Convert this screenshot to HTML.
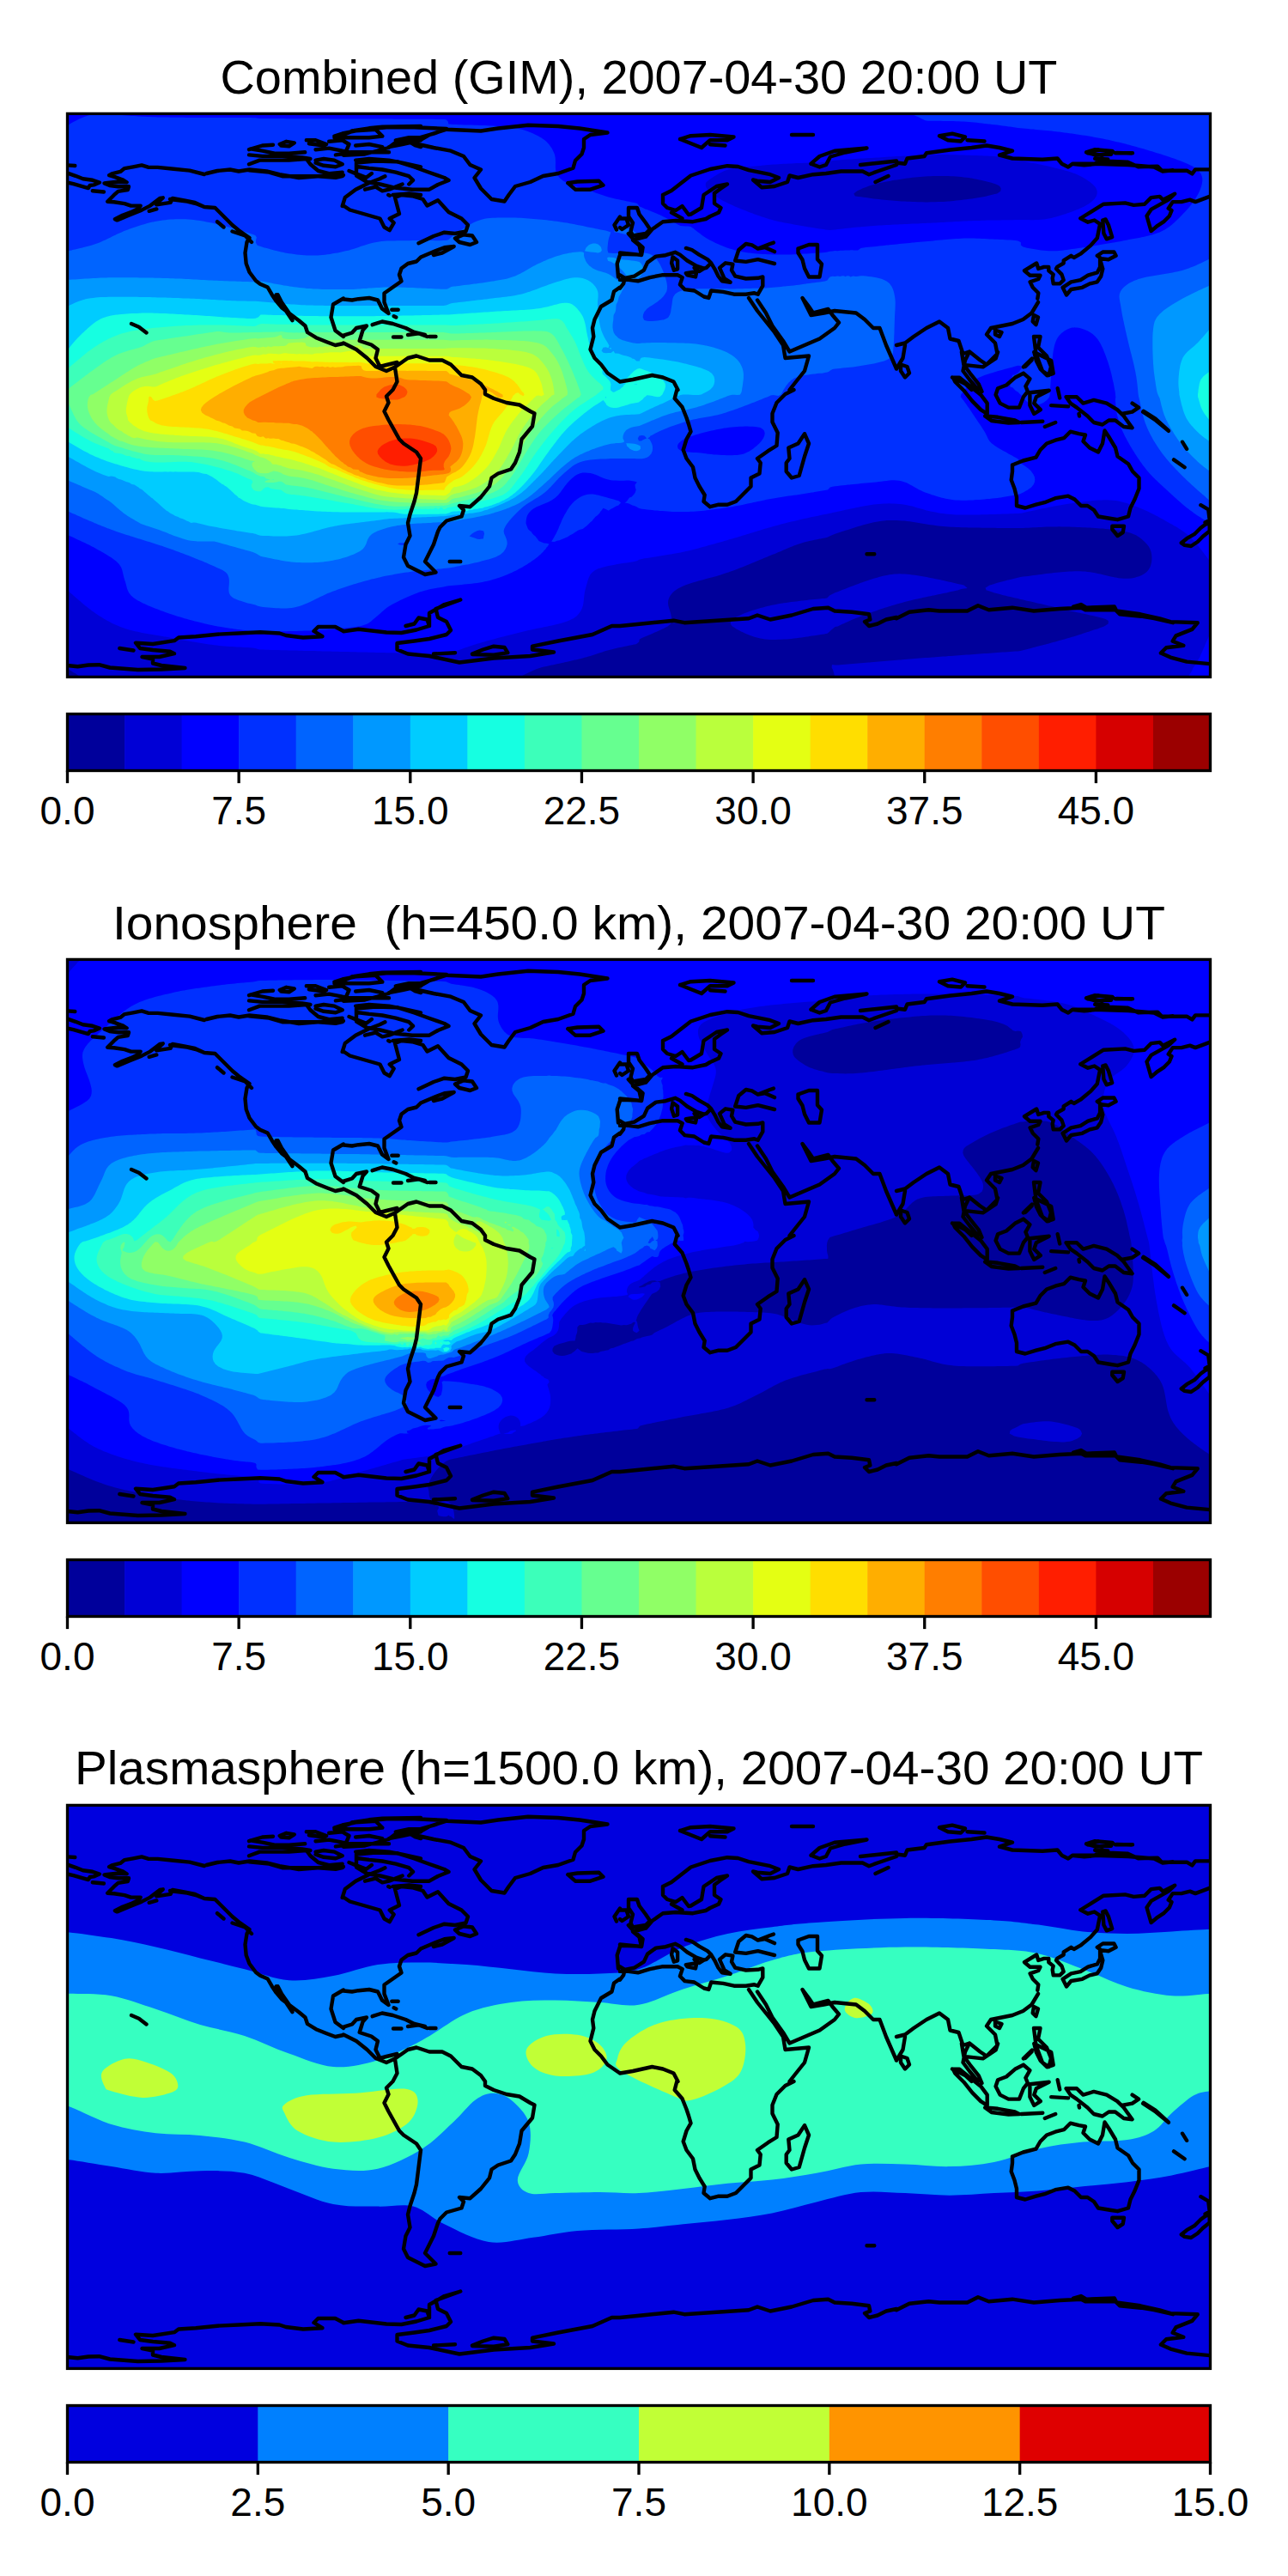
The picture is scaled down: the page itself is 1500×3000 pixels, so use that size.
<!DOCTYPE html><html><head><meta charset="utf-8"><style>html,body{margin:0;padding:0;background:#fff;}svg{display:block;}text{font-family:"Liberation Sans",sans-serif;fill:#000;}</style></head><body>
<svg xmlns="http://www.w3.org/2000/svg" width="1500" height="3000" viewBox="0 0 1500 3000">
<rect width="1500" height="3000" fill="#fff"/>
<defs><clipPath id="clip0"><rect x="78.5" y="132.4" width="1331.0" height="656.0"/></clipPath></defs>
<g clip-path="url(#clip0)">
<rect x="78.5" y="132.4" width="1331.0" height="656.0" fill="#0000ff"/>
<g transform="translate(78.5,132.4)"><rect x="-6" y="-6" width="1343.0" height="668.0" fill="#00009b"/><path d="M-6.0,-6.0L-3.0,-6.0L0.0,-6.0L3.0,-6.0L6.0,-6.0L9.0,-6.0L12.0,-6.0L15.0,-6.0L18.0,-6.0L21.0,-6.0L24.0,-6.0L27.0,-6.0L30.0,-6.0L33.0,-6.0L36.0,-6.0L39.0,-6.0L42.0,-6.0L45.0,-6.0L48.0,-6.0L51.0,-6.0L54.0,-6.0L57.0,-6.0L60.0,-6.0L63.0,-6.0L66.0,-6.0L69.0,-6.0L72.0,-6.0L75.0,-6.0L78.0,-6.0L81.0,-6.0L84.0,-6.0L87.0,-6.0L90.0,-6.0L93.0,-6.0L96.0,-6.0L99.0,-6.0L102.0,-6.0L105.0,-6.0L108.0,-6.0L111.0,-6.0L114.0,-6.0L117.0,-6.0L120.0,-6.0L123.0,-6.0L126.0,-6.0L129.0,-6.0L132.0,-6.0L135.0,-6.0L138.0,-6.0L141.0,-6.0L144.0,-6.0L147.0,-6.0L150.0,-6.0L153.0,-6.0L156.0,-6.0L159.0,-6.0L162.0,-6.0L165.0,-6.0L168.0,-6.0L171.0,-6.0L174.0,-6.0L177.0,-6.0L180.0,-6.0L183.0,-6.0L186.0,-6.0L189.0,-6.0L192.0,-6.0L195.0,-6.0L198.0,-6.0L201.0,-6.0L204.0,-6.0L207.0,-6.0L210.0,-6.0L213.0,-6.0L216.0,-6.0L219.0,-6.0L222.0,-6.0L225.0,-6.0L228.0,-6.0L231.0,-6.0L234.0,-6.0L237.0,-6.0L240.0,-6.0L243.0,-6.0L246.0,-6.0L249.0,-6.0L252.0,-6.0L255.0,-6.0L258.0,-6.0L261.0,-6.0L264.0,-6.0L267.0,-6.0L270.0,-6.0L273.0,-6.0L276.0,-6.0L279.0,-6.0L282.0,-6.0L285.0,-6.0L288.0,-6.0L291.0,-6.0L294.0,-6.0L297.0,-6.0L300.0,-6.0L303.0,-6.0L306.0,-6.0L309.0,-6.0L312.0,-6.0L315.0,-6.0L318.0,-6.0L321.0,-6.0L324.0,-6.0L327.0,-6.0L330.0,-6.0L333.0,-6.0L336.0,-6.0L339.0,-6.0L342.0,-6.0L345.0,-6.0L348.0,-6.0L351.0,-6.0L354.0,-6.0L357.0,-6.0L360.0,-6.0L363.0,-6.0L366.0,-6.0L369.0,-6.0L372.0,-6.0L375.0,-6.0L378.0,-6.0L381.0,-6.0L384.0,-6.0L387.0,-6.0L390.0,-6.0L393.0,-6.0L396.0,-6.0L399.0,-6.0L402.0,-6.0L405.0,-6.0L408.0,-6.0L411.0,-6.0L414.0,-6.0L417.0,-6.0L420.0,-6.0L423.0,-6.0L426.0,-6.0L429.0,-6.0L432.0,-6.0L435.0,-6.0L438.0,-6.0L441.0,-6.0L444.0,-6.0L447.0,-6.0L450.0,-6.0L453.0,-6.0L456.0,-6.0L459.0,-6.0L462.0,-6.0L465.0,-6.0L468.0,-6.0L471.0,-6.0L474.0,-6.0L477.0,-6.0L480.0,-6.0L483.0,-6.0L486.0,-6.0L489.0,-6.0L492.0,-6.0L495.0,-6.0L498.0,-6.0L501.0,-6.0L504.0,-6.0L507.0,-6.0L510.0,-6.0L513.0,-6.0L516.0,-6.0L519.0,-6.0L522.0,-6.0L525.0,-6.0L528.0,-6.0L531.0,-6.0L534.0,-6.0L537.0,-6.0L540.0,-6.0L543.0,-6.0L546.0,-6.0L549.0,-6.0L552.0,-6.0L555.0,-6.0L558.0,-6.0L561.0,-6.0L564.0,-6.0L567.0,-6.0L570.0,-6.0L573.0,-6.0L576.0,-6.0L579.0,-6.0L582.0,-6.0L585.0,-6.0L588.0,-6.0L591.0,-6.0L594.0,-6.0L597.0,-6.0L600.0,-6.0L603.0,-6.0L606.0,-6.0L609.0,-6.0L612.0,-6.0L615.0,-6.0L618.0,-6.0L621.0,-6.0L624.0,-6.0L627.0,-6.0L630.0,-6.0L633.0,-6.0L636.0,-6.0L639.0,-6.0L642.0,-6.0L645.0,-6.0L648.0,-6.0L651.0,-6.0L654.0,-6.0L657.0,-6.0L660.0,-6.0L663.0,-6.0L666.0,-6.0L669.0,-6.0L672.0,-6.0L675.0,-6.0L678.0,-6.0L681.0,-6.0L684.0,-6.0L687.0,-6.0L690.0,-6.0L693.0,-6.0L696.0,-6.0L699.0,-6.0L702.0,-6.0L705.0,-6.0L708.0,-6.0L711.0,-6.0L714.0,-6.0L717.0,-6.0L720.0,-6.0L723.0,-6.0L726.0,-6.0L729.0,-6.0L732.0,-6.0L735.0,-6.0L738.0,-6.0L741.0,-6.0L744.0,-6.0L747.0,-6.0L750.0,-6.0L753.0,-6.0L756.0,-6.0L759.0,-6.0L762.0,-6.0L765.0,-6.0L768.0,-6.0L771.0,-6.0L774.0,-6.0L777.0,-6.0L780.0,-6.0L783.0,-6.0L786.0,-6.0L789.0,-6.0L792.0,-6.0L795.0,-6.0L798.0,-6.0L801.0,-6.0L804.0,-6.0L807.0,-6.0L810.0,-6.0L813.0,-6.0L816.0,-6.0L819.0,-6.0L822.0,-6.0L825.0,-6.0L828.0,-6.0L831.0,-6.0L834.0,-6.0L837.0,-6.0L840.0,-6.0L843.0,-6.0L846.0,-6.0L849.0,-6.0L852.0,-6.0L855.0,-6.0L858.0,-6.0L861.0,-6.0L864.0,-6.0L867.0,-6.0L870.0,-6.0L873.0,-6.0L876.0,-6.0L879.0,-6.0L882.0,-6.0L885.0,-6.0L888.0,-6.0L891.0,-6.0L894.0,-6.0L897.0,-6.0L900.0,-6.0L903.0,-6.0L906.0,-6.0L909.0,-6.0L912.0,-6.0L915.0,-6.0L918.0,-6.0L921.0,-6.0L924.0,-6.0L927.0,-6.0L930.0,-6.0L933.0,-6.0L936.0,-6.0L939.0,-6.0L942.0,-6.0L945.0,-6.0L948.0,-6.0L951.0,-6.0L954.0,-6.0L957.0,-6.0L960.0,-6.0L963.0,-6.0L966.0,-6.0L969.0,-6.0L972.0,-6.0L975.0,-6.0L978.0,-6.0L981.0,-6.0L984.0,-6.0L987.0,-6.0L990.0,-6.0L993.0,-6.0L996.0,-6.0L999.0,-6.0L1002.0,-6.0L1005.0,-6.0L1008.0,-6.0L1011.0,-6.0L1014.0,-6.0L1017.0,-6.0L1020.0,-6.0L1023.0,-6.0L1026.0,-6.0L1029.0,-6.0L1032.0,-6.0L1035.0,-6.0L1038.0,-6.0L1041.0,-6.0L1044.0,-6.0L1047.0,-6.0L1050.0,-6.0L1053.0,-6.0L1056.0,-6.0L1059.0,-6.0L1062.0,-6.0L1065.0,-6.0L1068.0,-6.0L1071.0,-6.0L1074.0,-6.0L1077.0,-6.0L1080.0,-6.0L1083.0,-6.0L1086.0,-6.0L1089.0,-6.0L1092.0,-6.0L1095.0,-6.0L1098.0,-6.0L1101.0,-6.0L1104.0,-6.0L1107.0,-6.0L1110.0,-6.0L1113.0,-6.0L1116.0,-6.0L1119.0,-6.0L1122.0,-6.0L1125.0,-6.0L1128.0,-6.0L1131.0,-6.0L1134.0,-6.0L1137.0,-6.0L1140.0,-6.0L1143.0,-6.0L1146.0,-6.0L1149.0,-6.0L1152.0,-6.0L1155.0,-6.0L1158.0,-6.0L1161.0,-6.0L1164.0,-6.0L1167.0,-6.0L1170.0,-6.0L1173.0,-6.0L1176.0,-6.0L1179.0,-6.0L1182.0,-6.0L1185.0,-6.0L1188.0,-6.0L1191.0,-6.0L1194.0,-6.0L1197.0,-6.0L1200.0,-6.0L1203.0,-6.0L1206.0,-6.0L1209.0,-6.0L1212.0,-6.0L1215.0,-6.0L1218.0,-6.0L1221.0,-6.0L1224.0,-6.0L1227.0,-6.0L1230.0,-6.0L1233.0,-6.0L1236.0,-6.0L1239.0,-6.0L1242.0,-6.0L1245.0,-6.0L1248.0,-6.0L1251.0,-6.0L1254.0,-6.0L1257.0,-6.0L1260.0,-6.0L1263.0,-6.0L1266.0,-6.0L1269.0,-6.0L1272.0,-6.0L1275.0,-6.0L1278.0,-6.0L1281.0,-6.0L1284.0,-6.0L1287.0,-6.0L1290.0,-6.0L1293.0,-6.0L1296.0,-6.0L1299.0,-6.0L1302.0,-6.0L1305.0,-6.0L1308.0,-6.0L1311.0,-6.0L1314.0,-6.0L1317.0,-6.0L1320.0,-6.0L1323.0,-6.0L1326.0,-6.0L1329.0,-6.0L1332.0,-6.0L1335.0,-6.0L1338.0,-6.0L1338.0,-3.0L1338.0,0.0L1338.0,3.0L1338.0,6.0L1338.0,9.0L1338.0,12.0L1338.0,15.0L1338.0,18.0L1338.0,21.0L1338.0,24.0L1338.0,27.0L1338.0,30.0L1338.0,33.0L1338.0,36.0L1338.0,39.0L1338.0,42.0L1338.0,45.0L1338.0,48.0L1338.0,51.0L1338.0,54.0L1338.0,57.0L1338.0,60.0L1338.0,63.0L1338.0,66.0L1338.0,69.0L1338.0,72.0L1338.0,75.0L1338.0,78.0L1338.0,81.0L1338.0,84.0L1338.0,87.0L1338.0,90.0L1338.0,93.0L1338.0,96.0L1338.0,99.0L1338.0,102.0L1338.0,105.0L1338.0,108.0L1338.0,111.0L1338.0,114.0L1338.0,117.0L1338.0,120.0L1338.0,123.0L1338.0,126.0L1338.0,129.0L1338.0,132.0L1338.0,135.0L1338.0,138.0L1338.0,141.0L1338.0,144.0L1338.0,147.0L1338.0,150.0L1338.0,153.0L1338.0,156.0L1338.0,159.0L1338.0,162.0L1338.0,165.0L1338.0,168.0L1338.0,171.0L1338.0,174.0L1338.0,177.0L1338.0,180.0L1338.0,183.0L1338.0,186.0L1338.0,189.0L1338.0,192.0L1338.0,195.0L1338.0,198.0L1338.0,201.0L1338.0,204.0L1338.0,207.0L1338.0,210.0L1338.0,213.0L1338.0,216.0L1338.0,219.0L1338.0,222.0L1338.0,225.0L1338.0,228.0L1338.0,231.0L1338.0,234.0L1338.0,237.0L1338.0,240.0L1338.0,243.0L1338.0,246.0L1338.0,249.0L1338.0,252.0L1338.0,255.0L1338.0,258.0L1338.0,261.0L1338.0,264.0L1338.0,267.0L1338.0,270.0L1338.0,273.0L1338.0,276.0L1338.0,279.0L1338.0,282.0L1338.0,285.0L1338.0,288.0L1338.0,291.0L1338.0,294.0L1338.0,297.0L1338.0,300.0L1338.0,303.0L1338.0,306.0L1338.0,309.0L1338.0,312.0L1338.0,315.0L1338.0,318.0L1338.0,321.0L1338.0,324.0L1338.0,327.0L1338.0,330.0L1338.0,333.0L1338.0,336.0L1338.0,339.0L1338.0,342.0L1338.0,345.0L1338.0,348.0L1338.0,351.0L1338.0,354.0L1338.0,357.0L1338.0,360.0L1338.0,363.0L1338.0,366.0L1338.0,369.0L1338.0,372.0L1338.0,375.0L1338.0,378.0L1338.0,381.0L1338.0,384.0L1338.0,387.0L1338.0,390.0L1338.0,393.0L1338.0,396.0L1338.0,399.0L1338.0,402.0L1338.0,405.0L1338.0,408.0L1338.0,411.0L1338.0,414.0L1338.0,417.0L1338.0,420.0L1338.0,423.0L1338.0,426.0L1338.0,429.0L1338.0,432.0L1338.0,435.0L1338.0,438.0L1338.0,441.0L1338.0,444.0L1338.0,447.0L1338.0,450.0L1338.0,453.0L1338.0,456.0L1338.0,459.0L1338.0,462.0L1338.0,465.0L1338.0,468.0L1338.0,471.0L1338.0,474.0L1338.0,477.0L1338.0,480.0L1338.0,483.0L1338.0,486.0L1338.0,489.0L1338.0,492.0L1338.0,495.0L1338.0,498.0L1338.0,501.0L1338.0,504.0L1338.0,507.0L1338.0,510.0L1338.0,513.0L1338.0,516.0L1338.0,519.0L1338.0,522.0L1338.0,525.0L1338.0,528.0L1338.0,531.0L1338.0,534.0L1338.0,537.0L1338.0,540.0L1338.0,543.0L1338.0,546.0L1338.0,549.0L1338.0,552.0L1338.0,555.0L1338.0,558.0L1338.0,561.0L1338.0,564.0L1338.0,567.0L1338.0,570.0L1338.0,573.0L1338.0,576.0L1338.0,579.0L1338.0,582.0L1338.0,585.0L1338.0,588.0L1338.0,591.0L1338.0,594.0L1338.0,597.0L1338.0,600.0L1338.0,603.0L1338.0,606.0L1338.0,609.0L1338.0,612.0L1338.0,615.0L1338.0,618.0L1338.0,621.0L1338.0,624.0L1338.0,627.0L1338.0,630.0L1338.0,633.0L1338.0,636.0L1338.0,639.0L1338.0,642.0L1338.0,645.0L1338.0,648.0L1338.0,651.0L1338.0,654.0L1338.0,657.0L1338.0,660.0L1338.0,663.0L1335.0,663.0L1332.0,663.0L1329.0,663.0L1326.0,663.0L1323.0,663.0L1320.0,663.0L1317.0,663.0L1314.0,663.0L1311.0,663.0L1308.0,663.0L1305.0,663.0L1302.0,663.0L1299.0,663.0L1296.0,663.0L1293.0,663.0L1290.0,663.0L1287.0,663.0L1284.0,663.0L1281.0,663.0L1278.0,663.0L1275.0,663.0L1272.0,663.0L1269.0,663.0L1266.0,663.0L1263.0,663.0L1260.0,663.0L1257.0,663.0L1254.0,663.0L1251.0,663.0L1248.0,663.0L1245.0,663.0L1242.0,663.0L1239.0,663.0L1236.0,663.0L1233.0,663.0L1230.0,663.0L1227.0,663.0L1224.0,663.0L1221.0,663.0L1218.0,663.0L1215.0,663.0L1212.0,663.0L1209.0,663.0L1206.0,663.0L1203.0,663.0L1200.0,663.0L1197.0,663.0L1194.0,663.0L1191.0,663.0L1188.0,663.0L1185.0,663.0L1182.0,663.0L1179.0,663.0L1176.0,663.0L1173.0,663.0L1170.0,663.0L1167.0,663.0L1164.0,663.0L1161.0,663.0L1158.0,663.0L1155.0,663.0L1152.0,663.0L1149.0,663.0L1146.0,663.0L1143.0,663.0L1140.0,663.0L1137.0,663.0L1134.0,663.0L1131.0,663.0L1128.0,663.0L1125.0,663.0L1122.0,663.0L1119.0,663.0L1116.0,663.0L1113.0,663.0L1110.0,663.0L1107.0,663.0L1104.0,663.0L1101.0,663.0L1098.0,663.0L1095.0,663.0L1092.0,663.0L1089.0,663.0L1086.0,663.0L1083.0,663.0L1080.0,663.0L1077.0,663.0L1074.0,663.0L1071.0,663.0L1068.0,663.0L1065.0,663.0L1062.0,663.0L1059.0,663.0L1056.0,663.0L1053.0,663.0L1050.0,663.0L1047.0,663.0L1044.0,663.0L1041.0,663.0L1038.0,663.0L1035.0,663.0L1032.0,663.0L1029.0,663.0L1026.0,663.0L1023.0,663.0L1020.0,663.0L1017.0,663.0L1014.0,663.0L1011.0,663.0L1008.0,663.0L1005.0,663.0L1002.0,663.0L999.0,663.0L996.0,663.0L993.0,663.0L990.0,663.0L987.0,663.0L984.0,663.0L981.0,663.0L978.0,663.0L975.0,663.0L972.0,663.0L969.0,663.0L966.0,663.0L963.0,663.0L960.0,663.0L957.0,663.0L954.0,663.0L951.0,663.0L948.0,663.0L945.0,663.0L942.0,663.0L939.0,663.0L936.0,663.0L933.0,663.0L930.0,663.0L927.0,663.0L924.0,663.0L921.0,663.0L918.0,663.0L915.0,663.0L912.0,663.0L909.0,663.0L906.0,663.0L903.0,663.0L900.0,663.0L897.0,663.0L894.0,663.0L893.6,663.0L893.7,660.0L893.6,657.0L893.3,654.0L892.6,651.0L891.6,648.0L891.0,646.7L890.1,645.0L890.4,642.0L891.0,641.6L893.9,642.0L894.0,642.0L897.0,642.1L898.1,642.0L900.0,641.9L903.0,641.6L906.0,641.4L909.0,641.1L912.0,640.8L915.0,640.6L918.0,640.3L921.0,640.1L924.0,639.9L927.0,639.6L930.0,639.4L933.0,639.1L934.5,639.0L936.0,638.9L939.0,638.6L942.0,638.4L945.0,638.1L948.0,637.8L951.0,637.6L954.0,637.3L957.0,637.1L960.0,636.9L963.0,636.6L966.0,636.4L969.0,636.1L970.6,636.0L972.0,635.9L975.0,635.6L978.0,635.4L981.0,635.1L984.0,634.9L987.0,634.6L990.0,634.4L993.0,634.2L996.0,633.9L999.0,633.7L1002.0,633.5L1005.0,633.3L1008.0,633.1L1009.3,633.0L1011.0,632.9L1014.0,632.6L1017.0,632.4L1020.0,632.2L1023.0,632.0L1026.0,631.7L1029.0,631.5L1032.0,631.3L1035.0,631.1L1038.0,630.9L1041.0,630.7L1044.0,630.4L1047.0,630.2L1050.0,630.0L1050.3,630.0L1053.0,629.8L1056.0,629.6L1059.0,629.4L1062.0,629.1L1065.0,628.9L1068.0,628.7L1071.0,628.5L1074.0,628.3L1077.0,628.1L1080.0,627.8L1083.0,627.6L1086.0,627.4L1089.0,627.2L1092.0,627.0L1092.3,627.0L1095.0,626.8L1098.0,626.6L1101.0,626.4L1104.0,626.2L1107.0,626.0L1110.0,625.6L1113.0,624.9L1116.0,624.0L1116.2,624.0L1119.0,623.3L1122.0,622.5L1125.0,621.7L1127.7,621.0L1128.0,620.9L1131.0,620.2L1134.0,619.4L1137.0,618.6L1139.2,618.0L1140.0,617.8L1143.0,617.0L1146.0,616.2L1149.0,615.4L1150.4,615.0L1152.0,614.6L1155.0,613.7L1158.0,612.9L1161.0,612.0L1161.2,612.0L1164.0,611.2L1167.0,610.3L1170.0,609.4L1171.5,609.0L1173.0,608.5L1176.0,607.5L1179.0,606.6L1181.0,606.0L1182.0,605.6L1185.0,604.6L1188.0,603.7L1190.4,603.0L1191.0,602.7L1194.0,601.7L1197.0,600.7L1199.6,600.0L1200.0,599.8L1203.0,598.6L1206.0,597.5L1207.3,597.0L1209.0,596.0L1212.0,594.1L1212.1,594.0L1212.4,591.0L1212.0,590.4L1209.0,588.6L1207.4,588.0L1206.0,587.6L1203.0,586.8L1200.0,586.0L1197.0,585.3L1196.1,585.0L1194.0,584.6L1191.0,584.0L1188.0,583.3L1185.0,582.7L1182.0,582.0L1181.9,582.0L1179.0,581.4L1176.0,580.8L1173.0,580.2L1170.0,579.6L1167.6,579.0L1167.0,578.9L1164.0,578.2L1161.0,577.4L1158.0,576.7L1155.1,576.0L1155.0,576.0L1152.0,575.2L1149.0,574.4L1146.0,573.7L1143.0,573.1L1142.6,573.0L1140.0,572.3L1137.0,571.6L1134.0,570.9L1131.0,570.3L1129.5,570.0L1128.0,569.6L1125.0,568.9L1122.0,568.2L1119.0,567.5L1116.3,567.0L1116.0,566.9L1113.0,566.2L1110.0,565.5L1107.0,564.7L1104.0,564.0L1103.9,564.0L1101.0,563.4L1098.0,562.7L1095.0,562.0L1092.0,561.2L1091.1,561.0L1089.0,560.5L1086.0,559.7L1083.0,558.9L1080.0,558.1L1079.6,558.0L1077.0,557.2L1074.0,556.1L1071.0,555.2L1070.2,555.0L1069.1,552.0L1071.0,551.1L1074.0,549.1L1074.2,549.0L1077.0,548.3L1080.0,547.4L1083.0,546.4L1083.9,546.0L1086.0,545.5L1089.0,544.8L1092.0,544.1L1095.0,543.2L1095.7,543.0L1098.0,542.5L1101.0,541.9L1104.0,541.1L1107.0,540.3L1108.0,540.0L1110.0,539.6L1113.0,539.2L1116.0,538.9L1119.0,538.5L1122.0,538.1L1125.0,537.7L1128.0,537.3L1129.8,537.0L1131.0,536.9L1134.0,536.5L1137.0,536.1L1140.0,535.7L1143.0,535.4L1146.0,535.0L1149.0,534.7L1152.0,534.4L1155.0,534.0L1155.3,534.0L1158.0,533.8L1161.0,533.5L1164.0,533.3L1167.0,533.1L1170.0,533.0L1173.0,532.9L1176.0,532.8L1179.0,532.8L1182.0,533.0L1185.0,533.2L1188.0,533.5L1191.0,533.8L1192.3,534.0L1194.0,534.3L1197.0,534.9L1200.0,535.5L1203.0,536.2L1206.0,536.8L1206.9,537.0L1209.0,537.5L1212.0,538.3L1215.0,539.0L1218.0,539.6L1220.0,540.0L1221.0,540.2L1224.0,540.8L1227.0,541.2L1230.0,541.4L1233.0,541.4L1236.0,541.3L1239.0,541.0L1242.0,540.5L1243.9,540.0L1245.0,539.7L1248.0,538.8L1251.0,537.5L1251.9,537.0L1254.0,535.8L1256.4,534.0L1257.0,533.5L1259.1,531.0L1260.0,529.7L1260.9,528.0L1261.9,525.0L1262.6,522.0L1262.9,519.0L1262.9,516.0L1262.6,513.0L1262.0,510.0L1260.9,507.0L1260.0,505.3L1259.3,504.0L1257.0,501.1L1256.9,501.0L1254.0,498.0L1254.0,498.0L1251.0,495.3L1250.6,495.0L1248.0,493.1L1246.3,492.0L1245.0,491.2L1242.0,489.8L1240.2,489.0L1239.0,488.6L1236.0,487.7L1233.0,486.9L1230.0,486.2L1229.2,486.0L1227.0,485.6L1224.0,485.2L1221.0,484.8L1218.0,484.5L1215.0,484.1L1212.0,483.8L1209.0,483.5L1206.0,483.2L1203.0,483.0L1202.9,483.0L1200.0,482.8L1197.0,482.6L1194.0,482.4L1191.0,482.2L1188.0,482.1L1185.0,481.9L1182.0,481.8L1179.0,481.6L1176.0,481.5L1173.0,481.4L1170.0,481.3L1167.0,481.2L1164.0,481.1L1161.0,481.0L1158.0,481.0L1155.0,480.9L1152.0,481.0L1149.0,481.0L1146.0,481.0L1143.0,481.1L1140.0,481.2L1137.0,481.3L1134.0,481.5L1131.0,481.6L1128.0,481.8L1125.0,481.9L1122.0,482.1L1119.0,482.3L1116.0,482.4L1113.0,482.6L1110.0,482.7L1107.0,482.7L1104.0,482.7L1101.0,482.6L1098.0,482.6L1095.0,482.6L1092.0,482.6L1089.0,482.5L1086.0,482.5L1083.0,482.5L1080.0,482.4L1077.0,482.4L1074.0,482.4L1071.0,482.3L1068.0,482.3L1065.0,482.3L1062.0,482.2L1059.0,482.2L1056.0,482.1L1053.0,482.1L1050.0,482.0L1047.0,481.9L1044.0,481.8L1041.0,481.8L1038.0,481.7L1035.0,481.5L1032.0,481.4L1029.0,481.3L1026.0,481.1L1023.0,480.9L1020.0,480.6L1017.0,480.3L1014.2,480.0L1014.0,480.0L1011.0,479.6L1008.0,479.2L1005.0,478.8L1002.0,478.3L999.0,477.8L996.0,477.3L994.4,477.0L993.0,476.8L990.0,476.3L987.0,475.8L984.0,475.3L981.0,474.9L978.0,474.5L975.0,474.2L972.1,474.0L972.0,474.0L969.0,473.8L966.0,473.7L963.0,473.6L960.0,473.5L957.0,473.6L954.0,473.7L951.0,474.0L950.6,474.0L948.0,474.3L945.0,474.8L942.0,475.3L939.0,475.9L936.0,476.6L934.1,477.0L933.0,477.3L930.0,478.1L927.0,478.9L924.0,479.8L923.2,480.0L921.0,480.7L918.0,481.6L915.0,482.5L913.4,483.0L912.0,483.5L909.0,484.5L906.0,485.4L904.0,486.0L903.0,486.4L900.0,487.4L897.0,488.4L894.8,489.0L894.0,489.3L891.0,490.5L888.0,491.8L887.6,492.0L885.0,493.4L882.0,494.2L879.0,494.7L877.1,495.0L876.0,495.2L873.0,495.8L870.0,496.4L867.0,497.0L864.0,497.6L862.4,498.0L861.0,498.4L858.0,499.2L855.0,500.1L852.0,501.0L851.9,501.0L849.0,502.1L846.0,503.2L843.9,504.0L843.0,504.4L840.0,505.7L837.0,506.9L836.7,507.0L834.0,508.2L831.0,509.5L829.7,510.0L828.0,510.7L825.0,512.0L822.5,513.0L822.0,513.2L819.0,514.4L816.0,515.6L815.1,516.0L813.0,516.9L810.0,518.1L807.9,519.0L807.0,519.4L804.0,520.6L801.0,521.8L800.6,522.0L798.0,523.1L795.0,524.3L793.4,525.0L792.0,525.5L789.0,526.8L786.0,528.0L785.9,528.0L783.0,529.1L780.0,530.3L778.2,531.0L777.0,531.5L774.0,532.6L771.0,533.7L770.1,534.0L768.0,534.7L765.0,535.7L762.0,536.7L760.9,537.0L759.0,537.6L756.0,538.5L753.0,539.3L750.3,540.0L750.0,540.1L747.0,540.9L744.0,541.7L741.0,542.5L739.1,543.0L738.0,543.3L735.0,544.2L732.0,545.0L729.0,545.8L728.3,546.0L726.0,546.8L723.0,547.8L720.0,548.8L719.5,549.0L717.0,550.1L714.0,551.5L713.0,552.0L711.0,553.2L708.1,555.0L708.0,555.1L705.0,557.6L704.6,558.0L702.2,561.0L702.0,561.3L700.6,564.0L699.7,567.0L699.5,570.0L699.9,573.0L700.7,576.0L701.7,579.0L702.0,580.0L702.6,582.0L703.2,585.0L703.8,588.0L703.9,591.0L702.6,594.0L702.0,594.6L699.1,597.0L699.0,597.1L696.0,598.7L693.5,600.0L693.0,600.2L690.0,601.6L687.0,602.9L686.9,603.0L684.0,604.2L681.0,605.5L679.8,606.0L678.0,606.8L675.0,608.0L672.5,609.0L672.0,609.3L669.0,610.7L666.3,612.0L666.0,613.3L665.8,615.0L663.0,617.4L661.4,618.0L660.0,618.2L657.0,618.8L654.0,619.4L651.0,620.0L648.0,620.6L646.4,621.0L645.0,621.3L642.0,621.9L639.0,622.6L636.0,623.3L633.3,624.0L633.0,624.1L630.0,624.9L627.0,625.7L624.0,626.7L623.0,627.0L621.0,627.6L618.0,628.6L615.0,629.6L613.6,630.0L612.0,630.5L609.0,631.5L606.0,632.4L603.8,633.0L603.0,633.2L600.0,634.0L597.0,634.8L594.0,635.5L592.0,636.0L591.0,636.2L588.0,636.9L585.0,637.6L582.0,638.3L579.0,638.9L578.8,639.0L576.0,639.6L573.0,640.3L570.0,640.9L567.0,641.5L564.8,642.0L564.0,642.2L561.0,642.8L558.0,643.5L555.0,644.1L552.0,644.8L551.3,645.0L549.0,645.8L546.0,646.9L543.3,648.0L543.0,648.1L540.0,649.5L537.0,650.9L536.8,651.0L534.0,652.4L531.0,653.8L530.6,654.0L528.0,655.3L525.0,655.8L522.0,656.4L520.5,657.0L519.0,657.7L516.0,658.8L513.0,660.0L512.9,660.0L510.0,661.1L507.0,662.2L504.9,663.0L504.0,663.0L501.0,663.0L498.0,663.0L495.0,663.0L492.0,663.0L489.0,663.0L486.0,663.0L483.0,663.0L480.0,663.0L477.0,663.0L474.0,663.0L471.0,663.0L468.0,663.0L465.0,663.0L462.0,663.0L459.0,663.0L456.0,663.0L453.0,663.0L450.0,663.0L447.0,663.0L444.0,663.0L441.0,663.0L438.0,663.0L435.0,663.0L432.0,663.0L429.0,663.0L426.0,663.0L423.0,663.0L420.0,663.0L417.0,663.0L414.0,663.0L411.0,663.0L408.0,663.0L405.0,663.0L402.0,663.0L399.0,663.0L396.0,663.0L393.0,663.0L390.0,663.0L387.0,663.0L384.0,663.0L381.0,663.0L378.0,663.0L375.0,663.0L372.0,663.0L369.0,663.0L366.0,663.0L363.3,663.0L363.0,662.9L360.0,662.4L357.0,661.9L354.0,661.4L351.0,661.0L348.0,661.0L345.0,660.5L342.0,660.1L341.3,660.0L339.0,659.7L336.0,659.4L333.0,659.1L330.0,658.7L327.0,658.5L324.0,658.2L321.0,657.9L318.0,657.7L315.0,657.6L312.0,657.4L309.0,657.3L306.0,657.2L303.0,657.1L300.0,657.0L298.5,657.0L297.0,657.0L294.0,657.0L291.0,657.0L288.0,657.0L285.0,657.0L282.0,656.9L281.9,657.0L279.0,658.4L276.0,658.4L273.0,658.5L270.0,658.5L267.0,658.6L264.0,658.6L261.0,658.6L258.0,658.6L255.0,658.5L252.0,658.6L249.0,658.5L246.0,658.5L243.0,658.6L240.0,658.6L237.0,658.7L234.0,658.8L231.0,658.9L228.0,659.0L225.0,659.1L222.0,659.2L219.0,659.3L216.0,659.5L213.0,659.6L210.0,659.8L207.1,660.0L207.0,660.0L204.0,660.3L201.0,660.6L198.0,661.0L195.0,661.5L192.0,662.1L189.0,662.8L188.2,663.0L186.0,663.0L183.0,663.0L180.0,663.0L177.0,663.0L174.0,663.0L171.0,663.0L168.0,663.0L165.0,663.0L162.0,663.0L159.0,663.0L156.0,663.0L153.0,663.0L150.0,663.0L147.0,663.0L144.0,663.0L141.0,663.0L138.0,663.0L135.0,663.0L132.0,663.0L129.0,663.0L126.0,663.0L123.0,663.0L120.0,663.0L117.0,663.0L114.0,663.0L111.0,663.0L108.0,663.0L105.0,663.0L102.0,663.0L99.0,663.0L96.0,663.0L93.0,663.0L90.0,663.0L87.0,663.0L84.0,663.0L81.0,663.0L78.0,663.0L75.0,663.0L72.0,663.0L69.0,663.0L66.0,663.0L63.0,663.0L60.0,663.0L57.0,663.0L54.0,663.0L51.0,663.0L48.0,663.0L45.0,663.0L42.0,663.0L39.0,663.0L36.0,663.0L33.0,663.0L30.0,663.0L27.0,663.0L24.0,663.0L23.6,663.0L21.8,660.0L21.0,658.8L18.0,657.4L17.4,657.0L15.0,655.6L12.3,654.0L12.0,653.8L9.0,651.7L7.5,651.0L6.0,650.2L3.0,648.2L2.7,648.0L0.0,646.0L-2.1,645.0L-3.0,644.6L-6.0,642.3L-6.0,642.0L-6.0,639.0L-6.0,636.0L-6.0,633.0L-6.0,630.0L-6.0,627.0L-6.0,624.0L-6.0,621.0L-6.0,618.0L-6.0,615.0L-6.0,612.0L-6.0,609.0L-6.0,606.0L-6.0,603.0L-6.0,600.0L-6.0,597.0L-6.0,594.0L-6.0,591.0L-6.0,588.0L-6.0,585.0L-6.0,582.0L-6.0,579.0L-6.0,576.0L-6.0,573.0L-6.0,570.0L-6.0,567.0L-6.0,564.0L-6.0,561.0L-6.0,558.0L-6.0,555.0L-6.0,552.0L-6.0,549.0L-6.0,546.0L-6.0,543.0L-6.0,540.0L-6.0,537.0L-6.0,534.0L-6.0,531.0L-6.0,528.0L-6.0,525.0L-6.0,522.0L-6.0,519.0L-6.0,516.0L-6.0,513.0L-6.0,510.0L-6.0,507.0L-6.0,504.0L-6.0,501.0L-6.0,498.0L-6.0,495.0L-6.0,492.0L-6.0,489.0L-6.0,486.0L-6.0,483.0L-6.0,480.0L-6.0,477.0L-6.0,474.0L-6.0,471.0L-6.0,468.0L-6.0,465.0L-6.0,462.0L-6.0,459.0L-6.0,456.0L-6.0,453.0L-6.0,450.0L-6.0,447.0L-6.0,444.0L-6.0,441.0L-6.0,438.0L-6.0,435.0L-6.0,432.0L-6.0,429.0L-6.0,426.0L-6.0,423.0L-6.0,420.0L-6.0,417.0L-6.0,414.0L-6.0,411.0L-6.0,408.0L-6.0,405.0L-6.0,402.0L-6.0,399.0L-6.0,396.0L-6.0,393.0L-6.0,390.0L-6.0,387.0L-6.0,384.0L-6.0,381.0L-6.0,378.0L-6.0,375.0L-6.0,372.0L-6.0,369.0L-6.0,366.0L-6.0,363.0L-6.0,360.0L-6.0,357.0L-6.0,354.0L-6.0,351.0L-6.0,348.0L-6.0,345.0L-6.0,342.0L-6.0,339.0L-6.0,336.0L-6.0,333.0L-6.0,330.0L-6.0,327.0L-6.0,324.0L-6.0,321.0L-6.0,318.0L-6.0,315.0L-6.0,312.0L-6.0,309.0L-6.0,306.0L-6.0,303.0L-6.0,300.0L-6.0,297.0L-6.0,294.0L-6.0,291.0L-6.0,288.0L-6.0,285.0L-6.0,282.0L-6.0,279.0L-6.0,276.0L-6.0,273.0L-6.0,270.0L-6.0,267.0L-6.0,264.0L-6.0,261.0L-6.0,258.0L-6.0,255.0L-6.0,252.0L-6.0,249.0L-6.0,246.0L-6.0,243.0L-6.0,240.0L-6.0,237.0L-6.0,234.0L-6.0,231.0L-6.0,228.0L-6.0,225.0L-6.0,222.0L-6.0,219.0L-6.0,216.0L-6.0,213.0L-6.0,210.0L-6.0,207.0L-6.0,204.0L-6.0,201.0L-6.0,198.0L-6.0,195.0L-6.0,192.0L-6.0,189.0L-6.0,186.0L-6.0,183.0L-6.0,180.0L-6.0,177.0L-6.0,174.0L-6.0,171.0L-6.0,168.0L-6.0,165.0L-6.0,162.0L-6.0,159.0L-6.0,156.0L-6.0,153.0L-6.0,150.0L-6.0,147.0L-6.0,144.0L-6.0,141.0L-6.0,138.0L-6.0,135.0L-6.0,132.0L-6.0,129.0L-6.0,126.0L-6.0,123.0L-6.0,120.0L-6.0,117.0L-6.0,114.0L-6.0,111.0L-6.0,108.0L-6.0,105.0L-6.0,102.0L-6.0,99.0L-6.0,96.0L-6.0,93.0L-6.0,90.0L-6.0,87.0L-6.0,84.0L-6.0,81.0L-6.0,78.0L-6.0,75.0L-6.0,72.0L-6.0,69.0L-6.0,66.0L-6.0,63.0L-6.0,60.0L-6.0,57.0L-6.0,54.0L-6.0,51.0L-6.0,48.0L-6.0,45.0L-6.0,42.0L-6.0,39.0L-6.0,36.0L-6.0,33.0L-6.0,30.0L-6.0,27.0L-6.0,24.0L-6.0,21.0L-6.0,18.0L-6.0,15.0L-6.0,12.0L-6.0,9.0L-6.0,6.0L-6.0,3.0L-6.0,0.0L-6.0,-3.0L-6.0,-6.0ZM981.0,74.8L978.9,75.0L978.0,75.1L975.0,75.6L972.0,76.0L969.0,76.5L966.0,77.0L963.0,77.4L960.0,77.9L959.5,78.0L957.0,78.5L954.0,79.1L951.0,79.7L948.0,80.4L945.0,80.9L944.7,81.0L942.0,81.7L939.0,82.6L936.0,83.4L933.6,84.0L933.0,84.3L930.0,85.5L927.0,86.5L925.7,87.0L924.0,88.0L921.0,89.4L919.6,90.0L918.0,91.3L915.8,93.0L917.4,96.0L918.0,96.2L921.0,96.6L924.0,96.9L927.0,97.3L930.0,97.7L933.0,98.1L936.0,98.5L939.0,99.0L939.0,99.0L942.0,99.3L945.0,99.7L948.0,100.0L951.0,100.3L954.0,100.6L957.0,100.9L960.0,101.2L963.0,101.4L966.0,101.7L969.0,101.9L970.9,102.0L972.0,102.1L975.0,102.2L978.0,102.3L981.0,102.4L984.0,102.6L987.0,102.7L990.0,102.8L993.0,102.8L996.0,102.9L999.0,103.0L1002.0,103.0L1005.0,102.9L1008.0,102.9L1011.0,102.8L1014.0,102.7L1017.0,102.6L1020.0,102.5L1023.0,102.3L1026.0,102.1L1027.3,102.0L1029.0,101.8L1032.0,101.5L1035.0,101.2L1038.0,100.9L1041.0,100.5L1044.0,100.2L1047.0,99.8L1050.0,99.4L1053.0,99.0L1053.4,99.0L1056.0,98.6L1059.0,98.1L1062.0,97.5L1065.0,97.0L1068.0,96.5L1070.6,96.0L1071.0,95.9L1074.0,95.1L1077.0,94.3L1080.0,93.7L1082.7,93.0L1083.0,92.9L1086.0,90.9L1086.8,90.0L1087.2,87.0L1086.0,84.8L1085.3,84.0L1083.0,82.9L1080.0,81.7L1078.0,81.0L1077.0,80.7L1074.0,79.9L1071.0,79.1L1068.0,78.3L1066.9,78.0L1065.0,77.6L1062.0,77.0L1059.0,76.4L1056.0,75.8L1053.0,75.2L1051.8,75.0L1050.0,74.7L1047.0,74.3L1044.0,74.0L1041.0,73.6L1038.0,73.4L1035.0,73.1L1032.0,72.9L1029.0,72.8L1026.0,72.7L1023.0,72.6L1020.0,72.6L1017.0,72.6L1014.0,72.6L1011.0,72.6L1008.0,72.7L1005.0,72.8L1002.0,72.9L999.0,73.1L996.0,73.3L993.0,73.5L990.0,73.8L987.0,74.1L984.0,74.4L981.0,74.8ZM956.5,537.0L957.0,536.9L960.0,536.5L963.0,536.2L966.0,536.0L969.0,535.9L972.0,536.0L975.0,536.1L978.0,536.4L981.0,536.7L983.6,537.0L984.0,537.1L987.0,537.4L990.0,537.9L993.0,538.4L996.0,538.9L999.0,539.4L1002.0,539.9L1002.4,540.0L1005.0,540.6L1008.0,541.2L1011.0,541.8L1014.0,542.4L1017.0,542.9L1017.4,543.0L1020.0,543.7L1023.0,544.4L1026.0,545.1L1029.0,545.7L1030.9,546.0L1032.0,546.3L1035.0,547.1L1038.0,547.9L1041.0,548.4L1043.9,549.0L1044.0,549.1L1047.0,551.5L1048.1,552.0L1047.0,552.9L1044.0,553.0L1041.0,553.7L1038.0,554.6L1036.8,555.0L1035.0,555.4L1032.0,556.0L1029.0,556.7L1026.0,557.4L1023.6,558.0L1023.0,558.1L1020.0,558.7L1017.0,559.3L1014.0,559.9L1011.0,560.6L1009.1,561.0L1008.0,561.2L1005.0,561.8L1002.0,562.4L999.0,563.0L996.0,563.7L994.7,564.0L993.0,564.3L990.0,565.0L987.0,565.7L984.0,566.4L981.4,567.0L981.0,567.1L978.0,567.9L975.0,568.7L972.0,569.5L969.8,570.0L969.0,570.3L966.0,571.2L963.0,572.0L960.0,572.9L959.6,573.0L957.0,573.8L954.0,574.8L951.0,575.7L950.1,576.0L948.0,576.7L945.0,577.7L942.0,578.8L941.3,579.0L939.0,579.8L936.0,580.9L933.0,582.0L933.0,582.0L930.0,583.1L927.0,584.2L924.8,585.0L924.0,585.3L921.0,586.5L918.0,587.7L917.1,588.0L915.0,588.9L912.0,590.2L910.0,591.0L909.0,591.5L906.0,592.8L903.5,594.0L903.0,594.2L900.0,595.6L897.2,597.0L897.0,597.1L894.0,597.7L891.0,600.0L891.0,600.0L888.0,602.7L887.8,603.0L885.0,605.3L882.0,605.9L881.8,606.0L879.0,606.4L876.0,606.8L873.0,607.3L870.0,607.8L867.0,608.2L864.0,608.7L862.5,609.0L861.0,609.2L858.0,609.6L855.0,610.0L852.0,610.4L849.0,610.8L846.0,611.1L843.0,611.5L840.0,611.8L837.4,612.0L837.0,612.0L834.0,612.2L831.0,612.3L828.0,612.4L825.0,612.5L822.0,612.5L819.0,612.5L816.0,612.3L813.0,612.1L812.6,612.0L810.0,611.6L807.0,611.1L804.0,610.4L801.0,609.5L799.2,609.0L798.0,608.6L795.0,607.5L792.0,606.3L791.2,606.0L789.0,605.0L786.0,603.7L784.5,603.0L783.0,602.2L780.0,600.6L778.9,600.0L777.0,598.7L774.5,597.0L774.0,596.5L772.3,594.0L772.7,591.0L774.0,589.6L775.8,588.0L777.0,587.4L780.0,585.7L781.2,585.0L783.0,584.3L786.0,582.9L787.8,582.0L789.0,581.6L792.0,580.5L795.0,579.3L796.0,579.0L798.0,578.4L801.0,577.5L804.0,576.6L806.0,576.0L807.0,575.7L810.0,575.0L813.0,574.2L816.0,573.4L817.8,573.0L819.0,572.7L822.0,572.1L825.0,571.5L828.0,570.9L831.0,570.4L833.4,570.0L834.0,569.9L837.0,569.5L840.0,569.1L843.0,568.7L846.0,568.3L849.0,568.0L852.0,567.6L855.0,567.2L856.6,567.0L858.0,566.8L861.0,566.5L864.0,566.2L867.0,565.9L870.0,565.6L873.0,565.3L876.0,565.0L879.0,564.6L882.0,564.7L884.5,564.0L885.0,563.9L887.6,561.0L888.0,560.8L891.0,559.3L893.5,558.0L894.0,557.8L897.0,556.8L900.0,555.6L901.2,555.0L903.0,554.4L906.0,553.3L908.9,552.0L909.0,552.0L912.0,550.9L915.0,549.8L916.8,549.0L918.0,548.6L921.0,547.6L924.0,546.4L925.0,546.0L927.0,545.4L930.0,544.4L933.0,543.3L933.7,543.0L936.0,542.3L939.0,541.4L942.0,540.6L943.9,540.0L945.0,539.7L948.0,538.9L951.0,538.2L954.0,537.5L956.5,537.0Z" fill="#0000d6" fill-rule="evenodd"/><path d="M-6.0,-6.0L-3.0,-6.0L0.0,-6.0L3.0,-6.0L6.0,-6.0L9.0,-6.0L12.0,-6.0L15.0,-6.0L18.0,-6.0L21.0,-6.0L24.0,-6.0L27.0,-6.0L30.0,-6.0L33.0,-6.0L36.0,-6.0L39.0,-6.0L42.0,-6.0L45.0,-6.0L48.0,-6.0L51.0,-6.0L54.0,-6.0L57.0,-6.0L60.0,-6.0L63.0,-6.0L66.0,-6.0L69.0,-6.0L72.0,-6.0L75.0,-6.0L78.0,-6.0L81.0,-6.0L84.0,-6.0L87.0,-6.0L90.0,-6.0L93.0,-6.0L96.0,-6.0L99.0,-6.0L102.0,-6.0L105.0,-6.0L108.0,-6.0L111.0,-6.0L114.0,-6.0L117.0,-6.0L120.0,-6.0L123.0,-6.0L126.0,-6.0L129.0,-6.0L132.0,-6.0L135.0,-6.0L138.0,-6.0L141.0,-6.0L144.0,-6.0L147.0,-6.0L150.0,-6.0L153.0,-6.0L156.0,-6.0L159.0,-6.0L162.0,-6.0L165.0,-6.0L168.0,-6.0L171.0,-6.0L174.0,-6.0L177.0,-6.0L180.0,-6.0L183.0,-6.0L186.0,-6.0L189.0,-6.0L192.0,-6.0L195.0,-6.0L198.0,-6.0L201.0,-6.0L204.0,-6.0L207.0,-6.0L210.0,-6.0L213.0,-6.0L216.0,-6.0L219.0,-6.0L222.0,-6.0L225.0,-6.0L228.0,-6.0L231.0,-6.0L234.0,-6.0L237.0,-6.0L240.0,-6.0L243.0,-6.0L246.0,-6.0L249.0,-6.0L252.0,-6.0L255.0,-6.0L258.0,-6.0L261.0,-6.0L264.0,-6.0L267.0,-6.0L270.0,-6.0L273.0,-6.0L276.0,-6.0L279.0,-6.0L282.0,-6.0L285.0,-6.0L288.0,-6.0L291.0,-6.0L294.0,-6.0L297.0,-6.0L300.0,-6.0L303.0,-6.0L306.0,-6.0L309.0,-6.0L312.0,-6.0L315.0,-6.0L318.0,-6.0L321.0,-6.0L324.0,-6.0L327.0,-6.0L330.0,-6.0L333.0,-6.0L336.0,-6.0L339.0,-6.0L342.0,-6.0L345.0,-6.0L348.0,-6.0L351.0,-6.0L354.0,-6.0L357.0,-6.0L360.0,-6.0L363.0,-6.0L366.0,-6.0L369.0,-6.0L372.0,-6.0L375.0,-6.0L378.0,-6.0L381.0,-6.0L384.0,-6.0L387.0,-6.0L390.0,-6.0L393.0,-6.0L396.0,-6.0L399.0,-6.0L402.0,-6.0L405.0,-6.0L408.0,-6.0L411.0,-6.0L414.0,-6.0L417.0,-6.0L420.0,-6.0L423.0,-6.0L426.0,-6.0L429.0,-6.0L432.0,-6.0L435.0,-6.0L438.0,-6.0L441.0,-6.0L444.0,-6.0L447.0,-6.0L450.0,-6.0L453.0,-6.0L456.0,-6.0L459.0,-6.0L462.0,-6.0L465.0,-6.0L468.0,-6.0L471.0,-6.0L474.0,-6.0L477.0,-6.0L480.0,-6.0L483.0,-6.0L486.0,-6.0L489.0,-6.0L492.0,-6.0L495.0,-6.0L498.0,-6.0L501.0,-6.0L504.0,-6.0L507.0,-6.0L510.0,-6.0L513.0,-6.0L516.0,-6.0L519.0,-6.0L522.0,-6.0L525.0,-6.0L528.0,-6.0L531.0,-6.0L534.0,-6.0L537.0,-6.0L540.0,-6.0L543.0,-6.0L546.0,-6.0L549.0,-6.0L552.0,-6.0L555.0,-6.0L558.0,-6.0L561.0,-6.0L564.0,-6.0L567.0,-6.0L570.0,-6.0L573.0,-6.0L576.0,-6.0L579.0,-6.0L582.0,-6.0L585.0,-6.0L588.0,-6.0L591.0,-6.0L594.0,-6.0L597.0,-6.0L600.0,-6.0L603.0,-6.0L606.0,-6.0L609.0,-6.0L612.0,-6.0L615.0,-6.0L618.0,-6.0L621.0,-6.0L624.0,-6.0L627.0,-6.0L630.0,-6.0L633.0,-6.0L636.0,-6.0L639.0,-6.0L642.0,-6.0L645.0,-6.0L648.0,-6.0L651.0,-6.0L654.0,-6.0L657.0,-6.0L660.0,-6.0L663.0,-6.0L666.0,-6.0L669.0,-6.0L672.0,-6.0L675.0,-6.0L678.0,-6.0L681.0,-6.0L684.0,-6.0L687.0,-6.0L690.0,-6.0L693.0,-6.0L696.0,-6.0L699.0,-6.0L702.0,-6.0L705.0,-6.0L708.0,-6.0L711.0,-6.0L714.0,-6.0L717.0,-6.0L720.0,-6.0L723.0,-6.0L726.0,-6.0L729.0,-6.0L732.0,-6.0L735.0,-6.0L738.0,-6.0L741.0,-6.0L744.0,-6.0L747.0,-6.0L750.0,-6.0L753.0,-6.0L756.0,-6.0L759.0,-6.0L762.0,-6.0L765.0,-6.0L768.0,-6.0L771.0,-6.0L774.0,-6.0L777.0,-6.0L780.0,-6.0L783.0,-6.0L786.0,-6.0L789.0,-6.0L792.0,-6.0L795.0,-6.0L798.0,-6.0L801.0,-6.0L804.0,-6.0L807.0,-6.0L810.0,-6.0L813.0,-6.0L816.0,-6.0L819.0,-6.0L822.0,-6.0L825.0,-6.0L828.0,-6.0L831.0,-6.0L834.0,-6.0L837.0,-6.0L840.0,-6.0L843.0,-6.0L846.0,-6.0L849.0,-6.0L852.0,-6.0L855.0,-6.0L858.0,-6.0L861.0,-6.0L864.0,-6.0L867.0,-6.0L870.0,-6.0L873.0,-6.0L876.0,-6.0L879.0,-6.0L882.0,-6.0L885.0,-6.0L888.0,-6.0L891.0,-6.0L894.0,-6.0L897.0,-6.0L900.0,-6.0L903.0,-6.0L906.0,-6.0L909.0,-6.0L912.0,-6.0L915.0,-6.0L918.0,-6.0L921.0,-6.0L924.0,-6.0L927.0,-6.0L930.0,-6.0L933.0,-6.0L936.0,-6.0L939.0,-6.0L942.0,-6.0L945.0,-6.0L948.0,-6.0L951.0,-6.0L954.0,-6.0L957.0,-6.0L960.0,-6.0L963.0,-6.0L966.0,-6.0L969.0,-6.0L972.0,-6.0L975.0,-6.0L978.0,-6.0L981.0,-6.0L984.0,-6.0L987.0,-6.0L990.0,-6.0L993.0,-6.0L996.0,-6.0L999.0,-6.0L1002.0,-6.0L1005.0,-6.0L1008.0,-6.0L1011.0,-6.0L1014.0,-6.0L1017.0,-6.0L1020.0,-6.0L1023.0,-6.0L1026.0,-6.0L1029.0,-6.0L1032.0,-6.0L1035.0,-6.0L1038.0,-6.0L1041.0,-6.0L1044.0,-6.0L1047.0,-6.0L1050.0,-6.0L1053.0,-6.0L1056.0,-6.0L1059.0,-6.0L1062.0,-6.0L1065.0,-6.0L1068.0,-6.0L1071.0,-6.0L1074.0,-6.0L1077.0,-6.0L1080.0,-6.0L1083.0,-6.0L1086.0,-6.0L1089.0,-6.0L1092.0,-6.0L1095.0,-6.0L1098.0,-6.0L1101.0,-6.0L1104.0,-6.0L1107.0,-6.0L1110.0,-6.0L1113.0,-6.0L1116.0,-6.0L1119.0,-6.0L1122.0,-6.0L1125.0,-6.0L1128.0,-6.0L1131.0,-6.0L1134.0,-6.0L1137.0,-6.0L1140.0,-6.0L1143.0,-6.0L1146.0,-6.0L1149.0,-6.0L1152.0,-6.0L1155.0,-6.0L1158.0,-6.0L1161.0,-6.0L1164.0,-6.0L1167.0,-6.0L1170.0,-6.0L1173.0,-6.0L1176.0,-6.0L1179.0,-6.0L1182.0,-6.0L1185.0,-6.0L1188.0,-6.0L1191.0,-6.0L1194.0,-6.0L1197.0,-6.0L1200.0,-6.0L1203.0,-6.0L1206.0,-6.0L1209.0,-6.0L1212.0,-6.0L1215.0,-6.0L1218.0,-6.0L1221.0,-6.0L1224.0,-6.0L1227.0,-6.0L1230.0,-6.0L1233.0,-6.0L1236.0,-6.0L1239.0,-6.0L1242.0,-6.0L1245.0,-6.0L1248.0,-6.0L1251.0,-6.0L1254.0,-6.0L1257.0,-6.0L1260.0,-6.0L1263.0,-6.0L1266.0,-6.0L1269.0,-6.0L1272.0,-6.0L1275.0,-6.0L1278.0,-6.0L1281.0,-6.0L1284.0,-6.0L1287.0,-6.0L1290.0,-6.0L1293.0,-6.0L1296.0,-6.0L1299.0,-6.0L1302.0,-6.0L1305.0,-6.0L1308.0,-6.0L1311.0,-6.0L1314.0,-6.0L1317.0,-6.0L1320.0,-6.0L1323.0,-6.0L1326.0,-6.0L1329.0,-6.0L1332.0,-6.0L1335.0,-6.0L1338.0,-6.0L1338.0,-3.0L1338.0,0.0L1338.0,3.0L1338.0,6.0L1338.0,9.0L1338.0,12.0L1338.0,15.0L1338.0,18.0L1338.0,21.0L1338.0,24.0L1338.0,27.0L1338.0,30.0L1338.0,33.0L1338.0,36.0L1338.0,39.0L1338.0,42.0L1338.0,45.0L1338.0,48.0L1338.0,51.0L1338.0,54.0L1338.0,57.0L1338.0,60.0L1338.0,63.0L1338.0,66.0L1338.0,69.0L1338.0,72.0L1338.0,75.0L1338.0,78.0L1338.0,81.0L1338.0,84.0L1338.0,87.0L1338.0,90.0L1338.0,93.0L1338.0,96.0L1338.0,99.0L1338.0,102.0L1338.0,105.0L1338.0,108.0L1338.0,111.0L1338.0,114.0L1338.0,117.0L1338.0,120.0L1338.0,123.0L1338.0,126.0L1338.0,129.0L1338.0,132.0L1338.0,135.0L1338.0,138.0L1338.0,141.0L1338.0,144.0L1338.0,147.0L1338.0,150.0L1338.0,153.0L1338.0,156.0L1338.0,159.0L1338.0,162.0L1338.0,165.0L1338.0,168.0L1338.0,171.0L1338.0,174.0L1338.0,177.0L1338.0,180.0L1338.0,183.0L1338.0,186.0L1338.0,189.0L1338.0,192.0L1338.0,195.0L1338.0,198.0L1338.0,201.0L1338.0,204.0L1338.0,207.0L1338.0,210.0L1338.0,213.0L1338.0,216.0L1338.0,219.0L1338.0,222.0L1338.0,225.0L1338.0,228.0L1338.0,231.0L1338.0,234.0L1338.0,237.0L1338.0,240.0L1338.0,243.0L1338.0,246.0L1338.0,249.0L1338.0,252.0L1338.0,255.0L1338.0,258.0L1338.0,261.0L1338.0,264.0L1338.0,267.0L1338.0,270.0L1338.0,273.0L1338.0,276.0L1338.0,279.0L1338.0,282.0L1338.0,285.0L1338.0,288.0L1338.0,291.0L1338.0,294.0L1338.0,297.0L1338.0,300.0L1338.0,303.0L1338.0,306.0L1338.0,309.0L1338.0,312.0L1338.0,315.0L1338.0,318.0L1338.0,321.0L1338.0,324.0L1338.0,327.0L1338.0,330.0L1338.0,333.0L1338.0,336.0L1338.0,339.0L1338.0,342.0L1338.0,345.0L1338.0,348.0L1338.0,351.0L1338.0,354.0L1338.0,357.0L1338.0,360.0L1338.0,363.0L1338.0,366.0L1338.0,369.0L1338.0,372.0L1338.0,375.0L1338.0,378.0L1338.0,381.0L1338.0,384.0L1338.0,387.0L1338.0,390.0L1338.0,393.0L1338.0,396.0L1338.0,399.0L1338.0,402.0L1338.0,405.0L1338.0,408.0L1338.0,411.0L1338.0,414.0L1338.0,417.0L1338.0,420.0L1338.0,423.0L1338.0,426.0L1338.0,429.0L1338.0,432.0L1338.0,435.0L1338.0,438.0L1338.0,441.0L1338.0,444.0L1338.0,447.0L1338.0,450.0L1338.0,453.0L1338.0,456.0L1338.0,459.0L1338.0,462.0L1338.0,465.0L1338.0,468.0L1338.0,471.0L1338.0,474.0L1338.0,477.0L1338.0,480.0L1338.0,483.0L1338.0,486.0L1338.0,489.0L1338.0,492.0L1338.0,495.0L1338.0,498.0L1338.0,501.0L1338.0,504.0L1338.0,507.0L1338.0,510.0L1338.0,513.0L1338.0,516.0L1338.0,519.0L1338.0,522.0L1338.0,525.0L1338.0,528.0L1338.0,531.0L1338.0,534.0L1338.0,537.0L1338.0,537.5L1337.9,537.0L1336.9,534.0L1335.7,531.0L1335.0,529.2L1334.5,528.0L1333.0,525.0L1332.0,523.3L1331.2,522.0L1329.0,519.1L1328.9,519.0L1326.7,516.0L1326.0,515.1L1324.4,513.0L1323.0,511.1L1322.1,510.0L1320.0,507.2L1319.8,507.0L1317.5,504.0L1317.0,503.4L1315.0,501.0L1314.0,499.8L1312.4,498.0L1311.0,496.5L1309.6,495.0L1308.0,493.4L1306.5,492.0L1305.0,490.7L1303.0,489.0L1302.0,488.3L1299.0,486.0L1298.9,486.0L1296.0,484.1L1294.3,483.0L1293.0,482.2L1290.0,480.4L1289.2,480.0L1287.0,478.7L1284.0,477.0L1283.9,477.0L1281.0,475.3L1278.6,474.0L1278.0,473.6L1275.0,471.9L1273.3,471.0L1272.0,470.3L1269.0,468.7L1267.7,468.0L1266.0,467.1L1263.0,465.6L1261.9,465.0L1260.0,464.1L1257.0,462.6L1255.6,462.0L1254.0,461.3L1251.0,460.0L1248.4,459.0L1248.0,458.8L1245.0,457.6L1242.0,456.5L1240.5,456.0L1239.0,455.4L1236.0,454.4L1233.0,453.4L1231.6,453.0L1230.0,452.5L1227.0,451.8L1224.0,451.1L1221.0,450.7L1218.0,450.3L1215.0,450.1L1213.4,450.0L1212.0,449.9L1209.0,449.9L1206.0,449.9L1204.7,450.0L1203.0,450.1L1200.0,450.2L1197.0,450.4L1194.0,450.7L1191.0,451.0L1188.0,451.3L1185.0,451.7L1182.0,452.1L1179.0,452.5L1176.0,452.9L1175.7,453.0L1173.0,453.4L1170.0,453.8L1167.0,454.2L1164.0,454.7L1161.0,455.1L1158.0,455.6L1155.9,456.0L1155.0,456.1L1152.0,456.7L1149.0,457.2L1146.0,457.8L1143.0,458.4L1140.0,459.0L1140.0,459.0L1137.0,459.6L1134.0,460.2L1131.0,460.9L1128.0,461.5L1125.7,462.0L1125.0,462.2L1122.0,462.8L1119.0,463.4L1116.0,464.1L1113.0,464.8L1111.9,465.0L1110.0,465.4L1107.0,465.6L1104.0,465.7L1101.0,465.8L1098.0,465.9L1095.0,466.0L1092.0,466.1L1089.0,466.2L1086.0,466.3L1083.0,466.4L1080.0,466.5L1077.0,466.6L1074.0,466.7L1071.0,466.8L1068.0,466.9L1065.0,466.9L1062.0,467.0L1059.0,467.1L1056.0,467.1L1053.0,467.2L1050.0,467.2L1047.0,467.2L1044.0,467.2L1041.0,467.2L1038.0,467.1L1035.0,467.0L1032.0,466.8L1029.0,466.6L1026.0,466.4L1023.0,466.1L1020.0,465.7L1017.0,465.3L1015.4,465.0L1014.0,464.8L1011.0,464.2L1008.0,463.7L1005.0,463.1L1002.0,462.4L1000.5,462.0L999.0,461.6L996.0,460.7L993.0,459.8L990.1,459.0L990.0,459.0L987.0,458.1L984.0,457.2L981.0,456.5L978.7,456.0L978.0,455.8L975.0,455.3L972.0,454.9L969.0,454.6L966.0,454.3L963.0,454.1L960.0,454.0L957.0,453.9L954.0,454.0L951.0,454.1L948.0,454.3L945.0,454.5L942.0,454.8L939.0,455.2L936.0,455.6L933.3,456.0L933.0,456.0L930.0,456.5L927.0,457.1L924.0,457.7L921.0,458.3L918.0,458.9L917.4,459.0L915.0,459.5L912.0,460.1L909.0,460.8L906.0,461.4L903.4,462.0L903.0,462.1L900.0,462.8L897.0,463.4L894.0,464.1L891.0,464.7L889.8,465.0L888.0,465.4L885.0,466.0L882.0,466.6L879.0,467.2L876.0,467.9L875.3,468.0L873.0,468.5L870.0,469.1L867.0,469.7L864.0,470.4L861.2,471.0L861.0,471.0L858.0,471.7L855.0,472.4L852.0,473.1L849.0,473.8L848.1,474.0L846.0,474.5L843.0,475.2L840.0,475.9L837.0,476.7L835.6,477.0L834.0,477.4L831.0,478.2L828.0,479.0L825.0,479.8L824.2,480.0L822.0,480.6L819.0,481.5L816.0,482.3L813.7,483.0L813.0,483.2L810.0,484.1L807.0,485.0L804.0,485.9L803.7,486.0L801.0,486.8L798.0,487.8L795.0,488.7L794.0,489.0L792.0,489.6L789.0,490.5L786.0,491.4L784.2,492.0L783.0,492.4L780.0,493.3L777.0,494.2L774.1,495.0L774.0,495.0L771.0,495.9L768.0,496.8L765.0,497.6L763.7,498.0L762.0,498.5L759.0,499.3L756.0,500.2L753.2,501.0L753.0,501.0L750.0,501.9L747.0,502.7L744.0,503.6L742.4,504.0L741.0,504.4L738.0,505.2L735.0,506.0L732.0,506.8L731.1,507.0L729.0,507.5L726.0,508.3L723.0,509.0L720.0,509.7L718.5,510.0L717.0,510.3L714.0,511.0L711.0,511.5L708.0,512.1L705.0,512.7L703.1,513.0L702.0,513.2L699.0,513.7L696.0,514.2L693.0,514.7L690.0,515.2L687.0,515.6L684.6,516.0L684.0,516.1L681.0,516.6L678.0,517.0L675.0,517.5L672.0,517.9L669.0,518.5L666.8,519.0L666.0,519.3L663.0,520.9L660.0,521.6L657.4,522.0L657.0,522.1L654.0,522.5L651.0,523.0L648.0,523.4L645.0,523.9L642.0,524.4L639.0,524.9L638.6,525.0L636.0,525.5L633.0,526.1L630.0,526.7L627.0,527.4L624.5,528.0L624.0,528.1L621.0,529.0L618.0,529.9L615.8,531.0L615.0,531.4L612.0,533.5L611.4,534.0L609.0,536.7L608.8,537.0L607.3,540.0L606.2,543.0L606.0,543.7L605.4,546.0L604.5,549.0L603.7,552.0L603.0,554.6L602.9,555.0L602.3,558.0L601.9,561.0L601.6,564.0L601.3,567.0L600.9,570.0L600.3,573.0L600.0,573.9L599.3,576.0L597.8,579.0L597.0,580.3L595.8,582.0L594.0,584.1L593.1,585.0L591.0,586.6L588.8,588.0L588.0,588.4L585.0,589.8L582.2,591.0L582.0,591.1L579.0,592.1L576.0,593.0L573.0,593.9L572.4,594.0L570.0,594.6L567.0,595.3L564.0,596.0L561.0,596.6L559.3,597.0L558.0,597.3L555.0,597.9L552.0,598.5L549.0,599.1L546.0,599.7L544.7,600.0L543.0,600.3L540.0,601.0L537.0,601.6L534.0,602.3L531.2,603.0L531.0,603.0L528.0,603.8L525.0,604.5L522.0,605.3L519.2,606.0L519.0,606.1L516.0,606.8L513.0,607.5L510.0,608.3L507.5,609.0L507.0,609.1L504.0,609.9L501.0,610.7L498.0,611.5L496.2,612.0L495.0,612.3L492.0,613.1L489.0,613.9L486.0,614.8L485.3,615.0L483.0,615.6L480.0,616.5L477.0,617.4L475.2,618.0L474.0,618.4L471.0,619.3L468.0,620.3L466.1,621.0L465.0,621.4L462.0,622.4L459.0,623.5L457.6,624.0L456.0,624.6L453.0,625.7L450.0,626.8L449.6,627.0L447.0,627.9L444.0,628.9L441.0,629.2L438.0,629.1L435.0,629.0L432.0,629.0L429.0,628.8L426.0,628.8L423.0,628.8L420.0,628.7L417.0,628.7L414.0,628.6L411.0,628.5L408.0,628.5L405.0,628.4L402.0,628.4L399.0,628.3L396.0,628.2L393.0,628.2L390.0,628.1L387.0,628.1L384.0,628.0L381.0,627.9L378.0,627.9L375.0,627.8L372.0,627.8L369.0,627.7L366.0,627.6L363.0,627.6L360.0,627.5L357.0,627.4L354.0,627.4L351.0,627.3L348.0,627.2L345.0,627.2L342.0,627.1L339.0,627.0L338.3,627.0L336.0,626.9L333.0,626.9L330.0,626.8L327.0,626.7L324.0,626.6L321.0,626.6L318.0,626.5L315.0,626.4L312.0,626.3L309.0,626.3L306.0,626.2L303.0,626.1L300.0,626.0L297.0,626.0L294.0,625.9L291.0,625.8L288.0,625.7L285.0,625.7L282.0,625.6L279.0,625.5L276.0,625.5L273.0,625.4L270.0,625.3L267.0,625.2L264.0,625.2L261.0,625.1L258.0,625.0L255.0,624.9L252.0,624.8L249.0,624.8L246.0,624.7L243.0,624.6L240.0,624.5L237.0,624.5L234.0,624.4L231.0,624.3L228.0,624.2L225.0,624.1L224.3,624.0L222.0,623.6L219.0,622.5L216.0,622.1L213.0,621.9L210.0,621.7L207.0,621.6L204.0,621.4L201.0,621.2L198.0,621.0L197.4,621.0L195.0,620.9L192.0,620.7L189.0,620.5L186.0,620.3L183.0,620.0L180.0,619.8L177.0,619.5L174.0,619.2L171.0,618.8L168.0,618.4L165.0,618.0L165.0,618.0L162.0,617.6L159.0,617.2L156.0,616.7L153.0,616.2L150.0,615.7L147.0,615.2L146.1,615.0L144.0,614.7L141.0,614.1L138.0,613.6L135.0,613.1L132.0,612.5L129.5,612.0L129.0,611.9L126.0,611.4L123.0,610.8L120.0,610.3L117.0,609.7L114.0,609.2L112.9,609.0L111.0,608.7L108.0,608.2L105.0,607.7L102.0,607.2L99.0,606.7L96.0,606.1L95.3,606.0L93.0,605.6L90.0,605.1L87.0,604.5L84.0,603.9L81.0,603.2L80.0,603.0L78.0,602.6L75.0,601.8L72.0,601.0L69.0,600.1L68.7,600.0L66.0,599.2L63.0,598.1L60.3,597.0L60.0,596.9L57.0,595.7L54.0,594.3L53.4,594.0L51.0,592.8L48.0,591.2L47.6,591.0L45.0,589.6L42.4,588.0L42.0,587.8L39.0,585.9L37.5,585.0L36.0,584.0L33.0,582.0L33.0,582.0L30.0,579.9L28.7,579.0L27.0,577.7L24.8,576.0L24.0,575.4L21.0,573.0L21.0,573.0L18.0,570.5L17.4,570.0L15.0,567.9L13.9,567.0L12.0,565.3L10.4,564.0L9.0,562.8L7.0,561.0L6.0,560.2L3.5,558.0L3.0,557.6L0.2,555.0L0.0,554.8L-2.8,552.0L-3.0,551.8L-5.9,549.0L-6.0,548.9L-6.0,546.0L-6.0,543.0L-6.0,540.0L-6.0,537.0L-6.0,534.0L-6.0,531.0L-6.0,528.0L-6.0,525.0L-6.0,522.0L-6.0,519.0L-6.0,516.0L-6.0,513.0L-6.0,510.0L-6.0,507.0L-6.0,504.0L-6.0,501.0L-6.0,498.0L-6.0,495.0L-6.0,492.0L-6.0,489.0L-6.0,486.0L-6.0,483.0L-6.0,480.0L-6.0,477.0L-6.0,474.0L-6.0,471.0L-6.0,468.0L-6.0,465.0L-6.0,462.0L-6.0,459.0L-6.0,456.0L-6.0,453.0L-6.0,450.0L-6.0,447.0L-6.0,444.0L-6.0,441.0L-6.0,438.0L-6.0,435.0L-6.0,432.0L-6.0,429.0L-6.0,426.0L-6.0,423.0L-6.0,420.0L-6.0,417.0L-6.0,414.0L-6.0,411.0L-6.0,408.0L-6.0,405.0L-6.0,402.0L-6.0,399.0L-6.0,396.0L-6.0,393.0L-6.0,390.0L-6.0,387.0L-6.0,384.0L-6.0,381.0L-6.0,378.0L-6.0,375.0L-6.0,372.0L-6.0,369.0L-6.0,366.0L-6.0,363.0L-6.0,360.0L-6.0,357.0L-6.0,354.0L-6.0,351.0L-6.0,348.0L-6.0,345.0L-6.0,342.0L-6.0,339.0L-6.0,336.0L-6.0,333.0L-6.0,330.0L-6.0,327.0L-6.0,324.0L-6.0,321.0L-6.0,318.0L-6.0,315.0L-6.0,312.0L-6.0,309.0L-6.0,306.0L-6.0,303.0L-6.0,300.0L-6.0,297.0L-6.0,294.0L-6.0,291.0L-6.0,288.0L-6.0,285.0L-6.0,282.0L-6.0,279.0L-6.0,276.0L-6.0,273.0L-6.0,270.0L-6.0,267.0L-6.0,264.0L-6.0,261.0L-6.0,258.0L-6.0,255.0L-6.0,252.0L-6.0,249.0L-6.0,246.0L-6.0,243.0L-6.0,240.0L-6.0,237.0L-6.0,234.0L-6.0,231.0L-6.0,228.0L-6.0,225.0L-6.0,222.0L-6.0,219.0L-6.0,216.0L-6.0,213.0L-6.0,210.0L-6.0,207.0L-6.0,204.0L-6.0,201.0L-6.0,198.0L-6.0,195.0L-6.0,192.0L-6.0,189.0L-6.0,186.0L-6.0,183.0L-6.0,180.0L-6.0,177.0L-6.0,174.0L-6.0,171.0L-6.0,168.0L-6.0,165.0L-6.0,162.0L-6.0,159.0L-6.0,156.0L-6.0,153.0L-6.0,150.0L-6.0,147.0L-6.0,144.0L-6.0,141.0L-6.0,138.0L-6.0,135.0L-6.0,132.0L-6.0,129.0L-6.0,126.0L-6.0,123.0L-6.0,120.0L-6.0,117.0L-6.0,114.0L-6.0,111.0L-6.0,108.0L-6.0,105.0L-6.0,102.0L-6.0,99.0L-6.0,96.0L-6.0,93.0L-6.0,90.0L-6.0,87.0L-6.0,84.0L-6.0,81.0L-6.0,78.0L-6.0,75.0L-6.0,72.0L-6.0,69.0L-6.0,66.0L-6.0,63.0L-6.0,60.0L-6.0,57.0L-6.0,54.0L-6.0,51.0L-6.0,48.0L-6.0,45.0L-6.0,42.0L-6.0,39.0L-6.0,36.0L-6.0,33.0L-6.0,30.0L-6.0,27.0L-6.0,24.0L-6.0,21.0L-6.0,18.0L-6.0,15.0L-6.0,12.0L-6.0,9.0L-6.0,6.0L-6.0,3.0L-6.0,0.0L-6.0,-3.0L-6.0,-6.0ZM1005.0,47.9L1002.6,48.0L1002.0,48.0L999.0,48.1L996.0,48.2L993.0,48.3L990.0,48.4L987.0,48.6L984.0,48.7L981.0,48.8L978.0,49.0L975.0,49.2L972.0,49.3L969.0,49.5L966.0,49.7L963.0,49.8L960.0,50.0L957.0,50.2L954.0,50.4L951.0,50.6L948.0,50.8L945.0,51.0L944.4,51.0L942.0,51.1L939.0,51.3L936.0,51.5L933.0,51.6L930.0,51.8L927.0,52.0L924.0,52.2L921.0,52.4L918.0,52.6L915.0,52.8L912.0,53.0L909.0,53.2L906.0,53.4L903.0,53.7L900.0,53.9L898.1,54.0L897.0,54.1L894.0,54.3L891.0,54.6L888.0,55.4L885.0,56.3L882.0,56.7L879.0,56.7L876.0,56.8L873.0,56.9L870.5,57.0L870.0,57.0L867.0,57.1L864.0,57.2L861.0,57.3L858.0,57.4L855.0,57.5L852.0,57.6L849.0,57.7L846.0,57.8L843.0,58.0L840.0,58.1L837.0,58.3L834.0,58.4L831.0,58.6L828.0,58.8L825.0,59.0L822.0,59.2L819.0,59.4L816.0,59.6L813.0,59.9L811.7,60.0L810.0,60.2L807.0,60.5L804.0,60.8L801.0,61.0L798.0,61.3L795.0,61.5L792.0,61.7L789.0,61.9L786.0,62.1L783.0,62.4L780.0,62.8L778.2,63.0L777.0,63.2L774.0,63.8L771.0,64.6L768.0,65.5L766.5,66.0L765.0,66.6L762.0,68.0L760.0,69.0L759.0,69.6L756.0,71.3L754.8,72.0L753.0,73.2L750.2,75.0L750.0,75.1L747.0,77.3L746.0,78.0L744.0,79.9L743.3,81.0L743.3,84.0L744.0,85.8L744.6,87.0L747.0,89.7L747.2,90.0L750.0,92.3L750.8,93.0L753.0,94.6L754.8,96.0L756.0,96.8L759.0,98.7L759.4,99.0L762.0,100.5L764.7,102.0L765.0,102.1L768.0,103.6L770.8,105.0L771.0,105.1L774.0,106.4L777.0,107.8L777.4,108.0L780.0,109.1L783.0,110.3L784.6,111.0L786.0,111.5L789.0,112.7L792.0,113.9L792.2,114.0L795.0,115.1L798.0,116.2L800.1,117.0L801.0,117.3L804.0,118.4L807.0,119.4L808.7,120.0L810.0,120.4L813.0,121.4L816.0,122.4L818.2,123.0L819.0,123.2L822.0,124.0L825.0,124.8L828.0,125.5L830.1,126.0L831.0,126.2L834.0,126.8L837.0,127.3L840.0,127.9L843.0,128.4L846.0,129.0L846.0,129.0L849.0,129.5L852.0,130.0L855.0,130.5L858.0,131.1L861.0,131.6L863.3,132.0L864.0,132.1L867.0,132.6L870.0,133.0L873.0,133.5L876.0,134.0L879.0,134.4L882.0,134.9L882.4,135.0L885.0,135.4L888.0,135.6L891.0,135.4L894.0,135.1L894.5,135.0L897.0,134.7L900.0,134.4L903.0,134.0L906.0,133.7L909.0,133.4L912.0,133.0L915.0,132.7L918.0,132.4L921.0,132.1L922.6,132.0L924.0,131.9L927.0,131.6L930.0,131.3L933.0,131.1L936.0,130.8L939.0,130.6L942.0,130.4L945.0,130.2L948.0,130.0L951.0,129.8L954.0,129.7L957.0,129.5L960.0,129.4L963.0,129.2L966.0,129.1L967.3,129.0L969.0,128.9L972.0,128.8L975.0,128.6L978.0,128.5L981.0,128.4L984.0,128.2L987.0,128.1L990.0,128.0L993.0,127.8L996.0,127.7L999.0,127.5L1002.0,127.4L1005.0,127.3L1008.0,127.1L1011.0,127.0L1014.0,126.8L1017.0,126.7L1020.0,126.5L1023.0,126.4L1026.0,126.2L1029.0,126.0L1029.5,126.0L1032.0,125.9L1035.0,125.7L1038.0,125.5L1041.0,125.4L1044.0,125.2L1047.0,125.1L1050.0,124.9L1053.0,124.8L1056.0,124.7L1059.0,124.6L1062.0,124.5L1065.0,124.4L1068.0,124.3L1071.0,124.2L1074.0,124.2L1077.0,124.1L1080.0,124.1L1083.0,124.0L1086.0,124.0L1089.0,123.9L1092.0,123.9L1095.0,123.9L1098.0,123.8L1101.0,123.8L1104.0,123.7L1107.0,123.7L1110.0,123.7L1113.0,123.6L1116.0,123.7L1119.0,123.7L1122.0,123.8L1125.0,123.8L1128.0,123.7L1131.0,123.6L1134.0,123.4L1137.0,123.1L1137.8,123.0L1140.0,122.7L1143.0,122.1L1146.0,121.5L1149.0,120.7L1151.8,120.0L1152.0,119.9L1155.0,119.0L1158.0,118.1L1161.0,117.2L1161.6,117.0L1164.0,116.2L1167.0,115.1L1170.0,114.1L1170.2,114.0L1173.0,112.9L1176.0,111.7L1177.8,111.0L1179.0,110.4L1182.0,109.0L1184.2,108.0L1185.0,107.6L1188.0,105.8L1189.4,105.0L1191.0,103.8L1193.3,102.0L1194.0,101.4L1196.3,99.0L1197.0,97.9L1198.3,96.0L1199.2,93.0L1199.2,90.0L1198.1,87.0L1197.0,85.4L1195.9,84.0L1194.0,82.2L1192.7,81.0L1191.0,79.7L1188.7,78.0L1188.0,77.5L1185.0,75.6L1184.0,75.0L1182.0,73.9L1179.0,72.3L1178.4,72.0L1176.0,70.9L1173.0,69.7L1171.2,69.0L1170.0,68.6L1167.0,67.6L1164.0,66.7L1161.4,66.0L1161.0,65.9L1158.0,65.1L1155.0,64.4L1152.0,63.6L1149.5,63.0L1149.0,62.9L1146.0,62.2L1143.0,61.4L1140.0,60.7L1137.0,60.0L1136.8,60.0L1134.0,59.4L1131.0,58.8L1128.0,58.2L1125.0,57.6L1122.0,57.1L1121.6,57.0L1119.0,56.5L1116.0,55.9L1113.0,55.1L1110.0,54.0L1109.9,54.0L1107.0,51.4L1104.1,51.0L1104.0,51.0L1101.0,50.8L1098.0,50.6L1095.0,50.5L1092.0,50.3L1089.0,50.1L1086.0,49.9L1083.0,49.8L1080.0,49.6L1077.0,49.4L1074.0,49.3L1071.0,49.2L1068.0,49.0L1065.0,48.9L1062.0,48.8L1059.0,48.7L1056.0,48.6L1053.0,48.5L1050.0,48.4L1047.0,48.3L1044.0,48.2L1041.0,48.1L1038.7,48.0L1038.0,48.0L1035.0,47.9L1032.0,47.8L1029.0,47.8L1026.0,47.7L1023.0,47.7L1020.0,47.7L1017.0,47.7L1014.0,47.7L1011.0,47.8L1008.0,47.8L1005.0,47.9ZM1337.6,582.0L1338.0,580.3L1338.0,582.0L1338.0,585.0L1338.0,588.0L1338.0,591.0L1338.0,594.0L1338.0,597.0L1338.0,600.0L1338.0,603.0L1338.0,606.0L1338.0,609.0L1338.0,612.0L1338.0,615.0L1338.0,618.0L1338.0,621.0L1338.0,624.0L1338.0,627.0L1338.0,630.0L1338.0,633.0L1338.0,636.0L1338.0,639.0L1338.0,642.0L1338.0,645.0L1338.0,648.0L1338.0,651.0L1338.0,654.0L1338.0,657.0L1338.0,660.0L1338.0,663.0L1335.0,663.0L1332.0,663.0L1329.0,663.0L1326.0,663.0L1323.0,663.0L1320.0,663.0L1317.0,663.0L1314.0,663.0L1311.0,663.0L1308.0,663.0L1305.0,663.0L1302.0,663.0L1299.0,663.0L1301.6,660.0L1302.0,659.6L1305.0,657.0L1305.0,657.0L1306.2,654.0L1308.0,651.3L1308.3,651.0L1310.0,648.0L1311.0,645.4L1311.2,645.0L1313.6,642.0L1314.0,641.4L1315.4,639.0L1316.8,636.0L1317.0,635.7L1318.8,633.0L1320.0,630.0L1320.0,629.9L1321.3,627.0L1322.6,624.0L1323.0,623.2L1324.0,621.0L1325.1,618.0L1326.0,616.1L1326.4,615.0L1327.9,612.0L1329.0,609.6L1329.3,609.0L1330.4,606.0L1331.7,603.0L1332.0,602.2L1332.7,600.0L1333.6,597.0L1334.7,594.0L1335.0,593.0L1335.5,591.0L1336.3,588.0L1337.0,585.0L1337.6,582.0Z" fill="#0000ff" fill-rule="evenodd"/><path d="M829.5,-6.0L831.0,-6.0L834.0,-6.0L837.0,-6.0L840.0,-6.0L843.0,-6.0L846.0,-6.0L849.0,-6.0L852.0,-6.0L855.0,-6.0L858.0,-6.0L861.0,-6.0L864.0,-6.0L867.0,-6.0L870.0,-6.0L873.0,-6.0L876.0,-6.0L879.0,-6.0L882.0,-6.0L885.0,-6.0L888.0,-6.0L891.0,-6.0L894.0,-6.0L897.0,-6.0L900.0,-6.0L903.0,-6.0L906.0,-6.0L909.0,-6.0L912.0,-6.0L915.0,-6.0L918.0,-6.0L921.0,-6.0L924.0,-6.0L927.0,-6.0L930.0,-6.0L933.0,-6.0L936.0,-6.0L939.0,-6.0L942.0,-6.0L945.0,-6.0L948.0,-6.0L951.0,-6.0L954.0,-6.0L957.0,-6.0L960.0,-6.0L963.0,-6.0L966.0,-6.0L969.0,-6.0L972.0,-6.0L975.0,-6.0L978.0,-6.0L981.0,-6.0L984.0,-6.0L987.0,-6.0L990.0,-6.0L993.0,-6.0L996.0,-6.0L999.0,-6.0L1002.0,-6.0L1005.0,-6.0L1008.0,-6.0L1011.0,-6.0L1014.0,-6.0L1017.0,-6.0L1020.0,-6.0L1023.0,-6.0L1026.0,-6.0L1029.0,-6.0L1032.0,-6.0L1035.0,-6.0L1038.0,-6.0L1041.0,-6.0L1044.0,-6.0L1047.0,-6.0L1050.0,-6.0L1053.0,-6.0L1056.0,-6.0L1059.0,-6.0L1062.0,-6.0L1065.0,-6.0L1068.0,-6.0L1071.0,-6.0L1074.0,-6.0L1077.0,-6.0L1080.0,-6.0L1083.0,-6.0L1086.0,-6.0L1089.0,-6.0L1092.0,-6.0L1095.0,-6.0L1098.0,-6.0L1101.0,-6.0L1104.0,-6.0L1107.0,-6.0L1110.0,-6.0L1113.0,-6.0L1116.0,-6.0L1119.0,-6.0L1122.0,-6.0L1125.0,-6.0L1128.0,-6.0L1131.0,-6.0L1134.0,-6.0L1137.0,-6.0L1140.0,-6.0L1143.0,-6.0L1146.0,-6.0L1149.0,-6.0L1152.0,-6.0L1155.0,-6.0L1158.0,-6.0L1161.0,-6.0L1164.0,-6.0L1167.0,-6.0L1170.0,-6.0L1173.0,-6.0L1176.0,-6.0L1179.0,-6.0L1182.0,-6.0L1185.0,-6.0L1188.0,-6.0L1191.0,-6.0L1194.0,-6.0L1197.0,-6.0L1200.0,-6.0L1203.0,-6.0L1206.0,-6.0L1209.0,-6.0L1212.0,-6.0L1215.0,-6.0L1218.0,-6.0L1221.0,-6.0L1224.0,-6.0L1227.0,-6.0L1230.0,-6.0L1233.0,-6.0L1236.0,-6.0L1239.0,-6.0L1242.0,-6.0L1245.0,-6.0L1248.0,-6.0L1251.0,-6.0L1254.0,-6.0L1257.0,-6.0L1260.0,-6.0L1263.0,-6.0L1266.0,-6.0L1269.0,-6.0L1272.0,-6.0L1275.0,-6.0L1278.0,-6.0L1281.0,-6.0L1284.0,-6.0L1287.0,-6.0L1290.0,-6.0L1293.0,-6.0L1296.0,-6.0L1299.0,-6.0L1302.0,-6.0L1305.0,-6.0L1308.0,-6.0L1311.0,-6.0L1314.0,-6.0L1317.0,-6.0L1320.0,-6.0L1323.0,-6.0L1326.0,-6.0L1329.0,-6.0L1332.0,-6.0L1335.0,-6.0L1338.0,-6.0L1338.0,-3.0L1338.0,0.0L1338.0,3.0L1338.0,6.0L1338.0,9.0L1338.0,12.0L1338.0,15.0L1338.0,18.0L1338.0,21.0L1338.0,24.0L1338.0,27.0L1338.0,30.0L1338.0,33.0L1338.0,36.0L1338.0,39.0L1338.0,42.0L1338.0,45.0L1338.0,48.0L1338.0,51.0L1338.0,54.0L1338.0,57.0L1338.0,60.0L1338.0,63.0L1338.0,66.0L1338.0,69.0L1338.0,72.0L1338.0,75.0L1338.0,78.0L1338.0,81.0L1338.0,84.0L1338.0,87.0L1338.0,90.0L1338.0,93.0L1338.0,96.0L1338.0,99.0L1338.0,102.0L1338.0,105.0L1338.0,108.0L1338.0,111.0L1338.0,114.0L1338.0,117.0L1338.0,120.0L1338.0,123.0L1338.0,126.0L1338.0,129.0L1338.0,132.0L1338.0,135.0L1338.0,138.0L1338.0,141.0L1338.0,144.0L1338.0,147.0L1338.0,150.0L1338.0,153.0L1338.0,156.0L1338.0,159.0L1338.0,162.0L1338.0,165.0L1338.0,168.0L1338.0,171.0L1338.0,174.0L1338.0,177.0L1338.0,180.0L1338.0,183.0L1338.0,186.0L1338.0,189.0L1338.0,192.0L1338.0,195.0L1338.0,198.0L1338.0,201.0L1338.0,204.0L1338.0,207.0L1338.0,210.0L1338.0,213.0L1338.0,216.0L1338.0,219.0L1338.0,222.0L1338.0,225.0L1338.0,228.0L1338.0,231.0L1338.0,234.0L1338.0,237.0L1338.0,240.0L1338.0,243.0L1338.0,246.0L1338.0,249.0L1338.0,252.0L1338.0,255.0L1338.0,258.0L1338.0,261.0L1338.0,264.0L1338.0,267.0L1338.0,270.0L1338.0,273.0L1338.0,276.0L1338.0,279.0L1338.0,282.0L1338.0,285.0L1338.0,288.0L1338.0,291.0L1338.0,294.0L1338.0,297.0L1338.0,300.0L1338.0,303.0L1338.0,306.0L1338.0,309.0L1338.0,312.0L1338.0,315.0L1338.0,318.0L1338.0,321.0L1338.0,324.0L1338.0,327.0L1338.0,330.0L1338.0,333.0L1338.0,336.0L1338.0,339.0L1338.0,342.0L1338.0,345.0L1338.0,348.0L1338.0,351.0L1338.0,354.0L1338.0,357.0L1338.0,360.0L1338.0,363.0L1338.0,366.0L1338.0,369.0L1338.0,372.0L1338.0,375.0L1338.0,378.0L1338.0,381.0L1338.0,384.0L1338.0,387.0L1338.0,390.0L1338.0,393.0L1338.0,396.0L1338.0,399.0L1338.0,402.0L1338.0,405.0L1338.0,408.0L1338.0,411.0L1338.0,414.0L1338.0,417.0L1338.0,420.0L1338.0,423.0L1338.0,426.0L1338.0,429.0L1338.0,432.0L1338.0,435.0L1338.0,438.0L1338.0,441.0L1338.0,444.0L1338.0,447.0L1338.0,450.0L1338.0,453.0L1338.0,456.0L1338.0,459.0L1338.0,462.0L1338.0,465.0L1338.0,468.0L1338.0,471.0L1338.0,474.0L1338.0,477.0L1338.0,480.0L1338.0,482.7L1335.0,480.2L1334.7,480.0L1332.0,478.0L1330.6,477.0L1329.0,476.0L1326.0,474.1L1325.8,474.0L1323.0,472.3L1320.9,471.0L1320.0,470.4L1317.0,468.5L1316.2,468.0L1314.0,466.5L1311.8,465.0L1311.0,464.4L1308.0,462.2L1307.7,462.0L1305.0,459.9L1303.8,459.0L1302.0,457.5L1300.2,456.0L1299.0,455.0L1296.7,453.0L1296.0,452.4L1293.2,450.0L1293.0,449.8L1290.0,447.1L1289.9,447.0L1287.0,444.4L1286.6,444.0L1284.0,441.6L1283.3,441.0L1281.0,438.9L1280.1,438.0L1278.0,436.1L1276.8,435.0L1275.0,433.3L1273.5,432.0L1272.0,430.6L1270.3,429.0L1269.0,427.7L1267.2,426.0L1266.0,424.8L1264.2,423.0L1263.0,421.8L1261.3,420.0L1260.0,418.5L1258.7,417.0L1257.0,415.0L1256.2,414.0L1254.0,411.2L1253.8,411.0L1251.6,408.0L1251.0,407.2L1249.4,405.0L1248.0,402.9L1247.4,402.0L1245.4,399.0L1245.0,398.4L1243.4,396.0L1242.0,393.7L1241.6,393.0L1239.7,390.0L1239.0,388.8L1237.9,387.0L1236.2,384.0L1236.0,383.6L1234.5,381.0L1233.0,378.2L1232.9,378.0L1231.3,375.0L1230.0,372.2L1229.9,372.0L1228.5,369.0L1227.3,366.0L1227.0,365.2L1226.1,363.0L1225.1,360.0L1224.2,357.0L1224.0,356.2L1223.4,354.0L1222.6,351.0L1222.0,348.0L1221.6,345.0L1221.2,342.0L1221.0,340.1L1220.9,339.0L1220.6,336.0L1220.4,333.0L1220.8,330.0L1220.5,327.0L1220.2,324.0L1219.6,321.0L1219.0,318.0L1218.5,315.0L1218.0,312.7L1217.8,312.0L1217.1,309.0L1216.5,306.0L1215.8,303.0L1215.0,300.0L1215.0,299.8L1214.2,297.0L1213.3,294.0L1212.4,291.0L1212.0,289.9L1211.4,288.0L1210.3,285.0L1209.3,282.0L1209.0,281.3L1208.1,279.0L1206.9,276.0L1206.0,273.8L1205.7,273.0L1204.2,270.0L1203.0,267.6L1202.7,267.0L1200.8,264.0L1200.0,262.8L1198.5,261.0L1197.0,259.3L1195.6,258.0L1194.0,256.6L1191.7,255.0L1191.0,254.6L1188.0,252.9L1186.0,252.0L1185.0,251.6L1182.0,250.5L1179.0,249.7L1176.0,249.1L1173.9,249.0L1173.0,248.9L1172.3,249.0L1170.0,249.2L1167.0,250.0L1164.0,251.3L1162.7,252.0L1161.0,253.1L1158.5,255.0L1158.0,255.4L1155.3,258.0L1155.0,258.4L1153.1,261.0L1152.0,263.2L1151.6,264.0L1150.4,267.0L1149.5,270.0L1149.0,272.6L1148.9,273.0L1148.3,276.0L1147.8,279.0L1147.5,282.0L1147.1,285.0L1146.8,288.0L1146.6,291.0L1146.3,294.0L1146.1,297.0L1146.0,299.0L1145.9,300.0L1145.7,303.0L1145.5,306.0L1145.3,309.0L1145.1,312.0L1144.9,315.0L1144.7,318.0L1144.5,321.0L1144.4,324.0L1144.2,327.0L1143.5,330.0L1143.0,330.8L1141.1,333.0L1140.0,334.0L1137.3,336.0L1137.0,336.3L1134.0,337.9L1131.0,338.9L1128.0,338.9L1125.0,338.7L1122.0,338.1L1119.0,336.4L1118.5,336.0L1116.0,333.9L1115.2,333.0L1113.0,330.2L1112.8,330.0L1110.0,327.2L1109.8,327.0L1107.0,324.1L1106.8,324.0L1104.0,322.3L1102.8,321.0L1101.0,319.2L1098.0,318.1L1097.9,318.0L1098.0,315.3L1098.0,315.0L1098.4,312.0L1099.1,309.0L1100.2,306.0L1101.0,304.3L1104.0,303.9L1104.7,303.0L1107.0,301.9L1108.7,300.0L1110.0,298.2L1111.3,297.0L1110.7,294.0L1110.0,293.5L1107.0,293.4L1104.2,294.0L1104.0,294.1L1101.0,295.1L1098.0,295.9L1095.0,296.6L1093.4,297.0L1092.0,297.4L1089.0,298.3L1086.0,299.1L1083.0,299.9L1082.5,300.0L1080.0,300.9L1077.0,301.9L1074.0,302.7L1072.8,303.0L1071.0,303.6L1068.0,304.7L1065.0,305.8L1064.5,306.0L1062.0,307.2L1059.0,308.7L1058.5,309.0L1056.0,310.6L1054.1,312.0L1053.0,313.0L1050.8,315.0L1050.0,315.8L1048.0,318.0L1047.0,319.3L1045.6,321.0L1044.0,323.2L1043.3,324.0L1041.0,326.7L1040.7,327.0L1040.3,330.0L1041.0,330.6L1042.8,333.0L1044.0,334.3L1045.1,336.0L1047.0,338.7L1047.2,339.0L1049.3,342.0L1050.0,342.9L1051.4,345.0L1053.0,347.4L1053.4,348.0L1055.4,351.0L1056.0,351.8L1057.4,354.0L1059.0,356.3L1059.4,357.0L1061.4,360.0L1062.0,360.8L1063.5,363.0L1065.0,365.3L1065.4,366.0L1067.4,369.0L1068.0,370.0L1069.2,372.0L1070.6,375.0L1071.0,375.9L1072.0,378.0L1073.7,381.0L1074.0,381.4L1076.6,384.0L1077.0,384.3L1080.0,386.5L1080.7,387.0L1083.0,388.5L1085.5,390.0L1086.0,390.3L1089.0,392.0L1090.7,393.0L1092.0,393.7L1095.0,395.4L1096.0,396.0L1098.0,397.1L1101.0,398.7L1101.5,399.0L1104.0,400.4L1107.0,402.0L1107.0,402.0L1109.4,405.0L1110.0,406.0L1111.6,408.0L1113.0,408.8L1116.0,410.8L1116.2,411.0L1119.0,413.0L1120.0,414.0L1122.0,415.9L1122.9,417.0L1125.0,420.0L1125.0,420.0L1126.4,423.0L1126.8,426.0L1126.4,429.0L1125.1,432.0L1125.0,432.1L1122.6,435.0L1122.0,435.5L1119.0,437.7L1118.6,438.0L1116.0,439.4L1113.4,441.0L1113.0,441.2L1110.0,442.7L1107.0,443.5L1104.5,444.0L1104.0,444.1L1101.0,444.6L1098.0,445.1L1095.0,445.7L1092.0,446.2L1089.0,446.7L1087.2,447.0L1086.0,447.2L1083.0,447.5L1080.0,447.9L1077.0,448.2L1074.0,448.5L1071.0,448.7L1068.0,449.0L1065.0,449.3L1062.0,449.5L1059.0,449.7L1056.0,449.9L1055.1,450.0L1053.0,450.1L1050.0,450.2L1047.0,450.3L1044.0,450.3L1041.0,450.3L1038.0,450.2L1035.0,450.0L1034.5,450.0L1032.0,449.8L1029.0,449.4L1026.0,448.9L1023.0,448.3L1020.0,447.6L1017.3,447.0L1017.0,446.9L1014.0,446.1L1011.0,445.2L1008.0,444.2L1007.2,444.0L1005.0,443.2L1002.0,442.2L999.0,441.1L998.7,441.0L996.0,439.8L993.0,438.4L992.1,438.0L990.0,436.8L987.0,435.1L986.7,435.0L984.0,433.4L981.4,432.0L981.0,431.8L978.0,430.2L975.1,429.0L975.0,429.0L972.0,428.0L969.0,427.3L966.0,427.0L963.0,426.8L960.0,426.9L957.0,427.1L954.0,427.5L951.0,427.9L948.0,428.3L945.0,428.7L942.0,429.0L942.0,429.0L939.0,429.3L936.0,429.5L933.0,429.8L930.0,430.1L927.0,430.4L924.0,430.7L921.0,431.0L918.0,431.3L915.0,431.6L912.0,431.9L911.2,432.0L909.0,432.2L906.0,432.5L903.0,432.8L900.0,433.1L897.0,433.5L894.0,433.8L891.0,434.3L888.4,435.0L888.0,435.3L885.5,438.0L885.0,438.1L882.0,438.7L879.0,439.2L876.0,439.7L873.0,440.2L870.0,440.7L868.3,441.0L867.0,441.2L864.0,441.6L861.0,442.1L858.0,442.6L855.0,443.1L852.0,443.5L849.0,444.0L848.8,444.0L846.0,444.4L843.0,444.8L840.0,445.2L837.0,445.6L834.0,446.0L831.0,446.5L828.0,447.0L827.9,447.0L825.0,447.5L822.0,448.0L819.0,448.5L816.0,449.1L813.0,449.7L811.7,450.0L810.0,450.3L807.0,451.0L804.0,451.6L801.0,452.3L798.0,452.9L797.8,453.0L795.0,453.6L792.0,454.2L789.0,454.9L786.0,455.5L783.5,456.0L783.0,456.1L780.0,456.7L777.0,457.2L774.0,457.8L771.0,458.2L768.0,458.7L766.2,459.0L765.0,459.2L762.0,459.6L759.0,460.0L756.0,460.4L753.0,460.8L750.0,461.2L747.0,461.6L744.0,461.9L743.4,462.0L741.0,462.3L738.0,462.5L735.0,462.8L732.0,463.0L729.0,463.3L726.0,463.4L723.0,463.5L720.0,463.7L717.0,463.7L714.0,463.7L711.0,463.7L708.0,463.6L705.0,463.5L702.0,463.3L699.0,463.1L696.0,462.9L693.0,462.7L690.0,462.5L687.0,462.2L684.1,462.0L684.0,462.0L681.0,461.7L678.0,461.4L675.0,461.1L672.0,460.7L669.0,460.3L666.0,459.5L664.8,459.0L663.0,457.9L660.0,456.6L657.9,456.0L657.0,455.5L654.0,454.2L651.0,453.3L649.1,453.0L651.0,451.8L652.4,450.0L654.0,447.8L654.6,447.0L657.0,446.3L659.1,444.0L660.0,443.0L661.3,441.0L662.2,438.0L661.3,435.0L661.0,432.0L663.0,429.5L663.1,429.0L663.0,428.9L660.0,428.0L657.0,427.5L654.0,427.2L651.0,427.2L648.0,427.3L645.0,427.3L642.0,427.3L639.0,427.2L636.0,427.1L633.0,426.8L630.0,426.1L629.6,426.0L627.0,425.3L624.0,424.3L621.2,423.0L621.0,423.0L618.0,421.7L615.0,420.4L613.9,420.0L612.0,419.4L609.0,418.6L606.0,418.3L603.0,418.0L600.0,418.1L597.0,418.8L594.0,420.0L593.9,420.0L591.0,421.9L589.6,423.0L588.0,424.3L586.1,426.0L585.0,427.2L583.2,429.0L582.0,430.4L580.7,432.0L579.0,434.2L578.4,435.0L576.2,438.0L576.0,438.3L574.1,441.0L573.0,442.3L571.6,444.0L570.0,445.6L568.4,447.0L567.0,448.1L564.1,450.0L564.0,450.1L561.0,451.8L558.2,453.0L558.0,453.1L555.0,454.4L552.0,455.6L550.9,456.0L549.0,456.8L546.0,458.2L544.4,459.0L543.0,459.9L540.0,462.0L540.0,462.0L537.3,465.0L537.0,465.5L535.5,468.0L534.6,471.0L534.2,474.0L534.0,477.0L535.1,480.0L536.2,483.0L537.0,484.4L539.0,486.0L540.0,486.7L541.6,489.0L543.0,490.5L545.0,492.0L546.0,493.5L547.3,495.0L549.0,497.7L550.0,498.0L552.0,498.9L555.0,500.0L558.0,500.4L561.0,501.0L561.0,501.0L561.0,501.0L559.2,504.0L558.0,505.2L556.9,507.0L555.0,508.8L554.2,510.0L552.0,512.0L551.2,513.0L549.0,514.9L547.8,516.0L546.0,517.3L543.9,519.0L543.0,519.6L540.0,521.7L539.7,522.0L537.0,523.7L535.1,525.0L534.0,525.6L531.0,527.4L530.0,528.0L528.0,529.1L525.0,530.7L524.5,531.0L522.0,532.3L519.0,533.7L518.4,534.0L516.0,535.1L513.0,536.4L511.5,537.0L510.0,537.6L507.0,538.8L504.0,539.9L503.6,540.0L501.0,540.9L498.0,541.8L495.0,542.7L493.8,543.0L492.0,543.5L489.0,544.3L486.0,544.9L483.0,545.5L480.0,546.0L480.0,546.0L477.0,546.5L474.0,546.9L471.0,547.3L468.0,547.6L465.0,547.9L462.0,548.2L459.0,548.5L456.0,548.8L453.4,549.0L453.0,549.0L450.0,549.3L447.0,549.6L444.0,549.9L441.0,550.4L438.0,551.0L435.0,551.5L432.0,552.0L431.8,552.0L429.0,552.5L426.0,553.1L423.0,553.7L420.0,554.4L417.5,555.0L417.0,555.1L414.0,556.0L411.0,556.9L408.0,557.9L407.8,558.0L405.0,559.2L402.0,560.3L400.1,561.0L399.0,561.5L396.0,562.9L393.3,564.0L393.0,564.1L390.0,565.5L387.0,566.9L386.9,567.0L384.0,568.5L381.0,570.0L380.9,570.0L378.0,571.6L375.6,573.0L375.0,573.4L372.0,575.4L371.1,576.0L369.0,577.8L367.6,579.0L366.0,580.4L364.3,582.0L363.0,583.2L360.8,585.0L360.0,585.7L357.2,588.0L357.0,588.2L354.0,590.9L353.9,591.0L351.0,593.1L349.4,594.0L348.0,594.6L345.0,595.7L342.0,596.5L339.6,597.0L339.0,597.1L336.0,597.6L333.0,598.0L330.0,598.4L327.0,598.8L324.0,599.1L321.0,599.4L318.0,599.7L315.0,600.0L314.8,600.0L312.0,600.2L309.0,600.4L306.0,600.6L303.0,600.8L300.0,601.0L297.0,601.2L294.0,601.4L291.0,601.6L288.0,601.7L285.0,601.9L282.0,602.0L279.0,602.1L276.0,602.2L273.0,602.3L270.0,602.4L267.0,602.5L264.0,602.6L261.0,602.7L258.0,602.7L255.0,602.8L252.0,602.8L249.0,602.9L246.0,602.9L243.0,603.0L242.9,603.0L240.0,603.0L237.0,603.1L234.0,603.1L231.0,603.2L228.0,603.2L225.0,603.3L222.0,603.3L219.0,603.1L218.5,603.0L216.0,602.7L213.0,602.3L210.0,602.0L207.0,601.6L204.0,601.3L201.0,600.9L198.0,600.5L195.0,600.1L193.8,600.0L192.0,599.7L189.0,599.3L186.0,598.9L183.0,598.4L180.0,597.9L177.0,597.4L174.6,597.0L174.0,596.9L171.0,596.3L168.0,595.6L165.0,595.0L162.0,594.3L160.5,594.0L159.0,593.6L156.0,592.9L153.0,592.2L150.0,591.4L148.2,591.0L147.0,590.7L144.0,589.9L141.0,589.0L138.0,588.2L137.1,588.0L135.0,587.4L132.0,586.4L129.0,585.5L127.2,585.0L126.0,584.6L123.0,583.6L120.0,582.6L118.2,582.0L117.0,581.6L114.0,580.5L111.0,579.4L109.8,579.0L108.0,578.3L105.0,577.2L102.0,576.0L101.9,576.0L99.0,574.8L96.0,573.6L94.5,573.0L93.0,572.3L90.0,570.9L87.9,570.0L87.0,569.5L84.0,567.9L82.2,567.0L81.0,566.3L78.0,564.4L77.5,564.0L75.0,561.8L74.1,561.0L72.0,558.4L71.7,558.0L70.3,555.0L69.2,552.0L69.0,551.1L68.5,549.0L67.7,546.0L66.7,543.0L66.0,540.6L65.8,540.0L65.1,537.0L64.4,534.0L63.7,531.0L63.0,529.4L62.5,528.0L60.5,525.0L60.0,524.4L57.7,522.0L57.0,521.4L54.0,519.0L54.0,519.0L51.0,516.9L49.6,516.0L48.0,515.0L45.0,513.2L44.8,513.0L42.0,511.4L39.6,510.0L39.0,509.7L36.0,508.0L34.2,507.0L33.0,506.3L30.0,504.7L28.6,504.0L27.0,503.2L24.0,501.7L22.6,501.0L21.0,500.2L18.0,498.8L16.4,498.0L15.0,497.4L12.0,496.0L9.9,495.0L9.0,494.6L6.0,493.2L3.5,492.0L3.0,491.8L0.0,490.6L-3.0,489.6L-4.7,489.0L-6.0,488.6L-6.0,486.0L-6.0,483.0L-6.0,480.0L-6.0,477.0L-6.0,474.0L-6.0,471.0L-6.0,468.0L-6.0,465.0L-6.0,462.0L-6.0,459.0L-6.0,456.0L-6.0,453.0L-6.0,450.0L-6.0,447.0L-6.0,444.0L-6.0,441.0L-6.0,438.0L-6.0,435.0L-6.0,432.0L-6.0,429.0L-6.0,426.0L-6.0,423.0L-6.0,420.0L-6.0,417.0L-6.0,414.0L-6.0,411.0L-6.0,408.0L-6.0,405.0L-6.0,402.0L-6.0,399.0L-6.0,396.0L-6.0,393.0L-6.0,390.0L-6.0,387.0L-6.0,384.0L-6.0,381.0L-6.0,378.0L-6.0,375.0L-6.0,372.0L-6.0,369.0L-6.0,366.0L-6.0,363.0L-6.0,360.0L-6.0,357.0L-6.0,354.0L-6.0,351.0L-6.0,348.0L-6.0,345.0L-6.0,342.0L-6.0,339.0L-6.0,336.0L-6.0,333.0L-6.0,330.0L-6.0,327.0L-6.0,324.0L-6.0,321.0L-6.0,318.0L-6.0,315.0L-6.0,312.0L-6.0,309.0L-6.0,306.0L-6.0,303.0L-6.0,300.0L-6.0,297.0L-6.0,294.0L-6.0,291.0L-6.0,288.0L-6.0,285.0L-6.0,282.0L-6.0,279.0L-6.0,276.0L-6.0,273.0L-6.0,270.0L-6.0,267.0L-6.0,264.0L-6.0,261.0L-6.0,258.0L-6.0,255.0L-6.0,252.0L-6.0,249.0L-6.0,246.0L-6.0,243.0L-6.0,240.0L-6.0,237.0L-6.0,234.0L-6.0,231.0L-6.0,228.0L-6.0,225.0L-6.0,222.0L-6.0,219.0L-6.0,216.0L-6.0,213.0L-6.0,210.0L-6.0,207.0L-6.0,204.0L-6.0,201.0L-6.0,198.0L-6.0,195.0L-6.0,192.0L-6.0,189.0L-6.0,186.0L-6.0,183.0L-6.0,180.0L-6.0,177.0L-6.0,174.0L-6.0,171.0L-6.0,168.0L-6.0,165.0L-6.0,162.0L-6.0,159.0L-6.0,156.0L-6.0,153.0L-6.0,150.0L-6.0,147.0L-6.0,144.0L-6.0,141.0L-6.0,138.0L-6.0,135.0L-6.0,132.0L-6.0,129.0L-6.0,126.0L-6.0,123.0L-6.0,120.0L-6.0,117.0L-6.0,114.0L-6.0,111.0L-6.0,108.0L-6.0,105.0L-6.0,102.0L-6.0,99.0L-6.0,96.0L-6.0,93.0L-6.0,90.0L-6.0,87.0L-6.0,84.0L-6.0,81.0L-6.0,78.0L-6.0,75.0L-6.0,72.0L-6.0,69.0L-6.0,66.0L-6.0,63.0L-6.0,60.0L-6.0,57.0L-6.0,54.0L-6.0,51.0L-6.0,48.0L-6.0,45.0L-6.0,42.0L-6.0,39.0L-6.0,36.0L-6.0,33.0L-6.0,30.0L-6.0,27.0L-6.0,24.0L-6.0,21.0L-6.0,19.3L-4.9,18.0L-3.0,15.9L-1.8,15.0L0.0,13.8L2.9,12.0L3.0,11.9L6.0,10.1L8.0,9.0L9.0,8.5L12.0,7.0L14.0,6.0L15.0,5.5L18.0,4.3L21.0,3.1L21.4,3.0L24.0,2.1L27.0,1.3L30.0,0.6L33.0,0.1L33.9,0.0L36.0,-0.2L39.0,-0.4L42.0,-0.2L44.3,0.0L45.0,0.1L48.0,0.3L51.0,0.6L54.0,0.9L57.0,1.1L60.0,1.4L63.0,1.6L66.0,1.9L69.0,2.1L72.0,2.3L75.0,2.5L78.0,2.7L81.0,2.9L82.2,3.0L84.0,3.1L87.0,3.3L90.0,3.4L93.0,3.5L96.0,3.7L99.0,3.8L102.0,3.9L105.0,4.0L108.0,4.0L111.0,4.1L114.0,4.2L117.0,4.2L120.0,4.3L123.0,4.3L126.0,4.3L129.0,4.4L132.0,4.4L135.0,4.4L138.0,4.5L141.0,4.5L144.0,4.5L147.0,4.5L150.0,4.5L153.0,4.6L156.0,4.6L159.0,4.6L162.0,4.6L165.0,4.6L168.0,4.6L171.0,4.6L174.0,4.6L177.0,4.7L180.0,4.7L183.0,4.7L186.0,4.7L189.0,4.7L192.0,4.7L195.0,4.7L198.0,4.7L201.0,4.7L204.0,4.7L207.0,4.7L210.0,4.7L213.0,4.7L216.0,4.8L219.0,4.9L222.0,5.3L225.0,5.5L228.0,5.7L231.0,5.7L234.0,5.7L237.0,5.7L240.0,5.7L243.0,5.7L246.0,5.7L249.0,5.7L252.0,5.7L255.0,5.8L258.0,5.8L261.0,5.8L264.0,5.8L267.0,5.8L270.0,5.8L273.0,5.8L276.0,5.8L279.0,5.9L282.0,5.9L285.0,5.9L288.0,5.9L291.0,5.9L294.0,5.9L297.0,5.9L300.0,5.9L303.0,5.9L306.0,6.0L309.0,6.0L312.0,6.0L315.0,6.0L316.1,6.0L318.0,6.0L321.0,6.0L324.0,6.0L327.0,6.0L330.0,6.1L333.0,6.1L336.0,6.1L339.0,6.1L342.0,6.1L345.0,6.1L348.0,6.1L351.0,6.1L354.0,6.2L357.0,6.2L360.0,6.2L363.0,6.2L366.0,6.2L369.0,6.2L372.0,6.2L375.0,6.2L378.0,6.2L381.0,6.3L384.0,6.3L387.0,6.3L390.0,6.3L393.0,6.3L396.0,6.3L399.0,6.3L402.0,6.3L405.0,6.4L408.0,6.4L411.0,6.4L414.0,6.4L417.0,6.4L420.0,6.4L423.0,6.4L426.0,6.4L429.0,6.5L432.0,6.5L435.0,6.5L438.0,6.6L441.0,6.9L443.2,9.0L443.9,12.0L444.0,12.1L447.0,12.4L450.0,12.6L453.0,12.7L456.0,12.8L459.0,12.9L462.0,13.0L465.0,13.0L468.0,13.1L471.0,13.2L474.0,13.3L477.0,13.4L480.0,13.5L483.0,13.6L486.0,13.7L489.0,13.9L492.0,14.0L495.0,14.2L498.0,14.4L501.0,14.6L504.0,14.9L505.7,15.0L507.0,15.1L510.0,15.4L513.0,15.6L516.0,16.0L519.0,16.4L522.0,16.9L525.0,17.4L527.4,18.0L528.0,18.1L531.0,18.9L534.0,19.9L537.0,20.9L537.3,21.0L540.0,22.0L543.0,23.3L544.4,24.0L546.0,24.8L549.0,26.4L550.1,27.0L552.0,28.2L554.7,30.0L555.0,30.2L558.0,32.7L558.3,33.0L561.0,35.9L561.1,36.0L563.2,39.0L564.0,40.2L565.0,42.0L566.5,45.0L567.0,46.3L567.6,48.0L568.2,51.0L568.4,54.0L568.5,57.0L568.4,60.0L568.4,63.0L568.7,66.0L569.6,69.0L570.0,69.9L571.2,72.0L573.0,74.3L573.6,75.0L576.0,77.1L577.2,78.0L579.0,79.2L582.0,80.9L582.2,81.0L585.0,82.2L588.0,83.4L589.8,84.0L591.0,84.4L594.0,85.3L597.0,86.2L599.9,87.0L600.0,87.0L603.0,87.9L606.0,88.8L609.0,89.8L609.5,90.0L612.0,90.9L615.0,92.0L617.9,93.0L618.0,93.0L621.0,94.1L624.0,95.1L626.8,96.0L627.0,96.1L630.0,97.0L633.0,97.8L636.0,98.6L637.8,99.0L639.0,99.3L642.0,99.9L645.0,100.5L648.0,101.2L651.0,101.8L651.9,102.0L654.0,102.4L657.0,103.0L660.0,103.6L663.0,104.4L664.2,105.0L666.0,107.8L666.1,108.0L669.0,109.2L672.0,110.6L672.9,111.0L675.0,111.7L678.0,112.9L680.7,114.0L681.0,114.1L684.0,115.3L687.0,116.6L688.0,117.0L690.0,117.9L693.0,119.3L694.4,120.0L696.0,120.8L699.0,122.4L700.2,123.0L702.0,124.0L705.0,125.7L705.6,126.0L708.0,127.4L710.8,129.0L711.0,129.1L714.0,130.5L717.0,130.9L720.0,131.0L723.0,131.1L726.0,131.7L726.6,132.0L729.0,133.7L730.7,135.0L732.0,136.0L734.5,138.0L735.0,138.4L738.0,140.7L738.4,141.0L741.0,142.8L742.8,144.0L744.0,144.8L747.0,146.5L747.8,147.0L750.0,148.1L753.0,149.6L753.8,150.0L756.0,151.0L759.0,152.4L760.5,153.0L762.0,153.6L765.0,154.8L768.0,156.0L768.1,156.0L771.0,157.0L774.0,157.9L777.0,158.8L777.7,159.0L780.0,159.6L783.0,160.3L786.0,160.9L789.0,161.4L792.0,161.9L793.1,162.0L795.0,162.2L798.0,162.6L801.0,162.9L804.0,163.1L807.0,163.3L810.0,163.6L813.0,163.7L816.0,163.9L819.0,163.9L822.0,164.0L825.0,164.1L828.0,164.1L831.0,164.2L834.0,164.2L837.0,164.2L840.0,164.1L843.0,164.0L846.0,163.9L849.0,163.8L852.0,163.6L855.0,163.4L858.0,163.2L861.0,163.0L864.0,162.8L867.0,162.6L870.0,162.4L873.0,162.2L875.9,162.0L876.0,162.0L879.0,161.8L882.0,161.7L885.0,161.1L888.0,160.3L891.0,160.0L894.0,159.6L897.0,159.8L900.0,159.3L903.0,159.4L906.0,159.0L909.0,159.1L911.0,159.0L912.0,158.9L915.0,158.9L915.6,159.0L918.0,159.2L920.5,159.0L921.0,158.9L924.0,156.7L927.0,156.0L927.1,156.0L930.0,155.7L933.0,155.4L936.0,155.1L939.0,154.8L942.0,154.5L945.0,154.1L948.0,153.8L951.0,153.5L954.0,153.2L956.1,153.0L957.0,152.9L960.0,152.6L963.0,152.3L966.0,152.0L969.0,151.7L972.0,151.4L975.0,151.1L978.0,150.8L981.0,150.5L984.0,150.2L986.1,150.0L987.0,149.9L990.0,149.6L993.0,149.4L996.0,149.1L999.0,148.9L1002.0,148.6L1005.0,148.3L1008.0,148.0L1011.0,147.7L1014.0,147.4L1017.0,147.1L1018.1,147.0L1020.0,146.8L1023.0,146.6L1026.0,146.3L1029.0,146.1L1032.0,145.9L1035.0,145.7L1038.0,145.5L1041.0,145.4L1044.0,145.2L1047.0,145.2L1050.0,145.1L1053.0,145.1L1056.0,145.2L1059.0,145.3L1062.0,145.4L1065.0,145.5L1068.0,145.7L1071.0,145.9L1074.0,146.0L1077.0,146.1L1080.0,146.3L1083.0,146.4L1086.0,146.6L1089.0,146.7L1092.0,146.9L1095.0,147.0L1095.0,147.0L1098.0,147.2L1101.0,147.4L1104.0,147.7L1107.0,148.1L1110.0,149.5L1110.4,150.0L1110.4,153.0L1113.0,155.1L1116.0,155.9L1116.3,156.0L1119.0,156.5L1122.0,157.1L1125.0,157.7L1128.0,158.2L1131.0,158.6L1133.8,159.0L1134.0,159.0L1137.0,159.4L1140.0,159.7L1143.0,159.9L1146.0,159.9L1149.0,159.9L1152.0,159.8L1155.0,159.6L1158.0,159.3L1160.3,159.0L1161.0,158.9L1164.0,158.5L1167.0,158.1L1170.0,157.7L1173.0,157.3L1176.0,156.8L1179.0,156.4L1181.6,156.0L1182.0,155.9L1185.0,155.5L1188.0,155.1L1191.0,154.6L1194.0,154.1L1197.0,153.7L1200.0,153.2L1201.1,153.0L1203.0,152.7L1206.0,152.2L1209.0,151.7L1212.0,151.2L1215.0,150.7L1218.0,150.1L1218.7,150.0L1221.0,149.6L1224.0,149.0L1227.0,148.5L1230.0,147.9L1233.0,147.3L1234.4,147.0L1236.0,146.7L1239.0,146.1L1242.0,145.6L1245.0,145.0L1248.0,144.5L1250.4,144.0L1251.0,143.9L1254.0,143.3L1257.0,142.6L1260.0,141.9L1263.0,141.1L1263.3,141.0L1266.0,140.2L1269.0,139.2L1272.0,138.0L1272.0,138.0L1275.0,136.6L1278.0,135.0L1278.1,135.0L1281.0,133.1L1282.7,132.0L1284.0,131.0L1286.5,129.0L1287.0,128.6L1289.9,126.0L1290.0,125.9L1293.0,123.0L1293.0,123.0L1296.0,120.0L1296.0,120.0L1298.9,117.0L1299.0,116.9L1301.8,114.0L1302.0,113.8L1304.5,111.0L1305.0,110.5L1307.1,108.0L1308.0,106.9L1309.5,105.0L1311.0,102.9L1311.7,102.0L1313.7,99.0L1314.0,98.4L1315.4,96.0L1317.0,93.1L1317.1,93.0L1318.5,90.0L1319.7,87.0L1320.0,86.1L1320.7,84.0L1321.4,81.0L1321.8,78.0L1321.7,75.0L1321.0,72.0L1320.0,69.9L1319.5,69.0L1317.0,66.0L1317.0,66.0L1314.0,63.6L1313.2,63.0L1311.0,61.7L1308.0,60.1L1307.9,60.0L1305.0,58.6L1302.0,57.3L1301.3,57.0L1299.0,56.1L1296.0,54.9L1293.7,54.0L1293.0,53.8L1290.0,52.7L1287.0,51.6L1285.2,51.0L1284.0,50.6L1281.0,49.6L1278.0,48.6L1276.1,48.0L1275.0,47.7L1272.0,46.7L1269.0,45.8L1266.5,45.0L1266.0,44.8L1263.0,43.9L1260.0,43.0L1257.0,42.1L1256.7,42.0L1254.0,41.2L1251.0,40.4L1248.0,39.5L1246.3,39.0L1245.0,38.6L1242.0,37.8L1239.0,37.0L1236.0,36.2L1235.2,36.0L1233.0,35.4L1230.0,34.7L1227.0,33.9L1224.0,33.2L1223.3,33.0L1221.0,32.5L1218.0,31.8L1215.0,31.1L1212.0,30.4L1210.0,30.0L1209.0,29.8L1206.0,29.2L1203.0,28.6L1200.0,28.0L1197.0,27.5L1194.3,27.0L1194.0,26.9L1191.0,26.4L1188.0,25.9L1185.0,25.4L1182.0,25.0L1179.0,24.5L1176.0,24.1L1175.5,24.0L1173.0,23.6L1170.0,23.2L1167.0,22.8L1164.0,22.4L1161.0,22.0L1158.0,21.6L1155.0,21.2L1153.0,21.0L1152.0,20.9L1149.0,20.6L1146.0,20.2L1143.0,19.9L1140.0,19.6L1137.0,19.3L1134.0,19.1L1131.0,18.8L1128.0,18.5L1125.0,18.2L1122.4,18.0L1122.0,18.0L1119.0,17.7L1116.0,17.4L1113.0,17.1L1110.0,16.9L1107.0,16.5L1104.0,16.1L1101.0,15.7L1098.0,15.2L1096.2,15.0L1095.0,14.8L1092.0,14.4L1089.0,14.0L1086.0,13.6L1083.0,13.2L1080.0,12.9L1077.0,12.5L1074.0,12.2L1072.6,12.0L1071.0,11.8L1068.0,11.5L1065.0,11.1L1062.0,10.8L1059.0,10.4L1056.0,10.1L1053.0,9.9L1050.0,9.6L1047.0,9.4L1044.0,9.2L1041.0,9.0L1041.0,9.0L1038.0,8.9L1035.0,8.8L1032.0,8.7L1029.0,8.6L1026.0,8.6L1023.0,8.5L1020.0,8.5L1017.0,8.4L1014.0,8.4L1011.0,8.4L1008.0,8.3L1005.0,8.3L1002.0,8.3L999.0,7.8L996.0,6.4L995.2,6.0L993.0,4.8L990.0,3.3L989.1,3.0L987.0,2.1L984.0,1.1L981.0,0.3L979.7,0.0L978.0,-0.4L975.0,-0.9L972.0,-1.2L969.0,-1.5L966.0,-1.8L963.0,-1.9L960.0,-2.1L957.0,-2.7L954.0,-2.9L951.0,-3.0L948.5,-3.0L948.0,-3.0L945.0,-3.1L942.0,-3.2L939.0,-3.2L936.0,-3.4L933.0,-3.4L930.0,-3.4L927.0,-3.5L924.0,-3.5L921.0,-3.4L919.6,-3.0L918.0,-2.3L915.0,-2.2L912.0,-2.2L909.0,-2.1L906.0,-2.2L903.0,-2.0L900.0,-2.1L897.0,-2.0L894.0,-2.2L891.0,-2.2L888.0,-2.3L885.0,-2.8L882.0,-2.8L879.0,-2.9L876.0,-3.0L875.2,-3.0L873.0,-3.1L870.0,-3.1L867.0,-3.2L864.0,-3.1L861.0,-3.3L858.0,-3.3L855.0,-3.3L852.0,-3.3L849.0,-3.4L846.7,-3.0L846.0,-2.9L843.0,-2.8L840.0,-2.7L839.0,-3.0L837.0,-3.5L834.0,-3.9L831.0,-5.0L829.5,-6.0ZM768.0,365.8L766.6,366.0L765.0,366.2L762.0,366.8L759.0,367.3L756.0,367.9L753.0,368.5L750.4,369.0L750.0,369.1L747.0,369.8L744.0,370.6L741.0,371.3L738.1,372.0L738.0,372.0L735.0,373.0L732.0,373.9L729.0,374.8L728.3,375.0L726.0,375.9L723.0,377.0L720.2,378.0L720.0,378.1L717.0,379.7L714.9,381.0L714.0,381.8L711.7,384.0L711.0,385.4L710.4,387.0L711.0,389.7L711.2,390.0L714.0,392.3L716.3,393.0L717.0,393.2L720.0,393.8L723.0,394.1L726.0,394.3L729.0,394.5L732.0,394.6L735.0,394.9L738.0,395.2L741.0,395.6L744.0,395.9L744.4,396.0L747.0,396.3L750.0,396.7L753.0,397.0L756.0,397.2L759.0,397.4L762.0,397.6L765.0,397.7L768.0,397.8L771.0,397.8L774.0,397.8L777.0,397.7L780.0,397.5L783.0,397.1L786.0,396.5L787.8,396.0L789.0,395.6L792.0,394.2L794.3,393.0L795.0,392.6L798.0,390.6L798.8,390.0L801.0,388.2L802.5,387.0L804.0,385.6L805.7,384.0L807.0,382.6L808.3,381.0L810.0,378.7L810.4,378.0L811.7,375.0L812.2,372.0L811.4,369.0L810.0,367.5L807.8,366.0L807.0,365.7L804.0,365.0L801.0,364.6L798.0,364.4L795.0,364.3L792.0,364.2L789.0,364.2L786.0,364.3L783.0,364.4L780.0,364.5L777.0,364.8L774.0,365.0L771.0,365.4L768.0,365.8ZM602.9,444.0L603.0,444.0L606.0,443.4L609.0,443.1L612.0,443.2L615.0,443.6L617.1,444.0L618.0,444.2L621.0,445.0L624.0,445.8L627.0,446.6L628.7,447.0L630.0,447.5L633.0,448.3L636.0,449.2L639.0,450.0L639.0,450.0L642.0,450.9L644.6,453.0L642.0,455.9L641.9,456.0L639.0,457.0L636.0,458.8L635.8,459.0L633.0,460.3L630.4,462.0L630.0,462.3L629.9,462.0L627.0,460.5L624.0,459.3L622.0,462.0L621.0,463.2L619.9,465.0L618.0,467.1L616.9,468.0L615.0,469.3L613.6,471.0L612.0,472.9L611.2,474.0L609.0,475.8L607.8,477.0L606.0,478.9L604.7,480.0L603.0,481.3L600.8,483.0L600.0,483.6L597.0,484.4L594.0,485.7L593.5,486.0L591.0,487.5L588.9,489.0L588.0,489.6L585.0,491.2L583.7,492.0L582.0,493.1L579.0,494.3L577.3,495.0L576.0,495.6L573.0,496.8L570.0,497.4L568.5,498.0L567.0,498.6L564.0,498.3L563.8,498.0L564.0,497.8L565.7,495.0L567.0,492.8L567.3,492.0L569.1,489.0L570.0,487.2L570.5,486.0L571.9,483.0L573.0,480.1L573.0,480.0L574.4,477.0L575.6,474.0L576.0,473.0L577.0,471.0L578.5,468.0L579.0,467.1L580.3,465.0L582.0,462.0L582.0,461.9L583.9,459.0L585.0,457.4L586.1,456.0L588.0,453.8L588.7,453.0L591.0,450.9L592.1,450.0L594.0,448.5L596.3,447.0L597.0,446.6L600.0,445.1L602.9,444.0Z" fill="#0030ff" fill-rule="evenodd"/><path d="M122.6,123.0L123.0,123.0L126.0,122.8L129.0,122.8L132.0,122.8L135.0,122.8L138.0,122.9L140.3,123.0L141.0,123.0L144.0,123.3L147.0,123.6L150.0,124.0L153.0,124.4L156.0,124.9L159.0,125.4L162.0,126.0L162.1,126.0L165.0,126.6L168.0,127.2L171.0,127.9L174.0,128.5L176.2,129.0L177.0,129.2L180.0,130.0L183.0,130.7L186.0,131.5L187.7,132.0L189.0,132.4L192.0,133.2L195.0,134.1L198.0,135.0L198.0,135.0L201.0,135.9L204.0,136.8L207.0,137.7L208.0,138.0L210.0,138.7L213.0,139.7L216.0,140.6L217.4,141.0L219.0,141.9L220.4,144.0L219.6,147.0L219.4,150.0L221.0,153.0L222.0,153.6L225.0,154.6L228.0,155.5L229.3,156.0L231.0,156.4L234.0,157.2L237.0,158.0L240.0,158.9L240.4,159.0L243.0,159.6L246.0,160.3L249.0,161.0L252.0,161.7L253.4,162.0L255.0,162.3L258.0,162.8L261.0,163.2L264.0,163.6L267.0,164.0L270.0,164.3L273.0,164.6L276.0,164.8L279.0,165.0L279.1,165.0L282.0,165.1L285.0,165.1L288.0,165.1L291.0,165.0L291.7,165.0L294.0,164.9L297.0,164.6L300.0,164.3L303.0,163.9L306.0,163.5L309.0,162.9L312.0,162.4L314.9,162.0L315.0,162.0L318.0,161.4L321.0,160.6L324.0,159.9L327.0,159.3L328.2,159.0L330.0,158.4L333.0,157.5L336.0,156.5L337.7,156.0L339.0,155.5L342.0,154.4L345.0,153.5L346.5,153.0L348.0,152.5L351.0,151.6L354.0,150.8L357.0,150.0L357.2,150.0L360.0,149.5L363.0,149.0L366.0,148.7L369.0,148.4L372.0,148.2L375.0,148.1L378.0,148.0L381.0,148.0L384.0,147.9L387.0,147.9L390.0,147.9L393.0,147.8L396.0,147.8L399.0,147.8L402.0,147.7L405.0,147.7L408.0,147.7L411.0,147.7L414.0,147.7L417.0,147.7L420.0,147.7L423.0,147.7L426.0,147.7L429.0,147.8L432.0,147.8L435.0,147.8L438.0,147.7L441.0,147.6L443.1,147.0L444.0,146.5L446.7,144.0L447.0,143.8L450.0,141.6L450.8,141.0L453.0,139.5L455.1,138.0L456.0,137.4L459.0,135.3L459.4,135.0L462.0,133.3L464.0,132.0L465.0,131.4L468.0,129.5L468.9,129.0L471.0,127.8L474.0,126.3L474.6,126.0L477.0,125.1L480.0,124.0L483.0,123.1L483.3,123.0L486.0,122.4L489.0,121.9L492.0,121.6L495.0,121.4L498.0,121.3L501.0,121.2L504.0,121.2L507.0,121.2L510.0,121.2L513.0,121.1L516.0,121.1L519.0,121.1L522.0,121.2L525.0,121.3L528.0,121.4L531.0,121.6L534.0,121.8L537.0,122.0L540.0,122.3L543.0,122.5L546.0,122.8L548.7,123.0L549.0,123.0L552.0,123.3L555.0,123.6L558.0,123.9L561.0,124.3L564.0,124.7L567.0,125.0L570.0,125.4L573.0,125.9L573.9,126.0L576.0,126.3L579.0,126.8L582.0,127.2L585.0,127.8L588.0,128.3L591.0,128.9L591.6,129.0L594.0,129.5L597.0,130.1L600.0,130.7L603.0,131.3L606.0,132.0L606.1,132.0L609.0,132.6L612.0,133.2L615.0,133.8L618.0,134.4L620.9,135.0L621.0,135.0L624.0,135.6L627.0,136.2L630.0,137.0L632.8,138.0L631.9,141.0L630.8,144.0L630.1,147.0L630.0,147.3L629.6,150.0L629.3,153.0L629.0,156.0L629.0,159.0L630.0,162.0L630.0,162.0L633.0,162.4L636.0,162.5L639.0,162.6L642.0,162.4L645.0,162.3L648.0,162.1L650.3,162.0L651.0,162.0L654.0,161.8L657.0,161.7L660.0,161.6L663.0,161.7L666.0,161.7L669.0,161.9L670.2,162.0L672.0,162.1L675.0,162.6L678.0,163.4L681.0,164.9L681.2,165.0L684.0,167.1L685.0,168.0L687.0,170.5L687.4,171.0L689.3,174.0L690.0,175.4L690.9,177.0L692.3,180.0L693.0,181.7L693.6,183.0L694.8,186.0L695.8,189.0L696.0,189.7L696.8,192.0L697.6,195.0L698.2,198.0L698.5,201.0L698.4,204.0L697.8,207.0L696.0,210.0L696.0,210.0L693.9,213.0L693.0,213.8L690.9,216.0L690.0,216.7L687.0,219.0L687.0,219.0L684.0,221.0L682.6,222.0L681.0,223.0L678.0,224.9L677.8,225.0L675.0,227.2L674.2,228.0L672.0,230.6L671.7,231.0L670.5,234.0L670.2,237.0L671.5,240.0L672.0,240.5L675.0,241.4L678.0,241.6L681.0,241.6L684.0,241.4L687.0,241.1L690.0,240.7L693.0,240.2L694.1,240.0L696.0,239.4L699.0,237.8L699.9,237.0L701.6,234.0L702.0,232.8L702.6,231.0L703.0,228.0L703.5,225.0L704.0,222.0L704.4,219.0L704.8,216.0L705.0,215.3L705.7,213.0L707.8,210.0L708.0,209.9L711.0,207.9L712.6,207.0L714.0,206.5L717.0,205.7L720.0,205.1L723.0,204.7L726.0,204.4L729.0,204.2L732.0,204.0L733.3,204.0L735.0,203.9L738.0,203.9L741.0,203.8L744.0,203.8L747.0,203.8L750.0,203.8L753.0,203.8L756.0,203.8L759.0,203.9L762.0,203.9L765.0,203.9L768.0,203.9L771.0,204.0L774.0,204.0L777.0,204.0L780.0,203.9L783.0,203.9L786.0,203.8L789.0,203.7L792.0,203.6L795.0,203.5L798.0,203.4L801.0,203.4L804.0,203.3L807.0,203.2L810.0,203.1L813.0,203.0L816.0,202.8L819.0,202.6L822.0,202.4L825.0,202.1L828.0,201.8L831.0,201.5L834.0,201.2L835.8,201.0L837.0,200.9L840.0,200.6L843.0,200.3L846.0,200.0L849.0,199.7L852.0,199.3L855.0,198.9L858.0,198.4L860.4,198.0L861.0,197.9L864.0,197.5L867.0,197.2L870.0,196.8L873.0,196.4L876.0,196.0L879.0,195.5L882.0,195.0L882.3,195.0L885.0,194.0L886.3,192.0L888.0,190.2L891.0,189.4L894.0,189.7L897.0,189.0L900.0,189.7L901.3,189.0L903.0,188.9L904.8,189.0L906.0,189.9L907.2,189.0L909.0,188.9L910.5,189.0L912.0,190.0L915.0,189.2L918.0,189.6L921.0,189.3L922.1,189.0L924.0,188.8L927.0,188.9L929.3,189.0L930.0,189.1L933.0,189.5L936.0,189.9L939.0,190.3L942.0,190.9L945.0,191.5L947.0,192.0L948.0,192.3L951.0,193.6L954.0,195.0L954.0,195.0L957.0,197.4L957.7,198.0L959.8,201.0L960.0,201.3L961.3,204.0L962.3,207.0L963.0,209.8L963.0,210.0L963.6,213.0L964.0,216.0L964.2,219.0L964.2,222.0L964.1,225.0L964.0,228.0L963.8,231.0L963.6,234.0L963.5,237.0L963.4,240.0L963.3,243.0L963.2,246.0L963.1,249.0L963.0,252.0L963.0,253.5L963.0,255.0L962.8,258.0L962.7,261.0L962.6,264.0L962.4,267.0L962.2,270.0L961.9,273.0L961.6,276.0L961.3,279.0L960.4,282.0L960.0,282.6L957.5,285.0L957.0,285.3L954.0,286.8L951.0,288.0L951.0,288.0L948.0,288.9L945.0,289.7L942.0,290.4L939.2,291.0L939.0,291.0L936.0,291.6L933.0,292.2L930.0,292.7L927.0,293.2L924.0,293.6L921.1,294.0L921.0,294.0L918.0,294.5L915.0,295.0L912.0,295.4L909.0,295.6L906.0,295.9L903.0,296.2L900.0,296.6L897.0,296.8L894.4,297.0L894.0,297.1L891.0,297.5L888.0,299.3L887.3,300.0L885.0,301.1L882.0,301.7L879.0,302.3L876.0,302.4L873.0,302.7L870.8,303.0L870.0,303.1L867.0,303.4L864.0,303.8L861.0,304.3L858.0,304.7L855.0,305.4L852.5,306.0L852.0,306.1L849.0,307.1L846.0,308.4L845.1,309.0L843.0,310.4L841.3,312.0L840.0,313.2L838.5,315.0L837.0,316.9L836.3,318.0L834.4,321.0L834.0,321.7L832.8,324.0L831.2,327.0L831.0,327.2L828.0,328.7L825.0,328.0L822.0,327.6L819.0,328.2L816.0,329.5L814.9,330.0L813.0,330.7L810.0,331.9L807.5,333.0L807.0,333.2L804.0,334.4L801.0,335.6L800.0,336.0L798.0,336.7L795.0,337.9L792.0,339.0L792.0,339.0L789.0,340.2L786.0,341.3L784.1,342.0L783.0,342.4L780.0,343.5L777.0,344.6L775.8,345.0L774.0,345.6L771.0,346.7L768.0,347.7L767.0,348.0L765.0,348.6L762.0,349.5L759.0,350.3L756.3,351.0L756.0,351.1L753.0,351.7L750.0,352.3L747.0,352.8L744.0,353.3L741.0,353.8L739.7,354.0L738.0,354.3L735.0,354.8L732.0,355.5L729.0,356.1L726.0,356.9L725.5,357.0L723.0,357.7L720.0,358.6L717.0,359.5L715.5,360.0L714.0,360.5L711.0,361.5L708.0,362.5L706.6,363.0L705.0,363.6L702.0,364.7L699.0,365.9L698.6,366.0L696.0,367.1L693.0,368.3L691.3,369.0L690.0,369.6L687.0,371.1L684.9,372.0L684.0,372.6L681.0,374.3L679.1,375.0L678.0,376.5L675.7,378.0L678.0,379.0L679.0,381.0L680.5,384.0L681.0,385.6L681.4,387.0L681.6,390.0L681.2,393.0L681.0,393.4L679.9,396.0L678.0,398.2L677.1,399.0L675.0,400.3L672.0,401.4L669.0,401.8L666.0,401.8L663.0,401.8L660.0,401.7L657.0,401.7L654.0,401.6L651.0,401.5L648.0,401.5L645.0,401.5L642.0,401.5L639.0,401.5L636.0,401.6L633.0,401.7L630.0,401.8L627.0,402.0L626.5,402.0L624.0,402.1L621.0,402.2L618.0,402.4L615.0,402.6L612.0,402.9L609.0,403.2L606.0,403.6L603.0,404.1L600.0,404.8L599.4,405.0L597.0,405.8L594.0,407.1L592.2,408.0L591.0,408.7L588.0,410.6L587.5,411.0L585.0,413.0L583.8,414.0L582.0,415.5L580.3,417.0L579.0,418.1L576.9,420.0L576.0,420.8L573.7,423.0L573.0,423.7L570.8,426.0L570.0,426.9L568.0,429.0L567.0,430.1L565.2,432.0L564.0,433.3L562.4,435.0L561.0,436.4L559.4,438.0L558.0,439.3L556.0,441.0L555.0,441.8L552.0,444.0L552.0,444.0L549.0,446.0L547.5,447.0L546.0,447.9L543.0,449.6L542.4,450.0L540.0,451.5L537.5,453.0L537.0,453.3L534.0,455.4L533.1,456.0L531.0,457.7L529.3,459.0L528.0,460.3L526.0,462.0L525.0,463.1L522.9,465.0L522.0,466.0L520.0,468.0L519.0,469.2L517.2,471.0L516.0,472.5L514.6,474.0L513.0,476.3L512.3,477.0L510.3,480.0L510.0,480.9L508.8,483.0L508.1,486.0L508.6,489.0L510.0,492.0L510.0,492.0L511.2,495.0L512.0,498.0L512.2,501.0L511.4,504.0L510.1,507.0L510.0,507.2L508.0,510.0L507.0,511.0L504.7,513.0L504.0,513.5L501.0,515.2L499.3,516.0L498.0,516.5L495.0,517.6L492.0,518.6L490.6,519.0L489.0,519.4L486.0,520.2L483.0,520.9L480.0,521.8L479.3,522.0L477.0,522.5L474.0,523.2L471.0,523.8L468.0,524.5L466.0,525.0L465.0,525.2L462.0,525.7L459.0,526.2L456.0,526.8L453.0,527.4L450.2,528.0L450.0,528.0L447.0,528.5L444.0,529.1L441.0,529.4L438.0,529.7L435.0,530.0L432.0,530.2L429.0,530.5L426.0,530.8L424.4,531.0L423.0,531.1L420.0,531.4L417.0,531.6L414.0,531.9L411.0,532.2L408.0,532.5L405.0,532.9L402.0,533.2L399.0,533.6L396.7,534.0L396.0,534.1L393.0,534.4L390.0,534.9L387.0,535.3L384.0,535.8L381.0,536.4L378.1,537.0L378.0,537.0L375.0,537.5L372.0,538.1L369.0,538.7L366.0,539.4L363.4,540.0L363.0,540.1L360.0,540.8L357.0,541.5L354.0,542.2L351.0,543.0L351.0,543.0L348.0,543.8L345.0,544.6L342.0,545.5L340.1,546.0L339.0,546.3L336.0,547.3L333.0,548.2L330.3,549.0L330.0,549.1L327.0,550.1L324.0,551.1L321.2,552.0L321.0,552.1L318.0,553.2L315.0,554.2L312.7,555.0L312.0,555.3L309.0,556.4L306.0,557.5L304.7,558.0L303.0,558.7L300.0,560.1L298.0,561.0L297.0,561.5L294.0,562.9L291.8,564.0L291.0,564.4L288.0,565.9L285.7,567.0L285.0,567.3L282.0,568.8L279.3,570.0L279.0,570.1L276.0,571.4L273.0,572.5L271.6,573.0L270.0,573.5L267.0,574.3L264.0,575.0L261.0,575.5L258.0,575.8L255.0,576.0L253.3,576.0L252.0,576.0L249.0,576.0L248.4,576.0L246.0,575.9L243.0,575.8L240.0,575.6L237.0,575.3L234.0,575.1L231.0,574.8L228.0,574.5L225.0,574.1L222.0,573.3L221.1,573.0L219.0,572.2L216.0,571.3L213.0,570.7L210.1,570.0L210.0,570.0L207.0,569.1L204.0,568.1L201.0,567.2L200.4,567.0L198.0,566.1L195.0,564.9L193.3,564.0L192.0,563.1L189.8,561.0L189.0,559.6L188.3,558.0L187.9,555.0L187.9,552.0L188.2,549.0L188.4,546.0L188.4,543.0L187.9,540.0L186.8,537.0L186.0,535.8L184.4,534.0L183.0,533.0L180.0,531.2L179.6,531.0L177.0,529.8L174.0,528.5L173.0,528.0L171.0,527.2L168.0,525.8L166.2,525.0L165.0,524.5L162.0,523.2L159.2,522.0L159.0,521.9L156.0,520.7L153.0,519.5L152.0,519.0L150.0,518.3L147.0,517.1L144.5,516.0L144.0,515.8L141.0,514.7L138.0,513.5L136.7,513.0L135.0,512.4L132.0,511.3L129.0,510.1L128.8,510.0L126.0,509.0L123.0,507.9L120.5,507.0L120.0,506.8L117.0,505.8L114.0,504.8L111.8,504.0L111.0,503.7L108.0,502.8L105.0,501.8L102.6,501.0L102.0,500.8L99.0,499.9L96.0,498.9L93.1,498.0L93.0,498.0L90.0,497.1L87.0,496.2L84.0,495.2L83.4,495.0L81.0,494.3L78.0,493.4L75.0,492.4L73.8,492.0L72.0,491.4L69.0,490.5L66.0,489.5L64.5,489.0L63.0,488.5L60.0,487.5L57.0,486.5L55.6,486.0L54.0,485.4L51.0,484.4L48.0,483.2L47.3,483.0L45.0,482.1L42.0,480.9L39.7,480.0L39.0,479.7L36.0,478.5L33.0,477.2L32.4,477.0L30.0,475.9L27.0,474.7L25.4,474.0L24.0,473.4L21.0,472.1L18.5,471.0L18.0,470.8L15.0,469.4L12.0,468.1L11.7,468.0L9.0,466.7L6.0,465.5L5.0,465.0L3.0,464.1L0.0,462.6L-0.9,462.0L-3.0,460.7L-5.4,459.0L-6.0,458.6L-6.0,456.0L-6.0,453.0L-6.0,450.0L-6.0,447.0L-6.0,444.0L-6.0,441.0L-6.0,438.0L-6.0,435.0L-6.0,432.0L-6.0,429.0L-6.0,426.0L-6.0,423.0L-6.0,420.0L-6.0,417.0L-6.0,414.0L-6.0,411.0L-6.0,408.0L-6.0,405.0L-6.0,402.0L-6.0,399.0L-6.0,396.0L-6.0,393.0L-6.0,390.0L-6.0,387.0L-6.0,384.0L-6.0,381.0L-6.0,378.0L-6.0,375.0L-6.0,372.0L-6.0,369.0L-6.0,366.0L-6.0,363.0L-6.0,360.0L-6.0,357.0L-6.0,354.0L-6.0,351.0L-6.0,348.0L-6.0,345.0L-6.0,342.0L-6.0,339.0L-6.0,336.0L-6.0,333.0L-6.0,330.0L-6.0,327.0L-6.0,324.0L-6.0,321.0L-6.0,318.0L-6.0,315.0L-6.0,312.0L-6.0,309.0L-6.0,306.0L-6.0,303.0L-6.0,300.0L-6.0,297.0L-6.0,294.0L-6.0,291.0L-6.0,288.0L-6.0,285.0L-6.0,282.0L-6.0,279.0L-6.0,276.0L-6.0,273.0L-6.0,270.0L-6.0,267.0L-6.0,264.0L-6.0,261.0L-6.0,258.0L-6.0,255.0L-6.0,252.0L-6.0,249.0L-6.0,246.0L-6.0,243.0L-6.0,240.0L-6.0,237.0L-6.0,234.0L-6.0,231.0L-6.0,228.0L-6.0,225.0L-6.0,222.0L-6.0,219.0L-6.0,216.0L-6.0,213.0L-6.0,210.0L-6.0,207.0L-6.0,204.0L-6.0,201.0L-6.0,198.0L-6.0,195.0L-6.0,192.0L-6.0,189.0L-6.0,186.0L-6.0,183.0L-6.0,180.0L-6.0,177.0L-6.0,174.0L-6.0,171.0L-6.0,168.0L-6.0,165.0L-6.0,162.0L-6.0,160.9L-3.0,160.5L0.0,160.0L3.0,159.4L5.0,159.0L6.0,158.7L9.0,158.0L12.0,157.3L15.0,156.6L17.7,156.0L18.0,155.9L21.0,155.1L24.0,154.3L27.0,153.5L28.7,153.0L30.0,152.6L33.0,151.6L36.0,150.5L37.3,150.0L39.0,149.3L42.0,147.9L44.1,147.0L45.0,146.6L48.0,145.1L50.4,144.0L51.0,143.7L54.0,142.2L56.5,141.0L57.0,140.7L60.0,139.3L63.0,138.0L63.0,138.0L66.0,136.7L69.0,135.5L70.5,135.0L72.0,134.4L75.0,133.3L78.0,132.3L78.9,132.0L81.0,131.3L84.0,130.3L87.0,129.4L88.3,129.0L90.0,128.5L93.0,127.7L96.0,126.9L99.0,126.2L100.1,126.0L102.0,125.6L105.0,125.1L108.0,124.6L111.0,124.1L114.0,123.8L117.0,123.4L120.0,123.2L122.6,123.0ZM387.0,499.9L384.5,501.0L387.0,502.2L390.0,502.5L393.0,502.0L396.0,501.4L397.1,501.0L396.0,500.5L393.0,499.7L390.0,499.8L387.0,499.9ZM477.0,485.8L476.6,486.0L474.0,487.4L471.3,489.0L471.0,489.3L468.1,492.0L471.0,493.2L474.0,494.0L476.8,495.0L477.0,495.3L480.0,495.6L483.0,495.1L484.4,495.0L484.8,492.0L485.6,489.0L484.7,486.0L483.0,485.5L480.0,485.2L477.0,485.8ZM669.0,374.5L666.5,375.0L666.0,375.1L664.3,378.0L665.5,381.0L666.0,381.2L668.5,381.0L669.0,380.7L672.0,379.0L674.7,378.0L672.0,375.0L672.0,375.0L669.0,374.5ZM637.4,135.0L639.0,134.4L642.0,133.3L645.0,132.8L648.0,132.9L651.0,133.4L654.0,134.2L656.5,135.0L657.0,135.3L660.0,137.0L661.9,138.0L663.0,139.0L664.8,141.0L663.0,143.7L660.0,142.7L657.0,142.0L654.0,141.3L651.3,141.0L651.0,140.9L648.0,140.1L645.0,139.3L642.0,138.7L639.0,138.2L636.9,138.0L637.4,135.0ZM1336.8,165.0L1338.0,164.1L1338.0,165.0L1338.0,168.0L1338.0,171.0L1338.0,174.0L1338.0,177.0L1338.0,180.0L1338.0,183.0L1338.0,186.0L1338.0,189.0L1338.0,192.0L1338.0,195.0L1338.0,198.0L1338.0,201.0L1338.0,204.0L1338.0,207.0L1338.0,210.0L1338.0,213.0L1338.0,216.0L1338.0,219.0L1338.0,222.0L1338.0,225.0L1338.0,228.0L1338.0,231.0L1338.0,234.0L1338.0,237.0L1338.0,240.0L1338.0,243.0L1338.0,246.0L1338.0,249.0L1338.0,252.0L1338.0,255.0L1338.0,258.0L1338.0,261.0L1338.0,264.0L1338.0,267.0L1338.0,270.0L1338.0,273.0L1338.0,276.0L1338.0,279.0L1338.0,282.0L1338.0,285.0L1338.0,288.0L1338.0,291.0L1338.0,294.0L1338.0,297.0L1338.0,300.0L1338.0,303.0L1338.0,306.0L1338.0,309.0L1338.0,312.0L1338.0,315.0L1338.0,318.0L1338.0,321.0L1338.0,324.0L1338.0,327.0L1338.0,330.0L1338.0,333.0L1338.0,336.0L1338.0,339.0L1338.0,342.0L1338.0,345.0L1338.0,348.0L1338.0,351.0L1338.0,354.0L1338.0,357.0L1338.0,360.0L1338.0,363.0L1338.0,366.0L1338.0,369.0L1338.0,372.0L1338.0,375.0L1338.0,378.0L1338.0,381.0L1338.0,384.0L1338.0,387.0L1338.0,390.0L1338.0,393.0L1338.0,396.0L1338.0,399.0L1338.0,402.0L1338.0,405.0L1338.0,408.0L1338.0,411.0L1338.0,414.0L1338.0,417.0L1338.0,420.0L1338.0,423.0L1338.0,426.0L1338.0,429.0L1338.0,432.0L1338.0,435.0L1338.0,438.0L1338.0,441.0L1338.0,444.0L1338.0,447.0L1338.0,450.0L1338.0,453.0L1338.0,456.0L1335.0,454.1L1333.4,453.0L1332.0,452.0L1329.6,450.0L1329.0,449.5L1326.2,447.0L1326.0,446.9L1323.0,444.2L1322.7,444.0L1320.0,441.6L1319.3,441.0L1317.0,439.0L1315.9,438.0L1314.0,436.3L1312.6,435.0L1311.0,433.6L1309.2,432.0L1308.0,430.9L1306.0,429.0L1305.0,428.1L1302.8,426.0L1302.0,425.2L1299.7,423.0L1299.0,422.3L1296.7,420.0L1296.0,419.3L1293.8,417.0L1293.0,416.2L1290.9,414.0L1290.0,413.0L1288.1,411.0L1287.0,409.8L1285.3,408.0L1284.0,406.5L1282.7,405.0L1281.0,403.0L1280.1,402.0L1278.0,399.4L1277.7,399.0L1275.4,396.0L1275.0,395.5L1273.2,393.0L1272.0,391.3L1271.1,390.0L1269.1,387.0L1269.0,386.9L1267.2,384.0L1266.0,382.1L1265.3,381.0L1263.6,378.0L1263.0,376.9L1262.0,375.0L1260.4,372.0L1260.0,371.1L1259.0,369.0L1257.6,366.0L1257.0,364.5L1256.4,363.0L1255.2,360.0L1254.2,357.0L1254.0,356.2L1253.3,354.0L1252.5,351.0L1251.8,348.0L1251.1,345.0L1251.0,344.6L1250.4,342.0L1249.8,339.0L1249.1,336.0L1248.5,333.0L1248.0,331.1L1247.7,330.0L1247.2,327.0L1246.8,324.0L1246.6,321.0L1246.3,318.0L1246.0,315.0L1245.6,312.0L1245.2,309.0L1245.0,307.6L1244.8,306.0L1244.2,303.0L1243.7,300.0L1243.0,297.0L1242.4,294.0L1242.0,292.3L1241.7,291.0L1241.0,288.0L1240.2,285.0L1239.5,282.0L1239.0,280.1L1238.7,279.0L1237.9,276.0L1237.2,273.0L1236.4,270.0L1236.0,268.2L1235.7,267.0L1235.0,264.0L1234.3,261.0L1233.6,258.0L1233.0,255.4L1232.9,255.0L1232.2,252.0L1231.6,249.0L1230.9,246.0L1230.3,243.0L1230.0,241.6L1229.6,240.0L1229.0,237.0L1228.4,234.0L1227.9,231.0L1227.4,228.0L1227.0,225.6L1226.9,225.0L1226.4,222.0L1225.8,219.0L1225.3,216.0L1225.0,213.0L1225.3,210.0L1226.4,207.0L1227.0,206.0L1228.4,204.0L1230.0,202.3L1231.4,201.0L1233.0,199.8L1235.5,198.0L1236.0,197.7L1239.0,196.0L1241.2,195.0L1242.0,194.7L1245.0,193.5L1248.0,192.4L1249.5,192.0L1251.0,191.6L1254.0,190.8L1257.0,190.2L1260.0,189.6L1263.0,189.1L1263.4,189.0L1266.0,188.5L1269.0,188.0L1272.0,187.5L1275.0,187.1L1278.0,186.6L1281.0,186.1L1281.4,186.0L1284.0,185.5L1287.0,185.0L1290.0,184.4L1293.0,183.8L1296.0,183.1L1296.4,183.0L1299.0,182.3L1302.0,181.4L1305.0,180.4L1306.0,180.0L1308.0,179.2L1311.0,178.0L1313.5,177.0L1314.0,176.8L1317.0,175.4L1320.0,174.1L1320.1,174.0L1323.0,172.6L1326.0,171.1L1326.3,171.0L1329.0,169.7L1332.0,168.2L1332.3,168.0L1335.0,166.2L1336.8,165.0Z" fill="#0064ff" fill-rule="evenodd"/><path d="M607.0,153.0L609.0,152.0L612.0,151.0L615.0,151.0L618.0,152.0L619.2,153.0L621.0,154.8L621.6,156.0L622.4,159.0L621.0,161.2L618.1,162.0L618.0,162.0L617.6,162.0L615.0,161.7L612.0,161.4L609.0,161.0L606.0,160.7L603.0,160.0L602.5,159.0L603.0,158.5L604.0,156.0L606.0,154.2L607.0,153.0ZM586.4,162.0L588.0,161.7L591.0,161.3L594.0,161.1L597.0,160.9L600.0,161.0L601.6,162.0L601.5,165.0L602.2,168.0L603.0,169.7L603.4,171.0L605.2,174.0L606.0,174.9L607.8,177.0L609.0,177.9L611.8,180.0L612.0,180.1L615.0,181.7L618.0,182.8L618.6,183.0L621.0,183.7L624.0,184.5L627.0,185.4L628.7,186.0L630.0,186.6L633.0,188.3L634.0,189.0L636.0,190.5L638.1,192.0L639.0,192.9L642.0,194.9L642.2,195.0L645.0,196.5L648.0,197.0L649.8,198.0L648.6,201.0L648.0,202.1L647.1,204.0L645.6,207.0L645.0,208.5L644.1,210.0L642.3,213.0L642.0,214.1L641.6,216.0L640.8,219.0L639.2,222.0L639.0,223.5L638.9,225.0L638.7,228.0L638.0,231.0L636.3,234.0L636.0,235.4L635.9,237.0L635.8,240.0L635.3,243.0L635.0,246.0L635.0,249.0L635.5,252.0L636.0,254.1L636.3,255.0L638.3,258.0L639.0,258.7L641.4,261.0L642.0,261.5L645.0,263.0L647.3,264.0L648.0,264.2L651.0,265.2L654.0,265.8L657.0,266.6L659.3,267.0L660.0,267.1L663.0,267.6L666.0,267.6L669.0,267.2L672.0,267.0L672.6,267.0L675.0,266.9L678.0,266.8L681.0,266.7L684.0,266.6L687.0,266.6L690.0,266.6L693.0,266.6L696.0,266.7L699.0,266.8L702.0,266.8L705.0,266.9L708.0,266.9L711.0,267.0L712.0,267.0L714.0,267.1L717.0,267.1L720.0,267.3L723.0,267.4L726.0,267.6L729.0,267.9L732.0,268.2L735.0,268.5L738.0,269.0L741.0,269.5L743.3,270.0L744.0,270.1L747.0,270.8L750.0,271.6L753.0,272.4L755.0,273.0L756.0,273.3L759.0,274.3L762.0,275.3L763.6,276.0L765.0,276.6L768.0,277.9L770.1,279.0L771.0,279.5L774.0,281.3L775.0,282.0L777.0,283.5L778.7,285.0L780.0,286.3L781.5,288.0L783.0,290.1L783.6,291.0L785.1,294.0L786.0,296.2L786.3,297.0L787.0,300.0L787.4,303.0L787.4,306.0L787.3,309.0L786.9,312.0L786.5,315.0L786.1,318.0L786.0,318.4L785.6,321.0L785.1,324.0L783.5,327.0L783.0,327.3L780.0,327.5L777.0,327.4L774.0,327.4L771.0,328.1L768.0,329.2L766.0,330.0L765.0,330.4L762.0,331.5L759.0,332.7L758.2,333.0L756.0,333.8L753.0,335.0L750.1,336.0L750.0,336.0L747.0,337.2L744.0,338.2L741.8,339.0L741.0,339.3L738.0,340.3L735.0,341.2L732.4,342.0L732.0,342.1L729.0,342.9L726.0,343.6L723.0,344.3L720.2,345.0L720.0,345.0L717.0,345.7L714.0,346.3L711.0,347.0L708.0,347.7L706.9,348.0L705.0,348.5L702.0,349.3L699.0,350.3L697.0,351.0L696.0,351.3L693.0,352.4L690.0,353.6L689.0,354.0L687.0,354.8L684.0,356.0L681.6,357.0L681.0,357.2L678.0,358.5L675.0,359.8L674.5,360.0L672.0,361.0L669.0,362.3L667.3,363.0L666.0,363.5L663.0,364.1L660.0,364.6L657.0,365.3L655.0,366.0L654.0,366.5L651.0,368.4L650.3,369.0L648.1,372.0L648.0,372.5L647.1,375.0L646.9,378.0L648.0,380.4L648.4,381.0L648.0,382.5L645.0,383.4L642.0,383.5L639.0,383.7L636.5,384.0L636.0,384.0L633.0,384.4L630.0,385.0L627.0,385.8L624.0,386.7L623.0,387.0L621.0,387.6L618.0,388.5L615.0,389.6L614.2,390.0L612.0,390.7L609.0,391.9L606.6,393.0L606.0,393.2L603.0,394.4L600.0,395.8L599.7,396.0L597.0,397.1L594.0,398.8L593.6,399.0L591.0,400.4L588.7,402.0L588.0,402.4L585.0,404.6L584.5,405.0L582.0,406.9L580.6,408.0L579.0,409.3L577.0,411.0L576.0,411.8L573.5,414.0L573.0,414.5L570.3,417.0L570.0,417.3L567.2,420.0L567.0,420.2L564.1,423.0L564.0,423.1L561.0,426.0L561.0,426.0L558.0,428.7L557.7,429.0L555.0,431.4L554.3,432.0L552.0,434.0L550.9,435.0L549.0,436.6L547.5,438.0L546.0,439.3L544.1,441.0L543.0,441.8L540.5,444.0L540.0,444.3L537.0,446.6L536.4,447.0L534.0,448.6L531.9,450.0L531.0,450.6L528.0,452.4L526.9,453.0L525.0,454.0L522.0,455.6L521.0,456.0L519.0,456.9L516.0,458.2L514.0,459.0L513.0,459.4L510.0,460.5L507.0,461.6L505.7,462.0L504.0,462.5L501.0,463.6L498.0,464.4L496.3,465.0L495.0,465.4L492.0,466.3L489.0,467.1L486.0,467.7L484.7,468.0L483.0,468.4L480.0,469.1L477.0,469.7L474.0,470.3L471.0,470.8L469.5,471.0L468.0,471.3L465.0,471.8L462.0,472.3L459.0,472.8L456.0,473.4L453.0,474.0L452.8,474.0L450.0,474.5L447.0,475.1L444.0,475.5L441.0,475.7L438.0,475.7L435.0,475.9L432.0,475.9L429.0,476.2L426.0,476.2L423.0,476.5L420.0,476.5L417.0,476.8L414.0,476.8L411.8,477.0L411.0,477.1L408.0,477.2L405.0,477.4L402.0,477.6L399.0,477.9L396.0,478.2L393.0,478.5L390.0,478.8L387.0,479.3L384.0,479.7L382.5,480.0L381.0,480.3L378.0,480.9L375.0,481.7L372.0,482.4L369.9,483.0L369.0,483.3L366.0,484.3L363.0,485.3L361.0,486.0L360.0,486.5L357.0,488.1L355.3,489.0L354.0,490.1L352.0,492.0L351.0,493.6L350.1,495.0L348.9,498.0L348.0,500.8L347.9,501.0L346.3,504.0L345.0,505.9L343.9,507.0L342.0,508.6L339.7,510.0L339.0,510.4L336.0,511.9L333.6,513.0L333.0,513.3L330.0,514.4L327.0,515.5L325.7,516.0L324.0,516.5L321.0,517.4L318.0,518.3L315.3,519.0L315.0,519.1L312.0,519.7L309.0,520.3L306.0,520.9L303.0,521.3L300.0,521.7L297.6,522.0L297.0,522.1L294.0,522.3L291.0,522.5L288.0,522.7L285.0,522.8L282.0,522.9L279.0,522.9L276.0,522.9L273.0,522.8L270.0,522.7L267.0,522.6L264.0,522.4L261.0,522.0L260.7,522.0L258.0,521.7L255.0,521.3L252.0,520.8L249.0,520.3L246.0,519.7L243.0,519.1L242.3,519.0L240.0,518.5L237.0,517.9L234.0,517.3L231.0,516.7L228.0,516.0L228.0,516.0L225.0,515.3L222.0,513.6L221.4,513.0L219.0,511.8L216.0,510.6L214.2,510.0L213.0,509.7L210.0,508.9L207.0,508.0L204.0,507.2L203.4,507.0L201.0,506.4L198.0,505.5L195.0,504.7L192.6,504.0L192.0,503.8L189.0,503.0L186.0,502.2L183.0,501.3L181.8,501.0L180.0,500.5L177.0,499.7L174.0,498.8L171.0,498.2L168.0,498.0L165.0,498.0L162.0,498.1L159.0,498.2L156.0,498.2L153.0,498.1L151.2,498.0L150.0,497.9L147.0,497.7L144.0,497.3L141.0,496.8L138.0,496.0L135.0,495.1L134.6,495.0L132.0,494.2L129.0,493.2L126.0,492.1L125.7,492.0L123.0,491.0L120.0,489.8L117.9,489.0L117.0,488.6L114.0,487.4L111.0,486.3L110.2,486.0L108.0,485.2L105.0,484.1L102.0,483.0L101.9,483.0L99.0,482.1L96.0,481.1L93.0,480.2L92.5,480.0L90.0,479.2L87.0,478.1L84.6,477.0L84.0,476.7L81.0,474.9L79.4,474.0L78.0,473.2L75.0,471.4L74.3,471.0L72.0,469.6L69.5,468.0L69.0,467.6L66.0,465.5L65.3,465.0L63.0,463.2L61.6,462.0L60.0,460.7L58.1,459.0L57.0,458.0L54.8,456.0L54.0,455.3L51.3,453.0L51.0,452.8L48.0,450.7L46.9,450.0L45.0,448.8L42.4,447.0L42.0,446.7L39.0,444.7L38.0,444.0L36.0,442.7L33.1,441.0L33.0,440.9L30.0,439.6L27.0,438.3L26.2,438.0L24.0,437.1L21.0,435.8L19.2,435.0L18.0,434.5L15.0,433.2L12.3,432.0L12.0,431.9L9.0,430.6L6.0,429.3L5.3,429.0L3.0,428.0L0.0,426.3L-0.5,426.0L-3.0,424.4L-5.1,423.0L-6.0,422.4L-6.0,420.0L-6.0,417.0L-6.0,414.0L-6.0,411.0L-6.0,408.0L-6.0,405.0L-6.0,402.0L-6.0,399.0L-6.0,396.0L-6.0,393.0L-6.0,390.0L-6.0,387.0L-6.0,384.0L-6.0,381.0L-6.0,378.0L-6.0,375.0L-6.0,372.0L-6.0,369.0L-6.0,366.0L-6.0,363.0L-6.0,360.0L-6.0,357.0L-6.0,354.0L-6.0,351.0L-6.0,348.0L-6.0,345.0L-6.0,342.0L-6.0,339.0L-6.0,336.0L-6.0,333.0L-6.0,330.0L-6.0,327.0L-6.0,324.0L-6.0,321.0L-6.0,318.0L-6.0,315.0L-6.0,312.0L-6.0,309.0L-6.0,306.0L-6.0,303.0L-6.0,300.0L-6.0,297.0L-6.0,294.0L-6.0,291.0L-6.0,288.0L-6.0,285.0L-6.0,282.0L-6.0,279.0L-6.0,276.0L-6.0,273.0L-6.0,270.0L-6.0,267.0L-6.0,264.0L-6.0,261.0L-6.0,258.0L-6.0,255.0L-6.0,252.0L-6.0,249.0L-6.0,246.0L-6.0,243.0L-6.0,240.0L-6.0,237.0L-6.0,234.0L-6.0,231.0L-6.0,228.0L-6.0,225.0L-6.0,222.0L-6.0,219.0L-6.0,216.0L-6.0,213.0L-6.0,210.0L-6.0,207.0L-6.0,204.0L-6.0,201.0L-6.0,198.0L-6.0,195.0L-6.0,195.0L-3.0,194.2L0.0,193.7L3.0,193.4L6.0,193.2L9.0,193.0L12.0,192.8L15.0,192.6L18.0,192.4L21.0,192.2L24.0,192.0L24.3,192.0L27.0,191.8L30.0,191.7L33.0,191.5L36.0,191.4L39.0,191.2L42.0,191.1L45.0,191.0L48.0,190.9L51.0,190.9L54.0,190.8L57.0,190.8L60.0,190.8L63.0,190.8L66.0,190.8L69.0,190.8L72.0,190.8L75.0,190.9L78.0,190.9L81.0,190.9L84.0,191.0L87.0,191.0L90.0,191.1L93.0,191.1L96.0,191.2L99.0,191.2L102.0,191.3L105.0,191.4L108.0,191.4L111.0,191.5L114.0,191.6L117.0,191.7L120.0,191.8L123.0,191.9L126.0,192.0L126.9,192.0L129.0,192.1L132.0,192.2L135.0,192.3L138.0,192.5L141.0,192.6L144.0,192.8L147.0,193.0L150.0,193.1L153.0,193.3L156.0,193.5L159.0,193.7L162.0,193.8L165.0,194.0L168.0,194.2L171.0,194.3L174.0,194.4L177.0,194.5L180.0,194.7L183.0,194.8L186.0,194.9L188.8,195.0L189.0,195.0L192.0,195.1L195.0,195.2L198.0,195.3L201.0,195.4L204.0,195.5L207.0,195.6L210.0,195.7L213.0,195.8L216.0,195.8L219.0,195.7L222.0,195.1L225.0,195.0L228.0,195.5L231.0,196.1L234.0,196.7L237.0,197.2L240.0,197.8L241.0,198.0L243.0,198.3L246.0,198.9L249.0,199.4L252.0,200.0L255.0,200.4L258.0,200.9L258.4,201.0L261.0,201.4L264.0,201.8L267.0,202.2L270.0,202.6L273.0,202.9L276.0,203.2L279.0,203.5L282.0,203.7L285.0,203.9L286.3,204.0L288.0,204.1L291.0,204.2L294.0,204.4L297.0,204.5L300.0,204.5L303.0,204.6L306.0,204.7L309.0,204.7L312.0,204.7L315.0,204.7L318.0,204.7L321.0,204.7L324.0,204.7L327.0,204.6L330.0,204.6L333.0,204.5L336.0,204.3L339.0,204.1L341.1,204.0L342.0,203.9L345.0,203.7L348.0,203.5L351.0,203.2L354.0,203.0L357.0,202.8L360.0,202.6L363.0,202.5L366.0,202.3L369.0,202.2L372.0,202.1L375.0,202.1L378.0,202.1L381.0,202.1L384.0,202.2L387.0,202.2L390.0,202.3L393.0,202.4L396.0,202.5L399.0,202.6L402.0,202.7L405.0,202.9L408.0,203.0L411.0,203.1L414.0,203.3L417.0,203.4L420.0,203.6L423.0,203.7L426.0,203.9L428.6,204.0L429.0,204.0L432.0,204.2L435.0,204.3L438.0,204.4L441.0,204.3L442.5,204.0L444.0,203.3L447.0,201.7L450.0,201.2L452.0,201.0L453.0,200.9L456.0,200.5L459.0,200.1L462.0,199.7L465.0,199.4L468.0,199.0L471.0,198.6L474.0,198.2L475.8,198.0L477.0,197.8L480.0,197.4L483.0,197.0L486.0,196.6L489.0,196.1L492.0,195.6L495.0,195.2L496.5,195.0L498.0,194.7L501.0,194.2L504.0,193.6L507.0,193.1L510.0,192.5L512.4,192.0L513.0,191.8L516.0,190.9L519.0,189.9L521.5,189.0L522.0,188.8L525.0,187.4L527.9,186.0L528.0,185.9L531.0,184.3L533.2,183.0L534.0,182.5L537.0,180.8L538.3,180.0L540.0,179.0L543.0,177.4L543.8,177.0L546.0,175.8L549.0,174.4L549.9,174.0L552.0,173.0L555.0,171.7L556.6,171.0L558.0,170.4L561.0,169.1L564.0,168.0L564.0,168.0L567.0,166.9L570.0,165.9L573.0,165.0L573.0,165.0L576.0,164.2L579.0,163.4L582.0,162.8L585.0,162.2L586.4,162.0ZM628.5,168.0L630.0,167.0L633.0,167.4L636.0,167.7L637.9,168.0L639.0,168.7L642.0,169.2L645.0,169.7L648.0,170.0L651.0,170.4L654.0,170.7L657.0,171.0L657.4,171.0L660.0,171.4L663.0,171.8L666.0,172.7L667.8,174.0L669.0,175.9L669.7,177.0L670.3,180.0L670.2,183.0L669.4,186.0L669.0,186.9L667.4,189.0L666.0,190.4L663.0,191.6L660.9,192.0L660.0,192.2L657.0,193.1L654.0,193.6L652.6,192.0L651.3,189.0L651.0,188.7L649.3,186.0L648.0,184.5L646.8,183.0L645.0,181.3L643.7,180.0L642.0,178.6L640.1,177.0L639.0,176.2L636.0,174.0L636.0,174.0L633.0,172.4L630.0,171.7L629.5,171.0L628.5,168.0ZM1335.3,198.0L1338.0,196.9L1338.0,198.0L1338.0,201.0L1338.0,204.0L1338.0,207.0L1338.0,210.0L1338.0,213.0L1338.0,216.0L1338.0,219.0L1338.0,222.0L1338.0,225.0L1338.0,228.0L1338.0,231.0L1338.0,234.0L1338.0,237.0L1338.0,240.0L1338.0,243.0L1338.0,246.0L1338.0,249.0L1338.0,252.0L1338.0,255.0L1338.0,258.0L1338.0,261.0L1338.0,264.0L1338.0,267.0L1338.0,270.0L1338.0,273.0L1338.0,276.0L1338.0,279.0L1338.0,282.0L1338.0,285.0L1338.0,288.0L1338.0,291.0L1338.0,294.0L1338.0,297.0L1338.0,300.0L1338.0,303.0L1338.0,306.0L1338.0,309.0L1338.0,312.0L1338.0,315.0L1338.0,318.0L1338.0,321.0L1338.0,324.0L1338.0,327.0L1338.0,330.0L1338.0,333.0L1338.0,336.0L1338.0,339.0L1338.0,342.0L1338.0,345.0L1338.0,348.0L1338.0,351.0L1338.0,354.0L1338.0,357.0L1338.0,360.0L1338.0,363.0L1338.0,366.0L1338.0,369.0L1338.0,372.0L1338.0,375.0L1338.0,378.0L1338.0,381.0L1338.0,384.0L1338.0,387.0L1338.0,390.0L1338.0,393.0L1338.0,396.0L1338.0,399.0L1338.0,402.0L1338.0,405.0L1338.0,408.0L1338.0,411.0L1338.0,414.0L1338.0,417.0L1338.0,420.0L1338.0,422.9L1335.0,420.2L1334.7,420.0L1332.0,417.7L1331.2,417.0L1329.0,415.4L1327.1,414.0L1326.0,413.2L1323.1,411.0L1323.0,410.9L1320.0,408.4L1319.5,408.0L1317.0,405.8L1316.2,405.0L1314.0,402.9L1313.1,402.0L1311.0,400.0L1310.0,399.0L1308.0,397.0L1307.1,396.0L1305.0,393.8L1304.2,393.0L1302.0,390.6L1301.5,390.0L1299.0,387.1L1299.0,387.0L1296.6,384.0L1296.0,383.2L1294.4,381.0L1293.0,379.0L1292.3,378.0L1290.3,375.0L1290.0,374.5L1288.4,372.0L1287.0,369.7L1286.6,369.0L1284.8,366.0L1284.0,364.6L1283.1,363.0L1281.5,360.0L1281.0,358.9L1280.0,357.0L1278.7,354.0L1278.0,352.4L1277.4,351.0L1276.4,348.0L1275.5,345.0L1275.0,343.2L1274.7,342.0L1273.9,339.0L1273.2,336.0L1272.5,333.0L1272.0,331.2L1271.4,330.0L1270.0,327.0L1269.0,324.2L1269.0,324.0L1268.4,321.0L1267.9,318.0L1267.4,315.0L1267.0,312.0L1266.5,309.0L1266.1,306.0L1266.0,305.6L1265.7,303.0L1265.3,300.0L1265.0,297.0L1264.8,294.0L1264.5,291.0L1264.4,288.0L1264.2,285.0L1264.1,282.0L1264.0,279.0L1263.9,276.0L1263.8,273.0L1263.8,270.0L1263.8,267.0L1263.8,264.0L1263.8,261.0L1263.9,258.0L1264.1,255.0L1264.4,252.0L1264.7,249.0L1265.2,246.0L1265.9,243.0L1266.0,242.6L1267.1,240.0L1268.8,237.0L1269.0,236.8L1271.4,234.0L1272.0,233.4L1274.6,231.0L1275.0,230.7L1278.0,228.2L1278.2,228.0L1281.0,226.0L1282.5,225.0L1284.0,224.0L1287.0,222.1L1287.1,222.0L1290.0,220.3L1292.2,219.0L1293.0,218.5L1296.0,216.8L1297.4,216.0L1299.0,215.1L1302.0,213.5L1302.9,213.0L1305.0,212.0L1308.0,210.5L1308.9,210.0L1311.0,209.0L1314.0,207.6L1315.2,207.0L1317.0,206.2L1320.0,204.8L1321.7,204.0L1323.0,203.4L1326.0,202.1L1328.3,201.0L1329.0,200.7L1332.0,199.4L1335.0,198.1L1335.3,198.0ZM650.3,384.0L651.0,383.9L654.0,383.9L657.0,384.0L657.1,384.0L660.0,384.3L663.0,385.2L666.0,386.3L667.2,387.0L667.6,390.0L666.0,391.9L663.0,392.9L660.0,392.5L657.0,391.3L654.6,390.0L654.0,389.1L651.6,387.0L651.0,384.3L650.3,384.0Z" fill="#0098ff" fill-rule="evenodd"/><path d="M583.4,192.0L585.0,191.6L588.0,191.1L591.0,190.9L594.0,190.8L597.0,191.1L600.0,191.6L601.4,192.0L603.0,192.5L606.0,193.8L608.1,195.0L609.0,195.6L612.0,198.0L612.0,198.0L614.6,201.0L615.0,201.5L616.5,204.0L617.7,207.0L618.0,209.0L618.1,210.0L618.1,213.0L618.0,214.1L617.8,216.0L617.6,219.0L617.5,222.0L617.6,225.0L617.9,228.0L618.0,229.0L618.2,231.0L618.5,234.0L618.8,237.0L619.2,240.0L619.6,243.0L620.2,246.0L620.9,249.0L621.0,249.4L621.7,252.0L622.9,255.0L624.0,257.5L624.2,258.0L625.7,261.0L627.0,263.3L627.5,264.0L629.4,267.0L630.0,268.4L631.0,270.0L630.0,272.8L627.0,271.8L624.0,272.4L623.5,273.0L622.0,276.0L624.0,278.4L627.0,278.8L630.0,278.7L633.0,278.7L636.0,276.3L637.7,279.0L639.0,279.1L642.0,279.3L645.0,280.6L648.0,281.5L651.0,282.0L651.0,282.0L654.0,283.0L657.0,284.4L657.5,285.0L660.0,285.5L662.9,288.0L663.0,288.0L666.0,288.1L666.2,288.0L667.5,285.0L669.0,284.0L672.0,283.7L675.0,283.8L678.0,284.2L681.0,284.6L684.0,285.0L684.2,285.0L687.0,285.4L690.0,285.8L693.0,286.2L696.0,286.6L699.0,287.1L702.0,287.6L704.6,288.0L705.0,288.1L708.0,288.6L711.0,289.2L714.0,289.9L717.0,290.5L719.0,291.0L720.0,291.2L723.0,292.0L726.0,292.8L729.0,293.5L730.8,294.0L732.0,294.4L735.0,295.3L738.0,296.2L740.2,297.0L741.0,297.3L744.0,298.5L747.0,299.9L747.1,300.0L750.0,302.1L751.0,303.0L753.0,306.0L753.0,306.0L753.7,309.0L753.7,312.0L753.1,315.0L753.0,315.3L751.7,318.0L750.0,319.9L748.9,321.0L747.0,322.3L744.2,324.0L744.0,324.1L741.0,325.6L738.2,327.0L738.0,327.1L735.0,327.5L732.0,327.6L729.0,327.5L726.0,327.3L723.0,327.1L720.2,327.0L720.0,327.0L719.7,327.0L717.0,327.1L714.0,327.6L711.0,328.8L708.6,330.0L708.0,330.2L705.0,331.6L702.2,333.0L702.0,333.1L699.0,334.5L696.0,336.0L696.0,336.0L693.0,337.5L690.0,338.7L689.2,339.0L687.0,340.1L684.0,341.4L682.6,342.0L681.0,342.8L678.0,344.2L676.3,345.0L675.0,345.6L672.0,347.1L669.9,348.0L669.0,348.5L666.0,349.8L663.0,350.2L660.0,350.3L657.0,350.4L654.0,350.5L651.0,350.6L648.0,350.8L646.0,351.0L645.0,351.1L642.0,351.6L639.0,352.1L636.0,352.8L633.0,353.6L631.5,354.0L630.0,354.6L627.0,355.8L624.3,357.0L624.0,357.2L621.0,358.6L618.4,360.0L618.0,360.2L615.0,361.9L613.1,363.0L612.0,363.7L609.0,365.5L608.2,366.0L606.0,367.4L603.6,369.0L603.0,369.4L600.0,371.5L599.2,372.0L597.0,373.7L595.3,375.0L594.0,376.0L591.6,378.0L591.0,378.5L588.3,381.0L588.0,381.2L585.1,384.0L585.0,384.1L582.1,387.0L582.0,387.1L579.2,390.0L579.0,390.2L576.3,393.0L576.0,393.3L573.4,396.0L573.0,396.4L570.5,399.0L570.0,399.5L567.7,402.0L567.0,402.7L564.9,405.0L564.0,405.9L562.2,408.0L561.0,409.3L559.5,411.0L558.0,412.6L556.8,414.0L555.0,415.9L554.0,417.0L552.0,419.1L551.2,420.0L549.0,422.2L548.2,423.0L546.0,425.2L545.2,426.0L543.0,428.1L542.2,429.0L540.0,431.1L539.2,432.0L537.0,434.1L536.1,435.0L534.0,437.0L532.9,438.0L531.0,439.6L529.4,441.0L528.0,442.1L525.3,444.0L525.0,444.2L522.0,446.3L520.8,447.0L519.0,448.1L516.0,449.7L515.4,450.0L513.0,451.4L510.0,452.7L509.3,453.0L507.0,454.1L504.0,455.4L502.4,456.0L501.0,456.7L498.0,457.9L495.0,459.0L495.0,459.0L492.0,459.8L489.0,461.3L486.0,461.8L485.4,462.0L483.0,463.1L480.0,463.8L477.0,464.4L474.0,464.8L472.9,465.0L471.0,465.4L468.0,465.3L465.0,466.1L462.0,465.9L459.0,466.6L456.0,466.6L453.0,467.0L450.0,467.2L447.0,467.6L444.5,468.0L444.0,468.1L441.0,468.6L438.0,468.8L435.0,468.9L432.0,469.1L429.0,469.3L426.0,469.4L423.0,469.6L420.0,469.6L417.0,469.8L414.0,469.9L411.0,470.0L408.0,470.2L405.0,470.3L402.0,470.5L399.0,470.5L396.0,470.7L393.0,470.8L390.6,471.0L390.0,471.1L387.0,471.2L384.0,471.4L381.0,471.4L378.0,471.5L375.0,471.6L372.0,472.0L369.0,472.4L366.0,472.9L363.0,473.3L360.0,473.7L357.5,474.0L357.0,474.1L354.0,474.4L351.0,474.8L348.0,475.1L345.0,475.5L342.0,475.9L339.0,476.3L336.0,476.6L333.0,477.0L332.6,477.0L330.0,477.4L327.0,477.8L324.0,478.2L321.0,478.7L318.0,479.2L315.0,479.6L312.9,480.0L312.0,480.2L309.0,480.8L306.0,481.4L303.0,482.1L300.0,482.8L299.2,483.0L297.0,483.6L294.0,484.5L291.0,485.3L288.4,486.0L288.0,486.1L285.0,487.0L282.0,487.8L279.0,488.5L277.0,489.0L276.0,489.3L273.0,489.9L270.0,490.5L267.0,491.0L264.0,491.4L261.0,491.7L258.0,491.9L255.0,492.0L255.0,492.0L252.0,492.1L249.0,492.1L246.0,492.1L243.0,492.0L241.6,492.0L240.0,492.0L237.0,491.9L234.0,491.7L231.0,491.6L228.0,491.5L225.0,491.3L222.0,490.5L219.0,489.4L217.4,489.0L216.0,488.7L213.0,488.3L210.0,487.8L207.0,487.3L204.0,486.9L201.0,486.4L198.3,486.0L198.0,486.0L195.0,485.4L192.0,484.9L189.0,484.4L186.0,483.9L183.0,483.4L180.9,483.0L180.0,482.8L177.0,482.3L174.0,481.7L171.0,481.2L168.0,480.6L165.0,480.0L164.8,480.0L162.0,479.3L159.0,478.6L156.0,477.8L153.0,477.1L152.5,477.0L150.0,476.3L147.0,476.2L144.0,476.5L141.0,474.8L138.6,474.0L138.0,473.7L135.0,472.1L132.0,471.2L131.5,471.0L129.0,469.7L126.0,468.5L125.0,468.0L123.0,466.9L120.0,465.3L119.5,465.0L117.0,463.2L115.0,462.0L114.0,461.2L111.5,459.0L111.0,458.6L108.2,456.0L108.0,455.8L105.0,453.1L104.9,453.0L102.0,450.5L101.3,450.0L99.0,447.9L97.6,447.0L96.0,445.5L94.0,444.0L93.0,443.2L90.7,441.0L90.0,440.5L87.3,438.0L87.0,437.8L84.0,436.4L82.8,435.0L81.0,434.2L78.0,432.0L78.0,432.0L75.0,431.7L72.0,429.7L70.1,429.0L69.0,428.9L66.0,427.7L63.0,426.4L62.4,426.0L60.0,425.5L57.0,424.1L55.8,423.0L54.0,422.6L51.0,422.1L48.0,422.6L45.0,421.7L42.0,420.6L40.6,420.0L39.0,419.4L36.0,418.1L33.5,417.0L33.0,416.8L30.0,415.4L27.3,414.0L27.0,413.8L24.0,412.3L21.6,411.0L21.0,410.7L18.0,409.1L16.1,408.0L15.0,407.4L12.0,405.7L10.8,405.0L9.0,404.0L6.0,402.2L5.6,402.0L3.0,400.5L0.0,399.0L-0.0,399.0L-3.0,397.6L-6.0,396.1L-6.0,396.0L-6.0,393.0L-6.0,390.0L-6.0,387.0L-6.0,384.0L-6.0,381.0L-6.0,378.0L-6.0,375.0L-6.0,372.0L-6.0,369.0L-6.0,366.0L-6.0,363.0L-6.0,360.0L-6.0,357.0L-6.0,354.0L-6.0,351.0L-6.0,348.0L-6.0,345.0L-6.0,342.0L-6.0,339.0L-6.0,336.0L-6.0,333.0L-6.0,330.0L-6.0,327.0L-6.0,324.0L-6.0,321.0L-6.0,318.0L-6.0,315.0L-6.0,312.0L-6.0,309.0L-6.0,306.0L-6.0,303.0L-6.0,300.0L-6.0,297.0L-6.0,294.0L-6.0,291.0L-6.0,288.0L-6.0,285.0L-6.0,282.0L-6.0,279.0L-6.0,276.0L-6.0,273.0L-6.0,270.0L-6.0,267.0L-6.0,264.0L-6.0,261.0L-6.0,258.0L-6.0,255.0L-6.0,252.0L-6.0,249.0L-6.0,246.0L-6.0,243.0L-6.0,240.0L-6.0,237.0L-6.0,234.0L-6.0,231.0L-6.0,229.9L-4.2,228.0L-3.0,226.9L-0.7,225.0L0.0,224.5L3.0,222.9L4.9,222.0L6.0,221.5L9.0,220.2L11.7,219.0L12.0,218.9L15.0,217.8L18.0,216.8L20.8,216.0L21.0,215.9L24.0,215.3L27.0,214.8L30.0,214.5L33.0,214.2L36.0,213.9L39.0,213.7L42.0,213.6L45.0,213.5L48.0,213.4L51.0,213.4L54.0,213.4L57.0,213.3L60.0,213.3L63.0,213.3L66.0,213.3L69.0,213.3L72.0,213.3L75.0,213.4L78.0,213.4L81.0,213.4L84.0,213.5L87.0,213.5L90.0,213.6L93.0,213.7L96.0,213.7L99.0,213.8L102.0,213.9L105.0,214.0L108.0,214.1L111.0,214.1L114.0,214.2L117.0,214.3L120.0,214.4L123.0,214.5L126.0,214.6L129.0,214.7L132.0,214.8L135.0,215.0L138.0,215.1L141.0,215.2L144.0,215.3L147.0,215.4L150.0,215.6L153.0,215.7L156.0,215.9L158.3,216.0L159.0,216.0L162.0,216.2L165.0,216.4L168.0,216.5L171.0,216.7L174.0,216.9L177.0,217.1L180.0,217.2L183.0,217.4L186.0,217.5L189.0,217.7L192.0,217.8L195.0,217.9L198.0,218.0L201.0,218.1L204.0,218.2L207.0,218.2L210.0,218.3L213.0,218.3L216.0,218.3L219.0,218.4L222.0,218.5L225.0,218.8L227.3,219.0L228.0,219.1L231.0,219.3L234.0,219.6L237.0,219.9L240.0,220.2L243.0,220.5L246.0,220.7L249.0,221.0L252.0,221.3L255.0,221.5L258.0,221.8L260.9,222.0L261.0,222.0L264.0,222.2L267.0,222.4L270.0,222.6L273.0,222.8L276.0,222.9L279.0,223.0L282.0,223.1L285.0,223.2L288.0,223.3L291.0,223.3L294.0,223.4L297.0,223.4L300.0,223.5L303.0,223.5L306.0,223.5L309.0,223.5L312.0,223.5L315.0,223.6L318.0,223.6L321.0,223.6L324.0,223.6L327.0,223.6L330.0,223.6L333.0,223.7L336.0,223.7L339.0,223.7L342.0,223.7L345.0,223.7L348.0,223.7L351.0,223.7L354.0,223.6L357.0,223.6L360.0,223.6L363.0,223.6L366.0,223.6L369.0,223.6L372.0,223.6L375.0,223.6L378.0,223.6L381.0,223.6L384.0,223.6L387.0,223.6L390.0,223.6L393.0,223.6L396.0,223.6L399.0,223.6L402.0,223.6L405.0,223.6L408.0,223.6L411.0,223.6L414.0,223.6L417.0,223.6L420.0,223.6L423.0,223.6L426.0,223.6L429.0,223.6L432.0,223.6L435.0,223.6L438.0,223.5L441.0,223.2L443.9,222.0L444.0,221.9L447.0,220.8L450.0,220.3L453.0,220.0L456.0,219.6L459.0,219.3L461.7,219.0L462.0,219.0L465.0,218.6L468.0,218.3L471.0,217.9L474.0,217.6L477.0,217.2L480.0,216.9L483.0,216.5L486.0,216.2L487.5,216.0L489.0,215.8L492.0,215.4L495.0,215.1L498.0,214.7L501.0,214.3L504.0,214.0L507.0,213.6L510.0,213.3L512.2,213.0L513.0,212.9L516.0,212.5L519.0,212.0L522.0,211.5L525.0,210.9L528.0,210.3L529.1,210.0L531.0,209.5L534.0,208.7L537.0,207.7L539.2,207.0L540.0,206.7L543.0,205.6L546.0,204.5L547.3,204.0L549.0,203.4L552.0,202.2L555.0,201.1L555.1,201.0L558.0,200.0L561.0,198.9L563.6,198.0L564.0,197.9L567.0,196.9L570.0,195.9L572.9,195.0L573.0,195.0L576.0,194.0L579.0,193.1L582.0,192.3L583.4,192.0ZM1337.7,243.0L1338.0,242.7L1338.0,243.0L1338.0,246.0L1338.0,249.0L1338.0,252.0L1338.0,255.0L1338.0,258.0L1338.0,261.0L1338.0,264.0L1338.0,267.0L1338.0,270.0L1338.0,273.0L1338.0,276.0L1338.0,279.0L1338.0,282.0L1338.0,285.0L1338.0,288.0L1338.0,291.0L1338.0,294.0L1338.0,297.0L1338.0,300.0L1338.0,303.0L1338.0,306.0L1338.0,309.0L1338.0,312.0L1338.0,315.0L1338.0,318.0L1338.0,321.0L1338.0,324.0L1338.0,327.0L1338.0,330.0L1338.0,333.0L1338.0,336.0L1338.0,339.0L1338.0,342.0L1338.0,345.0L1338.0,348.0L1338.0,351.0L1338.0,354.0L1338.0,357.0L1338.0,360.0L1338.0,363.0L1338.0,366.0L1338.0,369.0L1338.0,372.0L1338.0,375.0L1338.0,378.0L1338.0,381.0L1338.0,384.0L1338.0,387.0L1338.0,388.5L1336.4,387.0L1335.0,385.8L1332.9,384.0L1332.0,383.2L1329.1,381.0L1329.0,380.9L1326.0,378.7L1325.0,378.0L1323.0,376.5L1321.2,375.0L1320.0,374.0L1317.7,372.0L1317.0,371.3L1314.6,369.0L1314.0,368.4L1311.7,366.0L1311.0,365.2L1309.0,363.0L1308.0,361.8L1306.6,360.0L1305.0,357.7L1304.6,357.0L1302.8,354.0L1302.0,352.2L1301.5,351.0L1300.3,348.0L1299.3,345.0L1299.0,343.8L1298.5,342.0L1297.6,339.0L1296.9,336.0L1296.2,333.0L1296.0,332.2L1295.6,330.0L1294.9,327.0L1294.8,324.0L1294.4,321.0L1294.1,318.0L1293.9,315.0L1293.9,312.0L1294.0,309.0L1294.2,306.0L1294.5,303.0L1294.8,300.0L1295.3,297.0L1295.8,294.0L1296.0,293.2L1296.5,291.0L1297.4,288.0L1298.6,285.0L1299.0,284.2L1300.3,282.0L1302.0,279.8L1302.7,279.0L1305.0,276.7L1305.7,276.0L1308.0,274.0L1309.2,273.0L1311.0,271.5L1312.8,270.0L1314.0,268.9L1316.0,267.0L1317.0,266.0L1318.8,264.0L1320.0,262.7L1321.5,261.0L1323.0,259.3L1324.1,258.0L1326.0,255.9L1326.7,255.0L1329.0,252.4L1329.3,252.0L1332.0,249.0L1332.0,249.0L1334.7,246.0L1335.0,245.7L1337.7,243.0ZM630.7,273.0L633.0,272.7L633.3,273.0L633.0,274.3L630.7,273.0Z" fill="#00ccff" fill-rule="evenodd"/><path d="M569.9,222.0L570.0,222.0L573.0,221.2L576.0,220.6L579.0,220.3L582.0,220.3L585.0,220.8L588.0,222.0L588.0,222.0L591.0,224.3L591.8,225.0L594.0,227.4L594.5,228.0L597.0,231.0L597.0,231.0L599.0,234.0L600.0,235.8L600.6,237.0L601.7,240.0L602.6,243.0L603.0,244.5L603.3,246.0L603.9,249.0L604.3,252.0L604.9,255.0L605.5,258.0L606.0,260.3L606.2,261.0L606.8,264.0L607.5,267.0L608.4,270.0L609.0,271.5L609.5,273.0L611.0,276.0L612.0,277.6L612.8,279.0L614.9,282.0L615.0,282.1L617.4,285.0L618.0,285.8L620.1,288.0L621.0,289.2L622.9,291.0L624.0,292.8L625.3,294.0L626.5,297.0L624.0,297.9L622.7,300.0L623.3,303.0L624.0,303.8L626.5,306.0L627.0,306.4L629.4,309.0L630.0,309.7L632.0,312.0L632.9,315.0L632.6,318.0L632.4,321.0L633.0,322.5L635.2,324.0L636.0,324.3L637.3,324.0L639.0,323.2L642.0,321.7L643.5,321.0L645.0,319.4L647.0,318.0L648.0,316.1L649.7,315.0L650.3,312.0L648.6,309.0L651.0,308.7L653.5,306.0L654.0,305.8L656.3,303.0L657.0,302.6L659.4,300.0L660.0,299.7L663.0,297.6L664.2,297.0L666.0,296.6L668.3,297.0L669.0,297.3L672.0,298.5L675.0,299.5L676.5,300.0L678.0,300.8L681.0,302.2L682.8,303.0L684.0,303.8L687.0,305.6L687.6,306.0L690.0,307.7L691.7,309.0L693.0,310.1L694.8,312.0L696.0,314.0L696.4,315.0L696.5,318.0L696.0,319.9L695.7,321.0L694.3,324.0L693.0,326.9L692.9,327.0L690.0,329.6L687.0,329.8L684.0,329.4L681.0,328.7L678.0,328.0L675.0,327.9L672.4,330.0L672.0,330.2L669.5,333.0L669.0,333.3L666.0,335.7L665.4,336.0L663.0,336.6L660.0,337.1L657.0,337.6L654.0,338.4L652.5,339.0L651.0,339.4L648.0,340.3L645.0,341.2L642.1,342.0L642.0,342.0L639.0,342.5L636.0,342.6L633.0,342.1L632.6,342.0L630.0,340.8L627.7,339.0L627.0,337.3L626.0,336.0L624.0,333.5L621.0,335.5L620.3,336.0L618.0,337.5L615.6,339.0L615.0,339.4L612.0,341.4L611.1,342.0L609.0,343.6L607.0,345.0L606.0,345.8L603.2,348.0L603.0,348.1L600.0,350.5L599.4,351.0L597.0,353.0L595.8,354.0L594.0,355.5L592.3,357.0L591.0,358.1L588.9,360.0L588.0,360.8L585.7,363.0L585.0,363.6L582.6,366.0L582.0,366.6L579.8,369.0L579.0,369.8L577.1,372.0L576.0,373.2L574.5,375.0L573.0,376.9L572.1,378.0L570.0,380.7L569.8,381.0L567.5,384.0L567.0,384.7L565.3,387.0L564.0,388.7L563.0,390.0L561.0,392.7L560.8,393.0L558.6,396.0L558.0,396.8L556.4,399.0L555.0,401.0L554.3,402.0L552.3,405.0L552.0,405.4L550.2,408.0L549.0,409.8L548.2,411.0L546.1,414.0L546.0,414.1L543.9,417.0L543.0,418.1L541.5,420.0L540.0,421.9L539.1,423.0L537.0,425.4L536.5,426.0L534.0,428.8L533.8,429.0L531.1,432.0L531.0,432.1L528.2,435.0L528.0,435.2L525.2,438.0L525.0,438.2L522.0,440.9L521.9,441.0L519.0,443.2L518.1,444.0L516.0,445.4L513.9,447.0L513.0,447.5L510.0,449.1L508.6,450.0L507.0,450.7L504.0,452.2L502.4,453.0L501.0,453.4L498.0,454.6L495.0,455.7L494.4,456.0L492.0,456.6L489.0,457.7L486.0,458.0L483.9,459.0L483.0,459.3L480.0,459.6L477.0,460.3L474.0,460.3L471.0,461.6L468.0,461.4L466.7,462.0L465.0,462.5L462.0,462.4L459.0,462.9L456.0,462.9L453.0,463.1L450.0,463.1L447.0,463.6L444.5,465.0L444.0,465.2L441.0,466.0L438.0,466.2L435.0,466.2L432.0,466.3L429.0,466.3L426.0,466.3L423.0,466.4L420.0,466.4L417.0,466.5L414.0,466.5L411.0,466.7L408.0,466.7L405.0,466.7L402.0,466.7L399.0,466.7L396.0,466.3L393.0,466.3L390.0,466.1L387.0,465.5L385.2,465.0L384.0,464.8L381.0,464.4L378.0,464.2L375.0,464.0L372.0,463.9L369.0,464.1L366.0,464.0L363.0,464.1L360.0,464.1L357.0,464.0L354.0,464.0L351.0,464.0L348.0,464.1L345.0,464.1L342.0,464.1L339.0,464.1L336.0,464.1L333.0,464.1L330.0,464.1L327.0,464.1L324.0,464.0L321.0,464.0L318.0,464.0L315.0,463.9L312.0,463.9L309.0,463.8L306.0,463.7L303.0,463.6L300.0,463.4L297.0,463.3L294.0,463.1L291.0,463.0L288.0,462.8L285.0,462.6L282.0,462.3L279.0,462.1L277.4,462.0L276.0,461.9L273.0,461.7L270.0,461.5L267.0,461.2L264.0,461.0L261.0,460.8L258.0,460.5L255.0,460.1L252.0,459.6L249.0,459.5L246.0,459.1L243.0,459.0L242.8,459.0L240.0,458.8L237.0,458.6L234.0,458.3L231.0,458.0L228.0,457.8L225.0,457.3L222.0,456.4L221.0,456.0L219.0,455.4L216.0,455.2L213.0,454.2L210.3,453.0L210.0,452.9L207.0,451.6L204.1,450.0L204.0,449.9L201.0,447.8L199.1,447.0L198.0,445.7L196.1,444.0L195.0,443.3L192.8,441.0L192.0,440.3L189.6,438.0L189.0,437.6L186.1,435.0L186.0,434.9L183.0,433.1L181.9,432.0L180.0,431.3L177.1,429.0L177.0,429.0L174.0,426.6L173.4,426.0L171.0,424.7L168.8,423.0L168.0,422.7L165.0,421.1L163.0,420.0L162.0,419.6L159.0,419.4L156.0,418.6L153.0,417.5L150.0,417.3L147.0,417.1L144.0,417.2L141.5,417.0L141.0,417.0L140.0,417.0L138.0,417.1L135.9,417.0L135.0,417.0L132.0,417.0L131.3,417.0L129.0,417.0L128.2,417.0L126.0,416.9L123.7,417.0L123.0,417.0L122.4,417.0L120.0,416.9L117.5,417.0L117.0,417.0L116.4,417.0L114.0,416.9L111.0,417.0L108.0,417.0L106.3,417.0L105.0,417.0L102.0,417.1L100.3,417.0L99.0,416.9L96.0,416.9L93.0,416.6L90.0,416.3L87.0,415.9L84.0,415.3L81.0,414.7L78.0,414.0L77.9,414.0L75.0,413.3L72.0,412.5L69.0,411.7L66.5,411.0L66.0,410.9L63.0,410.0L60.0,409.1L57.0,408.2L56.4,408.0L54.0,407.3L51.0,406.4L48.0,405.3L47.0,405.0L45.0,404.3L42.0,403.1L39.1,402.0L39.0,402.0L36.0,400.7L33.0,399.5L31.8,399.0L30.0,398.2L27.0,396.8L25.5,396.0L24.0,395.2L21.0,393.6L19.8,393.0L18.0,392.0L15.0,390.3L14.5,390.0L12.0,388.5L9.4,387.0L9.0,386.8L6.0,385.0L4.3,384.0L3.0,383.3L0.0,381.5L-0.9,381.0L-3.0,379.8L-5.9,378.0L-6.0,378.0L-6.0,375.0L-6.0,372.0L-6.0,369.0L-6.0,366.0L-6.0,363.0L-6.0,360.0L-6.0,357.0L-6.0,354.0L-6.0,351.0L-6.0,348.0L-6.0,345.0L-6.0,342.0L-6.0,339.0L-6.0,336.0L-6.0,333.0L-6.0,330.0L-6.0,327.0L-6.0,324.0L-6.0,321.0L-6.0,318.0L-6.0,315.0L-6.0,312.0L-6.0,309.0L-6.0,306.0L-6.0,303.0L-6.0,300.0L-6.0,297.0L-6.0,294.0L-6.0,291.0L-6.0,288.0L-6.0,285.0L-6.0,282.0L-6.0,279.0L-6.0,278.9L-3.0,276.9L-1.8,276.0L0.0,274.6L1.7,273.0L3.0,271.5L4.2,270.0L6.0,267.8L6.7,267.0L9.0,264.3L9.3,264.0L12.0,261.0L12.0,261.0L15.0,258.0L15.0,258.0L18.0,255.2L18.3,255.0L21.0,252.4L21.5,252.0L24.0,249.6L24.7,249.0L27.0,247.0L28.2,246.0L30.0,244.5L32.1,243.0L33.0,242.3L36.0,240.5L36.9,240.0L39.0,238.9L42.0,237.7L44.0,237.0L45.0,236.7L48.0,235.9L51.0,235.2L54.0,234.7L57.0,234.2L58.7,234.0L60.0,233.8L63.0,233.5L66.0,233.3L69.0,233.1L72.0,232.9L75.0,232.7L78.0,232.6L81.0,232.5L84.0,232.3L87.0,232.2L90.0,232.2L93.0,232.2L96.0,232.2L99.0,232.2L102.0,232.3L105.0,232.4L108.0,232.5L111.0,232.6L114.0,232.7L117.0,232.9L120.0,233.0L123.0,233.2L126.0,233.4L129.0,233.5L132.0,233.7L135.0,233.9L137.4,234.0L138.0,234.0L141.0,234.2L144.0,234.3L147.0,234.5L150.0,234.7L153.0,234.9L156.0,235.1L159.0,235.3L162.0,235.5L165.0,235.7L168.0,235.9L171.0,236.1L174.0,236.4L177.0,236.6L180.0,236.8L182.4,237.0L183.0,237.0L186.0,237.2L189.0,237.4L192.0,237.5L195.0,237.7L198.0,237.9L201.0,238.0L204.0,238.2L207.0,238.3L210.0,238.5L213.0,238.6L216.0,238.6L219.0,238.3L222.0,237.2L222.3,237.0L225.0,234.1L228.0,234.1L231.0,234.2L234.0,234.3L237.0,234.4L240.0,234.5L243.0,234.6L246.0,234.6L249.0,234.7L252.0,234.8L255.0,234.9L258.0,235.0L261.0,235.1L264.0,235.2L267.0,235.3L270.0,235.3L273.0,235.4L276.0,235.5L279.0,235.5L282.0,235.6L285.0,235.6L288.0,235.7L291.0,235.7L294.0,235.8L297.0,235.8L300.0,235.8L303.0,235.9L306.0,235.9L309.0,235.9L312.0,235.9L315.0,235.9L318.0,235.9L321.0,235.9L324.0,235.9L327.0,235.9L330.0,235.9L333.0,235.9L336.0,235.9L339.0,235.9L342.0,235.9L345.0,235.9L348.0,235.8L351.0,235.8L354.0,235.8L357.0,235.8L360.0,235.7L363.0,235.7L366.0,235.6L369.0,235.6L372.0,235.6L375.0,235.5L378.0,235.5L381.0,235.4L384.0,235.4L387.0,235.3L390.0,235.2L393.0,235.2L396.0,235.1L399.0,235.0L402.0,235.0L405.0,234.9L408.0,234.9L411.0,234.8L414.0,234.7L417.0,234.6L420.0,234.6L423.0,234.5L426.0,234.4L429.0,234.4L432.0,234.3L435.0,234.2L438.0,234.2L441.0,234.1L443.6,234.0L444.0,234.0L447.0,233.8L450.0,233.6L453.0,233.4L456.0,233.2L459.0,233.0L462.0,232.8L465.0,232.6L468.0,232.4L471.0,232.2L474.0,232.0L477.0,231.8L480.0,231.6L483.0,231.4L486.0,231.2L488.6,231.0L489.0,231.0L492.0,230.8L495.0,230.6L498.0,230.4L501.0,230.2L504.0,230.0L507.0,229.9L510.0,229.7L513.0,229.5L516.0,229.4L519.0,229.2L522.0,229.0L525.0,228.9L528.0,228.7L531.0,228.5L534.0,228.3L537.0,228.1L537.8,228.0L540.0,227.8L543.0,227.5L546.0,227.2L549.0,226.8L552.0,226.3L555.0,225.7L558.0,225.1L558.3,225.0L561.0,224.3L564.0,223.5L567.0,222.7L569.9,222.0ZM627.0,329.7L626.5,330.0L627.0,331.6L627.6,330.0L627.0,329.7ZM660.0,314.9L659.7,315.0L660.0,315.1L663.0,315.6L663.6,315.0L663.0,314.8L660.0,314.9ZM1334.6,297.0L1335.0,296.6L1338.0,294.1L1338.0,297.0L1338.0,300.0L1338.0,303.0L1338.0,306.0L1338.0,309.0L1338.0,312.0L1338.0,315.0L1338.0,318.0L1338.0,321.0L1338.0,324.0L1338.0,327.0L1338.0,330.0L1338.0,333.0L1338.0,336.0L1338.0,339.0L1338.0,342.0L1338.0,345.0L1338.0,348.0L1338.0,351.0L1338.0,354.0L1338.0,357.0L1338.0,360.0L1338.0,363.0L1338.0,363.1L1337.9,363.0L1335.0,361.2L1333.3,360.0L1332.0,358.9L1330.2,357.0L1329.0,355.6L1327.8,354.0L1326.0,351.7L1325.4,351.0L1323.4,348.0L1323.0,347.4L1321.7,345.0L1320.3,342.0L1320.0,341.0L1319.3,339.0L1318.5,336.0L1317.6,333.0L1317.0,331.2L1316.6,330.0L1316.5,327.0L1316.9,324.0L1317.0,322.9L1317.2,321.0L1317.7,318.0L1318.2,315.0L1319.0,312.0L1320.0,309.7L1320.4,309.0L1322.8,306.0L1323.0,305.8L1326.0,303.3L1326.5,303.0L1329.0,301.2L1330.7,300.0L1332.0,299.1L1334.6,297.0Z" fill="#16ffe1" fill-rule="evenodd"/><path d="M556.0,240.0L558.0,239.7L561.0,239.4L564.0,239.0L567.0,238.8L570.0,238.8L573.0,239.4L574.3,240.0L576.0,241.2L577.8,243.0L579.0,244.7L579.7,246.0L581.2,249.0L582.0,250.3L583.1,252.0L585.0,255.0L585.0,255.0L586.8,258.0L588.0,259.9L588.6,261.0L590.3,264.0L591.0,265.4L591.8,267.0L593.1,270.0L594.0,272.1L594.4,273.0L595.4,276.0L596.6,279.0L597.0,280.0L597.8,282.0L599.1,285.0L600.0,287.3L600.3,288.0L601.6,291.0L603.0,294.0L603.0,294.1L604.5,297.0L606.0,299.4L606.4,300.0L608.6,303.0L609.0,303.4L611.3,306.0L612.0,306.6L614.4,309.0L615.0,309.6L617.6,312.0L618.0,312.3L621.0,314.9L621.1,315.0L623.9,318.0L623.9,321.0L621.0,323.2L620.1,324.0L618.0,325.6L616.4,327.0L615.0,328.0L612.0,330.0L612.0,330.0L609.0,331.9L607.3,333.0L606.0,333.8L603.0,335.8L602.7,336.0L600.0,337.8L598.0,339.0L597.0,339.7L594.0,341.8L593.7,342.0L591.0,344.1L589.9,345.0L588.0,346.6L586.4,348.0L585.0,349.2L583.1,351.0L582.0,352.0L580.0,354.0L579.0,355.0L577.0,357.0L576.0,358.1L574.2,360.0L573.0,361.3L571.4,363.0L570.0,364.6L568.7,366.0L567.0,367.9L566.0,369.0L564.0,371.3L563.4,372.0L561.0,374.9L560.9,375.0L558.4,378.0L558.0,378.6L556.1,381.0L555.0,382.4L553.7,384.0L552.0,386.3L551.4,387.0L549.2,390.0L549.0,390.2L547.0,393.0L546.0,394.4L544.9,396.0L543.0,398.7L542.8,399.0L540.8,402.0L540.0,403.3L538.9,405.0L537.0,407.9L537.0,408.0L535.1,411.0L534.0,412.6L533.1,414.0L531.1,417.0L531.0,417.1L529.1,420.0L528.0,421.4L526.9,423.0L525.0,425.3L524.5,426.0L522.2,429.0L522.0,429.3L520.1,432.0L519.0,433.4L517.8,435.0L516.0,437.1L515.2,438.0L513.0,439.9L511.5,441.0L510.0,442.1L507.0,444.0L507.0,444.0L504.0,445.1L501.0,446.2L498.4,447.0L498.0,447.2L495.0,448.2L492.0,449.1L489.0,449.7L487.1,450.0L486.0,450.3L483.0,451.1L480.0,451.7L477.0,452.3L474.0,452.8L473.0,453.0L471.0,453.5L468.0,454.2L465.0,454.9L462.0,455.4L459.0,455.9L458.2,456.0L456.0,456.5L453.0,457.1L450.0,457.6L447.0,458.1L444.0,458.7L442.4,459.0L441.0,460.1L438.0,460.9L436.5,459.0L435.0,458.6L433.9,459.0L432.0,460.6L429.0,459.1L426.0,460.4L423.0,460.0L420.0,460.5L417.0,460.2L414.0,460.7L411.0,460.2L408.0,460.6L405.0,460.3L402.0,460.5L399.0,460.3L396.0,460.3L393.0,460.6L390.0,461.0L387.0,460.8L384.0,461.0L381.0,461.3L378.0,461.2L375.0,461.0L372.0,460.8L369.0,460.7L366.0,460.4L363.0,460.1L360.0,459.8L357.0,459.3L354.8,459.0L354.0,458.9L351.0,458.3L348.0,457.8L345.0,457.2L342.0,456.7L339.0,456.0L338.8,456.0L336.0,455.5L333.0,454.9L330.0,454.4L327.0,453.9L324.0,453.3L322.3,453.0L321.0,452.8L318.0,452.3L315.0,451.8L312.0,451.3L309.0,450.7L306.0,450.2L305.2,450.0L303.0,449.6L300.0,449.1L297.0,448.6L294.0,448.1L291.0,447.6L288.0,447.0L287.8,447.0L285.0,446.6L282.0,446.1L279.0,445.7L276.0,445.2L273.0,444.8L270.0,444.4L267.0,444.0L266.6,444.0L264.0,443.7L261.0,443.5L258.0,443.2L255.0,442.4L252.7,441.0L252.0,440.5L249.0,438.3L248.5,438.0L246.0,437.8L243.0,437.5L240.0,437.0L237.0,436.5L234.4,435.0L234.0,434.9L231.9,435.0L231.0,435.2L228.0,436.8L227.3,438.0L225.0,439.9L222.0,439.9L219.0,439.3L216.8,438.0L216.0,437.2L214.5,435.0L214.1,432.0L215.9,429.0L214.4,426.0L213.0,425.9L210.0,424.9L207.0,423.4L206.3,423.0L204.0,422.0L201.0,420.5L200.0,420.0L198.0,419.2L195.0,418.0L192.3,417.0L192.0,416.9L189.0,415.9L186.0,415.0L183.0,414.1L182.7,414.0L180.0,413.2L177.0,412.4L174.0,411.6L171.8,411.0L171.0,410.8L168.0,410.1L165.0,409.4L162.0,408.7L159.0,408.1L158.7,408.0L156.0,407.5L153.0,407.0L150.0,406.5L147.0,406.1L144.0,405.7L141.0,405.5L138.0,405.3L135.0,405.3L132.0,405.3L129.0,405.4L126.0,405.5L123.0,405.6L120.0,405.8L117.0,405.9L114.0,406.1L111.0,406.2L108.0,406.2L105.0,406.2L102.0,406.1L99.0,405.8L96.0,405.5L93.0,405.1L92.4,405.0L90.0,404.6L87.0,403.5L84.7,402.0L84.0,401.7L81.0,401.7L78.0,400.6L75.0,400.0L73.4,399.0L72.0,398.7L69.0,398.6L66.0,397.4L63.2,396.0L63.0,396.0L60.0,395.6L57.0,395.3L54.0,394.5L53.4,393.0L51.0,392.4L48.1,390.0L48.0,389.9L45.0,388.9L42.0,387.7L40.3,387.0L39.0,386.5L36.0,385.4L33.0,384.1L32.8,384.0L30.0,382.8L27.0,381.3L26.5,381.0L24.0,379.7L21.0,378.0L20.9,378.0L18.0,376.4L15.8,375.0L15.0,374.5L12.0,372.7L10.9,372.0L9.0,370.8L6.3,369.0L6.0,368.8L3.0,366.9L1.6,366.0L0.0,364.7L-1.9,363.0L-3.0,361.9L-4.8,360.0L-6.0,358.7L-6.0,357.0L-6.0,354.0L-6.0,351.0L-6.0,348.0L-6.0,345.0L-6.0,342.0L-6.0,339.0L-6.0,336.0L-6.0,333.0L-6.0,330.0L-6.0,327.0L-6.0,324.0L-6.0,321.0L-6.0,318.0L-6.0,315.0L-6.0,312.0L-6.0,309.0L-6.0,306.0L-6.0,303.0L-6.0,301.9L-3.8,300.0L-3.0,299.4L0.0,297.0L0.0,297.0L3.0,294.6L3.7,294.0L6.0,292.1L7.3,291.0L9.0,289.5L10.8,288.0L12.0,287.0L14.4,285.0L15.0,284.5L18.0,282.0L18.0,282.0L21.0,279.6L21.7,279.0L24.0,277.2L25.6,276.0L27.0,275.0L29.7,273.0L30.0,272.8L33.0,270.8L34.3,270.0L36.0,268.9L39.0,267.1L39.3,267.0L42.0,265.4L44.6,264.0L45.0,263.8L48.0,262.2L50.6,261.0L51.0,260.8L54.0,259.5L57.0,258.3L57.8,258.0L60.0,257.2L63.0,256.2L66.0,255.3L67.3,255.0L69.0,254.5L72.0,253.8L75.0,253.2L78.0,252.6L81.0,252.1L81.6,252.0L84.0,251.6L87.0,251.2L90.0,250.8L93.0,250.4L96.0,250.0L99.0,249.7L102.0,249.4L105.0,249.1L106.2,249.0L108.0,248.8L111.0,248.6L114.0,248.3L117.0,248.0L120.0,247.8L123.0,247.6L126.0,247.3L129.0,247.1L132.0,247.0L135.0,246.8L138.0,246.7L141.0,246.6L144.0,246.5L147.0,246.4L150.0,246.3L153.0,246.2L156.0,246.2L159.0,246.1L162.0,246.1L165.0,246.1L168.0,246.1L171.0,246.0L174.0,246.0L177.0,246.1L180.0,246.1L183.0,246.2L186.0,246.3L189.0,246.4L192.0,246.5L195.0,246.6L198.0,246.8L201.0,246.9L204.0,247.0L207.0,247.1L210.0,247.3L213.0,247.4L216.0,247.5L219.0,247.3L221.5,246.0L222.0,245.8L225.0,244.9L228.0,244.7L231.0,244.8L234.0,244.9L237.0,245.0L240.0,245.2L243.0,245.3L246.0,245.4L249.0,245.4L252.0,245.4L255.0,245.4L258.0,245.4L261.0,245.4L264.0,245.5L267.0,245.6L270.0,245.6L273.0,245.7L276.0,245.8L279.0,245.9L281.3,246.0L282.0,246.0L285.0,246.1L288.0,246.1L291.0,246.1L294.0,246.1L297.0,246.1L300.0,246.1L303.0,246.2L306.0,246.2L309.0,246.2L312.0,246.2L315.0,246.2L318.0,246.2L321.0,246.2L324.0,246.2L327.0,246.1L330.0,246.1L333.0,246.1L336.0,246.1L339.0,246.1L342.0,246.1L345.0,246.1L348.0,246.1L351.0,246.1L354.0,246.1L357.0,246.1L360.0,246.1L363.0,246.1L366.0,246.1L369.0,246.1L372.0,246.1L375.0,246.1L378.0,246.0L381.0,246.1L384.0,246.0L387.0,246.1L390.0,246.0L393.0,246.1L396.0,246.0L399.0,246.0L402.0,246.0L405.0,246.0L408.0,246.0L411.0,246.0L414.0,246.0L417.0,246.0L420.0,246.0L423.0,246.0L426.0,246.0L429.0,246.0L432.0,246.0L435.0,246.0L438.0,246.0L441.0,246.1L444.0,246.4L447.0,246.6L450.0,246.6L453.0,246.5L456.0,246.3L459.0,246.2L462.0,246.0L462.9,246.0L465.0,245.9L468.0,245.7L471.0,245.6L474.0,245.4L477.0,245.3L480.0,245.1L483.0,245.0L486.0,244.8L489.0,244.7L492.0,244.5L495.0,244.3L498.0,244.1L501.0,244.0L504.0,243.8L507.0,243.6L510.0,243.4L513.0,243.2L516.0,243.0L516.2,243.0L519.0,242.8L522.0,242.6L525.0,242.4L528.0,242.2L531.0,242.0L534.0,241.8L537.0,241.6L540.0,241.3L543.0,241.1L546.0,240.9L549.0,240.7L552.0,240.4L555.0,240.1L556.0,240.0Z" fill="#3cffba" fill-rule="evenodd"/><path d="M164.2,255.0L165.0,254.9L168.0,254.5L171.0,254.0L174.0,253.6L177.0,253.5L180.0,254.0L183.0,254.5L186.0,254.8L188.3,255.0L189.0,255.1L192.0,255.2L195.0,255.2L198.0,255.1L201.0,255.0L201.8,255.0L204.0,254.9L207.0,254.8L210.0,254.8L213.0,254.7L216.0,254.7L219.0,254.7L222.0,254.6L225.0,254.5L228.0,254.4L231.0,254.4L234.0,254.3L237.0,254.4L240.0,254.3L243.0,254.2L246.0,254.1L249.0,253.7L252.0,254.1L255.0,254.6L258.0,254.9L261.0,254.9L264.0,255.0L267.0,254.9L270.0,255.0L273.0,254.9L276.0,254.8L279.0,254.6L282.0,254.5L285.0,254.3L288.0,254.4L291.0,254.5L294.0,254.7L297.0,254.7L300.0,254.7L303.0,254.7L306.0,254.7L309.0,254.7L312.0,254.7L315.0,254.7L318.0,254.7L321.0,254.7L324.0,254.7L327.0,254.7L330.0,254.7L333.0,254.7L336.0,254.7L339.0,254.7L342.0,254.7L345.0,254.7L348.0,254.7L351.0,254.7L354.0,254.7L357.0,254.7L360.0,254.7L363.0,254.7L366.0,254.7L369.0,254.7L372.0,254.7L375.0,254.7L378.0,254.7L381.0,254.7L384.0,254.7L387.0,254.7L390.0,254.7L393.0,254.7L396.0,254.7L399.0,254.7L402.0,254.7L405.0,254.7L408.0,254.7L411.0,254.7L414.0,254.7L417.0,254.7L420.0,254.7L423.0,254.7L426.0,254.7L429.0,254.7L432.0,254.7L435.0,254.7L438.0,254.7L441.0,255.0L441.1,255.0L444.0,255.5L447.0,256.1L450.0,256.2L453.0,256.1L456.0,256.0L459.0,255.9L462.0,255.8L465.0,255.7L468.0,255.6L471.0,255.5L474.0,255.4L477.0,255.3L480.0,255.2L483.0,255.1L485.2,255.0L486.0,255.0L489.0,254.9L492.0,254.8L495.0,254.7L498.0,254.6L501.0,254.4L504.0,254.3L507.0,254.2L510.0,254.1L513.0,253.9L516.0,253.8L519.0,253.7L522.0,253.6L525.0,253.4L528.0,253.3L531.0,253.2L534.0,253.1L537.0,253.0L540.0,253.0L543.0,252.9L546.0,253.0L549.0,253.0L552.0,253.1L555.0,253.3L558.0,253.7L561.0,254.6L561.9,255.0L564.0,256.3L565.9,258.0L567.0,259.1L568.4,261.0L570.0,263.5L570.3,264.0L571.9,267.0L573.0,269.0L573.5,270.0L575.1,273.0L576.0,274.6L576.8,276.0L578.4,279.0L579.0,280.3L579.9,282.0L581.3,285.0L582.0,286.4L582.8,288.0L584.2,291.0L585.0,292.9L585.5,294.0L586.9,297.0L588.0,299.7L588.1,300.0L589.4,303.0L590.6,306.0L591.0,307.0L591.9,309.0L593.1,312.0L594.0,314.6L594.2,315.0L595.3,318.0L596.4,321.0L597.0,323.1L597.4,324.0L598.2,327.0L597.0,329.1L596.4,330.0L594.0,331.1L591.8,333.0L591.0,333.6L588.0,335.9L587.9,336.0L585.0,338.3L584.0,339.0L582.0,340.5L580.1,342.0L579.0,342.9L576.5,345.0L576.0,345.4L573.1,348.0L573.0,348.1L570.0,350.8L569.7,351.0L567.0,353.5L566.5,354.0L564.0,356.4L563.3,357.0L561.0,359.3L560.3,360.0L558.0,362.3L557.4,363.0L555.0,365.5L554.5,366.0L552.0,368.8L551.8,369.0L549.3,372.0L549.0,372.4L547.0,375.0L546.0,376.3L544.8,378.0L543.0,380.5L542.7,381.0L540.7,384.0L540.0,385.1L538.8,387.0L537.0,389.8L536.9,390.0L535.0,393.0L534.0,394.5L533.1,396.0L531.3,399.0L531.0,399.6L529.6,402.0L528.0,404.9L527.9,405.0L526.3,408.0L525.0,410.2L524.5,411.0L522.8,414.0L522.0,415.2L520.9,417.0L519.0,419.9L518.9,420.0L516.7,423.0L516.0,424.0L514.4,426.0L513.0,427.7L512.0,429.0L510.0,431.3L509.4,432.0L507.0,434.3L506.2,435.0L504.0,436.6L501.9,438.0L501.0,438.5L498.0,439.9L495.8,441.0L495.0,441.4L492.0,442.5L489.0,443.5L487.5,444.0L486.0,444.5L483.0,445.3L480.0,446.1L477.0,446.9L476.8,447.0L474.0,447.7L471.0,448.4L468.0,449.2L465.0,449.9L464.5,450.0L462.0,450.6L459.0,451.2L456.0,452.0L453.0,452.6L451.6,453.0L450.0,453.3L447.0,454.2L444.0,455.3L441.5,456.0L441.0,456.2L438.0,456.6L435.0,456.4L432.0,456.9L429.0,456.7L426.0,457.0L423.0,456.9L420.0,457.2L417.0,457.2L414.0,457.3L411.0,457.3L408.0,457.3L405.0,457.3L402.0,457.3L399.0,457.3L396.0,457.2L393.0,457.3L390.0,457.4L387.0,457.3L384.0,457.3L381.0,457.3L378.0,457.1L375.0,456.8L372.0,456.5L369.0,456.1L368.3,456.0L366.0,455.6L363.0,455.1L360.0,454.6L357.0,454.0L354.0,453.3L352.6,453.0L351.0,452.6L348.0,452.0L345.0,451.3L342.0,450.5L339.8,450.0L339.0,449.8L336.0,449.1L333.0,448.4L330.0,447.7L327.0,447.0L327.0,447.0L324.0,446.3L321.0,445.6L318.0,444.9L315.0,444.2L314.2,444.0L312.0,443.4L309.0,442.7L306.0,441.9L303.0,441.1L302.6,441.0L300.0,440.3L297.0,439.5L294.0,438.8L291.0,438.0L290.9,438.0L288.0,437.3L285.0,436.6L282.0,436.0L279.0,435.4L276.6,435.0L276.0,434.9L273.0,434.4L270.0,434.0L267.0,433.6L264.0,433.3L261.0,433.0L258.0,432.7L255.0,432.1L254.5,432.0L252.0,430.1L250.5,429.0L249.0,428.4L246.0,428.4L243.9,429.0L243.0,429.2L240.0,429.5L237.0,429.7L234.0,429.7L231.0,429.4L229.7,429.0L231.0,427.5L234.0,426.6L236.7,426.0L234.0,425.6L231.0,424.8L229.7,423.0L228.0,422.6L225.0,422.3L222.0,421.0L219.8,420.0L219.0,419.6L216.0,417.5L214.7,417.0L213.0,416.2L210.0,415.0L207.5,414.0L207.0,413.8L204.0,412.5L201.0,411.3L200.2,411.0L198.0,410.1L195.0,408.9L192.6,408.0L192.0,407.8L189.0,406.7L186.0,405.6L184.1,405.0L183.0,404.7L180.0,403.8L177.0,403.0L174.0,402.3L172.7,402.0L171.0,401.7L168.0,401.1L165.0,400.7L162.0,400.3L159.0,399.9L156.0,399.6L153.0,399.4L150.0,399.2L147.4,399.0L147.0,399.0L144.0,398.8L141.0,398.6L138.0,398.4L135.0,398.3L132.0,398.1L129.0,397.9L126.0,397.8L123.0,397.6L120.0,397.6L117.0,397.6L114.0,397.6L111.0,397.6L108.0,397.6L105.0,397.5L102.0,397.5L99.0,397.3L96.0,397.1L93.0,396.8L90.0,396.3L88.6,396.0L87.0,395.7L84.0,394.9L81.0,394.2L78.0,393.4L76.3,393.0L75.0,392.6L72.0,391.6L69.0,390.8L66.3,390.0L66.0,389.9L63.0,388.9L60.0,388.0L57.0,387.2L56.4,387.0L54.0,386.1L51.0,384.5L50.1,384.0L48.0,382.6L45.0,381.0L45.0,381.0L42.0,379.3L39.6,378.0L39.0,377.7L36.0,376.0L34.2,375.0L33.0,374.3L30.0,372.6L29.0,372.0L27.0,370.8L24.1,369.0L24.0,368.9L21.0,366.9L19.7,366.0L18.0,364.7L16.0,363.0L15.0,362.0L13.1,360.0L12.0,358.5L10.8,357.0L9.1,354.0L9.0,353.9L7.5,351.0L6.2,348.0L6.0,347.6L4.7,345.0L3.3,342.0L3.0,341.4L1.9,339.0L0.8,336.0L0.0,333.2L-0.1,333.0L-0.6,330.0L-0.7,327.0L-0.3,324.0L0.0,323.1L0.9,321.0L3.0,318.9L4.0,318.0L6.0,316.6L8.0,315.0L9.0,314.3L12.0,312.0L12.0,312.0L15.0,309.7L15.9,309.0L18.0,307.4L19.9,306.0L21.0,305.1L23.9,303.0L24.0,302.9L27.0,300.7L27.9,300.0L30.0,298.5L32.0,297.0L33.0,296.3L36.0,294.1L36.1,294.0L39.0,292.0L40.4,291.0L42.0,289.9L44.8,288.0L45.0,287.9L48.0,286.0L49.5,285.0L51.0,284.2L54.0,282.5L55.0,282.0L57.0,281.1L60.0,279.7L61.8,279.0L63.0,278.5L66.0,277.5L69.0,276.5L70.5,276.0L72.0,275.6L75.0,274.8L78.0,274.0L81.0,273.2L81.9,273.0L84.0,272.4L87.0,271.3L89.6,270.0L90.0,269.8L93.0,268.2L95.3,267.0L96.0,266.7L99.0,265.4L102.0,264.4L104.0,264.0L105.0,263.8L108.0,263.4L111.0,263.0L114.0,262.6L117.0,262.1L120.0,261.7L123.0,261.2L124.2,261.0L126.0,260.7L129.0,260.3L132.0,259.9L135.0,259.4L138.0,259.0L141.0,258.5L144.0,258.0L144.2,258.0L147.0,257.6L150.0,257.2L153.0,256.7L156.0,256.3L159.0,255.8L162.0,255.4L164.2,255.0ZM240.0,425.9L237.6,426.0L240.0,426.7L240.7,426.0L240.0,425.9Z" fill="#66ff90" fill-rule="evenodd"/><path d="M246.8,258.0L249.0,257.8L249.6,258.0L250.2,261.0L252.0,261.8L255.0,262.4L258.0,262.7L261.0,262.7L264.0,262.5L267.0,262.5L270.0,262.3L273.0,261.9L276.0,261.5L277.3,261.0L279.0,260.2L282.0,259.1L285.0,258.3L288.0,258.4L291.0,260.1L292.3,261.0L294.0,263.7L297.0,263.5L300.0,263.4L303.0,263.3L306.0,263.3L309.0,263.3L312.0,263.3L315.0,263.3L318.0,263.3L321.0,263.3L324.0,263.3L327.0,263.3L330.0,263.3L333.0,263.3L336.0,263.2L339.0,263.2L342.0,263.3L345.0,263.4L348.0,263.4L351.0,263.4L354.0,263.4L357.0,263.3L360.0,263.3L363.0,263.3L366.0,263.3L369.0,263.3L372.0,263.3L375.0,263.3L378.0,263.3L381.0,263.3L384.0,263.3L387.0,263.3L390.0,263.3L393.0,263.3L396.0,263.3L399.0,263.3L402.0,263.3L405.0,263.3L408.0,263.3L411.0,263.3L414.0,263.3L417.0,263.3L420.0,263.3L423.0,263.3L426.0,263.3L429.0,263.3L432.0,263.3L435.0,263.3L438.0,263.4L441.0,263.6L444.0,263.9L445.9,264.0L447.0,264.1L450.0,264.0L450.5,264.0L453.0,263.9L456.0,263.8L459.0,263.7L462.0,263.7L465.0,263.6L468.0,263.5L471.0,263.4L474.0,263.4L477.0,263.3L480.0,263.3L483.0,263.3L486.0,263.2L489.0,263.2L492.0,263.3L495.0,263.3L498.0,263.4L501.0,263.5L504.0,263.5L507.0,263.6L510.0,263.7L513.0,263.8L516.0,263.9L518.6,264.0L519.0,264.0L522.0,264.2L525.0,264.3L528.0,264.5L531.0,264.7L534.0,264.9L537.0,265.2L540.0,265.6L543.0,266.0L546.0,266.6L548.0,267.0L549.0,267.3L552.0,268.3L555.0,269.7L555.5,270.0L558.0,271.9L559.1,273.0L561.0,275.1L561.8,276.0L564.0,278.6L564.3,279.0L566.8,282.0L567.0,282.3L568.8,285.0L570.0,287.0L570.6,288.0L572.1,291.0L573.0,292.8L573.5,294.0L574.8,297.0L576.0,300.0L576.0,300.0L577.0,303.0L577.9,306.0L578.8,309.0L579.0,309.5L579.7,312.0L580.5,315.0L581.3,318.0L582.0,321.0L582.0,321.0L582.5,324.0L582.3,327.0L582.0,327.8L579.0,329.8L578.8,330.0L576.0,331.9L574.9,333.0L573.0,334.6L571.1,336.0L570.0,336.9L567.1,339.0L567.0,339.1L564.0,341.7L563.6,342.0L561.0,344.5L560.5,345.0L558.0,347.6L557.6,348.0L555.0,350.8L554.9,351.0L552.2,354.0L552.0,354.2L549.7,357.0L549.0,357.8L547.2,360.0L546.0,361.5L544.9,363.0L543.0,365.5L542.6,366.0L540.5,369.0L540.0,369.8L538.5,372.0L537.0,374.5L536.7,375.0L534.9,378.0L534.0,379.6L533.2,381.0L531.5,384.0L531.0,384.9L529.8,387.0L528.0,390.0L528.0,390.1L526.2,393.0L525.0,395.1L524.5,396.0L522.8,399.0L522.0,400.4L521.1,402.0L519.4,405.0L519.0,405.7L517.7,408.0L516.0,410.8L515.9,411.0L514.0,414.0L513.0,415.5L511.9,417.0L510.0,419.4L509.5,420.0L507.0,422.9L506.9,423.0L504.1,426.0L504.0,426.1L501.0,428.9L500.9,429.0L498.0,431.4L497.1,432.0L495.0,433.4L492.4,435.0L492.0,435.2L489.0,436.8L486.4,438.0L486.0,438.2L483.0,439.3L480.0,440.4L478.2,441.0L477.0,441.4L474.0,442.3L471.0,443.1L468.0,444.0L467.9,444.0L465.0,444.7L462.0,445.5L459.0,446.3L456.0,447.0L455.9,447.0L453.0,447.7L450.0,448.2L447.0,449.4L446.4,450.0L444.0,452.3L442.4,453.0L441.0,453.3L438.0,453.4L435.0,453.3L432.0,453.3L429.0,453.3L426.0,453.3L423.0,453.3L420.0,453.3L417.0,453.4L414.0,453.3L411.0,453.3L408.0,453.2L405.0,453.2L402.0,453.0L399.0,453.0L398.6,453.0L396.0,452.8L393.0,452.8L390.0,452.6L387.0,452.5L384.0,452.3L381.0,452.1L378.0,451.8L375.0,451.5L372.0,451.2L369.0,450.8L366.0,450.4L363.6,450.0L363.0,449.9L360.0,449.3L357.0,448.6L354.0,447.9L351.0,447.1L350.6,447.0L348.0,446.3L345.0,445.4L342.0,444.7L339.3,444.0L339.0,443.9L336.0,443.1L333.0,442.2L330.0,441.3L328.8,441.0L327.0,440.4L324.0,439.5L321.0,438.5L319.2,438.0L318.0,437.6L315.0,436.6L312.0,435.7L309.6,435.0L309.0,434.8L306.0,433.9L303.0,432.9L300.2,432.0L300.0,431.9L297.0,430.9L294.0,429.8L291.6,429.0L291.0,428.8L288.0,427.8L285.0,426.9L282.0,426.1L281.7,426.0L279.0,425.4L276.0,424.7L273.0,424.1L270.0,423.6L267.0,423.2L265.5,423.0L264.0,422.8L261.0,422.5L258.0,422.1L255.0,421.2L252.0,420.2L251.5,420.0L249.0,418.3L246.0,417.4L245.6,417.0L243.0,416.7L240.0,416.1L237.8,417.0L237.0,417.2L234.0,418.7L231.0,418.8L228.0,418.9L225.0,418.7L222.0,417.8L220.7,417.0L219.0,415.3L217.5,414.0L216.0,411.6L215.4,411.0L214.9,408.0L216.0,405.6L218.6,405.0L216.0,404.4L213.0,404.0L210.0,402.9L207.1,402.0L207.0,402.0L204.0,400.9L201.0,399.9L198.0,399.0L197.9,399.0L195.0,398.0L192.0,397.1L189.0,396.3L187.7,396.0L186.0,395.6L183.0,394.8L180.0,394.1L177.0,393.5L174.1,393.0L174.0,393.0L171.0,392.5L168.0,392.1L165.0,391.8L162.0,391.6L159.0,391.4L156.0,391.2L153.0,391.1L150.0,391.0L147.0,390.9L144.0,390.8L141.0,390.7L138.0,390.7L135.0,390.5L132.0,390.4L129.0,390.2L126.0,390.1L125.1,390.0L123.0,389.9L120.0,389.8L117.0,389.7L114.0,389.5L111.0,389.4L108.0,389.3L105.0,389.2L102.0,389.0L99.0,388.9L96.0,388.7L93.0,388.4L90.0,388.1L87.0,387.8L84.0,387.4L81.7,387.0L81.0,386.9L78.0,386.3L75.0,385.6L72.0,384.7L70.3,384.0L69.0,383.5L66.0,382.4L63.0,381.4L61.1,381.0L60.0,380.7L57.0,378.9L55.4,378.0L54.0,377.2L51.0,375.6L50.2,375.0L48.0,373.2L46.4,372.0L45.0,371.0L42.2,369.0L42.0,368.8L39.0,366.5L38.3,366.0L36.0,363.9L34.9,363.0L33.0,360.9L32.1,360.0L30.0,357.2L29.8,357.0L27.9,354.0L27.0,352.2L26.4,351.0L25.1,348.0L24.1,345.0L24.0,344.4L23.5,342.0L23.3,339.0L23.5,336.0L24.0,333.0L24.0,333.0L25.0,330.0L27.0,327.6L28.3,327.0L30.0,326.5L33.0,324.7L33.9,324.0L36.0,322.7L38.6,321.0L39.0,320.7L42.0,318.8L43.1,318.0L45.0,316.8L47.8,315.0L48.0,314.9L51.0,312.9L52.5,312.0L54.0,311.0L57.0,309.1L57.1,309.0L60.0,307.1L61.7,306.0L63.0,305.1L66.0,303.2L66.3,303.0L69.0,301.2L70.9,300.0L72.0,299.3L75.0,297.3L75.6,297.0L78.0,295.5L80.8,294.0L81.0,293.9L84.0,292.4L87.0,291.1L87.2,291.0L90.0,289.7L93.0,288.4L94.0,288.0L96.0,287.1L99.0,285.9L101.4,285.0L102.0,284.8L105.0,284.1L108.0,283.4L111.0,282.7L113.8,282.0L114.0,282.0L117.0,281.2L120.0,280.5L123.0,279.8L126.0,279.1L126.4,279.0L129.0,278.4L132.0,277.7L135.0,277.0L138.0,276.3L139.2,276.0L141.0,275.6L144.0,274.9L147.0,274.2L150.0,273.5L152.4,273.0L153.0,272.9L156.0,272.2L159.0,271.5L162.0,270.9L165.0,270.3L166.3,270.0L168.0,269.6L171.0,269.0L174.0,268.4L177.0,267.8L180.0,267.3L181.8,267.0L183.0,266.8L186.0,266.3L189.0,265.8L192.0,265.3L195.0,264.9L198.0,264.4L200.5,264.0L201.0,263.9L204.0,263.5L207.0,263.1L210.0,262.6L213.0,262.2L216.0,261.8L219.0,261.7L222.0,262.1L225.0,261.7L228.0,261.4L231.0,261.0L231.2,261.0L234.0,260.9L237.0,260.7L240.0,260.4L243.0,259.9L246.0,258.7L246.8,258.0Z" fill="#90ff66" fill-rule="evenodd"/><path d="M257.6,267.0L258.0,267.0L261.0,266.8L264.0,266.6L267.0,266.4L270.0,266.3L273.0,266.1L276.0,266.7L277.2,267.0L278.0,270.0L279.0,270.5L282.0,271.5L285.0,272.2L288.0,271.8L291.0,272.2L294.0,271.3L297.0,271.8L300.0,270.9L303.0,271.4L306.0,270.9L309.0,271.1L312.0,271.1L315.0,270.9L318.0,271.1L321.0,270.8L324.0,270.8L327.0,270.7L330.0,270.5L333.0,270.6L336.0,270.1L337.1,270.0L339.0,269.7L340.1,270.0L342.0,270.4L344.7,273.0L345.0,273.3L348.0,273.7L351.0,273.7L354.0,273.6L357.0,273.6L360.0,273.6L363.0,273.6L366.0,273.6L369.0,273.6L372.0,273.6L375.0,273.6L378.0,273.6L381.0,273.6L384.0,273.6L387.0,273.6L390.0,273.6L393.0,273.6L396.0,273.6L399.0,273.6L402.0,273.6L405.0,273.6L408.0,273.6L411.0,273.6L414.0,273.6L417.0,273.6L420.0,273.6L423.0,273.6L426.0,273.6L429.0,273.6L432.0,273.6L435.0,273.6L438.0,273.6L441.0,273.4L444.0,273.1L445.2,273.0L447.0,272.9L450.0,272.8L453.0,272.9L456.0,272.9L459.0,272.9L462.0,272.9L465.0,272.9L468.0,272.9L471.0,272.9L474.0,273.0L475.5,273.0L477.0,273.0L480.0,273.1L483.0,273.2L486.0,273.2L489.0,273.4L492.0,273.5L495.0,273.7L498.0,273.9L501.0,274.1L504.0,274.3L507.0,274.5L510.0,274.7L513.0,274.9L516.0,275.2L519.0,275.5L522.0,275.8L523.9,276.0L525.0,276.1L528.0,276.6L531.0,277.1L534.0,277.7L537.0,278.5L538.8,279.0L540.0,279.4L543.0,280.7L545.2,282.0L546.0,282.5L549.0,284.9L549.1,285.0L551.9,288.0L552.0,288.1L554.4,291.0L555.0,291.8L556.7,294.0L558.0,296.0L558.7,297.0L560.3,300.0L561.0,301.4L561.7,303.0L562.9,306.0L563.9,309.0L564.0,309.3L564.8,312.0L565.5,315.0L566.1,318.0L566.5,321.0L566.9,324.0L567.0,326.1L567.0,327.0L567.0,327.1L564.0,328.3L562.6,330.0L561.0,331.1L559.4,333.0L558.0,334.2L555.6,336.0L555.0,336.6L552.3,339.0L552.0,339.4L549.4,342.0L549.0,342.4L546.7,345.0L546.0,345.8L544.1,348.0L543.0,349.4L541.6,351.0L540.0,353.0L539.2,354.0L537.0,356.9L536.9,357.0L534.6,360.0L534.0,360.9L532.5,363.0L531.0,365.2L530.5,366.0L528.6,369.0L528.0,370.0L526.8,372.0L525.2,375.0L525.0,375.4L523.7,378.0L522.2,381.0L522.0,381.4L520.7,384.0L519.2,387.0L519.0,387.4L517.6,390.0L516.0,392.9L515.9,393.0L514.2,396.0L513.0,398.1L512.5,399.0L510.8,402.0L510.0,403.4L509.0,405.0L507.2,408.0L507.0,408.4L505.2,411.0L504.0,412.7L503.0,414.0L501.0,416.5L500.5,417.0L498.0,419.7L497.7,420.0L495.0,422.7L494.6,423.0L492.0,425.3L491.2,426.0L489.0,427.7L487.2,429.0L486.0,429.8L483.0,431.7L482.5,432.0L480.0,433.3L477.0,434.8L476.7,435.0L474.0,436.0L471.0,437.1L468.6,438.0L468.0,438.2L465.0,439.0L462.0,439.9L459.0,440.7L458.0,441.0L456.0,441.5L453.0,442.2L450.0,442.9L447.0,444.0L447.0,444.0L444.0,446.7L443.7,447.0L441.0,449.4L438.0,449.8L435.0,449.5L432.0,449.4L429.0,449.3L426.0,449.2L423.0,449.1L420.0,449.0L417.0,448.9L414.0,448.8L411.0,448.7L408.0,448.5L405.0,448.4L402.0,448.3L399.0,448.2L396.0,448.0L393.0,447.8L390.0,447.6L387.0,447.4L384.0,447.2L381.2,447.0L381.0,447.0L378.0,446.7L375.0,446.4L372.0,446.0L369.0,445.5L366.0,445.0L363.0,444.3L361.8,444.0L360.0,443.6L357.0,442.8L354.0,441.9L351.5,441.0L351.0,440.8L348.0,439.9L345.0,439.0L342.2,438.0L342.0,437.9L339.0,437.1L336.0,436.1L333.0,435.0L333.0,435.0L330.0,434.0L327.0,432.9L324.7,432.0L324.0,431.8L321.0,430.7L318.0,429.6L316.5,429.0L315.0,428.5L312.0,427.4L309.0,426.4L307.9,426.0L306.0,425.4L303.0,424.3L300.0,423.3L299.2,423.0L297.0,422.2L294.0,421.2L291.0,420.2L290.4,420.0L288.0,419.3L285.0,418.4L282.0,417.5L279.9,417.0L279.0,416.8L276.0,416.1L273.0,415.4L270.0,414.9L267.0,414.4L264.5,414.0L264.0,413.9L261.0,413.5L258.0,413.0L255.0,412.1L252.0,411.2L251.2,411.0L249.0,409.8L246.0,409.4L243.0,408.4L240.0,408.4L238.7,408.0L237.0,405.9L236.5,405.0L234.0,403.8L231.6,402.0L231.0,401.8L228.0,400.7L225.0,400.0L223.0,399.0L222.0,398.6L219.0,397.5L216.4,396.0L216.0,395.7L213.0,394.8L210.0,393.8L208.1,393.0L207.0,392.7L204.0,391.7L201.0,390.7L199.4,390.0L198.0,389.5L195.0,388.7L192.0,387.8L189.6,387.0L189.0,386.9L186.0,386.1L183.0,385.5L180.0,384.8L177.0,384.3L175.3,384.0L174.0,383.8L171.0,383.5L168.0,383.3L165.0,383.1L162.0,383.0L159.0,382.9L156.0,382.9L153.0,382.9L150.0,382.8L147.0,382.9L144.0,382.9L141.0,382.9L138.0,382.9L135.0,382.9L132.0,382.9L129.0,382.9L126.0,382.9L123.0,382.8L120.0,382.7L117.0,382.6L114.0,382.4L111.0,382.1L108.0,381.8L105.0,381.5L102.0,381.1L101.4,381.0L99.0,380.6L96.0,380.1L93.0,379.6L90.0,379.0L87.0,378.3L85.7,378.0L84.0,377.6L81.0,377.1L78.0,377.8L75.0,377.0L72.0,375.3L71.0,375.0L69.0,373.6L66.0,372.0L65.9,372.0L63.0,369.7L61.4,369.0L60.0,368.4L57.0,366.0L57.0,366.0L54.1,363.0L54.0,362.9L51.0,360.4L50.6,360.0L48.6,357.0L48.0,355.6L47.4,354.0L46.5,351.0L46.0,348.0L46.0,345.0L46.2,342.0L46.7,339.0L47.4,336.0L48.0,333.4L48.1,333.0L48.8,330.0L50.4,327.0L51.0,326.5L54.0,324.4L54.6,324.0L57.0,322.6L59.4,321.0L60.0,320.6L63.0,318.6L63.9,318.0L66.0,316.7L68.6,315.0L69.0,314.8L72.0,313.0L73.9,312.0L75.0,311.4L78.0,310.0L80.3,309.0L81.0,308.7L84.0,307.6L87.0,306.7L90.0,306.0L90.1,306.0L93.0,305.4L96.0,304.8L99.0,304.2L102.0,303.3L103.0,303.0L105.0,302.3L108.0,301.2L111.0,300.2L111.6,300.0L114.0,299.1L117.0,298.1L120.0,297.1L120.2,297.0L123.0,296.0L126.0,295.0L128.9,294.0L129.0,294.0L132.0,292.9L135.0,291.9L137.8,291.0L138.0,290.9L141.0,289.9L144.0,289.0L147.0,288.0L147.1,288.0L150.0,287.1L153.0,286.2L156.0,285.3L157.1,285.0L159.0,284.4L162.0,283.6L165.0,282.8L167.8,282.0L168.0,282.0L171.0,281.1L174.0,280.4L177.0,279.6L179.2,279.0L180.0,278.8L183.0,278.1L186.0,277.4L189.0,276.7L191.9,276.0L192.0,276.0L195.0,275.3L198.0,274.7L201.0,274.1L204.0,273.5L206.6,273.0L207.0,272.9L210.0,272.3L213.0,271.8L216.0,271.4L219.0,271.7L222.0,272.4L225.0,272.2L228.0,271.4L231.0,272.2L234.0,270.9L237.0,271.9L240.0,270.8L243.0,270.9L246.0,270.9L249.0,270.6L252.0,270.5L254.1,270.0L255.0,269.7L257.6,267.0ZM221.8,411.0L222.0,410.8L224.7,411.0L222.0,411.4L221.8,411.0Z" fill="#baff3c" fill-rule="evenodd"/><path d="M335.3,276.0L336.0,275.9L339.0,275.3L340.2,276.0L342.0,277.1L343.7,279.0L345.0,282.0L345.0,282.0L348.0,282.5L351.0,282.4L354.0,282.3L357.0,282.3L360.0,282.3L363.0,282.3L366.0,282.3L369.0,282.3L372.0,282.3L375.0,282.3L378.0,282.3L381.0,282.3L384.0,282.3L387.0,282.3L390.0,282.3L393.0,282.3L396.0,282.3L399.0,282.3L402.0,282.3L405.0,282.3L408.0,282.3L411.0,282.3L414.0,282.3L417.0,282.3L420.0,282.3L423.0,282.3L426.0,282.3L429.0,282.3L432.0,282.3L435.0,282.3L438.0,282.3L441.0,282.4L444.0,282.7L447.0,283.3L450.0,283.5L453.0,283.7L456.0,283.9L459.0,284.1L462.0,284.3L465.0,284.6L468.0,284.8L470.7,285.0L471.0,285.0L474.0,285.2L477.0,285.5L480.0,285.7L483.0,286.0L486.0,286.3L489.0,286.6L492.0,287.0L495.0,287.4L498.0,287.8L499.5,288.0L501.0,288.2L504.0,288.6L507.0,289.1L510.0,289.6L513.0,290.0L516.0,290.6L518.5,291.0L519.0,291.1L522.0,291.7L525.0,292.3L528.0,293.0L531.0,293.7L532.1,294.0L534.0,294.5L537.0,295.5L540.0,296.8L540.3,297.0L543.0,298.6L544.6,300.0L546.0,301.6L547.0,303.0L548.7,306.0L549.0,306.7L550.0,309.0L551.2,312.0L552.0,314.2L552.3,315.0L553.0,318.0L553.6,321.0L554.2,324.0L555.0,326.3L555.1,327.0L555.0,327.4L552.0,329.0L549.0,328.1L546.0,328.6L544.7,330.0L543.0,331.4L541.6,333.0L540.0,334.4L538.5,336.0L537.0,337.6L535.3,339.0L534.0,340.4L532.2,342.0L531.0,343.4L529.4,345.0L528.0,346.7L526.9,348.0L525.0,350.2L524.4,351.0L522.0,353.9L521.9,354.0L519.6,357.0L519.0,357.7L517.3,360.0L516.0,361.9L515.2,363.0L513.2,366.0L513.0,366.4L511.4,369.0L510.0,371.7L509.9,372.0L508.5,375.0L507.2,378.0L507.0,378.4L505.9,381.0L504.7,384.0L504.0,385.5L503.4,387.0L502.0,390.0L501.0,391.9L500.4,393.0L498.8,396.0L498.0,397.4L497.1,399.0L495.4,402.0L495.0,402.6L493.5,405.0L492.0,407.2L491.4,408.0L489.1,411.0L489.0,411.1L486.4,414.0L486.0,414.4L483.3,417.0L483.0,417.3L480.0,420.0L480.0,420.0L477.0,422.5L476.4,423.0L474.0,424.8L472.3,426.0L471.0,426.9L468.0,428.9L467.8,429.0L465.0,430.6L462.0,432.0L462.0,432.0L459.0,433.1L456.0,433.9L453.0,434.6L450.0,434.9L449.7,435.0L447.0,437.8L447.0,438.0L445.4,441.0L444.0,442.2L441.3,444.0L441.0,444.3L438.0,444.9L435.0,444.6L432.0,444.5L429.0,444.4L426.0,444.4L423.0,444.3L420.0,444.2L417.0,444.1L414.0,444.0L412.6,444.0L411.0,443.9L408.0,443.8L405.0,443.7L402.0,443.6L399.0,443.4L396.0,443.2L393.0,443.0L390.0,442.7L387.0,442.4L384.0,442.0L381.0,441.7L378.0,441.3L375.7,441.0L375.0,440.9L372.0,440.3L369.0,439.7L366.0,439.1L363.0,438.4L360.9,438.0L360.0,437.8L357.0,436.9L354.0,436.0L351.0,435.1L350.5,435.0L348.0,434.1L345.0,433.0L342.0,432.0L341.9,432.0L339.0,430.9L336.0,429.7L334.0,429.0L333.0,428.6L330.0,427.4L327.0,426.3L326.2,426.0L324.0,425.2L321.0,424.0L318.3,423.0L318.0,422.9L315.0,421.6L312.0,420.4L310.9,420.0L309.0,419.2L306.0,418.0L303.5,417.0L303.0,416.8L300.0,415.5L297.0,414.3L296.1,414.0L294.0,413.2L291.0,412.1L288.0,411.1L287.6,411.0L285.0,410.1L282.0,409.1L279.0,408.1L278.5,408.0L276.0,407.2L273.0,406.2L270.0,405.4L268.7,405.0L267.0,404.5L264.0,403.7L261.0,402.9L258.0,402.2L257.2,402.0L255.0,401.6L252.0,401.0L249.0,400.3L246.0,399.6L243.0,399.1L242.8,399.0L240.0,398.1L237.0,397.7L234.0,396.6L231.0,396.5L228.4,396.0L228.0,395.8L226.9,396.0L225.0,396.1L224.5,396.0L222.0,394.2L220.7,393.0L219.0,392.3L216.0,391.1L213.0,390.2L212.1,390.0L210.0,389.3L207.0,388.3L204.0,387.3L202.9,387.0L201.0,386.3L198.0,385.0L195.0,384.0L194.9,384.0L192.0,382.6L189.0,381.5L187.5,381.0L186.0,380.4L183.0,379.4L180.0,378.6L177.0,378.0L177.0,378.0L174.0,377.4L171.0,377.0L168.0,376.7L165.0,376.4L162.0,376.2L159.0,376.0L156.0,375.9L153.0,375.8L150.0,375.7L147.0,375.6L144.0,375.5L141.0,375.4L138.0,375.2L135.0,375.1L133.4,375.0L132.0,374.9L129.0,374.7L126.0,374.5L123.0,374.2L120.0,374.0L117.0,373.8L114.0,373.5L111.0,373.3L108.0,373.0L105.0,372.6L102.0,372.3L100.1,372.0L99.0,371.8L96.0,371.3L93.0,370.7L90.0,369.8L87.7,369.0L87.0,368.7L84.0,367.3L81.5,366.0L81.0,365.7L78.0,363.7L76.9,363.0L75.0,361.0L73.7,360.0L72.0,358.5L70.7,357.0L70.2,354.0L69.3,351.0L69.0,350.0L68.5,348.0L68.3,345.0L68.6,342.0L69.0,339.8L69.1,339.0L69.7,336.0L70.4,333.0L71.2,330.0L72.0,328.0L72.5,327.0L75.0,324.5L75.6,324.0L78.0,322.3L80.1,321.0L81.0,320.5L84.0,319.2L87.0,318.2L87.8,318.0L90.0,317.6L93.0,317.4L96.0,317.5L99.0,318.0L99.2,318.0L102.0,318.1L102.4,318.0L105.0,317.0L108.0,315.7L109.6,315.0L111.0,314.4L114.0,313.2L116.7,312.0L117.0,311.9L120.0,310.7L123.0,309.4L124.1,309.0L126.0,308.2L129.0,307.1L131.8,306.0L132.0,305.9L135.0,304.9L138.0,303.8L140.3,303.0L141.0,302.8L144.0,301.8L147.0,300.8L149.3,300.0L150.0,299.8L153.0,298.8L156.0,297.9L158.7,297.0L159.0,296.9L162.0,296.0L165.0,295.1L168.0,294.1L168.4,294.0L171.0,293.2L174.0,292.4L177.0,291.5L178.7,291.0L180.0,290.6L183.0,289.8L186.0,289.0L189.0,288.2L189.6,288.0L192.0,287.4L195.0,286.6L198.0,285.8L201.0,285.1L201.3,285.0L204.0,284.3L207.0,283.5L210.0,282.7L212.8,282.0L213.0,282.0L216.0,281.3L219.0,281.2L222.0,281.4L225.0,281.0L228.0,280.2L231.0,280.4L234.0,279.4L237.0,279.4L240.0,279.5L243.0,279.5L246.0,280.1L249.0,279.6L251.5,279.0L252.0,278.9L255.0,278.8L255.6,279.0L258.0,279.4L261.0,279.7L264.0,279.6L267.0,280.1L270.0,279.7L273.0,280.0L276.0,279.8L279.0,279.9L282.0,280.1L285.0,280.3L288.0,279.3L291.0,279.2L294.0,279.1L297.0,279.0L297.2,279.0L300.0,278.3L303.0,278.3L306.0,277.8L309.0,277.9L312.0,277.9L315.0,277.9L318.0,278.0L321.0,277.7L324.0,277.1L327.0,276.7L330.0,276.3L333.0,276.4L335.3,276.0Z" fill="#e4ff13" fill-rule="evenodd"/><path d="M239.0,288.0L240.0,287.9L243.0,287.9L246.0,287.7L249.0,287.8L252.0,287.7L255.0,287.5L258.0,287.8L261.0,287.7L263.0,288.0L264.0,288.0L267.0,288.1L270.0,288.1L273.0,288.2L276.0,288.2L279.0,288.3L282.0,288.6L285.0,289.2L288.0,288.8L291.0,288.8L294.0,289.0L297.0,289.2L300.0,289.4L303.0,289.4L306.0,289.5L309.0,289.4L312.0,289.6L315.0,289.5L318.0,289.6L321.0,289.6L324.0,289.7L327.0,289.7L330.0,289.9L333.0,289.6L336.0,289.7L339.0,289.4L342.0,289.5L345.0,290.1L348.0,290.9L351.0,290.9L354.0,290.8L357.0,290.8L360.0,290.8L363.0,290.8L366.0,290.8L369.0,290.8L372.0,290.8L375.0,290.8L378.0,290.8L381.0,290.8L384.0,290.8L387.0,290.8L390.0,290.8L393.0,290.8L396.0,290.8L399.0,290.8L402.0,290.8L405.0,290.8L408.0,290.8L411.0,290.8L414.0,290.8L417.0,290.8L420.0,290.8L423.0,290.8L426.0,290.8L429.0,290.8L432.0,290.8L435.0,290.8L438.0,290.8L441.0,290.9L441.5,291.0L444.0,291.4L447.0,292.0L450.0,292.5L453.0,292.8L456.0,293.1L459.0,293.4L462.0,293.7L464.9,294.0L465.0,294.0L468.0,294.5L471.0,294.9L474.0,295.4L477.0,295.9L480.0,296.5L482.2,297.0L483.0,297.2L486.0,297.9L489.0,298.7L492.0,299.5L493.9,300.0L495.0,300.3L498.0,301.2L501.0,302.1L503.7,303.0L504.0,303.1L507.0,304.2L510.0,305.3L511.6,306.0L513.0,306.7L516.0,308.4L517.1,309.0L519.0,310.5L520.8,312.0L522.0,313.5L523.6,315.0L525.0,317.1L525.9,318.0L527.8,321.0L528.0,321.5L529.9,324.0L531.0,324.5L532.2,327.0L531.0,328.9L528.0,327.3L527.4,327.0L525.0,324.9L522.0,325.6L520.7,327.0L519.0,328.4L518.3,330.0L516.6,333.0L516.0,333.8L514.8,336.0L513.0,338.8L512.9,339.0L510.9,342.0L510.0,343.4L508.8,345.0L507.0,347.4L506.4,348.0L504.0,350.7L503.7,351.0L501.0,354.0L501.0,354.0L498.5,357.0L498.0,357.7L496.4,360.0L495.0,362.5L494.8,363.0L493.5,366.0L492.5,369.0L492.0,370.5L491.6,372.0L490.7,375.0L489.9,378.0L489.0,381.0L489.0,381.2L488.1,384.0L487.0,387.0L486.0,389.2L485.7,390.0L484.2,393.0L483.0,395.4L482.7,396.0L481.1,399.0L480.0,400.7L479.3,402.0L477.2,405.0L477.0,405.3L475.0,408.0L474.0,409.2L472.5,411.0L471.0,412.5L469.6,414.0L468.0,415.5L466.4,417.0L465.0,418.3L462.9,420.0L462.0,420.8L459.0,423.0L459.0,423.0L456.0,424.5L453.0,425.5L451.9,426.0L450.0,426.8L447.2,429.0L447.0,429.1L444.0,431.3L443.2,432.0L441.0,434.3L440.2,435.0L438.9,438.0L438.0,438.3L435.0,438.1L432.0,438.2L429.0,438.2L426.0,438.3L423.0,438.4L420.0,438.4L417.0,438.4L414.0,438.5L411.0,438.5L408.0,438.5L405.0,438.4L402.0,438.4L399.0,438.3L396.0,438.1L394.1,438.0L393.0,437.9L390.0,437.7L387.0,437.4L384.0,437.0L381.0,436.6L378.0,436.1L375.0,435.5L373.2,435.0L372.0,434.8L369.0,434.1L366.0,433.6L363.0,432.7L361.0,432.0L360.0,431.8L357.0,431.2L354.0,430.2L351.0,429.3L350.3,429.0L348.0,428.4L345.0,427.4L342.0,426.5L341.1,426.0L339.0,425.1L336.0,424.3L333.6,423.0L333.0,422.7L330.0,421.7L327.0,420.4L326.3,420.0L324.0,419.1L321.0,417.8L319.4,417.0L318.0,416.4L315.0,415.0L313.1,414.0L312.0,413.5L309.0,412.8L306.0,411.9L304.5,411.0L303.0,410.1L300.1,408.0L300.0,407.9L297.0,406.6L294.0,405.1L293.8,405.0L291.0,403.8L288.0,402.6L286.6,402.0L285.0,401.3L282.0,400.2L279.0,399.0L279.0,399.0L276.0,397.9L273.0,396.8L270.8,396.0L270.0,395.7L267.0,394.7L264.0,393.7L261.7,393.0L261.0,392.8L258.0,392.0L255.0,391.6L252.0,391.4L249.0,390.7L246.0,390.2L245.3,390.0L243.0,389.3L240.0,388.7L237.0,388.2L234.0,387.4L231.0,387.1L230.7,387.0L228.0,386.3L225.0,386.2L222.0,385.0L219.9,384.0L219.0,383.8L216.0,382.5L213.0,381.5L211.6,381.0L210.0,380.6L207.0,379.7L204.0,378.8L201.9,378.0L201.0,377.7L198.0,376.9L195.0,376.0L192.1,375.0L192.0,375.0L189.0,374.1L186.0,373.2L183.0,372.3L182.0,372.0L180.0,371.4L177.0,370.5L174.0,369.7L171.2,369.0L171.0,369.0L168.0,368.3L165.0,367.7L162.0,367.2L159.0,366.8L156.0,366.4L153.0,366.2L150.5,366.0L150.0,366.0L147.0,365.8L144.0,365.6L141.0,365.4L138.0,365.3L135.0,365.2L132.0,365.0L129.0,364.9L126.0,364.7L123.0,364.6L120.0,364.4L117.0,364.1L114.0,363.7L111.0,363.2L110.1,363.0L108.0,362.4L105.0,361.3L102.1,360.0L102.0,359.9L99.0,358.1L96.6,357.0L96.0,356.3L94.6,354.0L93.7,351.0L93.0,348.1L93.0,348.0L92.7,345.0L92.8,342.0L93.0,340.5L93.4,339.0L94.2,336.0L94.6,333.0L94.6,330.0L96.0,329.2L97.9,330.0L99.0,331.9L99.8,333.0L102.0,334.5L105.0,334.0L108.0,333.0L108.0,333.0L111.0,332.1L114.0,331.0L116.9,330.0L117.0,330.0L120.0,329.0L123.0,327.9L125.6,327.0L126.0,326.9L129.0,325.8L132.0,324.7L133.8,324.0L135.0,323.6L138.0,322.4L141.0,321.2L141.4,321.0L144.0,319.9L147.0,318.6L148.3,318.0L150.0,317.2L153.0,315.8L154.7,315.0L156.0,314.4L159.0,313.0L161.1,312.0L162.0,311.6L165.0,310.2L167.6,309.0L168.0,308.8L171.0,307.5L174.0,306.2L174.5,306.0L177.0,305.0L180.0,303.8L182.1,303.0L183.0,302.7L186.0,301.5L189.0,300.4L189.9,300.0L192.0,299.3L195.0,298.2L198.0,297.1L198.3,297.0L201.0,296.1L204.0,295.1L207.0,294.2L207.5,294.0L210.0,293.3L213.0,292.4L216.0,291.6L219.0,291.2L222.0,291.6L225.0,291.2L228.0,291.1L231.0,291.0L232.2,291.0L234.0,290.8L237.0,290.7L238.5,291.0L240.0,291.0L242.2,291.0L240.0,290.4L239.0,288.0ZM249.0,290.2L247.9,291.0L249.0,291.0L249.5,291.0L249.0,290.2Z" fill="#ffde00" fill-rule="evenodd"/><path d="M323.5,294.0L324.0,294.0L327.0,293.9L330.0,293.8L333.0,293.6L336.0,293.6L339.0,293.4L342.0,293.9L342.3,294.0L343.0,297.0L345.0,298.9L348.0,299.5L351.0,299.6L354.0,299.6L357.0,299.5L360.0,299.5L363.0,299.4L366.0,299.4L369.0,299.4L372.0,299.4L375.0,299.3L378.0,299.3L381.0,299.3L384.0,299.3L387.0,299.4L390.0,299.4L393.0,299.4L396.0,299.5L399.0,299.4L402.0,299.4L405.0,299.4L408.0,299.4L411.0,299.4L414.0,299.4L417.0,299.4L420.0,299.5L423.0,299.5L426.0,299.5L429.0,299.5L432.0,299.5L435.0,299.5L438.0,299.5L441.0,299.7L442.1,300.0L444.0,301.8L445.1,303.0L447.0,303.5L450.0,304.4L453.0,305.2L456.0,306.0L456.0,306.0L459.0,306.8L462.0,307.6L465.0,308.4L466.8,309.0L468.0,309.4L471.0,310.3L474.0,311.4L475.7,312.0L477.0,312.5L480.0,313.7L483.0,314.9L483.4,315.0L486.0,316.5L489.0,317.7L490.1,318.0L492.0,319.4L495.0,320.5L496.1,321.0L498.0,322.4L501.0,323.7L501.6,324.0L504.0,325.5L506.6,327.0L507.0,327.6L507.2,330.0L507.0,330.2L504.0,330.5L501.3,330.0L501.0,329.8L498.0,327.6L497.1,327.0L495.0,325.1L492.7,324.0L492.0,323.4L489.0,322.9L487.1,324.0L486.0,324.3L484.0,327.0L483.0,328.7L482.7,330.0L482.1,333.0L481.4,336.0L480.5,339.0L480.0,340.8L479.7,342.0L479.0,345.0L478.4,348.0L477.8,351.0L477.3,354.0L477.0,356.5L476.9,357.0L476.6,360.0L476.2,363.0L475.9,366.0L475.5,369.0L475.1,372.0L474.7,375.0L474.2,378.0L474.0,378.9L473.6,381.0L473.1,384.0L472.5,387.0L471.7,390.0L471.0,392.2L470.8,393.0L469.6,396.0L468.2,399.0L468.0,399.3L466.5,402.0L465.0,404.4L464.6,405.0L462.4,408.0L462.0,408.6L460.0,411.0L459.0,412.0L456.9,414.0L456.0,414.7L453.0,416.6L452.5,417.0L450.0,418.1L447.0,419.7L446.4,420.0L444.0,421.6L441.6,423.0L441.0,425.1L440.6,426.0L439.4,429.0L438.0,429.8L435.0,430.2L432.0,430.5L429.0,430.9L426.0,431.2L423.0,431.6L420.0,431.9L419.2,432.0L417.0,432.2L414.0,432.4L411.0,432.6L408.0,432.7L405.0,432.9L402.0,433.0L399.0,433.1L396.0,433.2L393.0,433.2L390.0,433.2L387.0,433.1L384.0,433.0L381.0,432.8L378.0,432.5L375.0,432.2L373.7,432.0L372.0,431.7L369.0,430.8L366.0,430.2L363.0,429.6L360.5,429.0L360.0,428.8L357.0,428.0L354.0,427.0L351.0,426.4L349.7,426.0L348.0,425.3L345.0,424.2L342.0,423.4L341.0,423.0L339.0,421.9L336.0,421.0L333.2,420.0L333.0,419.9L330.0,418.4L327.0,417.3L326.4,417.0L324.0,415.6L321.0,414.3L320.4,414.0L318.0,412.6L315.0,411.1L314.8,411.0L312.0,409.3L309.0,408.2L308.2,408.0L306.0,406.8L303.4,405.0L303.0,404.6L300.0,402.3L299.3,402.0L297.0,400.6L294.6,399.0L294.0,398.7L291.0,396.8L289.5,396.0L288.0,394.9L285.0,393.3L284.2,393.0L282.0,391.6L279.0,390.0L279.0,390.0L276.0,388.9L273.0,387.6L270.9,387.0L270.0,386.6L267.0,385.4L264.0,384.4L261.2,384.0L261.0,384.0L258.0,382.9L255.0,382.0L252.1,381.0L252.0,380.9L249.0,380.4L246.0,378.7L243.0,378.7L240.0,378.2L237.0,378.4L234.3,378.0L234.0,377.5L232.3,378.0L231.0,378.0L230.8,378.0L228.0,375.8L225.0,376.7L222.0,375.8L220.8,375.0L219.0,372.3L216.0,372.1L215.4,372.0L213.0,370.9L210.0,369.7L207.0,369.1L204.0,369.1L203.4,369.0L201.0,367.2L198.0,366.5L195.0,366.1L194.6,366.0L192.0,364.0L189.0,363.3L188.1,363.0L186.0,361.9L183.0,360.4L181.1,360.0L180.0,359.7L177.0,358.2L174.0,357.3L173.2,357.0L171.0,355.9L168.0,354.4L167.0,354.0L165.0,352.9L162.0,351.5L160.8,351.0L159.0,349.8L156.6,348.0L156.0,346.7L155.3,345.0L156.0,342.8L156.2,342.0L158.6,339.0L159.0,338.7L162.0,336.0L162.0,336.0L165.0,333.8L166.1,333.0L168.0,331.8L170.7,330.0L171.0,329.8L174.0,328.0L175.6,327.0L177.0,326.2L180.0,324.5L180.8,324.0L183.0,322.8L186.0,321.1L186.2,321.0L189.0,319.5L191.8,318.0L192.0,317.9L195.0,316.4L197.6,315.0L198.0,314.8L201.0,313.3L203.7,312.0L204.0,311.8L207.0,310.4L209.9,309.0L210.0,309.0L213.0,307.6L216.0,306.2L216.6,306.0L219.0,305.2L222.0,304.4L225.0,303.7L226.6,303.0L228.0,302.7L231.0,301.7L234.0,300.5L234.3,300.0L237.0,299.4L240.0,298.8L243.0,297.5L244.4,297.0L246.0,296.9L249.0,296.4L252.0,296.3L255.0,295.9L258.0,295.7L261.0,295.4L264.0,295.0L267.0,294.9L270.0,294.4L273.0,295.1L276.0,295.3L279.0,295.7L282.0,296.2L285.0,296.6L288.0,294.5L291.0,294.4L294.0,294.9L297.0,294.4L300.0,295.4L303.0,294.5L306.0,295.7L309.0,294.9L312.0,295.6L315.0,295.2L318.0,295.1L321.0,294.8L323.5,294.0Z" fill="#ffae00" fill-rule="evenodd"/><path d="M327.5,306.0L330.0,305.9L333.0,305.8L336.0,305.7L339.0,305.6L342.0,305.7L343.3,306.0L345.0,306.6L348.0,307.4L351.0,307.9L354.0,308.2L357.0,308.2L360.0,308.1L363.0,307.8L366.0,307.5L369.0,307.2L372.0,306.9L375.0,306.7L378.0,306.6L381.0,306.6L384.0,306.9L387.0,307.4L390.0,308.3L392.0,309.0L393.0,309.4L396.0,309.9L399.0,310.0L402.0,310.1L405.0,310.2L408.0,310.4L411.0,310.5L414.0,310.6L417.0,310.7L420.0,310.8L423.0,310.9L426.0,311.0L429.0,311.1L432.0,311.2L435.0,311.3L438.0,311.5L441.0,311.8L441.8,312.0L444.0,313.5L445.8,315.0L447.0,315.6L450.0,317.1L452.2,318.0L453.0,318.4L456.0,319.7L458.9,321.0L459.0,321.0L462.0,322.8L463.9,324.0L465.0,324.8L468.0,326.7L468.4,327.0L470.5,330.0L469.1,333.0L468.0,334.6L466.6,336.0L465.0,337.6L463.3,339.0L462.0,340.1L459.0,341.9L458.8,342.0L456.0,343.5L453.0,344.6L451.5,345.0L450.0,345.6L447.0,346.7L444.9,348.0L444.1,351.0L446.3,354.0L447.0,354.8L448.5,357.0L450.0,359.1L450.5,360.0L452.4,363.0L453.0,363.9L454.1,366.0L455.7,369.0L456.0,369.5L457.2,372.0L458.6,375.0L459.0,376.1L459.7,378.0L460.4,381.0L460.8,384.0L460.7,387.0L460.4,390.0L459.8,393.0L459.0,395.8L458.9,396.0L457.7,399.0L456.0,401.8L455.9,402.0L453.2,405.0L453.0,405.3L450.0,407.7L449.5,408.0L447.0,410.1L445.8,411.0L446.7,414.0L446.1,417.0L444.0,418.5L441.0,419.4L438.0,419.9L436.6,420.0L435.0,420.2L432.0,420.7L429.0,420.9L426.0,421.2L423.0,421.5L420.0,421.9L417.0,422.3L414.0,422.6L411.0,422.9L410.2,423.0L408.0,423.3L405.0,423.6L402.0,423.9L399.0,424.1L396.0,424.3L393.0,424.4L390.0,424.5L387.0,424.5L384.0,424.6L381.0,424.6L378.0,424.6L375.0,424.5L372.0,424.3L369.0,424.1L366.0,423.7L363.0,423.3L361.3,423.0L360.0,422.7L357.0,422.1L354.0,421.3L351.0,420.6L348.6,420.0L348.0,419.8L345.0,418.6L342.0,417.2L340.9,417.0L339.0,414.7L336.0,414.4L333.0,414.0L332.9,414.0L330.0,412.0L327.0,411.1L326.7,411.0L324.0,408.7L322.5,408.0L321.0,406.4L318.8,405.0L318.0,404.3L315.7,402.0L315.0,401.4L312.2,399.0L312.0,398.8L309.6,396.0L309.0,395.5L306.8,393.0L306.0,392.1L303.9,390.0L303.0,388.9L301.1,387.0L300.0,385.7L298.6,384.0L297.0,382.2L296.1,381.0L294.0,378.9L293.2,378.0L291.0,375.8L290.2,375.0L288.0,372.9L286.9,372.0L285.0,370.2L283.0,369.0L282.0,368.1L279.1,366.0L279.0,366.0L276.0,364.7L273.0,363.1L272.5,363.0L270.0,362.4L267.0,361.7L264.0,361.7L261.0,361.1L258.0,360.4L255.0,360.3L252.0,360.4L249.0,360.2L246.0,360.1L243.7,360.0L243.0,360.0L240.0,359.7L237.0,359.6L234.0,359.6L231.0,359.4L228.0,359.4L225.0,359.6L222.0,359.5L219.0,357.8L216.0,357.1L215.8,357.0L213.0,355.7L210.0,354.3L209.5,354.0L207.0,351.4L206.7,351.0L205.3,348.0L205.2,345.0L206.6,342.0L207.0,341.5L209.1,339.0L210.0,338.1L212.2,336.0L213.0,335.5L216.0,333.8L217.4,333.0L219.0,332.2L222.0,330.6L223.2,330.0L225.0,329.1L228.0,327.5L229.0,327.0L231.0,326.0L234.0,324.5L234.9,324.0L237.0,323.0L240.0,321.5L240.9,321.0L243.0,320.1L246.0,318.6L247.2,318.0L249.0,317.3L252.0,316.0L254.3,315.0L255.0,314.7L258.0,313.5L261.0,312.2L261.5,312.0L264.0,311.2L267.0,310.5L270.0,309.8L273.0,309.4L275.2,309.0L276.0,308.9L279.0,308.4L282.0,308.1L285.0,307.9L288.0,307.6L291.0,307.5L294.0,307.3L297.0,307.2L300.0,307.0L303.0,306.9L306.0,306.7L309.0,306.7L312.0,306.5L315.0,306.6L318.0,306.3L321.0,306.3L324.0,306.1L327.0,306.0L327.5,306.0Z" fill="#ff7e00" fill-rule="evenodd"/><path d="M380.9,315.0L381.0,315.0L384.0,315.0L384.1,315.0L387.0,315.9L390.0,317.3L391.5,318.0L393.0,319.4L394.8,321.0L396.0,323.9L396.0,324.0L396.0,324.2L395.1,327.0L393.0,329.5L392.2,330.0L390.0,330.9L387.0,332.3L384.0,333.0L383.6,333.0L381.0,333.2L378.0,333.1L376.2,333.0L375.0,332.9L372.0,332.6L369.0,332.2L366.0,331.8L363.0,331.4L360.0,330.1L359.9,330.0L359.9,327.0L360.0,326.8L362.5,324.0L363.0,323.6L364.9,321.0L366.0,320.3L369.0,318.0L369.1,318.0L372.0,317.0L375.0,316.2L378.0,315.5L380.9,315.0ZM363.1,363.0L366.0,362.7L369.0,362.4L372.0,362.2L375.0,362.0L378.0,361.9L381.0,361.8L384.0,361.7L387.0,361.7L390.0,361.8L393.0,361.9L396.0,362.0L399.0,362.2L402.0,362.5L405.0,362.9L405.7,363.0L408.0,363.3L411.0,363.7L414.0,364.3L417.0,365.0L420.0,365.9L420.4,366.0L423.0,366.8L426.0,367.8L429.0,369.0L429.1,369.0L432.0,370.1L435.0,371.4L436.0,372.0L438.0,373.2L440.1,375.0L441.0,376.0L442.6,378.0L444.0,380.3L444.4,381.0L445.6,384.0L446.5,387.0L446.9,390.0L446.4,393.0L445.4,396.0L444.0,399.0L444.0,399.0L441.6,402.0L441.0,402.7L439.4,405.0L438.2,408.0L438.2,411.0L439.3,414.0L438.0,415.0L435.0,415.3L432.0,415.3L429.0,415.3L426.0,415.4L423.0,415.6L420.0,415.9L417.0,416.3L414.0,416.6L411.0,416.9L409.6,417.0L408.0,417.1L405.0,417.2L402.0,417.2L399.0,417.1L396.3,417.0L396.0,417.0L393.0,416.8L390.0,416.7L387.0,416.5L384.0,416.2L381.0,415.9L378.0,415.6L375.0,415.2L372.0,414.6L369.0,414.0L369.0,414.0L366.0,413.3L363.0,412.6L360.0,411.7L357.6,411.0L357.0,410.8L354.0,409.8L351.0,408.6L350.0,408.0L348.0,407.0L345.0,405.2L344.7,405.0L342.0,403.0L340.7,402.0L339.0,400.4L337.5,399.0L336.0,397.3L334.8,396.0L333.0,393.6L332.5,393.0L330.7,390.0L330.0,388.4L329.3,387.0L328.6,384.0L328.6,381.0L329.5,378.0L330.0,377.1L331.4,375.0L333.0,373.2L334.3,372.0L336.0,370.6L338.6,369.0L339.0,368.8L342.0,367.3L345.0,366.2L345.7,366.0L348.0,365.3L351.0,364.6L354.0,364.1L357.0,363.7L360.0,363.3L363.0,363.0L363.1,363.0Z" fill="#ff4e00" fill-rule="evenodd"/><path d="M376.8,381.0L378.0,380.6L381.0,379.8L384.0,379.2L387.0,378.7L390.0,378.4L393.0,378.2L396.0,378.2L399.0,378.2L402.0,378.4L405.0,378.8L408.0,379.4L411.0,380.1L414.0,380.9L414.4,381.0L417.0,381.9L420.0,382.9L423.0,383.9L423.3,384.0L426.0,385.2L429.0,387.0L429.0,387.0L430.5,390.0L430.6,393.0L429.1,396.0L429.0,396.2L426.4,399.0L426.0,399.4L423.0,401.8L422.7,402.0L420.0,403.3L417.0,404.6L416.1,405.0L414.0,405.7L411.0,406.7L408.0,407.6L406.6,408.0L405.0,408.4L402.0,409.0L399.0,409.6L396.0,410.0L393.0,410.3L390.0,410.3L387.0,410.2L384.0,409.9L381.0,409.4L378.0,408.7L375.8,408.0L375.0,407.6L372.0,406.1L370.2,405.0L369.0,404.0L366.4,402.0L366.0,401.6L363.5,399.0L363.0,398.1L361.5,396.0L361.1,393.0L362.5,390.0L363.0,389.5L365.5,387.0L366.0,386.7L369.0,384.7L370.1,384.0L372.0,383.0L375.0,381.7L376.8,381.0Z" fill="#ff1e00" fill-rule="evenodd"/></g>
<g transform="translate(78.5,132.4)"><path d="M-0.5,60.0 L8.8,60.6 M-0.5,69.0 L9.4,72.4 L18.1,75.9 L29.3,77.4 L37.4,80.1 L30.6,83.0 L26.2,83.6 L24.3,86.7 L15.6,84.2 L7.0,81.8 L-0.5,80.1 M29.3,89.8 L42.4,91.1 M159.5,70.6 L142.4,66.2 L123.7,64.4 L105.1,62.5 L93.9,62.3 L86.5,60.0 L76.5,61.9 L66.6,63.7 L61.6,67.5 L51.7,70.0 L48.6,71.8 L55.4,73.7 L64.1,76.8 L69.1,79.9 L57.9,79.3 L46.7,80.5 L43.0,81.1 L49.2,83.6 L59.1,84.9 L71.5,84.9 L70.3,88.6 L59.1,90.5 L54.2,94.8 L51.7,97.3 L46.7,102.3 L54.2,102.9 L66.6,104.7 L74.0,107.2 L85.2,107.2 L81.5,111.0 L74.0,114.7 L64.1,118.4 L55.4,122.8 L57.9,124.0 L71.5,118.4 L86.5,112.2 L96.4,107.2 L107.6,98.5 L111.3,97.9 L105.1,103.5 L103.8,106.0 L120.0,103.5 L122.5,98.5 L136.1,101.0 L148.6,103.5 L159.5,108.5 M95.2,113.4 L103.8,111.0 M159.5,108.6 L172.0,109.6 L184.5,122.1 L192.0,129.6 L199.5,135.8 L212.0,144.6 L209.0,149.6 L207.0,162.1 L208.2,174.6 L212.0,184.6 L219.5,194.6 L224.5,198.3 L233.2,202.1 L238.2,210.8 L243.2,218.3 L249.5,225.8 L259.5,233.3 L269.5,240.8 L277.0,247.1 L279.5,254.6 L289.5,260.8 L302.0,265.8 L312.0,269.6 L321.5,267.6 M243.2,210.8 L247.0,219.6 L254.5,229.6 L262.0,240.8 L258.2,232.1 L249.5,219.6 L245.0,210.8 M192.0,137.1 L207.0,142.1 L214.5,149.6 M174.5,125.8 L182.0,132.1 M74.5,244.6 L83.2,248.3 L92.0,255.1 M321.5,215.1 L309.5,222.1 L307.0,237.1 L312.0,252.6 L321.5,259.6 M159.5,108.6 L149.5,104.6 L139.5,102.1 L119.5,99.6 M162.0,69.6 L174.5,66.6 L189.5,65.1 L199.5,67.1 L212.0,65.1 L232.0,67.1 L247.0,70.8 L269.5,74.6 L294.5,72.6 L321.5,71.6 M404.0,34.6 L426.5,39.6 L446.5,43.3 L461.5,49.6 L469.0,59.6 L481.5,65.1 L474.0,74.6 L481.5,87.1 L494.0,99.6 L509.0,102.1 L514.0,94.6 L521.5,84.6 L539.0,79.6 L554.0,72.6 L571.5,69.6 L589.0,63.3 L591.5,54.6 L599.0,47.1 L601.5,39.6 L601.5,29.6 L609.0,24.6 L629.0,22.1 L596.5,17.1 L571.5,14.6 L536.5,13.3 L501.5,17.1 L481.5,20.1 L441.5,18.3 L421.5,24.6 L404.0,34.6 M582.8,80.8 L594.0,79.1 L619.0,78.3 L624.0,83.3 L609.0,88.3 L591.5,88.3 L582.8,80.8 M321.5,24.6 L334.0,19.6 L371.5,15.8 L404.0,15.8 L441.5,17.6 L426.5,23.3 L404.0,29.6 L384.0,32.1 L374.0,39.6 L346.5,47.1 L321.5,48.3 M336.5,57.1 L359.0,55.1 L384.0,55.8 L404.0,62.1 L419.0,67.6 L439.0,74.6 L444.0,77.6 L431.5,82.6 L421.5,88.3 L401.5,88.3 L379.0,85.8 L364.0,82.1 L349.0,79.6 L336.5,72.1 L336.5,57.1 M321.5,107.1 L329.0,112.1 L346.5,117.1 L364.0,122.1 L369.0,132.1 L375.2,135.8 L380.2,127.1 L375.2,122.1 L386.5,116.6 L384.0,107.1 L381.5,97.6 L389.0,94.6 L401.5,95.8 L414.0,99.6 L419.0,107.1 L431.5,100.8 L444.0,114.6 L459.0,122.1 L466.5,129.6 L464.0,137.1 L451.5,139.6 L439.0,138.3 L426.5,142.6 L409.0,150.8 M451.5,145.1 L461.5,140.8 L471.5,142.1 L476.5,149.6 L469.0,152.6 L456.5,149.6 L451.5,145.1 M429.0,159.6 L439.0,155.8 L450.2,154.6 L436.5,162.1 L426.5,164.6 M429.0,159.6 L411.5,167.1 L406.5,172.1 L396.5,174.6 L389.0,180.1 L386.5,187.6 L389.0,195.1 L379.0,202.1 L369.0,209.1 L369.0,219.6 L374.0,232.6 L366.5,227.1 L361.5,217.1 L351.5,214.6 L339.0,215.8 L331.5,217.1 L321.5,216.1 M321.5,258.3 L331.5,255.1 L336.5,249.6 L348.5,247.1 L344.0,252.1 L340.2,264.6 L354.0,269.1 L361.5,274.6 L359.0,284.6 L364.0,294.6 L371.5,292.6 L384.0,289.6 M321.5,267.1 L336.5,274.6 L349.0,284.6 L359.0,294.6 L371.5,299.6 L381.5,295.1 M381.5,295.1 L396.5,284.6 L406.5,282.1 L421.5,287.1 L436.5,287.1 L446.5,292.1 L459.0,304.6 L471.5,307.1 L481.5,314.6 L486.5,321.6 M381.5,295.8 L384.0,312.1 L379.0,321.6 M355.2,245.8 L366.5,242.1 L379.0,244.6 L394.0,249.6 L404.0,254.6 L416.5,257.6 M396.5,257.6 L409.0,255.8 L419.0,259.6 M379.5,260.1 L389.0,260.1 M421.5,259.6 L429.0,259.6 M377.8,228.3 L385.2,228.3 M380.2,235.8 L382.8,237.1 M643.5,202.1 L636.5,207.1 L634.0,217.1 L621.5,224.6 L614.0,239.6 L611.5,249.6 L612.8,259.6 L609.0,274.6 L614.0,284.6 L621.5,292.1 L629.0,302.1 L643.5,312.1 M643.5,120.1 L637.0,129.6 L639.5,135.1 M643.5,164.6 L640.2,174.6 L641.5,190.1 M713.5,29.6 L726.0,25.8 L748.5,24.6 L776.0,27.1 L768.5,30.8 L748.5,30.8 L738.5,39.6 L726.0,34.6 L713.5,29.6 M748.5,35.8 L766.0,37.1 M843.5,24.6 L868.5,24.6 M866.0,58.3 L876.0,49.6 L893.5,43.3 L931.0,40.1 L906.0,45.1 L888.5,50.1 L883.5,59.6 L876.0,62.1 L866.0,58.3 M923.5,59.6 L965.5,55.1 M941.0,79.6 L956.0,72.6 M693.5,94.6 L703.5,89.6 L726.0,72.1 L748.5,64.6 L768.5,60.8 L781.0,61.6 L793.5,65.8 L818.5,70.8 L828.5,74.6 L818.5,79.6 L803.5,78.3 L798.5,77.1 L808.5,85.8 L823.5,84.6 L838.5,79.6 L841.0,72.1 L851.0,74.6 L868.5,70.8 L883.5,69.6 L901.0,67.1 L926.0,67.1 L933.5,70.8 L943.5,67.1 L965.5,59.6 M693.5,94.6 L693.5,104.6 L698.5,109.6 L708.5,112.6 L716.0,107.6 L723.5,117.6 L726.0,117.1 L738.5,109.6 L741.0,94.6 L756.0,84.6 L768.5,82.1 L761.0,87.1 L753.5,92.6 L753.5,104.6 L761.0,109.6 L758.5,115.1 L748.5,119.6 L743.5,122.6 L728.5,125.8 L708.5,124.6 L693.5,125.8 L681.0,134.6 M703.5,115.1 L716.0,122.1 M653.5,109.6 L663.5,109.6 L666.0,117.1 L673.5,127.1 L678.5,134.6 L673.5,139.6 L658.5,142.1 L656.0,137.1 L658.5,127.1 L653.5,119.6 L653.5,109.6 M643.5,122.1 L651.0,122.1 L653.5,129.6 L646.0,134.6 L643.5,132.6 M681.0,134.6 L673.5,143.3 L658.5,147.1 L666.0,153.3 L668.5,164.6 L643.5,162.1 M851.0,157.1 L863.5,152.6 L873.5,152.6 L873.5,169.6 L878.5,175.1 L876.0,190.1 L863.5,190.1 L858.5,180.1 L856.0,170.1 L851.0,162.1 L851.0,157.1 M793.5,214.6 L803.5,229.6 L813.5,242.1 L823.5,254.6 L833.5,269.6 L836.0,284.6 L863.5,282.1 L858.5,299.6 L848.5,312.1 L841.0,321.6 M803.5,217.1 L813.5,232.1 L821.0,247.1 L833.5,264.6 L841.0,277.1 L858.5,269.6 L876.0,262.1 L893.5,249.6 L898.5,243.3 L891.0,234.6 L886.0,227.6 L868.5,232.1 L863.5,224.6 L856.0,214.6 L866.0,234.6 L881.0,232.1 L893.5,229.6 L918.5,232.1 L928.5,239.6 L938.5,249.6 L946.0,249.6 L953.5,269.6 L965.5,297.1 M643.5,312.1 L658.5,309.6 L681.0,304.6 L693.5,307.1 L706.0,312.1 L711.0,321.6 M965.5,57.1 L975.5,58.3 L978.0,52.1 L998.0,49.6 L1000.5,45.8 L1028.0,42.1 L1053.0,39.6 L1070.5,37.1 L1085.5,39.6 L1100.5,43.3 L1085.5,48.3 L1100.5,52.1 L1135.5,53.3 L1153.0,52.1 L1158.0,58.3 L1165.5,62.1 L1170.5,58.3 L1195.5,58.3 L1235.5,59.6 L1265.5,62.1 L1275.5,67.1 L1287.5,65.8 M1015.5,25.8 L1030.5,23.3 L1045.5,27.1 L1040.5,32.1 L1025.5,30.8 L1015.5,25.8 M1048.0,30.8 L1068.0,32.1 M1188.0,44.6 L1200.5,42.1 L1218.0,44.6 L1205.5,48.3 L1188.0,45.8 M1220.5,45.8 L1240.5,45.8 M1130.5,219.6 L1123.0,232.1 L1113.0,239.6 L1100.5,244.6 L1088.0,247.1 L1075.5,249.6 L1070.5,257.1 L1080.5,267.1 L1083.0,279.6 L1070.5,292.1 L1063.0,287.1 L1050.5,277.1 L1045.5,287.1 L1043.0,299.6 L1050.5,309.6 L1060.5,321.6 M1125.5,234.6 L1130.5,237.1 L1128.0,245.8 L1124.2,242.1 L1125.5,234.6 M1080.5,252.1 L1088.0,254.6 L1085.5,259.6 L1080.5,257.1 L1080.5,252.1 M1125.5,259.6 L1133.0,259.6 L1130.5,272.1 L1140.5,282.1 L1145.5,294.6 L1143.0,304.6 L1135.5,299.6 L1128.0,279.6 L1125.5,259.6 M1115.5,294.6 L1123.0,287.1 M965.5,269.6 L975.5,267.1 L985.5,259.6 L1000.5,249.6 L1015.5,242.1 L1025.5,249.6 L1028.0,262.1 L1038.0,264.6 L1043.0,279.6 L1050.5,277.1 M975.5,269.6 L973.0,284.6 L965.5,297.1 M970.5,292.1 L978.0,294.6 L980.5,302.1 L975.5,307.1 L970.5,299.6 L970.5,292.1 M1030.5,307.1 L1045.5,314.6 L1053.0,321.6 M1171.5,58.7 L1184.1,60.0 L1196.7,58.7 L1200.4,54.9 L1234.4,56.2 L1247.0,61.9 L1269.6,61.2 L1274.6,66.3 L1303.6,66.3 L1309.9,70.0 L1313.6,65.0 L1330.2,65.0 M1186.6,44.9 L1196.7,41.7 L1216.8,43.6 L1215.5,47.4 L1196.7,48.0 L1186.6,44.9 M1221.8,45.5 L1239.4,46.1 M1196.7,52.4 L1211.8,53.1 M1180.3,121.6 L1206.7,105.3 L1231.9,104.0 L1241.9,106.5 L1254.5,105.3 L1262.1,97.7 L1272.1,96.5 L1275.9,100.2 L1289.7,93.3 L1282.2,100.2 L1262.1,111.5 L1257.0,119.1 L1262.1,136.7 L1269.6,130.4 L1277.2,125.4 L1283.4,119.1 L1286.0,112.8 L1282.2,110.3 L1287.2,102.7 L1297.3,102.7 L1307.3,100.2 L1313.6,102.7 L1330.2,96.5 M379.0,321.6 L371.5,329.1 L374.0,336.6 L369.0,346.6 L374.0,356.6 L386.5,379.1 L391.5,384.1 L406.5,394.1 L411.5,401.6 L409.0,421.6 L406.5,441.6 L404.0,451.6 L399.0,466.6 L396.5,476.6 L399.0,491.6 L394.0,501.6 L391.5,516.6 L396.5,526.6 L406.5,531.6 L416.5,536.6 L429.0,534.1 L421.5,526.6 L416.5,521.6 L421.5,511.6 L426.5,501.6 L431.5,486.6 L434.0,481.6 L441.5,474.1 L459.0,469.1 L461.5,461.6 L456.5,456.6 L469.0,457.8 L481.5,446.6 L491.5,434.1 L494.0,424.1 L501.5,419.1 L516.5,414.1 L521.5,406.6 L526.5,394.1 L529.0,379.1 L541.5,364.1 L544.0,349.1 L539.0,346.6 L526.5,339.1 L511.5,336.6 L496.5,331.6 L486.5,326.6 L486.5,321.6 M445.2,521.6 L457.8,521.6 M321.5,602.8 L339.0,600.3 L371.5,604.1 L389.0,604.6 L406.5,601.1 L421.5,596.6 L419.0,589.1 L409.0,587.1 L404.0,594.1 L394.0,596.6 M421.5,596.6 L421.5,581.6 L439.0,571.6 L457.8,566.1 L429.0,576.6 L431.5,586.6 L441.5,591.6 L446.5,601.6 L441.5,606.6 L421.5,611.6 L404.0,614.1 L384.0,616.6 L384.0,624.1 L396.5,629.1 L421.5,631.6 L456.5,639.1 L496.5,634.1 L539.0,631.6 L566.5,627.1 L541.5,624.1 L541.5,620.3 L571.5,614.1 L611.5,606.6 L634.0,596.6 L643.5,596.6 M471.5,629.1 L484.0,624.1 L496.5,620.3 L509.0,621.6 L512.8,627.8 L496.5,630.3 L471.5,629.6 M426.5,629.1 L451.5,627.8 M709.8,321.6 L707.2,331.6 L716.0,341.6 L721.0,354.1 L723.5,361.6 L726.0,370.3 L721.0,379.1 L717.2,391.6 L721.0,401.6 L728.5,411.6 L731.0,424.1 L736.0,434.1 L742.2,444.1 L741.0,451.6 L748.5,457.8 L758.5,455.3 L768.5,455.3 L778.5,451.6 L788.5,441.6 L796.0,434.1 L796.0,424.1 L806.0,419.1 L807.2,406.6 L803.5,401.6 L816.0,392.8 L826.0,386.6 L827.2,371.6 L821.0,359.1 L821.0,349.1 L826.0,336.6 L836.0,326.6 L846.0,321.6 M858.5,372.8 L863.5,384.1 L858.5,399.1 L852.2,421.6 L843.5,424.1 L837.2,416.6 L837.2,406.6 L841.0,401.6 L839.8,389.1 L851.0,384.1 L858.5,372.8 M643.5,596.6 L668.5,594.1 L706.0,590.3 L718.5,592.8 L756.0,590.3 L793.5,587.8 L803.5,584.1 L818.5,589.1 L843.5,584.1 L868.5,576.6 L886.0,575.3 L893.5,579.1 L913.5,580.3 L933.5,582.8 L934.8,589.1 L928.5,591.6 L933.5,596.6 L943.5,594.1 L953.5,589.1 L965.5,586.6 M931.0,512.8 L939.8,512.8 M1100.5,409.1 L1113.0,404.1 L1128.0,400.3 L1133.0,391.6 L1140.5,384.1 L1150.5,380.3 L1160.5,377.8 L1168.0,370.3 L1178.0,372.8 L1185.5,374.1 L1183.0,381.6 L1190.5,389.1 L1200.5,394.1 L1205.5,384.1 L1208.0,369.1 L1213.0,376.6 L1220.5,389.1 L1223.0,399.1 L1235.5,407.8 L1240.5,416.6 L1248.0,424.1 L1248.0,436.6 L1243.0,449.1 L1238.0,459.1 L1235.5,469.1 L1223.0,472.8 L1215.5,471.6 L1200.5,469.1 L1195.5,461.6 L1188.0,456.6 L1180.5,456.6 L1173.0,449.1 L1165.5,445.3 L1150.5,447.8 L1138.0,452.8 L1128.0,455.3 L1115.5,459.1 L1105.5,456.6 L1105.5,446.6 L1103.0,436.6 L1099.2,426.6 L1100.5,416.6 L1100.5,409.1 M1216.8,480.3 L1230.5,480.3 L1229.2,487.8 L1223.0,491.6 L1216.8,484.1 L1216.8,480.3 M965.5,587.8 L980.5,580.3 L1003.0,577.8 L1015.5,579.1 L1048.0,579.1 L1060.5,572.8 L1073.0,577.8 L1100.5,575.3 L1125.5,579.1 L1155.5,576.6 L1180.5,575.3 L1185.5,577.8 L1220.5,577.8 L1225.5,582.8 L1250.5,585.3 L1265.5,587.8 L1287.5,592.8 M1041.4,277.6 L1043.9,292.5 L1051.3,302.4 L1061.3,314.9 L1065.0,323.6 M1043.9,292.5 L1066.2,295.0 L1081.1,285.1 L1083.6,277.6 M1031.4,307.4 L1038.9,307.4 L1051.3,317.4 L1063.7,327.3 L1071.2,337.2 L1071.2,349.6 L1063.7,344.7 L1053.8,334.7 L1043.9,322.3 L1033.9,312.4 L1031.4,307.4 M1068.7,352.1 L1083.6,353.4 L1103.5,357.1 L1108.5,359.6 L1096.0,360.1 L1076.2,357.6 L1068.7,352.1 M1110.9,359.6 L1135.8,358.3 M1138.3,364.6 L1150.7,359.6 M1113.4,302.4 L1120.9,308.7 L1115.9,317.4 L1118.4,323.6 L1113.4,329.8 L1108.5,342.2 L1096.0,342.2 L1086.1,337.2 L1081.1,327.3 L1083.6,319.8 L1093.5,316.1 L1103.5,307.4 L1113.4,302.4 M1120.9,324.8 L1143.2,322.3 L1128.3,329.8 L1125.8,337.2 L1133.3,344.7 L1125.8,349.6 L1120.9,339.7 L1120.9,324.8 M1125.8,277.6 L1135.8,282.6 L1145.7,287.5 L1148.2,302.4 L1140.8,304.9 L1133.3,297.5 L1128.3,287.5 L1125.8,277.6 M1113.4,295.0 L1123.4,285.1 M1153.2,319.8 L1155.7,331.0 M1145.7,339.7 L1165.6,341.0 M1178.0,349.6 L1178.5,352.1 M1163.1,329.8 L1175.5,329.8 L1183.0,337.2 L1195.4,333.5 L1210.3,337.2 L1222.7,344.7 L1230.2,352.1 L1240.1,365.8 L1230.2,364.6 L1220.3,357.1 L1212.8,357.1 L1205.4,362.1 L1195.4,359.6 L1188.0,352.1 L1175.5,342.2 L1168.1,337.2 L1163.1,329.8 M1227.7,349.6 L1240.1,347.2 L1247.6,342.2 L1240.1,337.2 M1252.6,347.2 L1267.5,357.1 L1282.4,369.5 M-0.5,642.6 L12.0,643.8 L24.5,642.1 L37.0,641.8 L49.5,645.1 L82.0,647.6 L109.5,647.1 L137.0,645.6 L109.5,642.6 L99.5,640.1 L99.5,635.1 L87.0,632.6 L107.0,632.6 L124.5,628.8 L119.5,626.3 L99.5,624.6 L84.5,622.6 L79.5,616.3 L99.5,617.6 L124.5,613.8 L129.5,610.1 L149.5,608.8 L174.5,606.3 L199.5,605.1 L224.5,603.8 L247.0,605.1 L254.5,607.6 L274.5,610.1 L297.0,608.8 L287.0,602.6 L292.0,597.6 L312.0,597.6 L321.5,602.6 M60.8,622.6 L77.0,625.1 M1297.3,499.9 L1303.6,494.8 L1312.4,489.8 L1319.9,482.3 L1325.0,478.5 L1330.2,476.0 L1330.2,486.0 L1322.4,492.3 L1316.2,498.6 L1308.6,503.6 L1301.1,502.4 L1297.3,499.9 M1319.9,455.8 L1328.7,460.9 L1330.2,473.4 L1325.0,476.0 M1298.5,382.3 L1303.6,390.4 M1288.5,403.0 L1301.1,411.8 M1253.3,346.4 L1267.1,355.2 L1282.2,369.0 M1171.5,574.1 L1180.3,571.6 L1186.6,575.3 L1219.3,574.1 L1221.8,579.1 L1249.5,582.9 L1272.1,587.9 L1284.7,591.7 L1316.2,592.9 L1309.9,600.5 L1291.0,608.0 L1287.2,614.3 L1299.8,619.4 L1279.7,621.9 L1273.4,628.2 L1284.7,633.2 L1303.6,638.2 L1330.2,640.7 M643.5,163.5 L668.7,164.2 L670.1,155.8 L658.9,146.0 L653.3,139.7 M643.5,187.9 L649.1,191.4 L647.7,197.7 L643.5,203.3 M649.1,191.4 L660.3,189.3 L671.4,182.3 L675.6,173.2 L685.4,166.2 L696.6,164.8 L707.8,161.4 L713.4,164.2 L721.8,171.1 L732.9,177.4 L741.3,180.2 L735.7,183.7 L730.1,179.5 M720.4,156.5 L727.3,158.6 L735.7,164.2 L745.5,169.7 L749.7,173.9 L744.1,179.5 L738.5,180.9 M705.0,166.9 L703.6,173.9 L706.4,182.3 L710.6,180.9 L710.6,171.1 L705.0,166.9 M720.4,185.8 L732.9,183.7 L731.5,190.0 L721.8,187.9 L720.4,185.8 M749.7,173.9 L753.9,180.9 L758.1,189.3 L762.3,194.9 L772.1,196.3 L765.1,192.1 L759.5,179.5 L766.5,173.9 L774.9,175.3 L773.5,182.3 L777.7,189.3 L790.2,192.1 L804.2,191.4 L809.8,190.0 L809.8,200.5 L804.2,210.3 M777.7,171.1 L781.8,158.6 L790.2,151.6 L797.2,153.0 L804.2,157.2 L818.2,151.6 L822.4,150.2 M804.2,157.2 L812.6,155.8 L823.5,160.7 M777.7,171.1 L790.2,172.5 L804.2,169.7 L823.5,174.6 M643.5,193.5 L653.3,193.5 L664.5,194.9 L678.4,190.7 L692.4,187.9 L710.6,187.9 L716.2,190.7 L713.4,199.1 L719.0,204.7 L730.1,206.1 L741.3,213.1 L746.9,214.5 L749.7,206.1 L763.7,207.5 L776.3,210.3 L790.2,210.3 L800.0,208.9 L804.2,210.3 M1179.8,121.9 L1188.5,126.3 L1196.1,124.1 L1202.6,128.5 L1201.5,133.9 L1199.3,144.8 L1191.7,153.5 L1179.8,163.3 L1172.2,167.6 L1168.9,165.4 L1160.2,170.9 L1160.2,174.1 L1152.6,178.5 L1151.5,180.6 L1158.0,187.2 L1160.2,193.7 L1155.8,198.0 L1148.2,198.0 L1147.2,191.5 L1148.2,187.2 L1142.8,182.8 L1142.8,178.5 L1137.4,178.5 L1130.8,180.6 L1128.7,174.1 L1114.5,182.8 L1121.1,188.3 L1133.0,188.3 L1130.8,192.6 L1121.1,195.9 L1124.3,202.4 L1130.8,208.9 L1129.8,215.4 M1205.8,124.1 L1209.1,123.0 L1212.4,129.6 L1216.7,143.7 L1210.2,145.9 L1206.9,139.3 L1205.8,124.1 M1199.3,165.4 L1205.8,161.1 L1218.9,161.1 L1221.1,165.4 L1212.4,169.8 L1203.7,168.7 L1199.3,165.4 M1202.6,169.8 L1202.6,178.5 L1199.3,185.0 L1188.5,188.3 L1179.8,193.7 L1168.9,195.9 L1159.1,202.4 L1163.5,211.1 L1168.9,204.6 L1181.9,202.4 L1190.6,198.0 L1199.3,195.9 L1203.7,189.3 L1205.8,180.6 L1202.6,169.8 M211.5,41.8 L227.0,37.1 L239.5,36.3 M247.2,35.6 L255.0,32.4 L264.3,34.0 L258.1,37.9 L248.8,37.1 M213.1,41.0 L227.0,43.3 L242.6,46.4 L258.1,46.4 L276.7,44.9 M211.5,48.0 L227.0,49.5 L250.3,49.5 L273.6,51.1 L282.9,52.6 M211.5,58.8 L223.9,54.2 L242.6,54.2 L258.1,54.2 L278.3,52.6 L282.9,58.8 L292.2,66.6 L304.7,69.7 L320.2,68.2 M211.5,65.8 L234.8,68.2 L250.3,72.8 L273.6,72.8 L292.2,72.8 L312.4,74.4 L320.2,72.8 M278.3,30.9 L289.1,30.9 L301.6,35.6 L298.5,37.1 L281.4,34.8 M289.1,41.8 L304.7,40.2 L320.2,43.3 L329.5,44.9 L351.3,44.9 L374.5,44.9 M304.7,32.4 L320.2,30.9 L328.0,35.6 L323.3,46.4 L312.4,48.0 M289.1,54.2 L298.5,52.6 L310.9,54.2 L320.2,58.8 L312.4,61.9 L298.5,60.4 L289.1,57.3 M310.9,26.2 L320.2,23.1 L335.7,20.0 L359.0,18.5 L366.8,26.2 L351.3,27.8 L328.0,27.8 L310.9,27.8 M331.1,20.0 L351.3,16.9 L366.8,15.4 L411.5,14.6 M335.7,37.1 L351.3,35.6 L366.8,38.7 M382.3,30.9 L397.8,27.8 L411.5,27.8 M374.5,38.7 L390.1,35.6 L411.5,30.9 M335.7,54.2 L351.3,52.6 L374.5,54.2 L390.1,57.3 L411.5,61.9 M338.8,61.9 L351.3,63.5 L366.8,65.1 L382.3,68.2 L397.8,72.8 L402.5,77.5 L397.8,82.1 M328.0,66.6 L335.7,69.7 L348.1,74.4 L354.4,69.7 M397.8,32.4 L405.6,37.1 L411.5,38.7 M320.2,107.6 L323.3,97.7 L335.7,88.3 L351.3,80.6 L363.7,75.9 L369.9,72.8 M346.6,88.3 L359.0,85.2 L366.8,89.9 L374.5,88.3 L382.3,85.2 L390.1,82.1 M379.2,94.6 L397.8,93.0 L411.5,94.6 M373.8,94.6 L375.3,95.3" fill="none" stroke="#000" stroke-width="4.4" stroke-linejoin="round" stroke-linecap="round"/></g>
</g>
<rect x="78.5" y="132.4" width="1331.0" height="656.0" fill="none" stroke="#000" stroke-width="3.33"/>
<text x="744" y="109.0" font-size="55.0" text-anchor="middle" textLength="975.0" lengthAdjust="spacingAndGlyphs">Combined (GIM), 2007-04-30 20:00 UT</text>
<rect x="78.50" y="831.5" width="67.15" height="66.0" fill="#00009b"/>
<rect x="145.05" y="831.5" width="67.15" height="66.0" fill="#0000d6"/>
<rect x="211.60" y="831.5" width="67.15" height="66.0" fill="#0000ff"/>
<rect x="278.15" y="831.5" width="67.15" height="66.0" fill="#0030ff"/>
<rect x="344.70" y="831.5" width="67.15" height="66.0" fill="#0064ff"/>
<rect x="411.25" y="831.5" width="67.15" height="66.0" fill="#0098ff"/>
<rect x="477.80" y="831.5" width="67.15" height="66.0" fill="#00ccff"/>
<rect x="544.35" y="831.5" width="67.15" height="66.0" fill="#16ffe1"/>
<rect x="610.90" y="831.5" width="67.15" height="66.0" fill="#3cffba"/>
<rect x="677.45" y="831.5" width="67.15" height="66.0" fill="#66ff90"/>
<rect x="744.00" y="831.5" width="67.15" height="66.0" fill="#90ff66"/>
<rect x="810.55" y="831.5" width="67.15" height="66.0" fill="#baff3c"/>
<rect x="877.10" y="831.5" width="67.15" height="66.0" fill="#e4ff13"/>
<rect x="943.65" y="831.5" width="67.15" height="66.0" fill="#ffde00"/>
<rect x="1010.20" y="831.5" width="67.15" height="66.0" fill="#ffae00"/>
<rect x="1076.75" y="831.5" width="67.15" height="66.0" fill="#ff7e00"/>
<rect x="1143.30" y="831.5" width="67.15" height="66.0" fill="#ff4e00"/>
<rect x="1209.85" y="831.5" width="67.15" height="66.0" fill="#ff1e00"/>
<rect x="1276.40" y="831.5" width="67.15" height="66.0" fill="#d60000"/>
<rect x="1342.95" y="831.5" width="67.15" height="66.0" fill="#9b0000"/>
<rect x="78.5" y="831.5" width="1331.0" height="66.0" fill="none" stroke="#000" stroke-width="3.33"/>
<line x1="78.50" y1="897.5" x2="78.50" y2="912.1" stroke="#000" stroke-width="3.33"/>
<text x="78.50" y="959.5" font-size="46.0" text-anchor="middle">0.0</text>
<line x1="278.15" y1="897.5" x2="278.15" y2="912.1" stroke="#000" stroke-width="3.33"/>
<text x="278.15" y="959.5" font-size="46.0" text-anchor="middle">7.5</text>
<line x1="477.80" y1="897.5" x2="477.80" y2="912.1" stroke="#000" stroke-width="3.33"/>
<text x="477.80" y="959.5" font-size="46.0" text-anchor="middle">15.0</text>
<line x1="677.45" y1="897.5" x2="677.45" y2="912.1" stroke="#000" stroke-width="3.33"/>
<text x="677.45" y="959.5" font-size="46.0" text-anchor="middle">22.5</text>
<line x1="877.10" y1="897.5" x2="877.10" y2="912.1" stroke="#000" stroke-width="3.33"/>
<text x="877.10" y="959.5" font-size="46.0" text-anchor="middle">30.0</text>
<line x1="1076.75" y1="897.5" x2="1076.75" y2="912.1" stroke="#000" stroke-width="3.33"/>
<text x="1076.75" y="959.5" font-size="46.0" text-anchor="middle">37.5</text>
<line x1="1276.40" y1="897.5" x2="1276.40" y2="912.1" stroke="#000" stroke-width="3.33"/>
<text x="1276.40" y="959.5" font-size="46.0" text-anchor="middle">45.0</text>
<defs><clipPath id="clip1"><rect x="78.5" y="1117.4" width="1331.0" height="656.0"/></clipPath></defs>
<g clip-path="url(#clip1)">
<rect x="78.5" y="1117.4" width="1331.0" height="656.0" fill="#0000ff"/>
<g transform="translate(78.5,1117.4)"><rect x="-6" y="-6" width="1343.0" height="668.0" fill="#00009b"/><path d="M-6.0,-6.0L-3.0,-6.0L0.0,-6.0L3.0,-6.0L6.0,-6.0L9.0,-6.0L12.0,-6.0L15.0,-6.0L18.0,-6.0L21.0,-6.0L24.0,-6.0L27.0,-6.0L30.0,-6.0L33.0,-6.0L36.0,-6.0L39.0,-6.0L42.0,-6.0L45.0,-6.0L48.0,-6.0L51.0,-6.0L54.0,-6.0L57.0,-6.0L60.0,-6.0L63.0,-6.0L66.0,-6.0L69.0,-6.0L72.0,-6.0L75.0,-6.0L78.0,-6.0L81.0,-6.0L84.0,-6.0L87.0,-6.0L90.0,-6.0L93.0,-6.0L96.0,-6.0L99.0,-6.0L102.0,-6.0L105.0,-6.0L108.0,-6.0L111.0,-6.0L114.0,-6.0L117.0,-6.0L120.0,-6.0L123.0,-6.0L126.0,-6.0L129.0,-6.0L132.0,-6.0L135.0,-6.0L138.0,-6.0L141.0,-6.0L144.0,-6.0L147.0,-6.0L150.0,-6.0L153.0,-6.0L156.0,-6.0L159.0,-6.0L162.0,-6.0L165.0,-6.0L168.0,-6.0L171.0,-6.0L174.0,-6.0L177.0,-6.0L180.0,-6.0L183.0,-6.0L186.0,-6.0L189.0,-6.0L192.0,-6.0L195.0,-6.0L198.0,-6.0L201.0,-6.0L204.0,-6.0L207.0,-6.0L210.0,-6.0L213.0,-6.0L216.0,-6.0L219.0,-6.0L222.0,-6.0L225.0,-6.0L228.0,-6.0L231.0,-6.0L234.0,-6.0L237.0,-6.0L240.0,-6.0L243.0,-6.0L246.0,-6.0L249.0,-6.0L252.0,-6.0L255.0,-6.0L258.0,-6.0L261.0,-6.0L264.0,-6.0L267.0,-6.0L270.0,-6.0L273.0,-6.0L276.0,-6.0L279.0,-6.0L282.0,-6.0L285.0,-6.0L288.0,-6.0L291.0,-6.0L294.0,-6.0L297.0,-6.0L300.0,-6.0L303.0,-6.0L306.0,-6.0L309.0,-6.0L312.0,-6.0L315.0,-6.0L318.0,-6.0L321.0,-6.0L324.0,-6.0L327.0,-6.0L330.0,-6.0L333.0,-6.0L336.0,-6.0L339.0,-6.0L342.0,-6.0L345.0,-6.0L348.0,-6.0L351.0,-6.0L354.0,-6.0L357.0,-6.0L360.0,-6.0L363.0,-6.0L366.0,-6.0L369.0,-6.0L372.0,-6.0L375.0,-6.0L378.0,-6.0L381.0,-6.0L384.0,-6.0L387.0,-6.0L390.0,-6.0L393.0,-6.0L396.0,-6.0L399.0,-6.0L402.0,-6.0L405.0,-6.0L408.0,-6.0L411.0,-6.0L414.0,-6.0L417.0,-6.0L420.0,-6.0L423.0,-6.0L426.0,-6.0L429.0,-6.0L432.0,-6.0L435.0,-6.0L438.0,-6.0L441.0,-6.0L444.0,-6.0L447.0,-6.0L450.0,-6.0L453.0,-6.0L456.0,-6.0L459.0,-6.0L462.0,-6.0L465.0,-6.0L468.0,-6.0L471.0,-6.0L474.0,-6.0L477.0,-6.0L480.0,-6.0L483.0,-6.0L486.0,-6.0L489.0,-6.0L492.0,-6.0L495.0,-6.0L498.0,-6.0L501.0,-6.0L504.0,-6.0L507.0,-6.0L510.0,-6.0L513.0,-6.0L516.0,-6.0L519.0,-6.0L522.0,-6.0L525.0,-6.0L528.0,-6.0L531.0,-6.0L534.0,-6.0L537.0,-6.0L540.0,-6.0L543.0,-6.0L546.0,-6.0L549.0,-6.0L552.0,-6.0L555.0,-6.0L558.0,-6.0L561.0,-6.0L564.0,-6.0L567.0,-6.0L570.0,-6.0L573.0,-6.0L576.0,-6.0L579.0,-6.0L582.0,-6.0L585.0,-6.0L588.0,-6.0L591.0,-6.0L594.0,-6.0L597.0,-6.0L600.0,-6.0L603.0,-6.0L606.0,-6.0L609.0,-6.0L612.0,-6.0L615.0,-6.0L618.0,-6.0L621.0,-6.0L624.0,-6.0L627.0,-6.0L630.0,-6.0L633.0,-6.0L636.0,-6.0L639.0,-6.0L642.0,-6.0L645.0,-6.0L648.0,-6.0L651.0,-6.0L654.0,-6.0L657.0,-6.0L660.0,-6.0L663.0,-6.0L666.0,-6.0L669.0,-6.0L672.0,-6.0L675.0,-6.0L678.0,-6.0L681.0,-6.0L684.0,-6.0L687.0,-6.0L690.0,-6.0L693.0,-6.0L696.0,-6.0L699.0,-6.0L702.0,-6.0L705.0,-6.0L708.0,-6.0L711.0,-6.0L714.0,-6.0L717.0,-6.0L720.0,-6.0L723.0,-6.0L726.0,-6.0L729.0,-6.0L732.0,-6.0L735.0,-6.0L738.0,-6.0L741.0,-6.0L744.0,-6.0L747.0,-6.0L750.0,-6.0L753.0,-6.0L756.0,-6.0L759.0,-6.0L762.0,-6.0L765.0,-6.0L768.0,-6.0L771.0,-6.0L774.0,-6.0L777.0,-6.0L780.0,-6.0L783.0,-6.0L786.0,-6.0L789.0,-6.0L792.0,-6.0L795.0,-6.0L798.0,-6.0L801.0,-6.0L804.0,-6.0L807.0,-6.0L810.0,-6.0L813.0,-6.0L816.0,-6.0L819.0,-6.0L822.0,-6.0L825.0,-6.0L828.0,-6.0L831.0,-6.0L834.0,-6.0L837.0,-6.0L840.0,-6.0L843.0,-6.0L846.0,-6.0L849.0,-6.0L852.0,-6.0L855.0,-6.0L858.0,-6.0L861.0,-6.0L864.0,-6.0L867.0,-6.0L870.0,-6.0L873.0,-6.0L876.0,-6.0L879.0,-6.0L882.0,-6.0L885.0,-6.0L888.0,-6.0L891.0,-6.0L894.0,-6.0L897.0,-6.0L900.0,-6.0L903.0,-6.0L906.0,-6.0L909.0,-6.0L912.0,-6.0L915.0,-6.0L918.0,-6.0L921.0,-6.0L924.0,-6.0L927.0,-6.0L930.0,-6.0L933.0,-6.0L936.0,-6.0L939.0,-6.0L942.0,-6.0L945.0,-6.0L948.0,-6.0L951.0,-6.0L954.0,-6.0L957.0,-6.0L960.0,-6.0L963.0,-6.0L966.0,-6.0L969.0,-6.0L972.0,-6.0L975.0,-6.0L978.0,-6.0L981.0,-6.0L984.0,-6.0L987.0,-6.0L990.0,-6.0L993.0,-6.0L996.0,-6.0L999.0,-6.0L1002.0,-6.0L1005.0,-6.0L1008.0,-6.0L1011.0,-6.0L1014.0,-6.0L1017.0,-6.0L1020.0,-6.0L1023.0,-6.0L1026.0,-6.0L1029.0,-6.0L1032.0,-6.0L1035.0,-6.0L1038.0,-6.0L1041.0,-6.0L1044.0,-6.0L1047.0,-6.0L1050.0,-6.0L1053.0,-6.0L1056.0,-6.0L1059.0,-6.0L1062.0,-6.0L1065.0,-6.0L1068.0,-6.0L1071.0,-6.0L1074.0,-6.0L1077.0,-6.0L1080.0,-6.0L1083.0,-6.0L1086.0,-6.0L1089.0,-6.0L1092.0,-6.0L1095.0,-6.0L1098.0,-6.0L1101.0,-6.0L1104.0,-6.0L1107.0,-6.0L1110.0,-6.0L1113.0,-6.0L1116.0,-6.0L1119.0,-6.0L1122.0,-6.0L1125.0,-6.0L1128.0,-6.0L1131.0,-6.0L1134.0,-6.0L1137.0,-6.0L1140.0,-6.0L1143.0,-6.0L1146.0,-6.0L1149.0,-6.0L1152.0,-6.0L1155.0,-6.0L1158.0,-6.0L1161.0,-6.0L1164.0,-6.0L1167.0,-6.0L1170.0,-6.0L1173.0,-6.0L1176.0,-6.0L1179.0,-6.0L1182.0,-6.0L1185.0,-6.0L1188.0,-6.0L1191.0,-6.0L1194.0,-6.0L1197.0,-6.0L1200.0,-6.0L1203.0,-6.0L1206.0,-6.0L1209.0,-6.0L1212.0,-6.0L1215.0,-6.0L1218.0,-6.0L1221.0,-6.0L1224.0,-6.0L1227.0,-6.0L1230.0,-6.0L1233.0,-6.0L1236.0,-6.0L1239.0,-6.0L1242.0,-6.0L1245.0,-6.0L1248.0,-6.0L1251.0,-6.0L1254.0,-6.0L1257.0,-6.0L1260.0,-6.0L1263.0,-6.0L1266.0,-6.0L1269.0,-6.0L1272.0,-6.0L1275.0,-6.0L1278.0,-6.0L1281.0,-6.0L1284.0,-6.0L1287.0,-6.0L1290.0,-6.0L1293.0,-6.0L1296.0,-6.0L1299.0,-6.0L1302.0,-6.0L1305.0,-6.0L1308.0,-6.0L1311.0,-6.0L1314.0,-6.0L1317.0,-6.0L1320.0,-6.0L1323.0,-6.0L1326.0,-6.0L1329.0,-6.0L1332.0,-6.0L1335.0,-6.0L1338.0,-6.0L1338.0,-3.0L1338.0,0.0L1338.0,3.0L1338.0,6.0L1338.0,9.0L1338.0,12.0L1338.0,15.0L1338.0,18.0L1338.0,21.0L1338.0,24.0L1338.0,27.0L1338.0,30.0L1338.0,33.0L1338.0,36.0L1338.0,39.0L1338.0,42.0L1338.0,45.0L1338.0,48.0L1338.0,51.0L1338.0,54.0L1338.0,57.0L1338.0,60.0L1338.0,63.0L1338.0,66.0L1338.0,69.0L1338.0,72.0L1338.0,75.0L1338.0,78.0L1338.0,81.0L1338.0,84.0L1338.0,87.0L1338.0,90.0L1338.0,93.0L1338.0,96.0L1338.0,99.0L1338.0,102.0L1338.0,105.0L1338.0,108.0L1338.0,111.0L1338.0,114.0L1338.0,117.0L1338.0,120.0L1338.0,123.0L1338.0,126.0L1338.0,129.0L1338.0,132.0L1338.0,135.0L1338.0,138.0L1338.0,141.0L1338.0,144.0L1338.0,147.0L1338.0,150.0L1338.0,153.0L1338.0,156.0L1338.0,159.0L1338.0,162.0L1338.0,165.0L1338.0,168.0L1338.0,171.0L1338.0,174.0L1338.0,177.0L1338.0,180.0L1338.0,183.0L1338.0,186.0L1338.0,189.0L1338.0,192.0L1338.0,195.0L1338.0,198.0L1338.0,201.0L1338.0,204.0L1338.0,207.0L1338.0,210.0L1338.0,213.0L1338.0,216.0L1338.0,219.0L1338.0,222.0L1338.0,225.0L1338.0,228.0L1338.0,231.0L1338.0,234.0L1338.0,237.0L1338.0,240.0L1338.0,243.0L1338.0,246.0L1338.0,249.0L1338.0,252.0L1338.0,255.0L1338.0,258.0L1338.0,261.0L1338.0,264.0L1338.0,267.0L1338.0,270.0L1338.0,273.0L1338.0,276.0L1338.0,279.0L1338.0,282.0L1338.0,285.0L1338.0,288.0L1338.0,291.0L1338.0,294.0L1338.0,297.0L1338.0,300.0L1338.0,303.0L1338.0,306.0L1338.0,309.0L1338.0,312.0L1338.0,315.0L1338.0,318.0L1338.0,321.0L1338.0,324.0L1338.0,327.0L1338.0,330.0L1338.0,333.0L1338.0,336.0L1338.0,339.0L1338.0,342.0L1338.0,345.0L1338.0,348.0L1338.0,351.0L1338.0,354.0L1338.0,357.0L1338.0,360.0L1338.0,363.0L1338.0,366.0L1338.0,369.0L1338.0,372.0L1338.0,375.0L1338.0,378.0L1338.0,381.0L1338.0,384.0L1338.0,387.0L1338.0,390.0L1338.0,393.0L1338.0,396.0L1338.0,399.0L1338.0,402.0L1338.0,405.0L1338.0,408.0L1338.0,411.0L1338.0,414.0L1338.0,417.0L1338.0,420.0L1338.0,423.0L1338.0,426.0L1338.0,429.0L1338.0,432.0L1338.0,435.0L1338.0,438.0L1338.0,441.0L1338.0,444.0L1338.0,447.0L1338.0,450.0L1338.0,453.0L1338.0,456.0L1338.0,459.0L1338.0,462.0L1338.0,465.0L1338.0,468.0L1338.0,471.0L1338.0,474.0L1338.0,477.0L1338.0,480.0L1338.0,483.0L1338.0,486.0L1338.0,489.0L1338.0,492.0L1338.0,495.0L1338.0,498.0L1338.0,501.0L1338.0,504.0L1338.0,507.0L1338.0,510.0L1338.0,513.0L1338.0,516.0L1338.0,519.0L1338.0,522.0L1338.0,525.0L1338.0,528.0L1338.0,531.0L1338.0,534.0L1338.0,537.0L1338.0,540.0L1338.0,543.0L1338.0,546.0L1338.0,549.0L1338.0,552.0L1338.0,555.0L1338.0,558.0L1338.0,561.0L1338.0,564.0L1338.0,567.0L1338.0,570.0L1338.0,573.0L1338.0,576.0L1338.0,579.0L1338.0,582.0L1338.0,584.1L1336.1,582.0L1335.0,580.9L1333.1,579.0L1332.0,578.0L1329.4,576.0L1329.0,575.7L1326.0,573.7L1325.0,573.0L1323.0,571.6L1320.7,570.0L1320.0,569.5L1317.0,567.4L1316.5,567.0L1314.0,565.2L1312.4,564.0L1311.0,562.9L1308.6,561.0L1308.0,560.5L1305.0,558.0L1305.0,558.0L1302.0,555.3L1301.7,555.0L1299.0,552.5L1298.5,552.0L1296.0,549.5L1295.5,549.0L1293.0,546.2L1292.9,546.0L1290.4,543.0L1290.0,542.4L1288.3,540.0L1287.0,537.9L1286.5,537.0L1284.9,534.0L1284.0,531.8L1283.7,531.0L1282.6,528.0L1281.6,525.0L1281.0,522.6L1280.9,522.0L1280.3,519.0L1279.8,516.0L1279.3,513.0L1278.8,510.0L1278.3,507.0L1278.0,505.7L1277.7,504.0L1277.0,501.0L1276.1,498.0L1275.0,495.0L1275.0,495.0L1273.5,492.0L1272.0,489.4L1271.8,489.0L1269.6,486.0L1269.0,485.2L1267.1,483.0L1266.0,481.7L1264.4,480.0L1263.0,478.6L1261.3,477.0L1260.0,475.9L1257.7,474.0L1257.0,473.4L1254.0,471.2L1253.7,471.0L1251.0,469.2L1248.8,468.0L1248.0,467.5L1245.0,466.0L1242.5,465.0L1242.0,464.8L1239.0,463.8L1236.0,462.9L1233.0,462.3L1231.5,462.0L1230.0,461.7L1227.0,461.3L1224.0,461.0L1221.0,460.7L1218.0,460.5L1215.0,460.3L1212.0,460.2L1209.0,460.2L1206.0,460.2L1203.0,460.3L1200.0,460.4L1197.0,460.6L1194.0,460.8L1191.0,461.0L1188.0,461.2L1185.0,461.5L1182.0,461.7L1179.1,462.0L1179.0,462.0L1176.0,462.3L1173.0,462.6L1170.0,462.9L1167.0,463.2L1164.0,463.5L1161.0,463.8L1158.0,464.1L1155.0,464.5L1152.0,464.8L1150.2,465.0L1149.0,465.2L1146.0,465.6L1143.0,466.0L1140.0,466.4L1137.0,466.8L1134.0,467.2L1131.0,467.6L1128.1,468.0L1128.0,468.0L1125.0,468.5L1122.0,468.9L1119.0,469.4L1116.0,469.8L1113.0,470.3L1110.2,471.0L1110.0,471.2L1107.0,473.1L1104.0,473.4L1101.0,473.4L1098.0,473.4L1095.0,473.5L1092.0,473.6L1089.0,473.6L1086.0,473.7L1083.0,473.7L1080.0,473.8L1077.0,473.8L1074.0,473.8L1071.0,473.9L1068.0,473.9L1065.0,473.9L1062.0,473.9L1059.0,473.9L1056.0,473.9L1053.0,473.9L1050.0,473.9L1047.0,473.8L1044.0,473.7L1041.0,473.6L1038.0,473.5L1035.0,473.3L1032.0,473.1L1029.0,472.7L1026.0,472.3L1023.0,471.9L1020.0,471.3L1018.7,471.0L1017.0,470.6L1014.0,469.9L1011.0,469.1L1008.0,468.3L1007.0,468.0L1005.0,467.4L1002.0,466.6L999.0,465.7L996.4,465.0L996.0,464.9L993.0,464.3L990.0,463.6L987.0,463.0L984.0,462.4L982.1,462.0L981.0,461.8L978.0,461.2L975.0,460.6L972.0,460.0L969.0,459.5L966.0,459.1L965.2,459.0L963.0,458.8L960.0,458.6L957.0,458.6L954.0,458.7L951.0,458.9L950.5,459.0L948.0,459.3L945.0,459.8L942.0,460.3L939.0,461.0L936.0,461.7L934.8,462.0L933.0,462.5L930.0,463.2L927.0,464.1L924.0,464.9L923.7,465.0L921.0,465.7L918.0,466.6L915.0,467.6L913.8,468.0L912.0,468.6L909.0,469.6L906.0,470.7L905.1,471.0L903.0,471.7L900.0,472.8L897.1,474.0L897.0,474.0L894.0,475.1L891.0,476.1L888.0,476.8L885.0,476.7L883.6,477.0L882.0,477.2L879.0,477.9L876.0,478.7L873.0,479.5L871.2,480.0L870.0,480.3L867.0,481.0L864.0,481.8L861.0,482.6L859.6,483.0L858.0,483.4L855.0,484.2L852.0,485.1L849.0,486.0L849.0,486.0L846.0,486.9L843.0,487.8L840.0,488.8L839.6,489.0L837.0,489.9L834.0,491.1L832.0,492.0L831.0,492.4L828.0,493.8L825.6,495.0L825.0,495.3L822.0,496.9L820.0,498.0L819.0,498.5L816.0,500.2L814.5,501.0L813.0,501.8L810.0,503.5L809.0,504.0L807.0,505.1L804.0,506.6L803.1,507.0L801.0,508.0L798.0,509.5L797.1,510.0L795.0,511.1L792.0,512.6L791.3,513.0L789.0,514.2L786.0,515.6L785.2,516.0L783.0,517.1L780.0,518.4L778.4,519.0L777.0,519.6L774.0,520.7L771.0,521.7L770.1,522.0L768.0,522.6L765.0,523.5L762.0,524.2L759.0,524.9L758.6,525.0L756.0,525.6L753.0,526.2L750.0,526.8L747.0,527.3L744.0,527.9L743.3,528.0L741.0,528.4L738.0,528.9L735.0,529.5L732.0,530.0L729.0,530.5L726.2,531.0L726.0,531.0L723.0,531.6L720.0,532.2L717.0,532.7L714.0,533.3L711.0,533.9L710.7,534.0L708.0,534.5L705.0,535.1L702.0,535.7L699.0,536.3L696.0,536.9L695.7,537.0L693.0,537.5L690.0,538.1L687.0,538.7L684.0,539.3L681.0,539.9L680.7,540.0L678.0,540.6L675.0,541.2L672.0,541.8L669.0,542.5L667.1,543.0L666.0,544.1L664.5,546.0L663.0,546.5L660.0,546.9L657.0,547.3L654.0,547.6L651.0,547.9L648.0,548.2L645.0,548.6L642.0,548.9L641.2,549.0L639.0,549.3L636.0,549.7L633.0,550.2L630.0,550.3L627.0,550.7L624.0,551.1L621.0,551.4L618.0,551.8L616.3,552.0L615.0,552.2L612.0,552.5L609.0,552.9L606.0,553.3L603.0,553.7L600.0,554.1L597.0,554.5L594.0,554.9L593.6,555.0L591.0,555.4L588.0,555.8L585.0,556.3L582.0,556.8L579.0,557.2L576.0,557.7L574.1,558.0L573.0,558.2L570.0,558.7L567.0,559.2L564.0,559.7L561.0,560.2L558.0,560.7L556.3,561.0L555.0,561.2L552.0,561.8L549.0,562.3L546.0,562.8L543.0,563.3L540.0,563.9L539.2,564.0L537.0,564.4L534.0,565.0L531.0,565.5L528.0,566.1L525.0,566.6L522.8,567.0L522.0,567.2L519.0,567.7L516.0,568.3L513.0,568.9L510.0,569.4L507.0,569.9L506.7,570.0L504.0,570.5L501.0,571.1L498.0,571.7L495.0,572.3L492.0,572.9L491.3,573.0L489.0,573.5L486.0,574.1L483.0,574.7L480.0,575.3L477.0,575.9L476.4,576.0L474.0,576.5L471.0,577.1L468.0,577.7L465.0,578.4L462.0,578.9L461.7,579.0L459.0,579.6L456.0,580.2L453.0,580.8L450.0,581.4L447.0,582.0L446.8,582.0L444.0,582.8L441.0,584.3L440.0,585.0L438.0,586.7L436.3,588.0L435.0,589.4L433.2,591.0L432.0,592.4L430.4,594.0L429.0,595.9L428.0,597.0L426.0,599.9L425.9,600.0L424.0,603.0L423.0,605.2L422.5,606.0L421.3,609.0L420.4,612.0L420.0,614.2L419.8,615.0L420.0,615.6L420.7,618.0L421.1,621.0L421.2,624.0L422.2,627.0L423.0,629.4L423.8,630.0L423.0,630.5L420.0,631.0L417.0,631.2L414.0,631.3L411.0,631.4L408.0,631.4L405.0,631.5L402.0,631.6L399.0,631.6L396.0,631.6L393.0,631.6L390.0,631.7L387.0,631.7L384.0,631.8L381.0,631.8L378.0,631.9L375.0,631.9L372.0,631.9L369.0,632.0L366.0,632.0L363.0,632.1L360.0,632.1L357.0,632.2L354.0,632.2L351.0,632.2L348.0,632.3L345.0,632.3L342.0,632.4L339.0,632.4L336.0,632.5L333.0,632.5L330.0,632.6L327.0,632.6L324.0,632.7L321.0,632.7L318.0,632.8L315.0,632.8L312.0,632.9L309.0,632.9L306.0,633.0L303.9,633.0L303.0,633.0L300.0,633.1L297.0,633.1L294.0,633.2L291.0,633.2L288.0,633.3L285.0,633.3L282.0,633.4L279.0,633.4L276.0,633.5L273.0,633.5L270.0,633.6L267.0,633.6L264.0,633.7L261.0,633.7L258.0,633.8L255.0,633.8L252.0,633.9L249.0,633.9L246.0,634.0L243.0,634.0L240.0,634.1L237.0,634.1L234.0,634.2L231.0,634.3L228.0,634.3L225.0,634.4L222.0,634.4L219.0,634.4L216.0,634.3L213.0,634.2L210.0,634.1L207.0,634.0L204.0,633.9L201.0,633.9L198.0,633.8L195.0,633.7L192.0,633.6L189.0,633.5L186.0,633.4L183.0,633.3L180.0,633.1L177.5,633.0L177.0,633.0L174.0,632.8L171.0,632.6L168.0,632.4L165.0,632.2L162.0,632.0L159.0,631.8L156.0,631.5L153.0,631.3L150.0,631.1L147.0,630.8L144.0,630.5L141.0,630.2L138.9,630.0L138.0,629.9L135.0,629.5L132.0,629.2L129.0,628.8L126.0,628.4L123.0,627.9L120.0,627.5L117.0,627.0L117.0,627.0L114.0,626.5L111.0,626.0L108.0,625.5L105.0,625.0L102.0,624.5L99.0,624.0L99.0,624.0L96.0,623.5L93.0,623.0L90.0,622.4L87.0,621.8L84.0,621.3L82.7,621.0L81.0,620.7L78.0,620.1L75.0,619.5L72.0,618.8L69.0,618.2L68.3,618.0L66.0,617.5L63.0,616.8L60.0,616.1L57.0,615.3L55.9,615.0L54.0,614.5L51.0,613.7L48.0,612.8L45.6,612.0L45.0,611.8L42.0,610.8L39.0,609.7L37.1,609.0L36.0,608.6L33.0,607.5L30.0,606.3L29.4,606.0L27.0,605.0L24.0,603.8L22.2,603.0L21.0,602.5L18.0,601.2L15.3,600.0L15.0,599.9L12.0,598.5L9.0,597.2L8.6,597.0L6.0,595.9L3.0,594.5L1.8,594.0L0.0,593.2L-3.0,592.0L-5.2,591.0L-6.0,590.6L-6.0,588.0L-6.0,585.0L-6.0,582.0L-6.0,579.0L-6.0,576.0L-6.0,573.0L-6.0,570.0L-6.0,567.0L-6.0,564.0L-6.0,561.0L-6.0,558.0L-6.0,555.0L-6.0,552.0L-6.0,549.0L-6.0,546.0L-6.0,543.0L-6.0,540.0L-6.0,537.0L-6.0,534.0L-6.0,531.0L-6.0,528.0L-6.0,525.0L-6.0,522.0L-6.0,519.0L-6.0,516.0L-6.0,513.0L-6.0,510.0L-6.0,507.0L-6.0,504.0L-6.0,501.0L-6.0,498.0L-6.0,495.0L-6.0,492.0L-6.0,489.0L-6.0,486.0L-6.0,483.0L-6.0,480.0L-6.0,477.0L-6.0,474.0L-6.0,471.0L-6.0,468.0L-6.0,465.0L-6.0,462.0L-6.0,459.0L-6.0,456.0L-6.0,453.0L-6.0,450.0L-6.0,447.0L-6.0,444.0L-6.0,441.0L-6.0,438.0L-6.0,435.0L-6.0,432.0L-6.0,429.0L-6.0,426.0L-6.0,423.0L-6.0,420.0L-6.0,417.0L-6.0,414.0L-6.0,411.0L-6.0,408.0L-6.0,405.0L-6.0,402.0L-6.0,399.0L-6.0,396.0L-6.0,393.0L-6.0,390.0L-6.0,387.0L-6.0,384.0L-6.0,381.0L-6.0,378.0L-6.0,375.0L-6.0,372.0L-6.0,369.0L-6.0,366.0L-6.0,363.0L-6.0,360.0L-6.0,357.0L-6.0,354.0L-6.0,351.0L-6.0,348.0L-6.0,345.0L-6.0,342.0L-6.0,339.0L-6.0,336.0L-6.0,333.0L-6.0,330.0L-6.0,327.0L-6.0,324.0L-6.0,321.0L-6.0,318.0L-6.0,315.0L-6.0,312.0L-6.0,309.0L-6.0,306.0L-6.0,303.0L-6.0,300.0L-6.0,297.0L-6.0,294.0L-6.0,291.0L-6.0,288.0L-6.0,285.0L-6.0,282.0L-6.0,279.0L-6.0,276.0L-6.0,273.0L-6.0,270.0L-6.0,267.0L-6.0,264.0L-6.0,261.0L-6.0,258.0L-6.0,255.0L-6.0,252.0L-6.0,249.0L-6.0,246.0L-6.0,243.0L-6.0,240.0L-6.0,237.0L-6.0,234.0L-6.0,231.0L-6.0,228.0L-6.0,225.0L-6.0,222.0L-6.0,219.0L-6.0,216.0L-6.0,213.0L-6.0,210.0L-6.0,207.0L-6.0,204.0L-6.0,201.0L-6.0,198.0L-6.0,195.0L-6.0,192.0L-6.0,189.0L-6.0,186.0L-6.0,183.0L-6.0,180.0L-6.0,177.0L-6.0,174.0L-6.0,171.0L-6.0,168.0L-6.0,165.0L-6.0,162.0L-6.0,159.0L-6.0,156.0L-6.0,153.0L-6.0,150.0L-6.0,147.0L-6.0,144.0L-6.0,141.0L-6.0,138.0L-6.0,135.0L-6.0,132.0L-6.0,129.0L-6.0,126.0L-6.0,123.0L-6.0,120.0L-6.0,117.0L-6.0,114.0L-6.0,111.0L-6.0,108.0L-6.0,105.0L-6.0,102.0L-6.0,99.0L-6.0,96.0L-6.0,93.0L-6.0,90.0L-6.0,87.0L-6.0,84.0L-6.0,81.0L-6.0,78.0L-6.0,75.0L-6.0,72.0L-6.0,69.0L-6.0,66.0L-6.0,63.0L-6.0,60.0L-6.0,57.0L-6.0,54.0L-6.0,51.0L-6.0,48.0L-6.0,45.0L-6.0,42.0L-6.0,39.0L-6.0,36.0L-6.0,33.0L-6.0,30.0L-6.0,27.0L-6.0,24.0L-6.0,21.0L-6.0,18.0L-6.0,15.0L-6.0,12.0L-6.0,9.0L-6.0,6.0L-6.0,3.0L-6.0,0.0L-6.0,-3.0L-6.0,-6.0ZM993.0,65.9L991.9,66.0L990.0,66.2L987.0,66.4L984.0,66.7L981.0,67.0L978.0,67.3L975.0,67.6L972.0,67.9L969.0,68.2L966.0,68.6L963.0,68.9L962.0,69.0L960.0,69.3L957.0,69.6L954.0,70.0L951.0,70.4L948.0,70.8L945.0,71.2L942.0,71.6L939.2,72.0L939.0,72.0L936.0,72.5L933.0,73.0L930.0,73.5L927.0,74.0L924.0,74.6L921.7,75.0L921.0,75.1L918.0,75.8L915.0,76.4L912.0,77.0L909.0,77.6L907.2,78.0L906.0,78.3L903.0,79.0L900.0,79.7L897.0,80.3L894.0,80.9L893.6,81.0L891.0,81.7L888.0,83.1L886.1,84.0L885.0,84.5L882.0,85.4L879.0,86.1L876.0,86.7L874.7,87.0L873.0,87.4L870.0,88.2L867.0,88.9L864.0,89.7L862.7,90.0L861.0,90.5L858.0,91.6L855.0,92.8L854.6,93.0L852.0,94.7L850.3,96.0L849.0,97.4L847.7,99.0L846.0,101.7L845.9,102.0L844.8,105.0L844.7,108.0L845.3,111.0L846.0,112.4L847.1,114.0L849.0,115.9L850.4,117.0L852.0,118.3L854.4,120.0L855.0,120.4L858.0,122.4L859.1,123.0L861.0,124.1L864.0,125.5L865.1,126.0L867.0,126.7L870.0,127.8L873.0,128.7L874.3,129.0L876.0,129.5L879.0,130.2L882.0,131.0L885.0,131.8L886.3,132.0L888.0,132.3L891.0,132.5L894.0,132.6L897.0,132.7L900.0,132.8L903.0,132.9L906.0,133.0L909.0,132.9L912.0,132.9L915.0,132.8L918.0,132.6L921.0,132.4L924.0,132.1L925.4,132.0L927.0,131.8L930.0,131.5L933.0,131.2L936.0,130.8L939.0,130.5L942.0,130.1L945.0,129.7L948.0,129.3L950.1,129.0L951.0,128.9L954.0,128.5L957.0,128.1L960.0,127.7L963.0,127.3L966.0,126.9L969.0,126.5L972.0,126.1L972.4,126.0L975.0,125.7L978.0,125.3L981.0,124.9L984.0,124.6L987.0,124.2L990.0,123.8L993.0,123.5L996.0,123.2L997.7,123.0L999.0,122.9L1002.0,122.6L1005.0,122.4L1008.0,122.1L1011.0,121.9L1014.0,121.6L1017.0,121.4L1020.0,121.1L1023.0,120.9L1026.0,120.6L1029.0,120.4L1032.0,120.1L1033.4,120.0L1035.0,119.9L1038.0,119.6L1041.0,119.3L1044.0,119.0L1047.0,118.7L1050.0,118.3L1053.0,117.9L1056.0,117.5L1058.7,117.0L1059.0,117.0L1062.0,116.4L1065.0,115.9L1068.0,115.2L1071.0,114.5L1073.0,114.0L1074.0,113.7L1077.0,113.0L1080.0,112.2L1083.0,111.3L1084.0,111.0L1086.0,110.4L1089.0,109.5L1092.0,108.6L1093.9,108.0L1095.0,107.6L1098.0,106.6L1101.0,105.6L1103.2,105.0L1104.0,104.7L1107.0,103.6L1109.5,102.0L1110.0,99.4L1110.0,99.0L1110.0,98.5L1109.6,96.0L1110.0,95.1L1110.6,93.0L1112.5,90.0L1112.1,87.0L1110.7,84.0L1110.0,83.5L1107.0,83.2L1104.0,83.7L1101.0,82.7L1099.5,81.0L1098.0,80.1L1095.5,78.0L1095.0,77.7L1092.0,76.2L1089.7,75.0L1089.0,74.8L1086.0,73.8L1083.0,72.9L1080.0,72.0L1079.8,72.0L1077.0,71.4L1074.0,70.9L1071.0,70.3L1068.0,69.8L1065.0,69.3L1063.0,69.0L1062.0,68.9L1059.0,68.5L1056.0,68.1L1053.0,67.7L1050.0,67.3L1047.0,67.0L1044.0,66.6L1041.0,66.3L1038.0,66.0L1037.9,66.0L1035.0,65.8L1032.0,65.6L1029.0,65.4L1026.0,65.3L1023.0,65.2L1020.0,65.1L1017.0,65.1L1014.0,65.0L1011.0,65.1L1008.0,65.1L1005.0,65.2L1002.0,65.4L999.0,65.5L996.0,65.7L993.0,65.9ZM1113.0,189.0L1112.4,189.0L1110.0,189.2L1107.0,190.0L1104.0,191.1L1101.5,192.0L1101.0,192.2L1098.0,193.2L1095.0,194.3L1093.1,195.0L1092.0,195.4L1089.0,196.4L1086.0,197.6L1085.0,198.0L1083.0,198.8L1080.0,200.0L1077.7,201.0L1077.0,201.3L1074.0,202.6L1071.1,204.0L1071.0,204.1L1068.0,205.5L1065.1,207.0L1065.0,207.0L1062.0,208.6L1059.5,210.0L1059.0,210.3L1056.0,212.0L1054.4,213.0L1053.0,213.9L1050.0,215.6L1049.4,216.0L1047.0,217.4L1045.0,219.0L1044.0,220.3L1043.2,222.0L1042.8,225.0L1043.7,228.0L1044.0,228.6L1045.5,231.0L1047.0,233.0L1047.7,234.0L1050.0,236.9L1050.1,237.0L1052.5,240.0L1053.0,240.6L1054.9,243.0L1056.0,244.3L1057.2,246.0L1059.0,248.3L1059.5,249.0L1061.5,252.0L1062.0,252.7L1063.4,255.0L1065.0,257.6L1065.2,258.0L1066.2,261.0L1066.6,264.0L1066.3,267.0L1065.2,270.0L1065.0,270.3L1062.0,272.7L1061.3,273.0L1059.0,273.8L1056.0,274.4L1053.0,274.6L1050.0,274.8L1047.0,274.9L1044.0,274.9L1041.0,274.9L1038.0,274.9L1035.0,275.0L1032.0,275.0L1029.0,275.1L1026.0,275.3L1023.0,275.4L1020.0,275.6L1017.0,275.7L1014.0,275.7L1011.0,275.8L1008.0,275.9L1005.8,276.0L1005.0,276.0L1002.0,276.3L999.0,276.7L996.0,277.3L993.0,278.1L990.6,279.0L990.0,279.2L987.0,280.9L985.5,282.0L984.0,283.2L982.0,285.0L981.0,285.9L979.0,288.0L978.0,289.0L976.1,291.0L975.0,292.1L972.9,294.0L972.0,294.8L969.2,297.0L969.0,297.1L966.0,298.9L963.9,300.0L963.0,300.5L960.0,301.8L957.0,302.9L956.7,303.0L954.0,303.9L951.0,304.9L948.0,305.9L947.6,306.0L945.0,306.8L942.0,307.6L939.0,308.5L937.0,309.0L936.0,309.3L933.0,310.1L930.0,311.0L927.0,311.8L926.3,312.0L924.0,312.8L921.0,313.6L918.0,314.5L916.4,315.0L915.0,315.4L912.0,316.4L909.0,317.3L906.5,318.0L906.0,318.1L903.0,319.1L900.0,320.0L897.0,320.8L896.3,321.0L894.0,321.7L891.0,322.6L888.0,323.7L887.6,324.0L885.6,327.0L885.0,329.0L884.7,330.0L884.4,333.0L884.5,336.0L884.5,339.0L885.0,342.0L885.0,342.1L885.9,345.0L886.0,348.0L885.0,348.5L882.0,348.6L879.0,348.8L876.0,349.0L873.0,349.3L870.0,349.5L867.0,349.8L864.0,350.0L861.0,350.1L858.0,350.4L855.0,350.6L852.0,350.8L849.0,351.0L848.6,351.0L846.0,351.2L843.0,351.4L840.0,351.6L837.0,351.8L834.0,352.0L831.0,352.2L828.0,352.4L825.0,352.6L822.0,352.7L819.0,352.9L816.0,353.1L813.0,353.2L810.0,353.4L807.0,353.6L804.0,353.8L801.0,354.0L800.4,354.0L798.0,354.2L795.0,354.4L792.0,354.7L789.0,355.0L786.0,355.3L783.0,355.6L780.0,355.9L777.0,356.2L774.0,356.5L771.0,356.8L769.6,357.0L768.0,357.2L765.0,357.6L762.0,358.0L759.0,358.4L756.0,358.8L753.0,359.2L750.0,359.6L747.1,360.0L747.0,360.0L744.0,360.5L741.0,361.0L738.0,361.5L735.0,362.0L732.0,362.5L729.4,363.0L729.0,363.1L726.0,363.7L723.0,364.4L720.0,365.0L717.0,365.7L716.0,366.0L714.0,366.5L711.0,367.4L708.0,368.2L705.3,369.0L705.0,369.1L702.0,370.1L699.0,371.0L696.1,372.0L696.0,372.0L693.0,373.3L690.0,374.6L687.0,374.8L684.0,373.8L681.0,373.9L678.0,374.5L676.8,375.0L675.0,376.2L672.0,377.6L671.2,378.0L669.0,379.7L666.0,380.8L665.8,381.0L666.0,382.1L669.0,381.9L672.0,381.2L672.5,381.0L675.0,379.0L678.0,378.3L679.1,378.0L681.0,376.1L684.0,375.7L687.0,375.1L690.0,376.2L690.4,378.0L690.7,381.0L690.0,382.3L689.5,384.0L687.0,386.3L686.1,387.0L684.0,388.0L681.0,389.4L680.3,390.0L678.2,393.0L678.0,393.3L676.2,396.0L675.0,397.9L674.1,399.0L672.0,402.0L672.0,402.1L670.0,405.0L669.0,406.7L668.0,408.0L666.3,411.0L666.0,411.7L664.5,414.0L663.2,417.0L663.0,418.7L662.2,420.0L663.0,421.4L663.7,423.0L664.1,426.0L664.8,429.0L666.0,431.8L666.1,432.0L666.0,432.4L663.0,434.9L660.0,433.6L658.5,432.0L658.6,429.0L659.8,426.0L660.0,425.8L661.4,423.0L660.0,422.2L658.1,423.0L657.0,424.2L654.0,425.1L651.0,425.8L648.0,425.7L645.0,426.0L642.0,425.5L639.0,425.0L636.0,424.5L633.0,424.1L630.0,423.6L627.0,423.2L624.0,423.0L623.4,423.0L621.0,422.7L618.0,422.9L615.0,422.7L613.4,423.0L612.0,423.3L609.0,423.2L606.0,424.2L603.0,425.0L600.0,425.7L597.0,425.5L595.7,426.0L594.0,428.2L593.8,429.0L593.9,432.0L593.4,435.0L592.2,438.0L591.9,441.0L591.0,444.0L591.0,444.1L589.7,444.0L588.0,444.0L587.9,444.0L585.0,444.4L582.0,445.2L579.0,446.0L576.0,446.8L575.2,447.0L573.0,447.7L570.0,448.8L567.2,450.0L567.0,450.2L565.1,453.0L564.9,456.0L566.9,459.0L567.0,459.0L570.0,460.5L573.0,461.3L576.0,461.6L579.0,461.3L582.0,460.7L585.0,459.7L586.8,459.0L588.0,458.1L590.9,456.0L591.0,455.8L593.9,453.0L594.0,452.6L594.1,453.0L597.0,455.0L598.0,456.0L600.0,456.8L603.0,457.7L606.0,458.3L609.0,458.5L612.0,458.5L615.0,458.1L618.0,458.1L621.0,456.7L623.4,456.0L624.0,456.0L627.0,455.4L630.0,454.9L632.4,453.0L633.0,452.8L636.0,452.4L639.0,451.2L642.0,450.0L642.1,450.0L645.0,448.9L648.0,447.7L650.0,447.0L651.0,446.5L654.0,445.5L657.0,444.3L659.0,444.0L660.0,443.6L663.0,441.8L666.0,441.2L667.1,441.0L669.0,440.1L672.0,439.4L675.0,438.6L678.0,438.0L678.1,438.0L681.0,437.0L683.2,435.0L684.0,434.7L687.0,433.2L689.1,432.0L690.0,431.7L693.0,430.3L695.5,429.0L696.0,428.8L699.0,427.3L701.2,426.0L702.0,425.6L705.0,424.0L706.8,423.0L708.0,422.3L711.0,420.7L712.4,420.0L714.0,419.2L717.0,417.6L718.3,417.0L720.0,416.2L723.0,414.9L725.3,414.0L726.0,413.7L729.0,412.8L732.0,412.0L735.0,411.5L738.0,411.1L738.7,411.0L741.0,410.8L744.0,410.7L747.0,410.5L750.0,410.4L753.0,410.3L756.0,410.2L759.0,410.1L762.0,410.1L765.0,410.0L768.0,410.0L771.0,410.1L774.0,410.1L777.0,410.2L780.0,410.2L783.0,410.3L786.0,410.4L789.0,410.4L792.0,410.5L795.0,410.6L798.0,410.7L801.0,410.8L804.0,410.9L807.0,411.0L807.3,411.0L810.0,411.1L813.0,411.3L816.0,411.6L819.0,411.9L822.0,412.3L825.0,412.8L828.0,413.6L829.1,414.0L831.0,414.7L834.0,415.8L837.0,416.9L837.3,417.0L840.0,418.0L843.0,419.1L845.3,420.0L846.0,420.3L849.0,421.5L852.0,422.7L853.0,423.0L855.0,423.8L858.0,424.7L861.0,425.4L864.0,425.9L867.0,426.0L870.0,425.8L873.0,425.5L876.0,425.3L879.0,424.7L882.0,423.6L884.8,423.0L885.0,422.9L887.8,420.0L888.0,419.7L891.0,417.2L891.3,417.0L894.0,415.7L897.0,414.1L897.2,414.0L900.0,412.6L903.0,411.2L903.3,411.0L906.0,409.8L909.0,408.5L910.2,408.0L912.0,407.4L915.0,406.3L918.0,405.4L919.2,405.0L921.0,404.5L924.0,403.7L927.0,403.1L930.0,402.5L933.0,402.1L934.4,402.0L936.0,401.9L939.0,401.7L942.0,401.7L945.0,401.9L946.2,402.0L948.0,402.2L951.0,402.5L954.0,403.0L957.0,403.4L960.0,403.8L963.0,404.2L966.0,404.5L969.0,404.8L971.3,405.0L972.0,405.0L975.0,405.2L978.0,405.3L981.0,405.5L984.0,405.5L987.0,405.6L990.0,405.7L993.0,405.8L996.0,405.8L999.0,405.9L1002.0,405.9L1005.0,405.9L1008.0,406.0L1011.0,406.0L1014.0,406.0L1017.0,406.0L1020.0,406.0L1023.0,406.0L1026.0,406.0L1029.0,406.0L1032.0,406.0L1035.0,406.0L1038.0,406.0L1041.0,406.0L1044.0,405.9L1047.0,405.9L1050.0,405.9L1053.0,405.9L1056.0,405.9L1059.0,405.8L1062.0,405.8L1065.0,405.8L1068.0,405.8L1071.0,405.8L1074.0,405.6L1077.0,405.6L1080.0,405.6L1083.0,405.5L1086.0,405.5L1089.0,405.4L1092.0,405.4L1095.0,405.4L1098.0,405.3L1101.0,405.2L1104.0,405.2L1106.8,405.0L1107.0,405.0L1110.0,404.4L1113.0,404.5L1115.2,405.0L1116.0,405.2L1119.0,406.0L1122.0,406.8L1125.0,407.6L1126.4,408.0L1128.0,408.4L1131.0,409.2L1134.0,409.9L1137.0,410.6L1138.9,411.0L1140.0,411.2L1143.0,411.9L1146.0,412.5L1149.0,413.1L1152.0,413.7L1153.2,414.0L1155.0,414.4L1158.0,415.0L1161.0,415.6L1164.0,416.2L1167.0,416.9L1167.6,417.0L1170.0,417.4L1173.0,418.0L1176.0,418.5L1179.0,419.0L1182.0,419.5L1185.0,419.9L1185.6,420.0L1188.0,420.3L1191.0,420.5L1194.0,420.6L1197.0,420.6L1200.0,420.5L1203.0,420.1L1203.5,420.0L1206.0,419.5L1209.0,418.6L1212.0,417.4L1212.6,417.0L1215.0,415.6L1217.2,414.0L1218.0,413.4L1220.8,411.0L1221.0,410.8L1224.0,408.0L1224.0,408.0L1226.8,405.0L1227.0,404.8L1229.3,402.0L1230.0,401.2L1231.6,399.0L1233.0,397.0L1233.6,396.0L1235.4,393.0L1236.0,391.8L1236.9,390.0L1238.1,387.0L1239.0,384.7L1239.2,384.0L1240.1,381.0L1240.7,378.0L1241.1,375.0L1241.3,372.0L1241.4,369.0L1241.4,366.0L1241.4,363.0L1241.3,360.0L1241.1,357.0L1240.9,354.0L1240.7,351.0L1240.5,348.0L1240.2,345.0L1239.9,342.0L1239.7,339.0L1239.4,336.0L1239.2,333.0L1239.0,331.3L1238.9,330.0L1238.4,327.0L1237.6,324.0L1236.9,321.0L1236.3,318.0L1236.0,316.5L1235.7,315.0L1235.0,312.0L1234.3,309.0L1233.7,306.0L1233.0,303.1L1233.0,303.0L1232.2,300.0L1231.4,297.0L1230.5,294.0L1230.0,292.2L1229.6,291.0L1228.6,288.0L1227.6,285.0L1227.0,283.1L1226.6,282.0L1225.5,279.0L1224.4,276.0L1224.0,275.0L1223.2,273.0L1221.9,270.0L1221.0,267.8L1220.6,267.0L1219.2,264.0L1218.0,261.4L1217.8,261.0L1216.2,258.0L1215.0,255.6L1214.7,255.0L1213.0,252.0L1212.0,250.3L1211.2,249.0L1209.4,246.0L1209.0,245.3L1207.5,243.0L1206.0,240.6L1205.6,240.0L1203.5,237.0L1203.0,236.3L1201.3,234.0L1200.0,232.3L1198.9,231.0L1197.0,228.6L1196.4,228.0L1194.0,225.3L1193.6,225.0L1191.0,222.4L1190.5,222.0L1188.0,219.8L1187.0,219.0L1185.0,217.4L1183.2,216.0L1182.0,215.1L1179.1,213.0L1179.0,212.9L1176.0,210.8L1174.8,210.0L1173.0,208.7L1170.6,207.0L1170.0,206.5L1167.0,204.2L1166.7,204.0L1164.0,201.8L1163.0,201.0L1161.0,199.4L1159.3,198.0L1158.0,197.0L1155.3,195.0L1155.0,194.7L1152.0,192.8L1150.6,192.0L1149.0,191.2L1146.0,189.9L1143.1,189.0L1143.0,189.0L1140.0,188.4L1137.0,188.1L1134.0,187.9L1131.0,187.9L1128.0,187.9L1125.0,188.1L1122.0,188.3L1119.0,188.5L1116.0,188.7L1113.0,189.0ZM1117.9,540.0L1119.0,539.9L1122.0,539.4L1125.0,539.0L1128.0,538.7L1131.0,538.3L1134.0,538.1L1137.0,537.9L1140.0,537.8L1143.0,537.9L1146.0,538.2L1149.0,538.6L1152.0,539.1L1155.0,539.6L1156.8,540.0L1158.0,540.3L1161.0,541.1L1164.0,541.9L1167.0,542.7L1168.1,543.0L1170.0,543.6L1173.0,544.7L1176.0,545.6L1177.0,546.0L1179.0,547.4L1180.3,549.0L1181.6,552.0L1180.2,555.0L1179.0,556.0L1176.0,558.0L1176.0,558.0L1173.0,559.4L1170.0,560.5L1168.2,561.0L1167.0,561.3L1164.0,561.7L1161.0,562.0L1158.0,562.0L1155.0,561.9L1152.0,561.7L1149.0,561.5L1146.0,561.3L1143.2,561.0L1143.0,561.0L1140.0,560.6L1137.0,560.3L1134.0,559.9L1131.0,559.5L1128.0,559.2L1125.0,558.7L1122.0,558.4L1119.0,558.0L1118.9,558.0L1116.0,557.5L1113.0,557.1L1110.0,556.6L1107.0,556.0L1104.0,555.3L1102.7,555.0L1101.0,554.2L1098.0,552.7L1097.3,552.0L1097.8,549.0L1098.0,548.7L1101.0,546.6L1102.5,546.0L1104.0,545.3L1107.0,543.8L1108.3,543.0L1110.0,542.0L1113.0,540.9L1116.0,540.3L1117.9,540.0ZM425.9,633.0L426.0,632.9L429.0,631.6L432.0,631.4L435.0,631.5L438.0,631.1L441.0,631.0L444.0,631.8L445.3,633.0L447.0,635.2L447.5,636.0L448.7,639.0L449.8,642.0L450.0,642.9L450.3,645.0L450.6,648.0L450.8,651.0L450.0,651.3L449.4,651.0L447.0,648.9L444.6,648.0L444.0,647.2L442.8,648.0L441.0,648.9L438.0,648.9L435.0,648.3L433.6,648.0L432.0,647.4L431.4,645.0L430.7,642.0L432.0,639.6L432.5,639.0L432.0,637.1L429.0,636.0L429.0,636.0L426.0,633.0L425.9,633.0Z" fill="#0000d6" fill-rule="evenodd"/><path d="M18.6,-3.0L21.0,-5.7L21.4,-6.0L24.0,-6.0L27.0,-6.0L30.0,-6.0L33.0,-6.0L36.0,-6.0L39.0,-6.0L42.0,-6.0L45.0,-6.0L48.0,-6.0L51.0,-6.0L54.0,-6.0L57.0,-6.0L60.0,-6.0L63.0,-6.0L66.0,-6.0L69.0,-6.0L72.0,-6.0L75.0,-6.0L78.0,-6.0L81.0,-6.0L84.0,-6.0L87.0,-6.0L90.0,-6.0L93.0,-6.0L96.0,-6.0L99.0,-6.0L102.0,-6.0L105.0,-6.0L108.0,-6.0L111.0,-6.0L114.0,-6.0L117.0,-6.0L120.0,-6.0L123.0,-6.0L126.0,-6.0L129.0,-6.0L132.0,-6.0L135.0,-6.0L138.0,-6.0L141.0,-6.0L144.0,-6.0L147.0,-6.0L150.0,-6.0L153.0,-6.0L156.0,-6.0L159.0,-6.0L162.0,-6.0L165.0,-6.0L168.0,-6.0L171.0,-6.0L174.0,-6.0L177.0,-6.0L180.0,-6.0L183.0,-6.0L186.0,-6.0L189.0,-6.0L192.0,-6.0L195.0,-6.0L198.0,-6.0L201.0,-6.0L204.0,-6.0L207.0,-6.0L210.0,-6.0L213.0,-6.0L216.0,-6.0L219.0,-6.0L222.0,-6.0L225.0,-6.0L228.0,-6.0L231.0,-6.0L234.0,-6.0L237.0,-6.0L240.0,-6.0L243.0,-6.0L246.0,-6.0L249.0,-6.0L252.0,-6.0L255.0,-6.0L258.0,-6.0L261.0,-6.0L264.0,-6.0L267.0,-6.0L270.0,-6.0L273.0,-6.0L276.0,-6.0L279.0,-6.0L282.0,-6.0L285.0,-6.0L288.0,-6.0L291.0,-6.0L294.0,-6.0L297.0,-6.0L300.0,-6.0L303.0,-6.0L306.0,-6.0L309.0,-6.0L312.0,-6.0L315.0,-6.0L318.0,-6.0L321.0,-6.0L324.0,-6.0L327.0,-6.0L330.0,-6.0L333.0,-6.0L336.0,-6.0L339.0,-6.0L342.0,-6.0L345.0,-6.0L348.0,-6.0L351.0,-6.0L354.0,-6.0L357.0,-6.0L360.0,-6.0L363.0,-6.0L366.0,-6.0L369.0,-6.0L372.0,-6.0L375.0,-6.0L378.0,-6.0L381.0,-6.0L384.0,-6.0L387.0,-6.0L390.0,-6.0L393.0,-6.0L396.0,-6.0L399.0,-6.0L402.0,-6.0L405.0,-6.0L408.0,-6.0L411.0,-6.0L414.0,-6.0L417.0,-6.0L420.0,-6.0L423.0,-6.0L426.0,-6.0L429.0,-6.0L432.0,-6.0L435.0,-6.0L438.0,-6.0L441.0,-6.0L444.0,-6.0L447.0,-6.0L450.0,-6.0L453.0,-6.0L456.0,-6.0L459.0,-6.0L462.0,-6.0L465.0,-6.0L468.0,-6.0L471.0,-6.0L474.0,-6.0L477.0,-6.0L480.0,-6.0L483.0,-6.0L486.0,-6.0L489.0,-6.0L492.0,-6.0L495.0,-6.0L498.0,-6.0L501.0,-6.0L504.0,-6.0L507.0,-6.0L510.0,-6.0L513.0,-6.0L516.0,-6.0L519.0,-6.0L522.0,-6.0L525.0,-6.0L528.0,-6.0L531.0,-6.0L534.0,-6.0L537.0,-6.0L540.0,-6.0L543.0,-6.0L546.0,-6.0L549.0,-6.0L552.0,-6.0L555.0,-6.0L558.0,-6.0L561.0,-6.0L564.0,-6.0L567.0,-6.0L570.0,-6.0L573.0,-6.0L576.0,-6.0L579.0,-6.0L582.0,-6.0L585.0,-6.0L588.0,-6.0L591.0,-6.0L594.0,-6.0L597.0,-6.0L600.0,-6.0L603.0,-6.0L606.0,-6.0L609.0,-6.0L612.0,-6.0L615.0,-6.0L618.0,-6.0L621.0,-6.0L624.0,-6.0L627.0,-6.0L630.0,-6.0L633.0,-6.0L636.0,-6.0L639.0,-6.0L642.0,-6.0L645.0,-6.0L648.0,-6.0L651.0,-6.0L654.0,-6.0L657.0,-6.0L660.0,-6.0L663.0,-6.0L666.0,-6.0L669.0,-6.0L672.0,-6.0L675.0,-6.0L678.0,-6.0L681.0,-6.0L684.0,-6.0L687.0,-6.0L690.0,-6.0L693.0,-6.0L696.0,-6.0L699.0,-6.0L702.0,-6.0L705.0,-6.0L708.0,-6.0L711.0,-6.0L714.0,-6.0L717.0,-6.0L720.0,-6.0L723.0,-6.0L726.0,-6.0L729.0,-6.0L732.0,-6.0L735.0,-6.0L738.0,-6.0L741.0,-6.0L744.0,-6.0L747.0,-6.0L750.0,-6.0L753.0,-6.0L756.0,-6.0L759.0,-6.0L762.0,-6.0L765.0,-6.0L768.0,-6.0L771.0,-6.0L774.0,-6.0L777.0,-6.0L780.0,-6.0L783.0,-6.0L786.0,-6.0L789.0,-6.0L792.0,-6.0L795.0,-6.0L798.0,-6.0L801.0,-6.0L804.0,-6.0L807.0,-6.0L810.0,-6.0L813.0,-6.0L816.0,-6.0L819.0,-6.0L822.0,-6.0L825.0,-6.0L828.0,-6.0L831.0,-6.0L834.0,-6.0L837.0,-6.0L840.0,-6.0L843.0,-6.0L846.0,-6.0L849.0,-6.0L852.0,-6.0L855.0,-6.0L858.0,-6.0L861.0,-6.0L864.0,-6.0L867.0,-6.0L870.0,-6.0L873.0,-6.0L876.0,-6.0L879.0,-6.0L882.0,-6.0L885.0,-6.0L888.0,-6.0L891.0,-6.0L894.0,-6.0L897.0,-6.0L900.0,-6.0L903.0,-6.0L906.0,-6.0L909.0,-6.0L912.0,-6.0L915.0,-6.0L918.0,-6.0L921.0,-6.0L924.0,-6.0L927.0,-6.0L930.0,-6.0L933.0,-6.0L936.0,-6.0L939.0,-6.0L942.0,-6.0L945.0,-6.0L948.0,-6.0L951.0,-6.0L954.0,-6.0L957.0,-6.0L960.0,-6.0L963.0,-6.0L966.0,-6.0L969.0,-6.0L972.0,-6.0L975.0,-6.0L978.0,-6.0L981.0,-6.0L984.0,-6.0L987.0,-6.0L990.0,-6.0L993.0,-6.0L996.0,-6.0L999.0,-6.0L1002.0,-6.0L1005.0,-6.0L1008.0,-6.0L1011.0,-6.0L1014.0,-6.0L1017.0,-6.0L1020.0,-6.0L1023.0,-6.0L1026.0,-6.0L1029.0,-6.0L1032.0,-6.0L1035.0,-6.0L1038.0,-6.0L1041.0,-6.0L1044.0,-6.0L1047.0,-6.0L1050.0,-6.0L1053.0,-6.0L1056.0,-6.0L1059.0,-6.0L1062.0,-6.0L1065.0,-6.0L1068.0,-6.0L1071.0,-6.0L1074.0,-6.0L1077.0,-6.0L1080.0,-6.0L1083.0,-6.0L1086.0,-6.0L1089.0,-6.0L1092.0,-6.0L1095.0,-6.0L1098.0,-6.0L1101.0,-6.0L1104.0,-6.0L1107.0,-6.0L1110.0,-6.0L1113.0,-6.0L1116.0,-6.0L1119.0,-6.0L1122.0,-6.0L1125.0,-6.0L1128.0,-6.0L1131.0,-6.0L1134.0,-6.0L1137.0,-6.0L1140.0,-6.0L1143.0,-6.0L1146.0,-6.0L1149.0,-6.0L1152.0,-6.0L1155.0,-6.0L1158.0,-6.0L1161.0,-6.0L1164.0,-6.0L1167.0,-6.0L1170.0,-6.0L1173.0,-6.0L1176.0,-6.0L1179.0,-6.0L1182.0,-6.0L1185.0,-6.0L1188.0,-6.0L1191.0,-6.0L1194.0,-6.0L1197.0,-6.0L1200.0,-6.0L1203.0,-6.0L1206.0,-6.0L1209.0,-6.0L1212.0,-6.0L1215.0,-6.0L1218.0,-6.0L1221.0,-6.0L1224.0,-6.0L1227.0,-6.0L1230.0,-6.0L1233.0,-6.0L1236.0,-6.0L1239.0,-6.0L1242.0,-6.0L1245.0,-6.0L1248.0,-6.0L1251.0,-6.0L1254.0,-6.0L1257.0,-6.0L1260.0,-6.0L1263.0,-6.0L1266.0,-6.0L1269.0,-6.0L1272.0,-6.0L1275.0,-6.0L1278.0,-6.0L1281.0,-6.0L1284.0,-6.0L1287.0,-6.0L1290.0,-6.0L1293.0,-6.0L1296.0,-6.0L1299.0,-6.0L1302.0,-6.0L1305.0,-6.0L1308.0,-6.0L1311.0,-6.0L1314.0,-6.0L1317.0,-6.0L1320.0,-6.0L1323.0,-6.0L1326.0,-6.0L1329.0,-6.0L1332.0,-6.0L1335.0,-6.0L1338.0,-6.0L1338.0,-3.0L1338.0,0.0L1338.0,3.0L1338.0,6.0L1338.0,9.0L1338.0,12.0L1338.0,15.0L1338.0,18.0L1338.0,21.0L1338.0,24.0L1338.0,27.0L1338.0,30.0L1338.0,33.0L1338.0,36.0L1338.0,39.0L1338.0,42.0L1338.0,45.0L1338.0,48.0L1338.0,51.0L1338.0,54.0L1338.0,57.0L1338.0,60.0L1338.0,63.0L1338.0,66.0L1338.0,69.0L1338.0,72.0L1338.0,75.0L1338.0,78.0L1338.0,81.0L1338.0,84.0L1338.0,87.0L1338.0,90.0L1338.0,93.0L1338.0,96.0L1338.0,99.0L1338.0,102.0L1338.0,105.0L1338.0,108.0L1338.0,111.0L1338.0,114.0L1338.0,117.0L1338.0,120.0L1338.0,123.0L1338.0,126.0L1338.0,129.0L1338.0,132.0L1338.0,135.0L1338.0,138.0L1338.0,141.0L1338.0,144.0L1338.0,147.0L1338.0,150.0L1338.0,153.0L1338.0,156.0L1338.0,159.0L1338.0,162.0L1338.0,165.0L1338.0,168.0L1338.0,171.0L1338.0,174.0L1338.0,177.0L1338.0,180.0L1338.0,183.0L1338.0,186.0L1338.0,189.0L1338.0,192.0L1338.0,195.0L1338.0,198.0L1338.0,201.0L1338.0,204.0L1338.0,207.0L1338.0,210.0L1338.0,213.0L1338.0,216.0L1338.0,219.0L1338.0,222.0L1338.0,225.0L1338.0,228.0L1338.0,231.0L1338.0,234.0L1338.0,237.0L1338.0,240.0L1338.0,243.0L1338.0,246.0L1338.0,249.0L1338.0,252.0L1338.0,255.0L1338.0,258.0L1338.0,261.0L1338.0,264.0L1338.0,267.0L1338.0,270.0L1338.0,273.0L1338.0,276.0L1338.0,279.0L1338.0,282.0L1338.0,285.0L1338.0,288.0L1338.0,291.0L1338.0,294.0L1338.0,297.0L1338.0,300.0L1338.0,303.0L1338.0,306.0L1338.0,309.0L1338.0,312.0L1338.0,315.0L1338.0,318.0L1338.0,321.0L1338.0,324.0L1338.0,327.0L1338.0,330.0L1338.0,333.0L1338.0,336.0L1338.0,339.0L1338.0,342.0L1338.0,345.0L1338.0,348.0L1338.0,351.0L1338.0,354.0L1338.0,357.0L1338.0,360.0L1338.0,363.0L1338.0,366.0L1338.0,369.0L1338.0,372.0L1338.0,375.0L1338.0,378.0L1338.0,381.0L1338.0,384.0L1338.0,387.0L1338.0,390.0L1338.0,393.0L1338.0,396.0L1338.0,399.0L1338.0,402.0L1338.0,405.0L1338.0,408.0L1338.0,411.0L1338.0,414.0L1338.0,417.0L1338.0,420.0L1338.0,423.0L1338.0,426.0L1338.0,429.0L1338.0,432.0L1338.0,435.0L1338.0,438.0L1338.0,441.0L1338.0,444.0L1338.0,447.0L1338.0,450.0L1338.0,453.0L1338.0,456.0L1338.0,459.0L1338.0,462.0L1338.0,465.0L1338.0,468.0L1338.0,471.0L1338.0,474.0L1338.0,477.0L1338.0,480.0L1338.0,483.0L1338.0,486.0L1338.0,489.0L1338.0,492.0L1338.0,495.0L1338.0,498.0L1338.0,501.0L1338.0,504.0L1338.0,507.0L1338.0,510.0L1338.0,513.0L1338.0,516.0L1338.0,516.0L1338.0,516.0L1335.3,513.0L1335.0,512.6L1332.7,510.0L1332.0,509.1L1330.4,507.0L1329.0,505.1L1328.3,504.0L1326.2,501.0L1326.0,500.7L1324.1,498.0L1323.0,496.4L1322.0,495.0L1320.0,492.2L1319.9,492.0L1317.7,489.0L1317.0,488.0L1315.5,486.0L1314.0,483.9L1313.3,483.0L1311.0,480.0L1311.0,480.0L1308.7,477.0L1308.0,476.2L1306.1,474.0L1305.0,472.9L1303.1,471.0L1302.0,469.9L1299.8,468.0L1299.0,467.3L1296.3,465.0L1296.0,464.8L1293.0,462.2L1292.8,462.0L1290.0,459.3L1289.7,459.0L1287.0,456.1L1286.9,456.0L1284.7,453.0L1284.0,451.9L1282.8,450.0L1281.3,447.0L1281.0,446.4L1279.9,444.0L1278.7,441.0L1278.0,439.0L1277.6,438.0L1276.7,435.0L1275.7,432.0L1275.0,429.3L1274.9,429.0L1274.1,426.0L1273.4,423.0L1272.7,420.0L1272.1,417.0L1272.0,416.7L1271.4,414.0L1270.8,411.0L1270.2,408.0L1269.7,405.0L1269.1,402.0L1269.0,401.6L1268.5,399.0L1268.0,396.0L1267.5,393.0L1267.0,390.0L1266.5,387.0L1266.1,384.0L1266.0,383.6L1265.6,381.0L1265.3,378.0L1264.9,375.0L1264.5,372.0L1264.1,369.0L1263.8,366.0L1263.4,363.0L1263.0,360.0L1263.0,359.7L1262.7,357.0L1262.4,354.0L1262.0,351.0L1261.7,348.0L1261.4,345.0L1261.0,342.0L1260.7,339.0L1260.4,336.0L1260.1,333.0L1260.0,332.6L1259.6,330.0L1258.9,327.0L1258.0,324.0L1257.2,321.0L1257.0,320.2L1256.4,318.0L1255.7,315.0L1254.9,312.0L1254.1,309.0L1254.0,308.4L1253.4,306.0L1252.6,303.0L1251.8,300.0L1251.0,297.0L1251.0,297.0L1250.2,294.0L1249.4,291.0L1248.5,288.0L1248.0,286.1L1247.7,285.0L1246.8,282.0L1245.9,279.0L1245.0,276.0L1245.0,276.0L1244.1,273.0L1243.2,270.0L1242.2,267.0L1242.0,266.4L1241.2,264.0L1240.3,261.0L1239.3,258.0L1239.0,257.1L1238.3,255.0L1237.3,252.0L1236.3,249.0L1236.0,248.1L1235.3,246.0L1234.3,243.0L1233.3,240.0L1233.0,239.1L1232.3,237.0L1231.3,234.0L1230.3,231.0L1230.0,230.1L1229.3,228.0L1228.3,225.0L1227.3,222.0L1227.0,221.2L1226.2,219.0L1225.2,216.0L1224.1,213.0L1224.0,212.8L1222.9,210.0L1221.8,207.0L1221.0,205.1L1220.5,204.0L1219.2,201.0L1218.0,198.5L1217.8,198.0L1216.3,195.0L1215.0,192.5L1214.8,192.0L1213.3,189.0L1212.0,186.4L1211.8,186.0L1210.5,183.0L1209.2,180.0L1209.0,179.3L1208.2,177.0L1207.2,174.0L1206.5,171.0L1206.0,168.0L1206.0,168.0L1205.9,165.0L1206.0,164.0L1206.1,162.0L1206.5,159.0L1207.1,156.0L1207.7,153.0L1208.6,150.0L1209.0,148.8L1209.7,147.0L1211.1,144.0L1212.0,142.4L1212.9,141.0L1215.0,138.5L1215.6,138.0L1218.0,135.9L1219.1,135.0L1221.0,133.6L1223.4,132.0L1224.0,131.6L1227.0,129.5L1227.7,129.0L1230.0,127.2L1231.3,126.0L1233.0,124.3L1234.1,123.0L1236.0,120.5L1236.3,120.0L1238.3,117.0L1239.0,115.7L1239.9,114.0L1241.2,111.0L1242.0,108.3L1242.1,108.0L1242.3,105.0L1242.0,102.1L1242.0,102.0L1240.9,99.0L1239.4,96.0L1239.0,95.4L1237.3,93.0L1236.0,91.4L1234.8,90.0L1233.0,88.1L1231.9,87.0L1230.0,85.2L1228.7,84.0L1227.0,82.6L1224.9,81.0L1224.0,80.3L1221.0,78.3L1220.6,78.0L1218.0,76.4L1215.5,75.0L1215.0,74.7L1212.0,73.1L1209.9,72.0L1209.0,71.5L1206.0,70.0L1203.9,69.0L1203.0,68.6L1200.0,67.2L1197.6,66.0L1197.0,65.7L1194.0,64.3L1191.3,63.0L1191.0,62.8L1188.0,61.4L1185.1,60.0L1185.0,59.9L1182.0,58.6L1179.0,57.2L1178.4,57.0L1176.0,56.0L1173.0,54.9L1170.6,54.0L1170.0,53.8L1167.0,52.9L1164.0,52.0L1161.0,51.3L1159.8,51.0L1158.0,50.6L1155.0,50.0L1152.0,49.5L1149.0,49.0L1146.0,48.6L1143.0,48.2L1141.5,48.0L1140.0,47.8L1137.0,47.4L1134.0,47.0L1131.0,46.7L1128.0,46.4L1125.0,46.0L1122.0,45.7L1119.0,45.4L1116.0,45.1L1114.6,45.0L1113.0,44.7L1110.0,43.8L1107.0,42.7L1104.0,42.5L1101.0,42.4L1098.0,42.3L1095.0,42.2L1092.0,42.1L1090.3,42.0L1089.0,42.0L1086.0,41.8L1083.0,41.7L1080.0,41.6L1077.0,41.5L1074.0,41.4L1071.0,41.3L1068.0,41.2L1065.0,41.1L1062.0,41.0L1059.0,40.9L1056.0,40.8L1053.0,40.7L1050.0,40.6L1047.0,40.5L1044.0,40.4L1041.0,40.3L1038.0,40.3L1035.0,40.2L1032.0,40.1L1029.0,40.1L1026.0,40.1L1023.0,40.0L1020.0,40.0L1017.0,40.0L1014.0,40.0L1011.0,40.0L1008.0,40.0L1005.0,40.0L1002.0,40.0L999.0,40.0L996.0,40.0L993.0,40.1L990.0,40.1L987.0,40.2L984.0,40.2L981.0,40.3L978.0,40.3L975.0,40.4L972.0,40.5L969.0,40.6L966.0,40.6L963.0,40.7L960.0,40.8L957.0,40.9L954.0,41.0L951.0,41.1L948.0,41.2L945.0,41.4L942.0,41.5L939.0,41.6L936.0,41.8L933.0,41.9L931.8,42.0L930.0,42.1L927.0,42.2L924.0,42.4L921.0,42.5L918.0,42.7L915.0,42.8L912.0,43.0L909.0,43.2L906.0,43.3L903.0,43.5L900.0,43.7L897.0,43.8L894.0,44.1L891.0,44.4L888.5,45.0L888.0,45.3L885.0,47.8L884.2,48.0L882.0,48.2L879.0,48.3L876.0,48.5L873.0,48.7L870.0,48.8L867.0,49.0L864.0,49.2L861.0,49.4L858.0,49.6L855.0,49.8L852.0,50.0L849.0,50.3L846.0,50.5L843.0,50.8L841.0,51.0L840.0,51.1L837.0,51.4L834.0,51.7L831.0,52.0L828.0,52.3L825.0,52.6L822.0,52.9L819.0,53.2L816.0,53.6L813.0,53.9L812.5,54.0L810.0,54.3L807.0,54.7L804.0,55.1L801.0,55.5L798.0,56.0L795.0,56.5L792.1,57.0L792.0,57.0L789.0,57.6L786.0,58.2L783.0,58.9L780.0,59.6L778.5,60.0L777.0,60.4L774.0,61.1L771.0,62.0L768.0,62.8L767.4,63.0L765.0,63.7L762.0,64.6L759.0,65.6L757.8,66.0L756.0,66.6L753.0,67.7L750.0,68.9L749.6,69.0L747.0,70.1L744.0,71.5L743.1,72.0L741.0,73.2L738.5,75.0L738.0,75.4L736.0,78.0L735.0,80.3L734.7,81.0L734.4,84.0L734.6,87.0L735.0,89.1L735.2,90.0L736.3,93.0L737.6,96.0L738.0,96.8L739.2,99.0L740.7,102.0L741.0,102.6L742.3,105.0L744.0,108.0L744.0,108.1L745.8,111.0L747.0,112.8L747.8,114.0L749.9,117.0L750.0,117.1L751.9,120.0L753.0,122.0L753.5,123.0L754.7,126.0L755.3,129.0L755.3,132.0L754.9,135.0L754.1,138.0L753.2,141.0L753.0,141.8L752.3,144.0L751.4,147.0L750.5,150.0L750.0,151.8L749.6,153.0L748.6,156.0L747.7,159.0L747.0,161.5L746.8,162.0L746.1,165.0L745.4,168.0L744.8,171.0L744.3,174.0L744.2,177.0L744.6,180.0L745.4,183.0L746.9,186.0L747.0,186.2L748.6,189.0L750.0,191.0L750.6,192.0L752.9,195.0L753.0,195.1L755.3,198.0L756.0,198.8L758.1,201.0L759.0,201.9L761.3,204.0L762.0,204.6L764.8,207.0L765.0,207.2L768.0,209.9L768.1,210.0L770.9,213.0L771.0,213.2L772.6,216.0L773.7,219.0L773.6,222.0L771.0,224.9L770.4,225.0L768.0,225.3L765.4,225.0L765.0,224.9L762.0,224.1L759.0,223.2L756.0,222.2L755.3,222.0L753.0,221.2L750.0,220.2L747.0,219.3L745.7,219.0L744.0,218.5L741.0,217.7L738.0,217.1L735.0,216.7L732.0,216.5L729.0,216.4L726.0,216.4L723.0,216.3L720.0,216.2L717.0,216.9L714.0,217.5L711.0,218.1L708.0,218.6L706.6,219.0L705.0,219.4L702.0,220.2L699.0,221.2L696.0,221.9L695.8,222.0L693.0,223.2L690.0,224.1L688.1,225.0L687.0,225.5L684.0,226.5L681.0,227.9L680.7,228.0L678.0,229.1L675.0,230.6L673.7,231.0L672.0,231.7L669.0,233.3L666.8,234.0L666.0,234.5L663.4,237.0L663.0,237.4L660.0,239.9L659.8,240.0L657.0,242.2L656.2,243.0L654.0,245.3L653.5,246.0L651.8,249.0L651.0,251.1L650.8,252.0L650.7,255.0L651.0,256.3L651.5,258.0L653.1,261.0L654.0,262.1L656.0,264.0L657.0,264.8L659.7,267.0L660.0,267.2L663.0,268.6L665.7,270.0L666.0,270.1L669.0,270.9L672.0,271.7L675.0,272.8L675.5,273.0L678.0,273.4L681.0,273.9L684.0,274.4L687.0,275.1L690.0,275.8L691.2,276.0L693.0,276.1L696.0,276.4L699.0,276.4L702.0,276.7L705.0,276.7L708.0,276.9L711.0,276.8L714.0,277.1L717.0,277.1L720.0,278.1L723.0,277.3L726.0,277.3L729.0,277.6L732.0,278.0L735.0,278.5L738.0,278.9L739.0,279.0L741.0,279.2L744.0,279.6L747.0,279.9L750.0,280.2L753.0,280.7L756.0,281.1L759.0,281.6L760.9,282.0L762.0,282.2L765.0,282.9L768.0,283.7L771.0,284.7L771.9,285.0L774.0,285.8L777.0,287.1L778.9,288.0L780.0,288.5L783.0,290.1L784.4,291.0L786.0,292.1L788.8,294.0L789.0,294.2L792.0,296.6L792.5,297.0L795.0,299.5L795.4,300.0L797.5,303.0L798.0,304.5L798.5,306.0L799.0,309.0L798.8,312.0L801.0,314.5L801.4,315.0L804.0,316.5L804.7,318.0L805.5,321.0L805.1,324.0L804.0,326.4L803.5,327.0L801.0,327.8L798.0,328.3L795.0,328.6L792.0,328.9L789.0,328.3L786.9,330.0L786.0,330.1L783.0,331.4L780.0,332.1L777.0,332.8L776.2,333.0L774.0,333.3L771.0,333.8L768.0,334.2L765.0,334.7L762.0,335.1L759.0,335.6L756.5,336.0L756.0,336.1L753.0,336.5L750.0,336.9L747.0,337.4L744.0,337.9L741.0,338.4L738.0,338.9L737.7,339.0L735.0,339.5L732.0,340.1L729.0,340.7L726.0,341.4L723.6,342.0L723.0,342.2L720.0,342.9L717.0,343.7L714.0,344.5L712.2,345.0L711.0,345.4L708.0,346.3L705.0,347.3L703.1,348.0L702.0,348.4L699.0,349.6L696.2,351.0L696.0,351.1L693.0,352.7L690.6,354.0L690.0,354.4L687.0,356.2L685.8,357.0L684.0,358.2L681.7,360.0L681.0,360.5L678.0,363.0L678.0,363.0L675.0,365.6L674.6,366.0L672.0,368.2L671.2,369.0L669.0,370.9L667.8,372.0L666.0,373.3L663.0,374.6L661.7,375.0L660.0,375.5L657.0,377.0L655.4,378.0L654.0,379.7L652.8,381.0L651.6,384.0L651.4,387.0L652.7,390.0L651.0,390.8L648.0,391.4L645.0,391.9L642.0,392.2L639.0,392.5L636.0,392.7L633.0,392.9L632.0,393.0L630.0,393.1L627.0,393.3L624.0,393.6L621.0,393.9L618.0,394.3L615.0,394.8L612.0,395.4L609.6,396.0L609.0,396.1L606.0,396.8L603.0,397.6L600.0,398.5L598.8,399.0L597.0,399.6L594.0,401.0L592.0,402.0L591.0,402.5L588.0,404.6L587.5,405.0L585.0,407.2L584.1,408.0L582.0,410.3L581.3,411.0L579.0,413.7L578.7,414.0L576.2,417.0L576.0,417.2L574.1,420.0L573.0,421.9L572.7,423.0L572.6,426.0L572.2,429.0L571.4,432.0L570.0,434.3L569.6,435.0L567.0,437.3L566.0,438.0L564.0,439.0L561.0,440.3L559.7,441.0L558.0,442.4L555.7,444.0L555.0,444.6L552.0,446.8L551.8,447.0L549.0,449.5L548.3,450.0L546.0,452.0L544.7,453.0L543.0,454.5L540.8,456.0L540.0,456.7L537.0,458.9L536.8,459.0L534.0,461.8L533.8,462.0L532.5,465.0L532.6,468.0L534.0,470.3L534.6,471.0L537.0,473.3L537.9,474.0L540.0,475.6L542.0,477.0L543.0,477.8L546.0,479.7L546.4,480.0L549.0,482.0L550.7,483.0L552.0,484.5L554.6,486.0L555.0,487.0L558.0,488.3L559.9,489.0L561.0,491.6L561.1,492.0L561.0,492.3L558.9,495.0L559.8,498.0L560.7,501.0L561.0,501.8L561.6,504.0L562.3,507.0L562.6,510.0L562.7,513.0L562.6,516.0L562.2,519.0L561.4,522.0L561.0,522.8L560.0,525.0L558.0,528.0L558.0,528.0L555.1,531.0L555.0,531.1L552.0,533.3L551.0,534.0L549.0,535.1L546.0,536.8L545.5,537.0L543.0,538.0L540.0,539.6L539.0,540.0L537.0,540.7L534.0,542.0L531.5,543.0L531.0,543.2L528.0,543.5L527.6,543.0L527.5,540.0L526.8,537.0L525.0,534.6L524.6,534.0L522.0,532.3L519.0,531.4L516.0,531.2L513.0,531.8L510.0,532.9L508.2,534.0L507.0,534.9L504.8,537.0L504.0,538.3L502.9,540.0L502.1,543.0L502.2,546.0L503.2,549.0L504.0,551.7L505.1,552.0L504.0,552.1L501.0,553.1L498.0,554.2L496.1,555.0L495.0,555.3L492.0,556.2L489.0,557.3L486.9,558.0L486.0,558.3L483.0,559.3L480.0,560.3L478.1,561.0L477.0,561.4L474.0,562.4L471.0,563.4L469.4,564.0L468.0,564.5L465.0,565.5L462.0,566.5L460.6,567.0L459.0,567.5L456.0,568.5L453.0,569.5L451.6,570.0L450.0,570.5L447.0,571.4L444.0,572.3L441.8,573.0L441.0,573.2L438.0,574.1L435.0,574.9L432.0,575.7L430.8,576.0L429.0,576.4L426.0,577.1L423.0,577.7L420.0,578.3L417.0,578.8L415.5,579.0L414.0,579.3L411.0,579.7L408.0,580.1L405.0,580.6L402.0,580.9L399.0,581.3L396.0,581.7L393.5,582.0L393.0,582.1L390.0,582.7L387.0,583.6L384.0,584.5L382.1,585.0L381.0,585.3L378.0,586.2L375.0,587.1L372.0,587.9L371.8,588.0L369.0,588.8L366.0,589.7L363.0,590.6L361.5,591.0L360.0,591.4L357.0,592.3L354.0,593.2L351.0,594.0L351.0,594.0L348.0,594.9L345.0,595.7L342.0,596.6L340.4,597.0L339.0,597.4L336.0,598.4L333.0,599.3L330.7,600.0L330.0,600.2L327.0,601.3L324.0,602.2L321.5,603.0L321.0,603.2L318.0,604.2L315.0,605.1L312.0,605.9L311.6,606.0L309.0,606.7L306.0,607.5L303.0,608.2L300.0,608.8L298.8,609.0L297.0,609.3L294.0,609.8L291.0,610.2L288.0,610.5L285.0,610.8L282.0,610.9L279.0,611.1L276.0,611.2L273.0,611.2L270.0,611.3L267.0,611.3L264.0,611.3L261.0,611.3L258.0,611.2L255.0,611.2L252.0,611.1L249.0,611.1L246.0,611.0L243.0,610.9L240.0,610.8L237.0,610.7L234.0,610.7L231.0,610.6L228.0,610.4L225.0,610.0L223.0,609.0L222.8,606.0L222.0,605.2L219.0,603.4L217.1,603.0L216.0,602.9L213.0,602.6L210.0,602.3L207.0,602.0L204.0,601.8L201.0,601.5L198.0,601.2L195.0,600.9L192.0,600.6L189.0,600.3L186.5,600.0L186.0,600.0L183.0,599.7L180.0,599.4L177.0,599.1L174.0,598.8L171.0,598.4L168.0,598.1L165.0,597.8L162.0,597.4L159.0,597.0L158.8,597.0L156.0,596.7L153.0,596.3L150.0,595.9L147.0,595.6L144.0,595.2L141.0,594.8L138.0,594.4L135.0,594.0L134.7,594.0L132.0,593.7L129.0,593.3L126.0,592.9L123.0,592.5L120.0,592.1L117.0,591.7L114.0,591.2L112.6,591.0L111.0,590.8L108.0,590.3L105.0,589.8L102.0,589.3L99.0,588.8L96.0,588.3L94.6,588.0L93.0,587.7L90.0,587.1L87.0,586.4L84.0,585.8L81.0,585.0L80.9,585.0L78.0,584.3L75.0,583.5L72.0,582.7L69.5,582.0L69.0,581.9L66.0,581.0L63.0,580.1L60.0,579.1L59.6,579.0L57.0,578.1L54.0,577.1L51.0,576.0L50.9,576.0L48.0,574.9L45.0,573.7L43.2,573.0L42.0,572.5L39.0,571.2L36.3,570.0L36.0,569.9L33.0,568.4L30.3,567.0L30.0,566.8L27.0,565.1L25.2,564.0L24.0,563.2L21.0,561.2L20.7,561.0L18.0,559.1L16.5,558.0L15.0,556.9L12.5,555.0L12.0,554.6L9.0,552.2L8.7,552.0L6.0,549.8L5.0,549.0L3.0,547.4L1.1,546.0L0.0,545.1L-2.7,543.0L-3.0,542.7L-6.0,540.2L-6.0,540.0L-6.0,537.0L-6.0,534.0L-6.0,531.0L-6.0,528.0L-6.0,525.0L-6.0,522.0L-6.0,519.0L-6.0,516.0L-6.0,513.0L-6.0,510.0L-6.0,507.0L-6.0,504.0L-6.0,501.0L-6.0,498.0L-6.0,495.0L-6.0,492.0L-6.0,489.0L-6.0,486.0L-6.0,483.0L-6.0,480.0L-6.0,477.0L-6.0,474.0L-6.0,471.0L-6.0,468.0L-6.0,465.0L-6.0,462.0L-6.0,459.0L-6.0,456.0L-6.0,453.0L-6.0,450.0L-6.0,447.0L-6.0,444.0L-6.0,441.0L-6.0,438.0L-6.0,435.0L-6.0,432.0L-6.0,429.0L-6.0,426.0L-6.0,423.0L-6.0,420.0L-6.0,417.0L-6.0,414.0L-6.0,411.0L-6.0,408.0L-6.0,405.0L-6.0,402.0L-6.0,399.0L-6.0,396.0L-6.0,393.0L-6.0,390.0L-6.0,387.0L-6.0,384.0L-6.0,381.0L-6.0,378.0L-6.0,375.0L-6.0,372.0L-6.0,369.0L-6.0,366.0L-6.0,363.0L-6.0,360.0L-6.0,357.0L-6.0,354.0L-6.0,351.0L-6.0,348.0L-6.0,345.0L-6.0,342.0L-6.0,339.0L-6.0,336.0L-6.0,333.0L-6.0,330.0L-6.0,327.0L-6.0,324.0L-6.0,321.0L-6.0,318.0L-6.0,315.0L-6.0,312.0L-6.0,309.0L-6.0,306.0L-6.0,303.0L-6.0,300.0L-6.0,297.0L-6.0,294.0L-6.0,291.0L-6.0,288.0L-6.0,285.0L-6.0,282.0L-6.0,279.0L-6.0,276.0L-6.0,273.0L-6.0,270.0L-6.0,267.0L-6.0,264.0L-6.0,261.0L-6.0,258.0L-6.0,255.0L-6.0,252.0L-6.0,249.0L-6.0,246.0L-6.0,243.0L-6.0,240.0L-6.0,237.0L-6.0,234.0L-6.0,231.0L-6.0,228.0L-6.0,225.0L-6.0,222.0L-6.0,219.0L-6.0,216.0L-6.0,213.0L-6.0,210.0L-6.0,207.0L-6.0,204.0L-6.0,201.0L-6.0,198.0L-6.0,195.0L-6.0,192.0L-6.0,189.0L-6.0,186.0L-6.0,183.0L-6.0,180.0L-6.0,177.0L-6.0,174.0L-6.0,171.0L-6.0,168.0L-6.0,165.0L-6.0,162.0L-6.0,159.0L-6.0,156.0L-6.0,153.0L-6.0,150.0L-6.0,147.0L-6.0,144.0L-6.0,141.0L-6.0,138.0L-6.0,135.0L-6.0,132.0L-6.0,129.0L-6.0,126.0L-6.0,123.0L-6.0,120.0L-6.0,117.0L-6.0,114.0L-6.0,111.0L-6.0,108.0L-6.0,105.0L-6.0,102.0L-6.0,99.0L-6.0,96.0L-6.0,93.0L-6.0,90.0L-6.0,87.0L-6.0,84.0L-6.0,81.0L-6.0,78.0L-6.0,75.0L-6.0,72.0L-6.0,69.0L-6.0,66.0L-6.0,63.0L-6.0,60.0L-6.0,57.0L-6.0,54.0L-6.0,51.0L-6.0,48.0L-6.0,45.0L-6.0,42.0L-6.0,39.0L-6.0,36.0L-6.0,33.0L-6.0,30.0L-6.0,27.0L-6.0,25.5L-4.9,24.0L-3.0,21.4L-2.7,21.0L-0.9,18.0L0.0,17.0L1.7,15.0L3.0,13.4L4.2,12.0L6.0,9.8L6.8,9.0L9.0,6.9L9.7,6.0L12.0,3.1L12.1,3.0L15.0,0.5L15.6,0.0L18.0,-2.3L18.6,-3.0ZM655.6,390.0L657.0,389.9L660.0,389.6L663.0,389.7L666.0,389.4L669.0,388.8L672.0,389.2L672.2,390.0L672.0,390.2L669.2,393.0L669.0,393.2L666.0,394.8L663.0,396.0L663.0,396.0L660.0,396.3L658.3,396.0L657.0,395.4L654.0,393.4L653.2,393.0L654.0,391.3L655.6,390.0ZM524.9,546.0L525.0,545.9L525.1,546.0L525.0,546.1L524.9,546.0ZM515.8,549.0L516.0,548.9L519.0,548.3L522.0,548.0L522.6,549.0L522.0,549.3L519.0,551.2L518.0,552.0L516.0,552.5L513.0,552.7L510.0,552.4L507.7,552.0L510.0,551.6L513.0,551.1L515.8,549.0Z" fill="#0000ff" fill-rule="evenodd"/><path d="M259.9,24.0L261.0,24.0L264.0,23.9L267.0,23.9L270.0,23.9L273.0,23.9L276.0,23.8L279.0,23.8L282.0,23.8L285.0,23.8L288.0,23.7L291.0,23.7L294.0,23.7L297.0,23.7L300.0,23.7L303.0,23.7L306.0,23.7L309.0,23.8L312.0,23.8L315.0,23.8L318.0,23.8L321.0,23.8L324.0,23.9L327.0,23.9L330.0,23.9L333.0,23.9L336.0,24.0L339.0,24.0L339.0,24.0L342.0,24.0L345.0,24.1L348.0,24.1L351.0,24.1L354.0,24.2L357.0,24.2L360.0,24.3L363.0,24.3L366.0,24.3L369.0,24.4L372.0,24.4L375.0,24.5L378.0,24.5L381.0,24.6L384.0,24.6L387.0,24.6L390.0,24.7L393.0,24.7L396.0,24.8L399.0,24.8L402.0,24.9L405.0,24.9L408.0,25.0L411.0,25.0L414.0,25.0L417.0,25.1L420.0,25.1L423.0,25.2L426.0,25.2L429.0,25.3L432.0,25.3L435.0,25.4L438.0,25.5L441.0,25.8L443.8,27.0L444.0,27.1L447.0,28.3L450.0,28.9L453.0,29.3L456.0,29.7L457.9,30.0L459.0,30.1L462.0,30.6L465.0,31.1L468.0,31.6L471.0,32.2L474.0,32.9L474.3,33.0L477.0,33.8L480.0,34.8L483.0,35.9L483.2,36.0L486.0,37.2L489.0,38.6L489.8,39.0L492.0,40.3L494.6,42.0L495.0,42.3L498.0,44.9L498.1,45.0L500.3,48.0L501.0,49.6L501.4,51.0L501.9,54.0L501.9,57.0L501.7,60.0L501.4,63.0L501.3,66.0L501.5,69.0L502.1,72.0L503.2,75.0L504.0,76.5L504.7,78.0L506.5,81.0L507.0,81.6L508.8,84.0L510.0,85.1L512.2,87.0L513.0,87.5L516.0,89.2L518.1,90.0L519.0,90.3L522.0,90.8L525.0,91.2L528.0,91.4L531.0,91.5L534.0,91.6L537.0,91.7L540.0,91.9L543.0,92.2L546.0,92.5L549.0,93.0L549.2,93.0L552.0,93.4L555.0,93.9L558.0,94.4L561.0,94.8L564.0,95.3L567.0,95.8L568.2,96.0L570.0,96.3L573.0,96.8L576.0,97.3L579.0,97.8L582.0,98.3L585.0,98.8L585.8,99.0L588.0,99.4L591.0,99.9L594.0,100.4L597.0,101.0L600.0,101.5L602.5,102.0L603.0,102.1L606.0,102.6L609.0,103.2L612.0,103.8L615.0,104.4L617.9,105.0L618.0,105.0L621.0,105.6L624.0,106.1L627.0,106.8L630.0,107.4L632.8,108.0L633.0,108.0L636.0,108.6L639.0,109.2L642.0,109.8L645.0,110.5L647.4,111.0L648.0,111.1L651.0,111.7L654.0,112.3L657.0,113.0L660.0,113.7L661.4,114.0L663.0,114.6L665.5,117.0L666.0,117.7L668.1,120.0L669.0,120.5L672.0,122.3L673.1,123.0L675.0,124.1L677.6,126.0L678.0,126.3L681.0,128.9L681.2,129.0L684.0,132.0L684.0,132.0L686.7,135.0L687.0,135.5L690.0,137.6L693.0,137.3L693.1,138.0L693.0,138.7L691.5,141.0L692.2,144.0L693.0,146.0L693.2,147.0L693.2,150.0L693.8,153.0L693.8,156.0L694.1,159.0L693.8,162.0L693.8,165.0L693.5,168.0L693.3,171.0L693.0,173.4L692.9,174.0L692.0,177.0L691.3,180.0L690.1,183.0L690.0,183.6L689.1,186.0L687.3,189.0L687.0,189.8L685.8,192.0L684.0,194.2L683.3,195.0L681.0,197.8L680.6,198.0L678.0,200.8L675.2,201.0L675.0,201.0L672.0,203.5L669.0,203.8L668.3,204.0L666.0,205.6L663.0,206.3L660.0,206.8L659.7,207.0L657.0,208.5L654.2,210.0L654.0,210.1L651.0,212.5L650.4,213.0L648.0,215.1L647.0,216.0L645.0,217.9L643.9,219.0L642.0,221.0L641.1,222.0L639.0,224.4L638.5,225.0L636.2,228.0L636.0,228.2L634.1,231.0L633.0,232.8L632.3,234.0L630.7,237.0L630.0,238.6L629.4,240.0L628.4,243.0L627.5,246.0L627.0,248.8L627.0,249.0L626.7,252.0L626.6,255.0L626.7,258.0L627.0,259.9L627.2,261.0L628.1,264.0L629.4,267.0L630.0,268.2L631.2,270.0L633.0,272.4L633.6,273.0L636.0,275.4L636.8,276.0L639.0,277.7L641.8,279.0L642.0,279.1L645.0,280.4L648.0,281.4L650.7,282.0L651.0,282.1L654.0,282.8L657.0,283.5L660.0,284.0L663.0,284.4L666.0,284.5L669.0,285.0L669.1,285.0L672.0,285.6L675.0,285.7L678.0,286.8L681.0,287.0L684.0,287.9L687.0,287.9L688.4,288.0L690.0,288.3L693.0,289.2L696.0,289.8L699.0,290.4L701.8,291.0L702.0,291.1L705.0,292.9L707.3,294.0L708.0,294.4L710.7,297.0L711.0,297.4L712.7,300.0L714.0,303.0L714.0,303.0L715.1,306.0L716.5,309.0L717.0,312.0L717.0,313.4L717.7,315.0L718.0,318.0L717.1,321.0L717.5,324.0L717.7,327.0L717.0,327.7L714.0,327.6L711.0,327.2L708.0,327.9L705.0,329.6L704.5,330.0L702.0,331.3L699.2,333.0L699.0,333.1L696.0,334.9L694.5,336.0L693.0,336.9L690.7,339.0L690.0,340.0L689.2,342.0L688.5,345.0L687.0,346.5L684.0,346.6L681.0,345.5L678.0,347.5L677.2,348.0L675.0,349.6L673.0,351.0L672.0,351.8L669.0,353.8L668.7,354.0L666.0,356.2L663.0,356.9L662.6,357.0L660.0,358.2L657.0,359.4L655.5,360.0L654.0,360.6L651.0,361.7L648.0,362.8L647.3,363.0L645.0,363.8L642.0,364.8L639.0,365.8L638.4,366.0L636.0,366.8L633.0,367.8L630.0,368.8L629.3,369.0L627.0,369.8L624.0,370.9L621.0,371.9L620.8,372.0L618.0,373.1L615.0,374.1L612.5,375.0L612.0,375.2L609.0,376.3L606.0,377.5L604.8,378.0L603.0,378.8L600.0,380.2L598.5,381.0L597.0,381.9L594.0,383.7L593.6,384.0L591.0,385.9L589.7,387.0L588.0,388.4L586.2,390.0L585.0,391.1L583.0,393.0L582.0,393.9L579.9,396.0L579.0,396.9L576.9,399.0L576.0,399.9L574.2,402.0L573.0,403.3L571.7,405.0L570.0,406.8L569.2,408.0L567.0,410.3L566.4,411.0L564.7,414.0L565.5,417.0L565.8,420.0L565.5,423.0L565.1,426.0L564.6,429.0L564.0,430.9L563.6,432.0L561.3,435.0L561.0,435.2L558.0,436.4L555.0,437.8L554.4,438.0L552.0,439.0L549.0,440.2L547.2,441.0L546.0,441.5L543.0,442.8L540.2,444.0L540.0,444.1L537.0,445.4L534.0,446.8L533.5,447.0L531.0,448.1L528.0,449.5L527.0,450.0L525.0,451.0L522.0,452.4L520.8,453.0L519.0,453.9L516.0,455.3L514.5,456.0L513.0,456.8L510.0,458.2L508.0,459.0L507.0,459.5L504.0,460.9L501.2,462.0L501.0,462.1L498.0,463.4L495.0,464.5L493.6,465.0L492.0,465.7L489.0,466.8L486.0,467.8L485.5,468.0L483.0,469.0L480.0,470.0L477.0,471.0L476.9,471.0L474.0,472.1L471.0,473.1L468.1,474.0L468.0,474.0L465.0,475.2L462.0,476.2L459.2,477.0L459.0,477.1L456.0,478.4L453.0,479.4L450.9,480.0L450.0,480.5L447.0,481.7L444.0,482.6L442.3,483.0L441.0,483.8L438.0,485.4L435.0,485.9L434.6,486.0L432.0,488.3L429.0,488.4L426.0,488.6L423.6,489.0L423.0,489.2L420.0,491.1L418.7,492.0L417.7,495.0L418.2,498.0L419.8,501.0L420.0,501.3L422.6,504.0L423.0,504.5L426.0,506.7L426.6,507.0L429.0,508.7L432.0,509.7L435.0,507.4L435.3,507.0L435.9,504.0L436.6,501.0L436.8,498.0L436.7,495.0L436.0,492.0L438.0,490.9L441.0,491.0L444.0,491.0L447.0,491.3L450.0,491.5L453.0,491.8L454.6,492.0L456.0,492.2L459.0,492.7L462.0,493.1L465.0,493.6L468.0,494.0L471.0,494.5L474.0,494.9L474.3,495.0L477.0,495.4L480.0,496.0L483.0,496.7L486.0,497.4L487.7,498.0L489.0,498.4L492.0,499.4L495.0,500.7L495.5,501.0L498.0,502.3L500.9,504.0L501.0,504.0L504.0,506.5L504.4,507.0L506.2,510.0L506.7,513.0L506.1,516.0L504.6,519.0L504.0,519.7L501.9,522.0L501.0,522.7L498.0,524.7L497.5,525.0L495.0,526.3L492.0,527.9L491.7,528.0L489.0,529.2L486.0,530.5L484.7,531.0L483.0,531.7L480.0,532.9L477.2,534.0L477.0,534.1L474.0,535.1L471.0,536.2L468.7,537.0L468.0,537.3L465.0,538.2L462.0,539.1L459.3,540.0L459.0,540.1L456.0,540.9L453.0,541.6L450.0,542.4L447.5,543.0L447.0,543.1L444.0,543.5L441.0,543.9L438.0,544.7L435.0,545.9L434.6,546.0L432.0,546.3L429.0,546.7L426.0,547.0L423.0,547.2L420.0,547.3L419.2,546.0L420.0,545.3L423.0,543.5L423.6,543.0L423.0,542.5L420.0,542.3L417.0,542.4L414.0,542.8L412.8,543.0L411.0,543.7L408.0,544.9L405.0,545.6L402.5,546.0L402.0,546.4L399.0,548.1L396.0,548.8L395.2,549.0L396.0,551.5L398.1,552.0L396.0,552.1L393.0,552.2L392.2,552.0L390.0,551.8L387.0,551.9L386.9,552.0L384.0,553.2L381.0,554.5L380.2,555.0L378.0,556.1L375.0,557.8L374.7,558.0L372.0,559.8L370.3,561.0L369.0,562.0L366.5,564.0L366.0,564.4L363.0,567.0L363.0,567.0L360.0,569.5L359.4,570.0L357.0,571.9L355.6,573.0L354.0,574.2L351.4,576.0L351.0,576.3L348.0,578.1L346.3,579.0L345.0,579.6L342.0,580.9L339.4,582.0L339.0,582.1L336.0,583.1L333.0,584.0L330.0,584.9L329.5,585.0L327.0,585.6L324.0,586.3L321.0,586.9L318.0,587.5L315.1,588.0L315.0,588.0L312.0,588.5L309.0,588.9L306.0,589.3L303.0,589.7L300.0,590.1L297.0,590.5L294.0,590.9L293.0,591.0L291.0,591.2L288.0,591.5L285.0,591.8L282.0,592.1L279.0,592.3L276.0,592.5L273.0,592.7L270.0,592.9L267.0,593.0L264.0,593.2L261.0,593.3L258.0,593.4L255.0,593.6L252.0,593.7L249.0,593.8L246.0,593.9L243.3,594.0L243.0,594.0L240.0,594.1L237.0,594.2L234.0,594.3L231.0,594.3L228.0,594.4L225.0,594.4L222.0,594.2L221.5,594.0L219.9,591.0L220.1,588.0L219.0,586.6L216.0,585.8L213.0,585.4L210.0,585.2L208.2,585.0L207.0,584.9L204.0,584.6L201.0,584.3L198.0,583.9L195.0,583.5L192.0,583.1L189.0,582.6L186.0,582.2L185.0,582.0L183.0,581.6L180.0,581.1L177.0,580.5L174.0,580.0L171.0,579.5L168.3,579.0L168.0,578.9L165.0,578.3L162.0,577.7L159.0,577.1L156.0,576.5L153.3,576.0L153.0,575.9L150.0,575.2L147.0,574.6L144.0,573.9L141.0,573.2L140.1,573.0L138.0,572.4L135.0,571.6L132.0,570.9L129.0,570.1L128.5,570.0L126.0,569.3L123.0,568.4L120.0,567.6L118.0,567.0L117.0,566.7L114.0,565.7L111.0,564.8L108.5,564.0L108.0,563.8L105.0,562.7L102.0,561.7L100.1,561.0L99.0,560.5L96.0,559.2L93.1,558.0L93.0,557.9L90.0,556.4L87.3,555.0L87.0,554.8L84.0,552.9L82.6,552.0L81.0,550.8L78.8,549.0L78.0,548.2L75.9,546.0L75.0,544.8L73.7,543.0L72.4,540.0L72.0,537.7L71.9,537.0L71.8,534.0L71.9,531.0L71.7,528.0L71.0,525.0L69.4,522.0L69.0,521.5L66.8,519.0L66.0,518.4L63.0,516.0L63.0,516.0L60.0,514.1L58.3,513.0L57.0,512.3L54.0,510.5L53.1,510.0L51.0,508.9L48.0,507.3L47.4,507.0L45.0,505.8L42.0,504.2L41.6,504.0L39.0,502.7L36.0,501.0L35.9,501.0L33.0,499.5L30.3,498.0L30.0,497.8L27.0,496.3L24.5,495.0L24.0,494.7L21.0,493.2L18.5,492.0L18.0,491.7L15.0,490.3L12.4,489.0L12.0,488.8L9.0,487.4L6.2,486.0L6.0,485.9L3.0,484.5L0.1,483.0L0.0,483.0L-3.0,481.3L-5.1,480.0L-6.0,479.4L-6.0,477.0L-6.0,474.0L-6.0,471.0L-6.0,468.0L-6.0,465.0L-6.0,462.0L-6.0,459.0L-6.0,456.0L-6.0,453.0L-6.0,450.0L-6.0,447.0L-6.0,444.0L-6.0,441.0L-6.0,438.0L-6.0,435.0L-6.0,432.0L-6.0,429.0L-6.0,426.0L-6.0,423.0L-6.0,420.0L-6.0,417.0L-6.0,414.0L-6.0,411.0L-6.0,408.0L-6.0,405.0L-6.0,402.0L-6.0,399.0L-6.0,396.0L-6.0,393.0L-6.0,390.0L-6.0,387.0L-6.0,384.0L-6.0,381.0L-6.0,378.0L-6.0,375.0L-6.0,372.0L-6.0,369.0L-6.0,366.0L-6.0,363.0L-6.0,360.0L-6.0,357.0L-6.0,354.0L-6.0,351.0L-6.0,348.0L-6.0,345.0L-6.0,342.0L-6.0,339.0L-6.0,336.0L-6.0,333.0L-6.0,330.0L-6.0,327.0L-6.0,324.0L-6.0,321.0L-6.0,318.0L-6.0,315.0L-6.0,312.0L-6.0,309.0L-6.0,306.0L-6.0,303.0L-6.0,300.0L-6.0,297.0L-6.0,294.0L-6.0,291.0L-6.0,288.0L-6.0,285.0L-6.0,282.0L-6.0,279.0L-6.0,276.0L-6.0,273.0L-6.0,270.0L-6.0,267.0L-6.0,264.0L-6.0,261.0L-6.0,258.0L-6.0,255.0L-6.0,252.0L-6.0,249.0L-6.0,246.0L-6.0,243.0L-6.0,240.0L-6.0,237.0L-6.0,234.0L-6.0,231.0L-6.0,228.0L-6.0,225.0L-6.0,222.0L-6.0,219.0L-6.0,216.0L-6.0,213.0L-6.0,210.0L-6.0,207.0L-6.0,204.0L-6.0,201.0L-6.0,198.0L-6.0,195.0L-6.0,192.0L-6.0,189.0L-6.0,186.0L-6.0,183.0L-6.0,180.1L-5.7,180.0L-3.0,178.5L-0.2,177.0L0.0,176.9L3.0,175.5L6.0,174.1L6.1,174.0L9.0,172.6L12.0,171.1L12.2,171.0L15.0,169.5L17.7,168.0L18.0,167.8L21.0,165.9L22.3,165.0L24.0,163.5L25.6,162.0L27.0,159.7L27.4,159.0L28.1,156.0L28.3,153.0L28.0,150.0L27.3,147.0L27.0,145.9L26.5,144.0L25.6,141.0L24.5,138.0L24.0,136.8L23.4,135.0L22.2,132.0L21.0,129.0L21.0,128.9L20.0,126.0L19.2,123.0L18.4,120.0L18.0,117.7L17.9,117.0L17.5,114.0L17.5,111.0L17.9,108.0L18.0,107.8L19.2,105.0L20.8,102.0L21.0,101.8L23.1,99.0L24.0,97.9L25.8,96.0L27.0,94.7L28.8,93.0L30.0,91.8L32.0,90.0L33.0,89.0L35.3,87.0L36.0,86.4L38.7,84.0L39.0,83.7L42.0,81.1L42.1,81.0L45.0,78.4L45.5,78.0L48.0,75.7L48.8,75.0L51.0,73.0L52.1,72.0L54.0,70.3L55.4,69.0L57.0,67.6L58.9,66.0L60.0,65.0L62.5,63.0L63.0,62.6L66.0,60.2L66.3,60.0L69.0,58.0L70.5,57.0L72.0,56.0L75.0,54.2L75.3,54.0L78.0,52.5L81.0,51.1L81.1,51.0L84.0,49.7L87.0,48.5L88.4,48.0L90.0,47.4L93.0,46.4L96.0,45.4L97.4,45.0L99.0,44.5L102.0,43.7L105.0,42.9L108.0,42.1L108.6,42.0L111.0,41.4L114.0,40.7L117.0,40.0L120.0,39.3L121.2,39.0L123.0,38.6L126.0,37.9L129.0,37.3L132.0,36.7L135.0,36.2L136.1,36.0L138.0,35.7L141.0,35.2L144.0,34.7L147.0,34.2L150.0,33.7L153.0,33.3L154.8,33.0L156.0,32.8L159.0,32.4L162.0,32.0L165.0,31.5L168.0,31.2L171.0,30.8L174.0,30.3L176.7,30.0L177.0,30.0L180.0,29.6L183.0,29.3L186.0,28.9L189.0,28.6L192.0,28.3L195.0,28.0L198.0,27.7L201.0,27.4L204.0,27.1L205.2,27.0L207.0,26.8L210.0,26.6L213.0,26.3L216.0,26.0L219.0,25.6L222.0,24.9L225.0,24.6L228.0,24.5L231.0,24.5L234.0,24.4L237.0,24.4L240.0,24.3L243.0,24.3L246.0,24.2L249.0,24.2L252.0,24.1L255.0,24.1L258.0,24.0L259.9,24.0ZM435.0,536.2L433.2,537.0L435.0,537.9L438.0,537.7L440.9,537.0L438.0,536.5L435.0,536.2ZM1337.8,180.0L1338.0,179.7L1338.0,180.0L1338.0,183.0L1338.0,186.0L1338.0,189.0L1338.0,192.0L1338.0,195.0L1338.0,198.0L1338.0,201.0L1338.0,204.0L1338.0,207.0L1338.0,210.0L1338.0,213.0L1338.0,216.0L1338.0,219.0L1338.0,222.0L1338.0,225.0L1338.0,228.0L1338.0,231.0L1338.0,234.0L1338.0,237.0L1338.0,240.0L1338.0,243.0L1338.0,246.0L1338.0,249.0L1338.0,252.0L1338.0,255.0L1338.0,258.0L1338.0,261.0L1338.0,264.0L1338.0,267.0L1338.0,270.0L1338.0,273.0L1338.0,276.0L1338.0,279.0L1338.0,282.0L1338.0,285.0L1338.0,288.0L1338.0,291.0L1338.0,294.0L1338.0,297.0L1338.0,300.0L1338.0,303.0L1338.0,306.0L1338.0,309.0L1338.0,312.0L1338.0,315.0L1338.0,318.0L1338.0,321.0L1338.0,324.0L1338.0,327.0L1338.0,330.0L1338.0,333.0L1338.0,336.0L1338.0,339.0L1338.0,342.0L1338.0,345.0L1338.0,348.0L1338.0,351.0L1338.0,354.0L1338.0,357.0L1338.0,360.0L1338.0,363.0L1338.0,366.0L1338.0,369.0L1338.0,372.0L1338.0,375.0L1338.0,378.0L1338.0,381.0L1338.0,384.0L1338.0,387.0L1338.0,390.0L1338.0,393.0L1338.0,396.0L1338.0,399.0L1338.0,402.0L1338.0,405.0L1338.0,408.0L1338.0,411.0L1338.0,414.0L1338.0,417.0L1338.0,420.0L1338.0,423.0L1338.0,426.0L1338.0,429.0L1338.0,432.0L1338.0,435.0L1338.0,438.0L1338.0,441.0L1338.0,444.0L1338.0,447.0L1338.0,450.0L1338.0,453.0L1338.0,456.0L1338.0,456.4L1337.7,456.0L1335.4,453.0L1335.0,452.5L1333.0,450.0L1332.0,448.9L1330.2,447.0L1329.0,445.7L1327.2,444.0L1326.0,442.8L1324.2,441.0L1323.0,439.7L1321.5,438.0L1320.0,436.1L1319.1,435.0L1317.0,432.0L1317.0,432.0L1315.1,429.0L1314.0,427.1L1313.4,426.0L1311.7,423.0L1311.0,421.7L1310.1,420.0L1308.6,417.0L1308.0,415.9L1307.1,414.0L1305.6,411.0L1305.0,409.7L1304.2,408.0L1302.8,405.0L1302.0,403.2L1301.4,402.0L1300.1,399.0L1299.0,396.4L1298.8,396.0L1297.6,393.0L1296.4,390.0L1296.0,388.9L1295.3,387.0L1294.1,384.0L1293.1,381.0L1293.0,380.7L1292.0,378.0L1291.0,375.0L1290.1,372.0L1290.0,371.7L1289.1,369.0L1288.2,366.0L1287.3,363.0L1287.0,362.0L1286.4,360.0L1285.5,357.0L1284.7,354.0L1284.0,351.0L1284.0,351.0L1283.2,348.0L1282.5,345.0L1281.8,342.0L1281.1,339.0L1281.0,338.6L1280.3,336.0L1279.4,333.0L1278.1,330.0L1278.0,329.4L1277.3,327.0L1276.3,324.0L1275.9,321.0L1275.5,318.0L1275.2,315.0L1275.0,313.1L1274.9,312.0L1274.6,309.0L1274.3,306.0L1274.1,303.0L1273.8,300.0L1273.6,297.0L1273.4,294.0L1273.1,291.0L1272.9,288.0L1272.7,285.0L1272.5,282.0L1272.3,279.0L1272.1,276.0L1272.0,274.8L1271.9,273.0L1271.7,270.0L1271.6,267.0L1271.4,264.0L1271.4,261.0L1271.3,258.0L1271.3,255.0L1271.4,252.0L1271.6,249.0L1271.8,246.0L1272.0,244.1L1272.1,243.0L1272.6,240.0L1273.1,237.0L1273.9,234.0L1274.8,231.0L1275.0,230.4L1276.0,228.0L1277.6,225.0L1278.0,224.3L1279.6,222.0L1281.0,220.2L1282.1,219.0L1284.0,217.1L1285.3,216.0L1287.0,214.6L1289.2,213.0L1290.0,212.4L1293.0,210.4L1293.6,210.0L1296.0,208.4L1298.2,207.0L1299.0,206.5L1302.0,204.6L1303.1,204.0L1305.0,202.9L1308.0,201.2L1308.4,201.0L1311.0,199.6L1314.0,198.1L1314.1,198.0L1317.0,196.5L1320.0,195.0L1320.0,195.0L1323.0,193.5L1326.0,192.0L1326.0,192.0L1329.0,190.5L1331.5,189.0L1332.0,188.7L1334.5,186.0L1335.0,185.3L1336.2,183.0L1337.8,180.0ZM665.8,210.0L666.0,209.3L666.5,210.0L666.0,210.1L665.8,210.0ZM413.8,549.0L414.0,548.9L414.6,549.0L414.0,549.0L413.8,549.0Z" fill="#0030ff" fill-rule="evenodd"/><path d="M528.4,138.0L531.0,137.2L534.0,136.5L537.0,136.1L540.0,135.8L543.0,135.7L546.0,135.6L549.0,135.5L552.0,135.6L555.0,135.6L558.0,135.5L561.0,135.2L564.0,135.5L567.0,135.6L570.0,135.7L573.0,135.8L576.0,136.0L579.0,136.1L582.0,136.4L585.0,136.7L588.0,137.1L591.0,137.5L594.0,137.9L595.5,138.0L597.0,138.2L600.0,138.6L603.0,139.1L606.0,139.6L609.0,140.6L612.0,140.9L612.6,141.0L615.0,141.6L618.0,142.1L621.0,143.4L624.0,144.0L625.0,144.0L627.0,144.1L630.0,145.7L633.0,146.5L634.6,147.0L636.0,147.7L639.0,149.1L640.5,150.0L642.0,150.9L644.6,153.0L645.0,153.2L647.9,156.0L648.0,156.0L651.0,158.8L651.2,159.0L653.4,162.0L654.0,163.1L655.9,165.0L657.0,167.6L657.1,168.0L657.6,171.0L658.6,174.0L658.4,177.0L657.9,180.0L657.9,183.0L657.0,185.8L656.8,186.0L655.4,189.0L654.8,192.0L654.0,193.0L652.5,195.0L651.0,196.1L649.4,198.0L648.0,199.0L645.8,201.0L645.0,201.6L642.0,203.9L641.9,204.0L639.0,206.3L638.1,207.0L636.0,208.7L634.5,210.0L633.0,211.3L631.3,213.0L630.0,214.3L628.5,216.0L627.0,217.8L626.0,219.0L624.0,221.8L623.9,222.0L621.9,225.0L621.0,226.6L620.2,228.0L618.7,231.0L618.0,232.4L617.3,234.0L616.1,237.0L615.1,240.0L615.0,240.4L614.3,243.0L613.6,246.0L613.2,249.0L613.0,252.0L612.9,255.0L613.0,258.0L613.1,261.0L613.4,264.0L613.9,267.0L614.4,270.0L615.0,272.4L615.2,273.0L616.1,276.0L617.2,279.0L618.0,280.9L618.5,282.0L620.2,285.0L621.0,286.3L622.0,288.0L624.0,291.0L624.0,291.0L626.2,294.0L627.0,294.7L629.3,297.0L630.0,297.5L633.0,299.7L633.5,300.0L636.0,301.3L639.0,302.8L639.6,303.0L642.0,303.7L645.0,304.4L648.0,304.9L651.0,305.3L654.0,305.7L656.7,306.0L657.0,306.0L660.0,306.2L661.7,306.0L663.0,304.8L663.6,303.0L665.8,300.0L666.0,299.9L666.4,300.0L669.0,301.3L672.0,302.6L673.4,303.0L675.0,304.2L678.0,305.5L678.9,306.0L681.0,308.2L682.0,309.0L684.0,311.8L684.2,312.0L686.5,315.0L687.0,315.6L687.6,318.0L687.9,321.0L687.8,324.0L687.0,326.2L684.7,327.0L687.0,328.1L687.1,330.0L687.3,333.0L687.0,334.3L686.3,336.0L684.0,338.8L681.0,337.4L678.5,336.0L678.0,334.4L675.0,333.1L672.0,333.9L669.8,336.0L669.0,336.4L666.0,338.1L665.1,339.0L663.0,340.6L661.1,342.0L660.0,342.5L657.0,344.0L655.0,345.0L654.0,345.4L651.0,346.9L648.0,348.0L648.0,348.0L645.0,349.4L642.0,350.3L639.7,351.0L639.0,351.3L636.0,352.4L633.0,353.6L631.8,354.0L630.0,354.7L627.0,355.9L624.0,357.0L624.0,357.0L621.0,358.1L618.0,359.2L616.1,360.0L615.0,360.4L612.0,361.6L609.0,363.0L609.0,363.0L606.0,364.3L603.0,365.7L602.5,366.0L600.0,367.2L597.0,368.6L596.3,369.0L594.0,370.2L591.0,371.7L590.5,372.0L588.0,373.4L585.3,375.0L585.0,375.2L582.0,377.2L580.7,378.0L579.0,379.4L576.9,381.0L576.0,381.9L573.6,384.0L573.0,384.6L570.7,387.0L570.0,387.7L567.7,390.0L567.0,390.8L565.2,393.0L565.1,396.0L566.2,399.0L566.5,402.0L565.9,405.0L564.1,408.0L564.0,408.1L561.5,411.0L561.0,412.5L560.2,414.0L560.3,417.0L558.0,419.0L555.4,420.0L555.0,420.3L552.0,421.9L549.5,423.0L549.0,423.3L546.0,424.8L543.5,426.0L543.0,426.2L540.0,427.8L537.3,429.0L537.0,429.2L534.0,430.7L531.1,432.0L531.0,432.1L528.0,433.5L525.0,434.9L524.7,435.0L522.0,436.3L519.0,437.5L517.9,438.0L516.0,438.8L513.0,440.0L510.4,441.0L510.0,441.2L507.0,442.3L504.0,443.4L502.3,444.0L501.0,444.5L498.0,445.6L495.0,446.6L493.8,447.0L492.0,447.7L489.0,448.8L486.0,449.8L485.6,450.0L483.0,451.0L480.0,452.1L477.7,453.0L477.0,453.3L474.0,454.5L471.0,455.7L470.2,456.0L468.0,457.0L465.0,458.2L463.0,459.0L462.0,459.5L459.0,460.7L456.0,461.9L455.3,462.0L453.0,462.7L450.0,463.6L447.0,463.3L444.0,463.5L441.1,465.0L441.0,465.1L438.0,467.2L435.0,467.4L432.0,467.4L429.0,467.5L426.0,467.7L424.5,468.0L423.0,469.1L420.0,469.7L417.7,468.0L417.0,467.7L414.0,467.3L411.0,467.9L410.0,468.0L408.0,468.3L405.0,468.7L402.0,469.2L399.0,469.8L396.0,470.2L393.0,470.8L392.3,471.0L390.0,471.9L387.0,473.2L385.4,474.0L384.0,475.0L381.0,476.8L380.7,477.0L378.0,479.1L376.6,480.0L375.0,481.6L373.3,483.0L372.0,484.6L370.8,486.0L369.6,489.0L370.0,492.0L371.6,495.0L372.0,495.5L374.2,498.0L375.0,498.7L378.0,501.0L378.1,501.0L381.0,502.8L383.5,504.0L384.0,504.2L387.0,505.6L389.8,507.0L390.0,507.1L393.0,509.5L393.5,510.0L394.9,513.0L395.0,516.0L393.2,519.0L393.0,519.2L390.0,521.5L389.2,522.0L387.0,523.1L384.0,524.4L382.4,525.0L381.0,525.5L378.0,526.5L375.0,527.5L373.4,528.0L372.0,528.4L369.0,529.3L366.0,530.2L363.5,531.0L363.0,531.1L360.0,532.0L357.0,532.9L354.0,533.9L353.6,534.0L351.0,534.8L348.0,535.8L345.0,536.8L344.6,537.0L342.0,537.9L339.0,539.1L336.8,540.0L336.0,540.3L333.0,541.7L330.1,543.0L330.0,543.1L327.0,544.5L324.0,545.9L323.8,546.0L321.0,547.4L318.0,548.7L317.4,549.0L315.0,550.2L312.0,551.5L310.7,552.0L309.0,552.7L306.0,553.9L303.0,555.0L302.9,555.0L300.0,556.0L297.0,556.9L294.0,557.7L292.8,558.0L291.0,558.4L288.0,559.0L285.0,559.6L282.0,560.0L279.0,560.4L276.0,560.7L273.4,561.0L273.0,561.0L270.0,561.3L267.0,561.6L264.0,561.8L261.0,562.0L258.0,562.2L255.0,562.3L252.0,562.5L249.0,562.6L246.0,562.7L243.0,562.8L240.0,563.0L237.0,563.0L234.0,563.1L231.0,563.2L228.0,563.3L225.0,563.3L222.0,562.3L220.8,561.0L219.0,559.7L216.0,558.0L216.0,558.0L213.0,556.6L210.4,555.0L210.0,554.8L207.0,552.3L206.7,552.0L204.3,549.0L204.0,548.6L202.4,546.0L201.0,543.4L200.8,543.0L199.2,540.0L198.0,537.8L197.6,537.0L195.8,534.0L195.0,532.8L193.8,531.0L192.0,528.8L191.3,528.0L189.0,525.8L188.1,525.0L186.0,523.4L184.2,522.0L183.0,521.2L180.0,519.2L179.6,519.0L177.0,517.5L174.4,516.0L174.0,515.8L171.0,514.3L168.5,513.0L168.0,512.8L165.0,511.5L162.0,510.0L161.9,510.0L159.0,508.8L156.0,507.5L154.9,507.0L153.0,506.2L150.0,505.1L147.3,504.0L147.0,503.9L144.0,502.8L141.0,501.8L138.8,501.0L138.0,500.7L135.0,499.8L132.0,498.8L129.7,498.0L129.0,497.8L126.0,496.9L123.0,495.9L120.2,495.0L120.0,495.0L117.0,494.1L114.0,493.1L111.0,492.2L110.5,492.0L108.0,491.3L105.0,490.3L102.0,489.4L100.8,489.0L99.0,488.4L96.0,487.6L93.0,486.7L90.4,486.0L90.0,485.9L87.0,485.1L84.0,484.3L81.0,483.5L79.4,483.0L78.0,482.6L75.0,481.6L72.0,480.6L70.3,480.0L69.0,479.5L66.0,478.3L63.0,477.0L62.9,477.0L60.0,475.7L57.0,474.4L56.0,474.0L54.0,473.0L51.0,471.6L49.7,471.0L48.0,470.1L45.0,468.5L44.0,468.0L42.0,466.9L39.0,465.2L38.7,465.0L36.0,463.3L33.9,462.0L33.0,461.3L30.0,459.3L29.6,459.0L27.0,457.1L25.6,456.0L24.0,454.8L21.7,453.0L21.0,452.4L18.0,450.0L18.0,450.0L15.0,447.5L14.4,447.0L12.0,445.0L10.8,444.0L9.0,442.5L7.3,441.0L6.0,439.9L3.7,438.0L3.0,437.4L0.2,435.0L0.0,434.9L-3.0,432.2L-3.3,432.0L-6.0,429.6L-6.0,429.0L-6.0,426.0L-6.0,423.0L-6.0,420.0L-6.0,417.0L-6.0,414.0L-6.0,411.0L-6.0,408.0L-6.0,405.0L-6.0,402.0L-6.0,399.0L-6.0,396.0L-6.0,393.0L-6.0,390.0L-6.0,387.0L-6.0,384.0L-6.0,381.0L-6.0,378.0L-6.0,375.0L-6.0,372.0L-6.0,369.0L-6.0,366.0L-6.0,363.0L-6.0,360.0L-6.0,357.0L-6.0,354.0L-6.0,351.0L-6.0,348.0L-6.0,345.0L-6.0,342.0L-6.0,339.0L-6.0,336.0L-6.0,333.0L-6.0,330.0L-6.0,327.0L-6.0,324.0L-6.0,321.0L-6.0,318.0L-6.0,315.0L-6.0,312.0L-6.0,309.0L-6.0,306.0L-6.0,303.0L-6.0,300.0L-6.0,297.0L-6.0,294.0L-6.0,291.0L-6.0,288.0L-6.0,285.0L-6.0,282.0L-6.0,279.0L-6.0,276.0L-6.0,273.0L-6.0,270.0L-6.0,267.0L-6.0,264.0L-6.0,261.0L-6.0,258.0L-6.0,255.0L-6.0,252.0L-6.0,249.0L-6.0,246.0L-6.0,243.0L-6.0,240.0L-6.0,237.3L-5.7,237.0L-3.5,234.0L-3.0,233.5L-0.9,231.0L0.0,230.0L1.8,228.0L3.0,226.7L4.5,225.0L6.0,223.3L7.3,222.0L9.0,220.4L10.6,219.0L12.0,218.0L15.0,216.0L15.0,216.0L18.0,214.5L21.0,213.3L21.7,213.0L24.0,212.2L27.0,211.3L30.0,210.4L31.7,210.0L33.0,209.7L36.0,209.0L39.0,208.4L42.0,207.9L45.0,207.3L47.2,207.0L48.0,206.9L51.0,206.4L54.0,206.0L57.0,205.7L60.0,205.4L63.0,205.1L66.0,204.9L69.0,204.6L72.0,204.4L75.0,204.3L78.0,204.1L79.9,204.0L81.0,203.9L84.0,203.8L87.0,203.6L90.0,203.5L93.0,203.4L96.0,203.2L99.0,203.1L102.0,203.0L105.0,202.9L108.0,202.8L111.0,202.7L114.0,202.6L117.0,202.6L120.0,202.6L123.0,202.6L126.0,202.5L129.0,202.5L132.0,202.5L135.0,202.5L138.0,202.5L141.0,202.4L144.0,202.4L147.0,202.3L150.0,202.2L153.0,202.1L156.0,202.0L159.0,201.8L162.0,201.6L165.0,201.6L168.0,201.4L171.0,201.2L174.0,201.0L174.7,201.0L177.0,200.9L180.0,200.7L183.0,200.5L186.0,200.3L189.0,200.1L192.0,199.8L195.0,199.6L198.0,199.4L201.0,199.2L204.0,199.0L207.0,198.8L210.0,198.6L213.0,198.4L216.0,198.2L218.9,198.0L219.0,198.0L219.0,198.0L220.0,201.0L220.3,204.0L222.0,205.5L225.0,206.2L228.0,206.3L231.0,206.4L234.0,206.5L237.0,206.6L240.0,206.6L243.0,206.7L246.0,206.7L249.0,206.8L252.0,206.8L255.0,206.8L258.0,206.9L261.0,206.9L264.0,207.0L267.0,207.0L267.1,207.0L270.0,207.0L273.0,207.1L276.0,207.1L279.0,207.1L282.0,207.2L285.0,207.2L288.0,207.3L291.0,207.3L294.0,207.3L297.0,207.4L300.0,207.4L303.0,207.4L306.0,207.4L309.0,207.5L312.0,207.5L315.0,207.5L318.0,207.5L321.0,207.5L324.0,207.6L327.0,207.6L330.0,207.6L333.0,207.6L336.0,207.7L339.0,207.7L342.0,207.7L345.0,207.8L348.0,207.9L351.0,207.8L354.0,207.8L357.0,208.0L360.0,208.1L363.0,208.2L366.0,208.4L369.0,208.5L372.0,208.7L375.0,208.9L378.0,209.1L381.0,209.3L384.0,209.5L387.0,209.8L389.9,210.0L390.0,210.0L393.0,210.2L396.0,210.5L399.0,210.7L402.0,210.9L405.0,211.1L408.0,211.3L411.0,211.5L414.0,211.7L417.0,211.9L420.0,212.0L423.0,212.2L426.0,212.3L429.0,212.5L432.0,212.8L435.0,212.9L436.8,213.0L438.0,213.1L441.0,213.1L442.0,213.0L444.0,212.8L447.0,212.1L450.0,211.8L453.0,211.5L456.0,211.2L459.0,210.9L462.0,210.5L465.0,210.3L467.4,210.0L468.0,209.9L471.0,209.6L474.0,209.2L477.0,208.9L480.0,208.5L483.0,208.1L486.0,207.8L489.0,207.4L491.7,207.0L492.0,207.0L495.0,206.4L498.0,205.9L501.0,205.4L504.0,204.8L507.0,204.4L509.0,204.0L510.0,203.8L513.0,203.0L516.0,202.1L518.4,201.0L519.0,200.7L522.0,198.5L522.5,198.0L524.8,195.0L525.0,194.5L526.1,192.0L527.0,189.0L527.7,186.0L528.0,183.4L528.0,183.0L528.2,180.0L528.3,177.0L528.2,174.0L528.0,172.9L527.7,171.0L526.7,168.0L525.2,165.0L525.0,164.7L523.2,162.0L522.0,160.3L521.0,159.0L519.1,156.0L519.0,155.7L518.0,153.0L517.8,150.0L518.6,147.0L519.0,146.1L520.3,144.0L522.0,142.1L523.2,141.0L525.0,139.8L528.0,138.2L528.4,138.0ZM681.0,322.7L680.2,324.0L678.0,326.2L677.7,327.0L676.1,330.0L678.0,330.7L679.0,330.0L681.0,328.1L683.4,327.0L682.0,324.0L681.0,322.7ZM1335.8,261.0L1338.0,258.9L1338.0,261.0L1338.0,264.0L1338.0,267.0L1338.0,270.0L1338.0,273.0L1338.0,276.0L1338.0,279.0L1338.0,282.0L1338.0,285.0L1338.0,288.0L1338.0,291.0L1338.0,294.0L1338.0,297.0L1338.0,300.0L1338.0,303.0L1338.0,306.0L1338.0,309.0L1338.0,312.0L1338.0,315.0L1338.0,318.0L1338.0,321.0L1338.0,324.0L1338.0,327.0L1338.0,330.0L1338.0,333.0L1338.0,336.0L1338.0,339.0L1338.0,342.0L1338.0,345.0L1338.0,348.0L1338.0,351.0L1338.0,354.0L1338.0,357.0L1338.0,360.0L1338.0,363.0L1338.0,366.0L1338.0,369.0L1338.0,372.0L1338.0,375.0L1338.0,378.0L1338.0,381.0L1338.0,384.0L1338.0,387.0L1338.0,390.0L1338.0,393.0L1338.0,396.0L1338.0,399.0L1338.0,402.0L1338.0,405.0L1338.0,408.0L1338.0,411.0L1338.0,412.3L1336.9,411.0L1335.0,408.9L1334.2,408.0L1332.0,405.7L1331.3,405.0L1329.0,402.7L1328.2,402.0L1326.0,399.9L1325.1,399.0L1323.0,396.8L1322.3,396.0L1320.0,393.3L1319.7,393.0L1317.7,390.0L1317.0,389.0L1315.9,387.0L1314.3,384.0L1314.0,383.4L1312.9,381.0L1311.6,378.0L1311.0,376.6L1310.3,375.0L1309.1,372.0L1308.0,369.1L1308.0,369.0L1306.8,366.0L1305.8,363.0L1305.0,360.9L1304.7,360.0L1303.7,357.0L1302.7,354.0L1302.0,351.6L1301.8,351.0L1301.1,348.0L1300.4,345.0L1299.7,342.0L1299.2,339.0L1299.0,337.8L1298.7,336.0L1298.4,333.0L1298.5,330.0L1298.1,327.0L1298.6,324.0L1298.5,321.0L1298.4,318.0L1298.5,315.0L1298.8,312.0L1299.0,310.5L1299.2,309.0L1299.8,306.0L1300.4,303.0L1301.1,300.0L1301.9,297.0L1302.0,296.5L1302.8,294.0L1303.9,291.0L1305.0,288.6L1305.3,288.0L1307.0,285.0L1308.0,283.6L1309.4,282.0L1311.0,280.3L1312.4,279.0L1314.0,277.6L1315.9,276.0L1317.0,275.2L1320.0,273.0L1320.0,273.0L1323.0,270.9L1324.3,270.0L1326.0,268.8L1328.7,267.0L1329.0,266.8L1332.0,264.5L1332.6,264.0L1335.0,261.8L1335.8,261.0Z" fill="#0064ff" fill-rule="evenodd"/><path d="M589.2,177.0L591.0,176.4L594.0,175.7L597.0,175.3L600.0,175.3L603.0,175.7L606.0,176.1L608.7,177.0L609.0,177.1L612.0,178.3L615.0,179.9L615.3,180.0L618.0,182.1L618.7,183.0L619.9,186.0L620.5,189.0L620.2,192.0L620.1,195.0L619.2,198.0L619.1,201.0L618.7,204.0L618.0,205.5L616.1,207.0L615.0,207.5L613.2,210.0L612.0,211.8L611.3,213.0L609.5,216.0L609.0,216.9L607.8,219.0L606.2,222.0L606.0,222.3L604.5,225.0L603.1,228.0L603.0,228.2L601.5,231.0L600.2,234.0L600.0,234.4L598.8,237.0L597.7,240.0L597.0,242.3L596.8,243.0L596.2,246.0L596.0,249.0L596.2,252.0L596.6,255.0L597.0,257.2L597.1,258.0L597.9,261.0L598.7,264.0L599.6,267.0L600.0,268.1L600.7,270.0L601.8,273.0L603.0,275.7L603.1,276.0L604.6,279.0L606.0,281.7L606.2,282.0L607.9,285.0L609.0,286.9L609.7,288.0L611.7,291.0L612.0,291.4L613.9,294.0L615.0,295.4L616.4,297.0L618.0,298.8L619.3,300.0L621.0,301.7L623.7,303.0L624.0,303.2L627.0,304.7L628.7,306.0L630.0,307.1L633.0,308.7L633.5,309.0L636.0,311.0L638.0,312.0L639.0,312.8L642.0,314.8L642.3,315.0L645.0,317.6L645.4,318.0L646.6,321.0L648.0,324.0L648.0,324.0L648.0,324.0L646.2,327.0L645.2,330.0L645.8,333.0L646.2,336.0L646.3,339.0L645.1,342.0L645.0,342.0L644.7,342.0L642.0,340.4L639.8,339.0L639.0,337.0L637.8,336.0L636.0,334.9L633.0,335.8L632.7,336.0L630.0,337.1L627.0,338.6L626.3,339.0L624.0,340.0L621.0,341.5L620.0,342.0L618.0,342.8L615.0,344.2L613.3,345.0L612.0,345.5L609.0,346.9L606.9,348.0L606.0,348.5L603.0,349.9L600.2,351.0L600.0,351.1L597.0,352.8L594.9,354.0L594.0,354.7L591.0,356.7L590.6,357.0L588.0,359.0L586.7,360.0L585.0,361.3L583.1,363.0L582.0,363.8L579.5,366.0L579.0,366.3L576.0,367.2L573.0,367.4L570.0,368.0L567.8,369.0L567.0,369.3L564.0,371.3L563.2,372.0L561.0,373.8L559.7,375.0L558.0,376.7L556.9,378.0L555.0,381.0L555.0,381.0L554.4,384.0L554.3,387.0L554.6,390.0L555.0,391.8L555.3,393.0L556.4,396.0L558.0,398.6L558.3,399.0L560.3,402.0L561.0,404.1L561.2,405.0L561.0,405.2L558.0,407.6L557.2,408.0L555.0,409.2L552.0,410.6L551.3,411.0L549.0,412.1L546.0,413.6L545.1,414.0L543.0,415.0L540.0,416.5L539.1,417.0L537.0,418.0L534.0,419.5L533.0,420.0L531.0,421.0L528.0,422.4L526.8,423.0L525.0,423.9L522.0,425.3L520.5,426.0L519.0,426.7L516.0,428.1L513.9,429.0L513.0,429.4L510.0,430.8L507.2,432.0L507.0,432.1L504.0,433.5L501.0,434.7L500.3,435.0L498.0,436.0L495.0,437.3L493.2,438.0L492.0,438.5L489.0,439.8L486.0,440.9L485.7,441.0L483.0,442.1L480.0,443.3L478.2,444.0L477.0,444.5L474.0,445.7L471.0,446.9L470.7,447.0L468.0,448.0L465.0,449.2L463.0,450.0L462.0,450.4L459.0,451.5L456.0,452.6L454.3,453.0L453.0,453.3L450.0,454.6L449.0,456.0L447.0,457.4L444.0,458.4L441.5,459.0L441.0,459.3L438.0,460.1L435.0,460.3L432.0,461.1L430.6,462.0L429.0,462.6L426.0,463.7L423.0,464.7L420.0,464.3L418.1,462.0L417.3,459.0L417.0,458.7L414.0,457.8L411.0,457.8L408.0,457.8L405.0,457.7L402.0,458.2L399.0,458.6L397.3,459.0L396.0,459.5L393.0,460.8L390.0,462.0L390.0,462.0L387.0,462.8L384.0,463.6L381.0,464.4L378.8,465.0L378.0,465.2L375.0,466.0L372.0,466.7L369.0,467.4L366.4,468.0L366.0,468.1L363.0,468.9L360.0,469.7L357.0,470.4L354.6,471.0L354.0,471.2L351.0,472.0L348.0,472.9L345.0,473.7L344.0,474.0L342.0,474.6L339.0,475.6L336.0,476.6L334.9,477.0L333.0,477.8L330.0,479.1L328.1,480.0L327.0,480.7L324.0,483.0L324.0,483.0L321.2,486.0L321.0,486.2L319.0,489.0L318.0,490.7L317.3,492.0L315.9,495.0L315.0,497.4L314.7,498.0L313.2,501.0L312.0,502.7L310.9,504.0L309.0,505.7L307.3,507.0L306.0,507.8L303.0,509.2L301.0,510.0L300.0,510.4L297.0,511.4L294.0,512.3L291.1,513.0L291.0,513.0L288.0,513.6L285.0,514.2L282.0,514.6L279.0,515.0L276.0,515.3L273.0,515.5L270.0,515.6L267.0,515.6L264.0,515.5L261.0,515.4L258.0,515.3L255.0,515.1L252.0,514.9L249.0,514.7L246.0,514.4L243.0,514.1L240.0,513.8L237.0,513.5L234.0,513.2L231.7,513.0L231.0,512.9L228.0,512.6L225.0,512.2L222.0,510.5L221.6,510.0L219.0,508.3L216.0,507.1L215.7,507.0L213.0,506.4L210.0,505.6L207.0,504.7L204.4,504.0L204.0,503.9L201.0,503.1L198.0,502.3L195.0,501.5L193.1,501.0L192.0,500.7L189.0,499.9L186.0,499.2L183.0,498.5L181.1,498.0L180.0,497.7L177.0,497.0L174.0,496.3L171.0,495.6L168.4,495.0L168.0,494.9L165.0,494.1L162.0,493.4L159.0,492.6L157.0,492.0L156.0,491.7L153.0,490.8L150.0,489.9L147.1,489.0L147.0,489.0L144.0,488.0L141.0,487.0L138.0,486.0L138.0,486.0L135.0,484.9L132.0,483.8L129.6,483.0L129.0,482.8L126.0,481.6L123.0,480.4L121.9,480.0L120.0,479.1L117.0,477.8L114.9,477.0L114.0,476.6L111.0,475.2L108.1,474.0L108.0,473.9L105.0,472.4L102.2,471.0L102.0,470.9L99.0,469.0L97.5,468.0L96.0,466.8L93.9,465.0L93.0,464.0L91.3,462.0L90.0,459.9L89.4,459.0L87.9,456.0L87.0,453.9L86.5,453.0L85.2,450.0L84.0,447.7L83.6,447.0L81.8,444.0L81.0,442.8L79.7,441.0L78.0,438.9L77.2,438.0L75.0,435.8L74.2,435.0L72.0,433.3L70.1,432.0L69.0,431.4L66.0,429.8L64.3,429.0L63.0,428.5L60.0,427.3L57.0,426.2L56.6,426.0L54.0,425.1L51.0,424.1L48.1,423.0L48.0,423.0L45.0,421.9L42.0,420.8L40.2,420.0L39.0,419.5L36.0,418.2L33.5,417.0L33.0,416.7L30.0,415.2L27.9,414.0L27.0,413.5L24.0,411.8L22.7,411.0L21.0,410.0L18.0,408.1L17.8,408.0L15.0,406.3L12.9,405.0L12.0,404.4L9.0,402.5L8.2,402.0L6.0,400.6L3.4,399.0L3.0,398.7L0.0,396.9L-1.5,396.0L-3.0,395.1L-6.0,393.4L-6.0,393.0L-6.0,390.0L-6.0,387.0L-6.0,384.0L-6.0,381.0L-6.0,378.0L-6.0,375.0L-6.0,372.0L-6.0,369.0L-6.0,366.0L-6.0,363.0L-6.0,360.0L-6.0,357.0L-6.0,354.0L-6.0,351.0L-6.0,348.0L-6.0,345.0L-6.0,342.0L-6.0,339.0L-6.0,336.0L-6.0,333.0L-6.0,330.0L-6.0,327.0L-6.0,324.0L-6.0,321.0L-6.0,318.0L-6.0,315.0L-6.0,312.0L-6.0,309.0L-6.0,306.0L-6.0,303.0L-6.0,300.0L-6.0,297.0L-6.0,294.0L-6.0,292.9L-3.0,291.7L-0.8,291.0L0.0,290.8L3.0,290.0L6.0,289.3L9.0,288.7L11.9,288.0L12.0,288.0L15.0,287.1L18.0,286.1L20.7,285.0L21.0,284.9L24.0,283.1L25.5,282.0L27.0,280.6L28.4,279.0L30.0,276.7L30.4,276.0L32.1,273.0L33.0,271.1L33.5,270.0L34.9,267.0L36.0,264.5L36.2,264.0L37.7,261.0L39.0,258.4L39.2,258.0L40.6,255.0L41.9,252.0L42.0,251.8L43.0,249.0L44.3,246.0L45.0,244.6L45.9,243.0L48.0,240.3L48.3,240.0L51.0,237.7L51.9,237.0L54.0,235.8L57.0,234.3L57.8,234.0L60.0,233.1L63.0,232.1L66.0,231.2L66.7,231.0L69.0,230.4L72.0,229.7L75.0,229.1L78.0,228.4L80.4,228.0L81.0,227.9L84.0,227.4L87.0,226.9L90.0,226.5L93.0,226.1L96.0,225.8L99.0,225.5L102.0,225.3L105.0,225.1L105.9,225.0L108.0,224.9L111.0,224.7L114.0,224.6L117.0,224.4L120.0,224.3L123.0,224.2L126.0,224.1L129.0,224.0L132.0,223.9L135.0,223.8L138.0,223.7L141.0,223.6L144.0,223.5L147.0,223.4L150.0,223.3L153.0,223.2L156.0,223.2L159.0,223.1L162.0,223.0L165.0,223.0L168.0,222.9L171.0,222.8L174.0,222.8L177.0,222.7L180.0,222.7L183.0,222.6L186.0,222.5L189.0,222.5L192.0,222.4L195.0,222.4L198.0,222.3L201.0,222.3L204.0,222.2L207.0,222.2L210.0,222.1L213.0,222.1L216.0,222.1L219.0,222.2L222.0,224.6L222.8,225.0L225.0,225.3L228.0,225.4L231.0,225.5L234.0,225.5L237.0,225.5L240.0,225.6L243.0,225.6L246.0,225.7L249.0,225.7L252.0,225.7L255.0,225.8L258.0,225.8L261.0,225.8L264.0,225.9L267.0,225.9L270.0,225.9L273.0,226.0L276.0,226.0L279.0,226.1L282.0,226.1L285.0,226.1L288.0,226.2L291.0,226.2L294.0,226.2L297.0,226.3L300.0,226.3L303.0,226.3L306.0,226.4L309.0,226.4L312.0,226.4L315.0,226.5L318.0,226.5L321.0,226.5L324.0,226.6L327.0,226.6L330.0,226.6L333.0,226.7L336.0,226.7L339.0,226.7L342.0,226.8L345.0,226.8L348.0,226.9L351.0,226.9L354.0,227.0L357.0,227.0L360.0,227.1L363.0,227.1L366.0,227.2L369.0,227.2L372.0,227.3L375.0,227.3L378.0,227.4L381.0,227.5L384.0,227.5L387.0,227.6L390.0,227.7L393.0,227.7L396.0,227.8L399.0,227.9L402.0,227.9L405.0,228.0L405.2,228.0L408.0,228.1L411.0,228.1L414.0,228.2L417.0,228.2L420.0,228.3L423.0,228.4L426.0,228.4L429.0,228.5L432.0,228.5L435.0,228.6L438.0,228.6L441.0,228.8L444.0,229.7L447.0,230.4L450.0,230.5L453.0,230.5L456.0,230.4L459.0,230.4L462.0,230.4L465.0,230.4L468.0,230.3L471.0,230.3L474.0,230.3L477.0,230.3L480.0,230.3L483.0,230.3L486.0,230.4L489.0,230.4L492.0,230.5L495.0,230.6L498.0,230.8L499.9,231.0L501.0,231.1L504.0,231.6L507.0,232.3L510.0,233.0L513.0,233.7L514.7,234.0L516.0,234.2L519.0,234.6L522.0,234.6L525.0,234.2L526.0,234.0L528.0,233.5L531.0,232.3L534.0,231.0L534.1,231.0L537.0,229.4L539.4,228.0L540.0,227.6L543.0,225.6L543.8,225.0L546.0,223.3L547.7,222.0L549.0,220.9L551.3,219.0L552.0,218.3L554.6,216.0L555.0,215.5L557.5,213.0L558.0,212.3L559.8,210.0L561.0,208.1L561.9,207.0L564.0,204.6L564.6,204.0L566.7,201.0L567.0,200.5L569.2,198.0L570.0,196.4L570.8,195.0L572.4,192.0L573.0,191.1L574.2,189.0L576.0,186.7L576.5,186.0L579.0,183.2L579.2,183.0L582.0,180.8L583.2,180.0L585.0,179.0L588.0,177.5L589.2,177.0ZM1334.9,297.0L1335.0,297.0L1338.0,295.0L1338.0,297.0L1338.0,300.0L1338.0,303.0L1338.0,306.0L1338.0,309.0L1338.0,312.0L1338.0,315.0L1338.0,318.0L1338.0,321.0L1338.0,324.0L1338.0,327.0L1338.0,330.0L1338.0,333.0L1338.0,336.0L1338.0,339.0L1338.0,342.0L1338.0,345.0L1338.0,348.0L1338.0,351.0L1338.0,354.0L1338.0,357.0L1338.0,360.0L1338.0,363.0L1338.0,366.0L1338.0,369.0L1338.0,372.0L1338.0,375.0L1338.0,376.3L1336.9,375.0L1335.0,372.6L1334.6,372.0L1332.6,369.0L1332.0,368.0L1330.9,366.0L1329.5,363.0L1329.0,362.0L1328.1,360.0L1326.7,357.0L1326.0,355.6L1325.3,354.0L1324.0,351.0L1323.0,348.7L1322.7,348.0L1321.6,345.0L1320.7,342.0L1320.0,339.2L1320.0,339.0L1319.4,336.0L1318.7,333.0L1317.3,330.0L1317.0,327.0L1317.0,326.9L1316.5,324.0L1316.5,321.0L1316.8,318.0L1317.0,316.9L1317.5,315.0L1319.0,312.0L1320.0,310.5L1321.3,309.0L1323.0,307.2L1324.2,306.0L1326.0,304.3L1327.5,303.0L1329.0,301.7L1330.9,300.0L1332.0,299.2L1334.9,297.0Z" fill="#0098ff" fill-rule="evenodd"/><path d="M197.6,240.0L198.0,240.0L201.0,239.6L204.0,239.3L207.0,239.0L210.0,238.7L213.0,238.4L216.0,238.1L219.0,237.7L222.0,237.5L225.0,237.5L228.0,237.5L231.0,237.5L234.0,237.5L237.0,237.4L240.0,237.4L243.0,237.4L246.0,237.4L249.0,237.4L252.0,237.4L255.0,237.4L258.0,237.4L261.0,237.4L264.0,237.3L267.0,237.3L270.0,237.3L273.0,237.3L276.0,237.3L279.0,237.3L282.0,237.3L285.0,237.3L288.0,237.3L291.0,237.3L294.0,237.3L297.0,237.3L300.0,237.3L303.0,237.3L306.0,237.3L309.0,237.3L312.0,237.3L315.0,237.4L318.0,237.4L321.0,237.4L324.0,237.4L327.0,237.5L330.0,237.5L333.0,237.5L336.0,237.5L339.0,237.6L342.0,237.6L345.0,237.7L348.0,237.7L351.0,237.7L354.0,237.8L357.0,237.8L360.0,237.9L363.0,237.9L366.0,237.9L369.0,238.0L372.0,238.0L375.0,238.1L378.0,238.1L381.0,238.2L384.0,238.2L387.0,238.3L390.0,238.3L393.0,238.4L396.0,238.4L399.0,238.5L402.0,238.5L405.0,238.6L408.0,238.6L411.0,238.7L414.0,238.7L417.0,238.8L420.0,238.8L423.0,238.9L426.0,238.9L429.0,239.0L432.0,239.0L435.0,239.0L438.0,239.1L441.0,239.4L442.6,240.0L444.0,241.2L446.5,243.0L447.0,243.1L450.0,243.7L453.0,244.3L456.0,244.9L459.0,245.4L462.0,246.0L462.1,246.0L465.0,246.5L468.0,247.0L471.0,247.5L474.0,248.1L477.0,248.6L479.3,249.0L480.0,249.1L483.0,249.6L486.0,250.0L489.0,250.4L492.0,250.8L495.0,251.2L498.0,251.5L501.0,251.7L504.0,251.9L507.0,252.0L508.5,252.0L510.0,252.0L513.0,252.0L513.0,252.0L516.0,251.9L519.0,251.8L522.0,251.7L525.0,251.5L528.0,251.4L531.0,251.1L534.0,250.8L537.0,250.4L540.0,250.0L543.0,249.4L545.4,249.0L546.0,248.9L549.0,248.4L552.0,247.9L555.0,247.5L558.0,247.2L561.0,247.0L564.0,247.7L567.0,249.0L567.0,249.0L570.0,250.3L572.5,252.0L573.0,252.4L575.7,255.0L576.0,255.3L578.1,258.0L579.0,259.1L580.5,261.0L582.0,263.5L582.3,264.0L584.1,267.0L585.0,268.6L585.7,270.0L586.9,273.0L588.0,275.6L588.1,276.0L589.3,279.0L590.6,282.0L591.0,283.6L591.6,285.0L593.2,288.0L594.0,290.4L594.3,291.0L595.7,294.0L596.6,297.0L596.7,300.0L597.0,301.6L598.2,303.0L599.0,306.0L599.4,309.0L599.9,312.0L600.0,312.7L600.9,315.0L601.9,318.0L602.3,321.0L602.7,324.0L602.8,327.0L602.7,330.0L602.9,333.0L600.0,335.2L599.3,336.0L597.0,336.8L594.0,339.0L594.0,339.0L591.0,341.9L590.9,342.0L589.1,345.0L588.0,345.7L585.0,346.1L582.0,347.8L581.8,348.0L579.0,350.7L578.7,351.0L576.0,353.3L575.3,354.0L573.0,356.1L572.0,357.0L570.0,358.8L568.7,360.0L567.0,361.4L565.3,363.0L564.0,364.2L562.3,366.0L561.0,367.2L559.3,369.0L558.0,370.3L556.4,372.0L555.0,373.4L553.5,375.0L552.0,376.7L551.0,378.0L549.6,381.0L549.0,383.6L548.9,384.0L548.4,387.0L548.1,390.0L547.8,393.0L547.4,396.0L546.7,399.0L546.0,400.4L544.8,402.0L543.0,403.4L540.4,405.0L540.0,405.2L537.0,407.1L535.5,408.0L534.0,408.9L531.0,410.7L530.5,411.0L528.0,412.5L525.5,414.0L525.0,414.3L522.0,416.1L520.4,417.0L519.0,417.8L516.0,419.6L515.3,420.0L513.0,421.3L510.0,423.0L510.0,423.0L507.0,424.7L504.7,426.0L504.0,426.3L501.0,427.9L499.0,429.0L498.0,429.5L495.0,430.7L492.2,432.0L492.0,432.1L489.0,433.1L486.0,434.0L483.0,434.7L481.9,435.0L480.0,435.4L477.0,436.2L474.0,437.1L471.5,438.0L471.0,438.2L468.0,439.4L465.0,440.5L463.8,441.0L462.0,441.8L459.0,443.0L456.6,444.0L456.0,444.2L453.0,445.2L450.3,447.0L450.0,447.2L447.0,450.0L447.3,453.0L447.0,453.4L445.6,456.0L444.0,456.9L441.0,457.7L438.0,457.8L435.0,456.4L434.4,456.0L432.0,454.8L429.0,455.3L426.0,455.2L423.0,455.2L420.0,455.3L417.0,455.1L414.0,454.8L411.0,453.4L408.0,453.7L406.0,453.0L405.0,452.8L403.5,453.0L402.0,453.4L399.0,453.2L396.0,454.0L393.0,454.2L390.0,454.5L387.0,454.7L384.0,454.8L381.0,454.5L378.0,454.2L375.0,454.1L372.0,455.0L369.0,455.6L366.0,455.9L365.3,456.0L363.0,456.3L360.0,456.5L357.0,456.9L354.0,457.2L351.0,457.5L348.0,457.9L345.0,458.2L342.0,458.6L339.0,458.9L338.6,459.0L336.0,459.3L333.0,459.7L330.0,460.1L327.0,460.5L324.0,460.8L321.0,461.2L318.0,461.5L315.0,461.9L313.9,462.0L312.0,462.3L309.0,462.7L306.0,463.1L303.0,463.5L300.0,464.0L297.0,464.4L294.0,464.9L293.2,465.0L291.0,465.4L288.0,466.0L285.0,466.6L282.0,467.2L279.0,467.9L278.6,468.0L276.0,468.7L273.0,469.5L270.0,470.3L267.4,471.0L267.0,471.1L264.0,472.0L261.0,472.8L258.0,473.6L256.3,474.0L255.0,474.3L252.0,475.1L249.0,475.8L246.0,476.6L244.4,477.0L243.0,477.3L240.0,478.1L237.0,478.8L234.0,479.6L232.4,480.0L231.0,480.3L228.0,481.1L225.0,481.8L222.0,482.5L219.0,482.5L216.0,482.3L213.0,482.0L210.0,481.8L207.0,481.5L204.0,481.3L201.0,481.0L198.0,480.7L195.0,480.3L193.0,480.0L192.0,479.8L189.0,479.2L186.0,478.3L183.0,477.4L181.8,477.0L180.0,476.2L177.0,474.7L175.8,474.0L174.0,472.6L172.2,471.0L171.0,469.2L170.2,468.0L169.3,465.0L169.1,462.0L169.5,459.0L170.5,456.0L171.0,455.2L172.3,453.0L174.0,450.6L174.5,450.0L176.8,447.0L177.0,446.8L178.9,444.0L180.0,441.4L180.2,441.0L180.4,438.0L180.0,436.5L179.7,435.0L178.2,432.0L177.0,430.3L176.2,429.0L174.0,426.5L173.6,426.0L171.0,423.3L170.7,423.0L168.0,420.6L167.4,420.0L165.0,418.3L163.0,417.0L162.0,416.5L159.0,415.2L156.0,414.2L155.4,414.0L153.0,413.5L150.0,413.1L147.0,412.8L144.0,412.6L141.0,412.5L138.0,412.5L135.0,412.5L132.0,412.5L129.0,412.4L126.0,412.4L123.0,412.2L120.0,412.1L117.0,411.9L114.0,411.8L111.0,411.7L108.0,411.6L105.0,411.4L102.0,411.3L99.0,411.2L96.0,411.1L94.6,411.0L93.0,410.9L90.0,410.8L87.0,410.6L84.0,410.4L81.0,410.2L78.0,409.9L75.0,409.6L72.0,409.2L69.0,408.7L66.0,408.2L65.2,408.0L63.0,407.5L60.0,406.8L57.0,406.0L54.0,405.1L53.7,405.0L51.0,404.1L48.0,403.0L45.7,402.0L45.0,401.7L42.0,400.4L39.0,399.0L39.0,399.0L36.0,397.6L33.0,396.0L32.9,396.0L30.0,394.4L27.6,393.0L27.0,392.7L24.0,390.8L22.7,390.0L21.0,388.9L18.1,387.0L18.0,386.9L15.0,384.9L13.7,384.0L12.0,382.8L9.4,381.0L9.0,380.7L6.0,378.6L5.1,378.0L3.0,376.5L0.7,375.0L0.0,374.5L-3.0,372.1L-3.1,372.0L-6.0,369.1L-6.0,369.0L-6.0,366.0L-6.0,363.0L-6.0,360.0L-6.0,357.0L-6.0,354.0L-6.0,351.0L-6.0,348.0L-6.0,345.0L-6.0,342.0L-6.0,339.0L-6.0,336.0L-6.0,333.0L-6.0,330.0L-6.0,327.0L-6.0,324.0L-6.0,322.3L-4.5,321.0L-3.0,320.0L0.0,318.3L0.6,318.0L3.0,317.1L6.0,316.0L8.7,315.0L9.0,314.9L12.0,313.7L15.0,312.7L17.0,312.0L18.0,311.6L21.0,310.5L24.0,309.4L25.1,309.0L27.0,308.2L30.0,307.1L32.6,306.0L33.0,305.8L36.0,304.6L39.0,303.1L39.3,303.0L42.0,301.6L44.9,300.0L45.0,299.9L48.0,297.9L49.1,297.0L51.0,295.4L52.3,294.0L54.0,292.2L54.9,291.0L57.0,288.2L57.2,288.0L59.2,285.0L60.0,283.6L60.9,282.0L62.3,279.0L63.0,277.0L63.3,276.0L64.3,273.0L65.2,270.0L66.0,267.7L66.2,267.0L67.5,264.0L69.0,261.5L69.4,261.0L72.0,258.1L72.1,258.0L75.0,255.9L76.5,255.0L78.0,254.2L81.0,252.9L83.6,252.0L84.0,251.9L87.0,251.0L90.0,250.3L93.0,249.6L96.0,249.0L96.0,249.0L99.0,248.5L102.0,248.0L105.0,247.5L108.0,247.1L111.0,246.8L114.0,246.5L117.0,246.3L120.0,246.2L123.0,246.0L123.1,246.0L126.0,245.9L129.0,245.7L132.0,245.6L135.0,245.5L138.0,245.3L141.0,245.2L144.0,245.0L147.0,244.8L150.0,244.6L153.0,244.4L156.0,244.1L159.0,243.9L162.0,243.6L165.0,243.3L168.0,243.1L168.6,243.0L171.0,242.7L174.0,242.4L177.0,242.1L180.0,241.8L183.0,241.5L186.0,241.2L189.0,240.9L192.0,240.6L195.0,240.3L197.6,240.0ZM444.0,449.9L443.4,450.0L444.0,450.1L446.8,450.0L444.0,449.9ZM602.0,339.0L603.0,336.7L603.2,339.0L603.0,339.5L602.0,339.0Z" fill="#00ccff" fill-rule="evenodd"/><path d="M239.9,249.0L240.0,249.0L243.0,248.8L246.0,248.5L249.0,248.3L252.0,248.1L255.0,247.9L258.0,247.7L261.0,247.5L264.0,247.3L267.0,247.2L270.0,247.0L273.0,246.8L276.0,246.7L279.0,246.5L282.0,246.4L285.0,246.3L288.0,246.2L291.0,246.1L294.0,246.1L297.0,246.0L300.0,246.0L303.0,246.0L306.0,246.1L309.0,246.1L312.0,246.2L315.0,246.3L318.0,246.4L321.0,246.5L324.0,246.6L327.0,246.7L330.0,246.8L333.0,246.9L336.0,247.0L339.0,247.2L342.0,247.3L345.0,247.4L348.0,247.5L351.0,247.6L354.0,247.7L357.0,247.7L360.0,247.8L363.0,247.9L366.0,247.9L369.0,248.0L372.0,248.1L375.0,248.1L378.0,248.2L381.0,248.3L384.0,248.3L387.0,248.4L390.0,248.4L393.0,248.5L396.0,248.6L399.0,248.6L402.0,248.7L405.0,248.7L408.0,248.8L411.0,248.9L414.0,248.9L417.0,249.0L417.7,249.0L420.0,249.0L423.0,249.1L426.0,249.2L429.0,249.2L432.0,249.3L435.0,249.3L438.0,249.4L441.0,249.8L443.8,252.0L444.0,252.1L447.0,253.5L450.0,254.5L451.8,255.0L453.0,255.3L456.0,256.1L459.0,256.8L462.0,257.5L464.0,258.0L465.0,258.3L468.0,259.0L471.0,259.7L474.0,260.4L476.4,261.0L477.0,261.1L480.0,261.8L483.0,262.5L486.0,263.2L489.0,263.8L489.9,264.0L492.0,264.4L495.0,265.0L498.0,265.5L501.0,266.0L504.0,266.4L507.0,266.7L510.0,267.0L510.0,267.0L513.0,267.2L516.0,267.5L519.0,267.7L522.0,267.9L525.0,268.1L528.0,268.3L531.0,268.6L534.0,268.8L537.0,268.9L540.0,269.0L543.0,269.0L546.0,269.0L549.0,269.1L552.0,269.3L555.0,269.5L558.0,269.8L561.0,269.8L561.3,270.0L564.0,271.3L566.2,273.0L567.0,273.5L569.5,276.0L570.0,276.5L571.9,279.0L573.0,280.7L573.8,282.0L575.3,285.0L576.0,286.5L576.9,288.0L578.1,291.0L579.0,293.5L579.2,294.0L579.5,297.0L579.0,297.4L576.0,298.5L575.1,300.0L575.5,303.0L576.0,303.3L579.0,303.7L582.0,303.4L583.2,306.0L584.7,309.0L585.0,311.4L585.5,312.0L586.3,315.0L586.4,318.0L587.9,321.0L587.9,324.0L587.7,327.0L587.5,330.0L587.4,333.0L586.2,336.0L586.2,339.0L585.0,340.3L582.0,341.3L581.4,342.0L579.0,344.0L578.2,345.0L576.0,347.4L575.4,348.0L573.0,350.3L572.3,351.0L570.0,353.2L569.2,354.0L567.0,356.2L566.2,357.0L564.0,359.2L563.3,360.0L561.0,362.4L560.5,363.0L558.0,365.9L557.9,366.0L555.2,369.0L555.0,369.2L552.3,372.0L552.0,372.4L549.8,375.0L549.0,375.9L547.4,378.0L546.0,381.0L546.0,381.0L544.6,384.0L543.3,387.0L543.0,387.8L541.8,390.0L540.2,393.0L540.0,393.4L538.0,396.0L537.0,397.0L534.9,399.0L534.0,399.7L531.0,402.0L531.0,402.0L528.0,403.8L525.9,405.0L525.0,405.5L522.0,407.2L520.7,408.0L519.0,409.0L516.0,410.7L515.4,411.0L513.0,412.4L510.2,414.0L510.0,414.1L507.0,415.8L505.0,417.0L504.0,417.5L501.0,419.2L499.5,420.0L498.0,420.9L495.0,422.4L493.9,423.0L492.0,424.0L489.0,425.4L487.7,426.0L486.0,426.7L483.0,427.9L480.0,428.9L479.7,429.0L477.0,429.9L474.0,431.0L471.0,432.0L470.9,432.0L468.0,433.5L465.0,434.4L463.6,435.0L462.0,435.8L459.0,437.1L456.6,438.0L456.0,438.3L453.0,439.6L450.0,441.0L449.9,441.0L447.0,443.5L444.0,443.1L441.0,443.0L438.0,443.9L437.8,444.0L438.0,444.5L441.0,444.9L444.0,444.5L446.4,447.0L444.0,448.5L441.0,448.7L438.0,448.0L435.9,450.0L435.0,452.3L432.0,452.3L429.0,452.4L427.3,453.0L426.0,453.1L423.0,453.1L420.0,453.6L417.0,453.0L416.6,453.0L414.0,452.7L411.0,451.4L408.0,452.0L405.0,451.4L402.0,451.7L399.0,451.4L396.0,451.9L393.0,451.7L390.0,451.9L387.0,451.4L384.0,450.9L382.2,450.0L381.0,449.7L378.0,449.4L375.0,449.2L372.0,449.1L369.0,449.2L366.0,449.2L363.0,449.3L360.0,449.3L357.0,449.4L354.0,449.3L351.0,449.4L348.0,449.3L345.0,449.3L342.0,449.2L339.0,449.0L336.0,448.8L333.0,448.5L330.0,448.1L327.0,447.8L324.0,447.6L321.0,447.5L318.0,447.3L315.0,447.2L312.9,447.0L312.0,446.9L309.0,446.5L306.0,446.1L303.0,445.7L300.0,445.2L297.0,444.8L294.0,444.4L291.2,444.0L291.0,444.0L288.0,443.5L285.0,443.0L282.0,442.5L279.0,442.2L276.0,441.7L273.0,441.3L270.6,441.0L270.0,440.9L267.0,440.5L264.0,440.1L261.0,439.7L258.0,439.3L255.0,438.9L252.0,438.5L249.0,438.1L248.1,438.0L246.0,437.7L243.0,437.4L240.0,437.0L237.0,436.6L234.0,436.2L231.0,435.8L228.0,435.4L225.2,435.0L225.0,435.0L222.0,433.0L221.5,432.0L219.0,430.4L216.7,429.0L216.0,428.8L213.0,427.5L210.0,426.1L209.8,426.0L207.0,424.8L204.0,423.5L202.8,423.0L201.0,422.3L198.0,421.0L195.8,420.0L195.0,419.7L192.0,418.5L189.0,417.2L188.6,417.0L186.0,415.9L183.0,414.5L182.0,414.0L180.0,413.1L177.0,411.6L175.9,411.0L174.0,410.1L171.0,408.8L169.2,408.0L168.0,407.5L165.0,406.4L162.0,405.4L160.8,405.0L159.0,404.5L156.0,403.8L153.0,403.2L150.0,402.7L147.0,402.4L144.0,402.0L143.5,402.0L141.0,401.8L138.0,401.6L135.0,401.5L132.0,401.3L129.0,401.2L126.0,401.1L123.0,401.0L120.0,400.9L117.0,400.8L114.0,400.7L111.0,400.6L108.0,400.4L105.0,400.2L102.0,399.9L99.0,399.6L96.0,399.3L93.0,399.0L92.6,399.0L90.0,398.7L87.0,398.4L84.0,398.0L81.0,397.6L78.0,397.1L75.0,396.5L72.9,396.0L72.0,395.8L69.0,394.9L66.0,394.0L63.0,393.0L63.0,393.0L60.0,391.9L57.0,390.7L55.4,390.0L54.0,389.4L51.0,388.1L48.6,387.0L48.0,386.7L45.0,385.3L42.5,384.0L42.0,383.7L39.0,382.2L36.9,381.0L36.0,380.5L33.0,378.7L31.8,378.0L30.0,376.8L27.3,375.0L27.0,374.8L24.0,372.5L23.3,372.0L21.0,370.1L19.7,369.0L18.0,367.3L16.7,366.0L15.0,364.1L14.0,363.0L12.0,360.2L11.9,360.0L10.2,357.0L9.0,354.0L9.0,353.8L8.3,351.0L8.0,348.0L8.1,345.0L8.8,342.0L9.0,341.5L10.0,339.0L11.5,336.0L12.0,335.1L13.4,333.0L15.0,330.8L15.9,330.0L18.0,328.7L21.0,328.1L24.0,327.1L24.3,327.0L27.0,326.2L30.0,325.2L33.0,324.1L33.2,324.0L36.0,323.0L39.0,321.8L41.4,321.0L42.0,320.8L45.0,319.7L48.0,318.7L50.1,318.0L51.0,317.6L54.0,316.4L57.0,315.2L57.6,315.0L60.0,313.9L63.0,312.5L64.3,312.0L66.0,311.0L69.0,309.4L69.9,309.0L72.0,307.4L74.1,306.0L75.0,305.1L77.4,303.0L78.0,302.3L80.3,300.0L81.0,299.1L82.8,297.0L84.0,295.4L85.1,294.0L87.0,291.6L87.5,291.0L90.0,288.1L90.1,288.0L93.0,285.1L93.1,285.0L96.0,282.6L96.8,282.0L99.0,280.4L101.1,279.0L102.0,278.4L105.0,276.5L105.9,276.0L108.0,274.8L111.0,273.1L111.3,273.0L114.0,271.6L117.0,270.1L117.1,270.0L120.0,268.5L122.9,267.0L123.0,266.9L126.0,265.2L128.1,264.0L129.0,263.5L132.0,261.8L133.6,261.0L135.0,260.4L138.0,259.1L141.0,258.0L141.0,258.0L144.0,257.1L147.0,256.4L150.0,255.7L153.0,255.2L154.0,255.0L156.0,254.7L159.0,254.4L162.0,254.0L165.0,253.8L168.0,253.5L171.0,253.2L174.0,253.0L177.0,252.8L180.0,252.6L183.0,252.4L186.0,252.2L189.0,252.0L189.5,252.0L192.0,251.9L195.0,251.7L198.0,251.5L201.0,251.4L204.0,251.2L207.0,251.1L210.0,250.9L213.0,250.8L216.0,250.6L219.0,250.5L222.0,250.3L225.0,250.1L228.0,249.9L231.0,249.6L234.0,249.4L237.0,249.2L239.9,249.0ZM437.5,453.0L438.0,452.9L441.0,451.5L444.0,452.0L445.1,453.0L444.0,454.7L442.2,456.0L441.0,456.4L438.5,456.0L438.0,453.7L437.5,453.0Z" fill="#16ffe1" fill-rule="evenodd"/><path d="M245.4,258.0L246.0,258.0L249.0,257.8L252.0,257.6L255.0,257.4L258.0,257.2L261.0,257.0L264.0,256.9L267.0,256.7L270.0,256.5L273.0,256.4L276.0,256.3L279.0,256.1L282.0,256.0L285.0,255.9L288.0,255.9L291.0,255.8L294.0,255.8L297.0,255.8L300.0,255.8L303.0,255.9L306.0,255.9L309.0,256.0L312.0,256.1L315.0,256.2L318.0,256.3L321.0,256.5L324.0,256.6L327.0,256.7L330.0,256.9L333.0,257.1L336.0,257.2L339.0,257.4L342.0,257.5L345.0,257.6L348.0,257.8L351.0,257.9L354.0,258.0L354.7,258.0L357.0,258.1L360.0,258.2L363.0,258.2L366.0,258.3L369.0,258.4L372.0,258.4L375.0,258.5L378.0,258.6L381.0,258.6L384.0,258.7L387.0,258.8L390.0,258.8L393.0,258.9L396.0,259.0L399.0,259.0L402.0,259.1L405.0,259.1L408.0,259.2L411.0,259.2L414.0,259.3L417.0,259.4L420.0,259.4L423.0,259.5L426.0,259.5L429.0,259.6L432.0,259.6L435.0,259.7L438.0,259.8L441.0,260.2L442.8,261.0L444.0,263.1L444.5,264.0L447.0,264.8L450.0,266.0L453.0,267.0L453.0,267.0L456.0,267.9L459.0,268.8L462.0,269.6L463.3,270.0L465.0,270.5L468.0,271.4L471.0,272.3L473.6,273.0L474.0,273.1L477.0,274.0L480.0,274.8L483.0,275.6L484.4,276.0L486.0,276.4L489.0,277.2L492.0,278.0L495.0,278.7L496.2,279.0L498.0,279.4L501.0,280.1L504.0,280.7L507.0,281.3L510.0,281.8L510.9,282.0L513.0,282.4L516.0,282.9L519.0,283.4L522.0,283.8L525.0,284.3L528.0,284.8L528.9,285.0L531.0,285.3L534.0,285.9L537.0,286.5L540.0,287.2L543.0,288.0L543.2,288.0L546.0,289.0L549.0,290.6L550.5,291.0L550.2,294.0L549.4,297.0L549.6,300.0L552.0,303.0L552.1,303.0L555.0,303.5L558.0,303.8L561.0,304.4L563.6,303.0L562.0,300.0L561.0,298.2L560.2,297.0L558.0,294.7L557.0,294.0L555.0,291.9L553.3,291.0L555.0,290.1L557.6,288.0L558.0,287.9L561.0,287.9L561.1,288.0L564.0,291.0L564.0,291.0L565.6,294.0L567.0,295.5L567.5,297.0L567.7,300.0L567.9,303.0L570.0,305.5L570.2,306.0L571.3,309.0L573.0,311.0L573.9,312.0L576.0,313.7L576.7,315.0L579.0,317.4L579.2,318.0L579.8,321.0L580.1,324.0L579.7,327.0L579.3,330.0L579.0,331.1L577.8,333.0L576.7,336.0L576.0,337.5L575.1,339.0L573.7,342.0L573.0,343.2L571.8,345.0L570.0,347.4L569.6,348.0L567.2,351.0L567.0,351.2L564.5,354.0L564.0,354.6L561.8,357.0L561.0,357.9L559.2,360.0L558.0,361.4L556.7,363.0L555.0,365.0L554.1,366.0L552.0,369.0L552.0,369.0L549.2,372.0L549.0,372.2L546.6,375.0L546.0,375.8L544.1,378.0L543.0,379.8L541.6,381.0L540.0,382.9L538.9,384.0L537.0,386.2L536.2,387.0L534.0,389.5L533.4,390.0L531.0,392.2L530.0,393.0L528.0,394.5L525.6,396.0L525.0,396.4L522.0,398.0L520.2,399.0L519.0,399.7L516.0,401.4L515.0,402.0L513.0,403.2L510.1,405.0L510.0,405.1L507.0,407.0L505.3,408.0L504.0,408.8L501.0,410.7L500.6,411.0L498.0,412.7L495.9,414.0L495.0,414.6L492.0,416.4L491.0,417.0L489.0,418.2L486.1,420.0L486.0,420.0L483.0,421.8L480.9,423.0L480.0,423.5L477.0,425.0L475.4,426.0L474.0,426.6L471.0,428.1L469.2,429.0L468.0,429.5L465.0,430.8L462.3,432.0L462.0,432.1L459.0,433.4L456.0,434.7L455.4,435.0L453.0,435.8L450.0,437.1L448.9,438.0L447.0,439.2L444.0,440.1L441.0,440.7L440.2,441.0L438.0,441.7L435.0,442.8L432.0,442.9L429.0,443.7L426.0,443.6L425.1,444.0L424.8,447.0L423.0,448.8L420.0,449.2L417.0,448.9L414.2,450.0L414.0,450.1L413.5,450.0L411.0,449.5L409.9,450.0L408.0,450.6L405.0,450.0L405.0,450.0L404.9,450.0L402.0,450.3L400.2,450.0L399.0,447.2L397.2,450.0L396.0,450.2L395.0,450.0L394.0,447.0L393.0,446.7L391.8,447.0L390.0,449.0L387.4,447.0L387.0,446.9L386.8,447.0L384.0,448.2L381.0,447.9L378.0,447.7L375.0,447.3L372.5,447.0L372.0,446.9L369.0,446.8L366.0,446.5L363.0,446.3L360.0,446.2L357.0,446.0L354.0,445.8L351.0,445.6L348.0,445.3L345.0,444.7L343.0,444.0L342.0,443.5L339.0,441.0L339.0,441.0L337.5,438.0L336.0,435.4L335.7,435.0L333.0,433.5L330.0,432.2L329.1,432.0L327.0,431.6L324.0,431.1L321.0,430.6L318.0,430.1L315.0,429.6L312.1,429.0L312.0,429.0L309.0,428.5L306.0,428.0L303.0,427.4L300.0,426.9L297.0,426.3L295.5,426.0L294.0,425.7L291.0,425.3L288.0,424.7L285.0,424.2L282.0,423.7L279.0,423.3L277.4,423.0L276.0,422.8L273.0,422.4L270.0,422.1L267.0,421.7L264.0,421.3L261.0,421.0L258.0,420.7L255.0,420.4L252.0,420.0L251.6,420.0L249.0,419.8L246.0,419.5L243.0,419.2L240.0,418.9L237.0,418.7L234.0,418.4L231.0,418.2L228.0,417.9L225.0,417.5L222.9,417.0L222.0,416.4L220.5,414.0L219.0,413.4L216.0,412.2L213.0,411.0L213.0,411.0L210.0,410.0L207.0,409.0L204.0,408.0L203.9,408.0L201.0,407.1L198.0,406.1L195.0,405.1L194.7,405.0L192.0,404.1L189.0,403.2L186.0,402.2L185.2,402.0L183.0,401.3L180.0,400.4L177.0,399.5L174.9,399.0L174.0,398.7L171.0,397.9L168.0,397.1L165.0,396.6L162.0,396.0L161.8,396.0L159.0,395.5L156.0,395.0L153.0,394.7L150.0,394.3L147.0,394.0L144.0,393.7L141.0,393.4L138.0,393.1L136.8,393.0L135.0,392.8L132.0,392.5L129.0,392.2L126.0,392.0L123.0,391.8L120.0,391.7L117.0,391.4L114.0,391.2L111.0,390.9L108.0,390.5L105.0,390.0L104.8,390.0L102.0,389.5L99.0,388.8L96.0,388.1L93.0,387.4L91.6,387.0L90.0,386.6L87.0,385.8L84.0,384.9L81.4,384.0L81.0,383.9L78.0,382.9L75.0,381.9L72.7,381.0L72.0,380.7L69.0,379.6L66.0,378.4L65.0,378.0L63.0,377.1L60.0,375.8L58.2,375.0L57.0,374.4L54.0,372.9L52.3,372.0L51.0,371.3L48.0,369.5L47.2,369.0L45.0,367.4L43.2,366.0L42.0,364.9L40.1,363.0L39.0,361.7L37.7,360.0L36.0,357.1L36.0,357.0L34.8,354.0L34.1,351.0L34.0,348.0L34.5,345.0L35.4,342.0L36.0,340.7L36.7,339.0L38.1,336.0L39.0,334.4L39.6,333.0L41.2,330.0L42.0,329.0L45.0,327.0L45.0,327.0L48.0,326.3L51.0,325.4L54.0,324.2L54.4,324.0L57.0,322.9L60.0,321.5L61.3,321.0L63.0,320.3L66.0,319.6L69.0,319.5L72.0,320.3L73.2,321.0L75.0,322.7L76.3,324.0L77.5,327.0L78.0,328.2L80.3,327.0L81.0,326.8L84.0,324.3L84.3,324.0L87.0,321.9L88.1,321.0L90.0,319.5L92.0,318.0L93.0,317.2L95.9,315.0L96.0,315.0L99.0,312.6L99.9,312.0L102.0,310.2L103.9,309.0L105.0,308.0L107.7,306.0L108.0,305.8L111.0,303.4L111.5,303.0L114.0,300.9L115.1,300.0L117.0,298.2L118.3,297.0L120.0,295.3L121.3,294.0L123.0,292.3L124.3,291.0L126.0,289.3L127.3,288.0L129.0,286.4L130.4,285.0L132.0,283.6L133.8,282.0L135.0,281.0L137.5,279.0L138.0,278.7L141.0,276.6L141.9,276.0L144.0,274.7L147.0,273.1L147.2,273.0L150.0,271.7L153.0,270.5L154.5,270.0L156.0,269.5L159.0,268.7L162.0,267.9L165.0,267.2L165.9,267.0L168.0,266.6L171.0,266.0L174.0,265.5L177.0,265.0L180.0,264.6L183.0,264.1L183.7,264.0L186.0,263.7L189.0,263.3L192.0,263.0L195.0,262.6L198.0,262.3L201.0,261.9L204.0,261.6L207.0,261.3L209.4,261.0L210.0,260.9L213.0,260.6L216.0,260.3L219.0,259.9L222.0,259.6L225.0,259.4L228.0,259.2L231.0,259.0L234.0,258.8L237.0,258.6L240.0,258.4L243.0,258.2L245.4,258.0ZM564.0,335.5L563.6,336.0L564.0,336.7L566.2,336.0L564.0,335.5ZM570.0,314.2L569.6,315.0L569.7,318.0L569.8,321.0L570.0,322.4L573.0,323.1L573.3,321.0L573.0,318.2L572.9,318.0L571.6,315.0L570.0,314.2ZM427.6,447.0L429.0,444.7L430.1,447.0L429.0,448.3L427.6,447.0ZM434.1,447.0L435.0,445.6L436.0,447.0L435.0,447.9L434.1,447.0ZM441.0,447.0L441.0,447.0L444.0,446.8L444.2,447.0L444.0,447.1L441.0,447.0L441.0,447.0Z" fill="#3cffba" fill-rule="evenodd"/><path d="M280.9,264.0L282.0,263.9L285.0,263.8L288.0,263.6L291.0,263.5L294.0,263.5L297.0,263.5L300.0,263.6L303.0,263.7L306.0,263.8L309.0,264.0L309.1,264.0L312.0,264.2L315.0,264.5L318.0,264.8L321.0,265.0L324.0,265.4L327.0,265.7L330.0,266.0L333.0,266.3L336.0,266.6L339.0,266.9L339.9,267.0L342.0,267.2L345.0,267.5L348.0,267.7L351.0,267.9L354.0,268.1L357.0,268.3L360.0,268.4L363.0,268.6L366.0,268.7L369.0,268.8L372.0,268.9L375.0,269.0L378.0,269.0L381.0,269.1L384.0,269.2L387.0,269.3L390.0,269.3L393.0,269.4L396.0,269.4L399.0,269.5L402.0,269.6L405.0,269.6L408.0,269.7L411.0,269.7L414.0,269.8L417.0,269.8L420.0,269.8L423.0,269.9L426.0,269.9L429.0,270.0L432.0,270.0L432.0,270.0L435.0,270.0L438.0,270.1L441.0,270.4L443.4,273.0L444.0,275.4L444.2,276.0L447.0,277.0L450.0,278.2L452.1,279.0L453.0,279.3L456.0,280.3L459.0,281.3L461.2,282.0L462.0,282.2L465.0,283.2L468.0,284.2L470.6,285.0L471.0,285.1L474.0,286.2L477.0,287.2L479.6,288.0L480.0,288.2L483.0,289.4L486.0,290.6L488.1,291.0L489.0,292.0L492.0,293.1L495.0,293.3L498.0,293.7L500.1,294.0L501.0,294.1L504.0,294.5L507.0,294.9L510.0,295.3L513.0,296.0L516.0,296.5L518.5,297.0L519.0,297.1L522.0,297.6L525.0,298.3L528.0,299.4L529.5,300.0L531.0,301.9L534.0,302.8L537.0,303.0L537.0,303.0L540.0,305.6L540.5,306.0L543.0,307.3L545.1,309.0L546.0,310.3L549.0,311.4L551.5,312.0L552.0,312.4L555.0,314.9L555.1,315.0L556.5,318.0L558.0,321.0L558.0,321.0L558.2,324.0L558.1,327.0L558.0,327.5L556.7,330.0L556.9,333.0L556.0,336.0L555.3,339.0L555.0,341.0L554.7,342.0L553.7,345.0L552.0,348.0L552.0,348.4L551.9,351.0L552.0,351.1L553.7,354.0L552.7,357.0L552.0,358.5L551.0,360.0L549.3,363.0L549.0,363.6L547.2,366.0L546.0,367.9L545.0,369.0L543.0,371.2L541.4,372.0L540.0,372.5L537.0,372.1L534.0,373.9L533.3,375.0L531.0,377.7L530.9,378.0L528.9,381.0L528.0,382.2L526.7,384.0L525.0,385.5L522.9,387.0L522.0,387.6L519.0,389.6L518.5,390.0L516.0,391.8L514.7,393.0L513.0,394.4L511.4,396.0L510.0,397.2L508.2,399.0L507.0,399.9L504.0,401.9L503.7,402.0L501.0,403.4L498.2,405.0L498.0,405.1L495.0,407.1L493.6,408.0L492.0,409.0L489.0,411.0L489.0,411.0L486.0,413.0L484.4,414.0L483.0,414.9L480.0,416.8L479.7,417.0L477.0,418.6L474.8,420.0L474.0,420.5L471.0,422.2L469.7,423.0L468.0,423.9L465.0,425.5L464.0,426.0L462.0,427.0L459.0,428.5L457.9,429.0L456.0,429.8L453.0,431.0L450.7,432.0L450.0,432.3L447.0,434.6L445.8,435.0L444.0,437.8L442.9,438.0L441.0,438.0L438.0,438.0L435.0,439.5L432.6,438.0L432.0,437.7L431.6,438.0L429.2,441.0L429.0,441.1L426.0,441.2L423.0,442.5L420.0,442.9L417.0,442.1L414.0,441.2L411.0,442.6L408.3,444.0L411.0,446.4L412.0,447.0L411.0,447.4L408.0,447.9L406.9,447.0L405.0,444.9L402.0,446.1L399.0,445.3L396.0,445.7L393.0,445.0L390.0,445.1L387.0,444.8L384.0,445.6L381.0,445.9L378.0,445.7L375.0,445.1L372.0,444.5L369.4,444.0L369.9,441.0L369.9,438.0L369.0,437.6L366.0,436.9L363.0,436.1L360.4,435.0L360.0,434.9L357.0,434.1L354.0,433.2L351.2,432.0L351.0,431.9L348.0,431.1L345.0,430.3L342.0,429.8L339.0,429.8L336.0,429.8L333.0,429.6L330.6,429.0L330.0,428.7L327.0,427.6L324.0,426.5L322.3,426.0L321.0,425.3L318.0,424.0L315.1,423.0L315.0,422.9L312.0,421.6L309.0,420.7L306.3,420.0L306.0,419.9L303.0,418.9L300.0,418.0L297.0,417.2L296.0,417.0L294.0,416.4L291.0,415.6L288.0,414.9L285.0,414.2L283.9,414.0L282.0,413.6L279.0,413.0L276.0,412.4L273.0,412.0L270.0,411.5L267.0,411.2L265.7,411.0L264.0,410.8L261.0,410.4L258.0,410.1L255.0,409.8L252.0,409.5L249.0,409.2L246.0,409.0L243.0,408.7L240.0,408.5L237.0,408.2L234.4,408.0L234.0,408.0L231.0,407.7L228.0,407.5L225.0,407.0L222.0,405.5L221.5,405.0L219.0,403.0L217.3,402.0L216.0,401.5L213.0,400.3L210.0,399.2L209.6,399.0L207.0,398.1L204.0,397.0L201.4,396.0L201.0,395.9L198.0,394.8L195.0,393.7L193.1,393.0L192.0,392.7L189.0,391.7L186.0,390.6L184.3,390.0L183.0,389.6L180.0,388.8L177.0,387.8L174.5,387.0L174.0,386.9L171.0,386.3L168.0,385.7L165.0,385.1L162.0,384.6L159.0,384.1L157.6,384.0L156.0,383.9L153.0,383.7L150.0,383.6L147.0,383.4L144.0,383.3L141.0,383.1L138.0,382.9L135.0,382.6L132.0,382.3L129.0,382.1L126.0,381.8L123.0,381.6L120.0,381.4L117.0,381.1L115.8,381.0L114.0,380.8L111.0,380.5L108.0,380.1L105.0,379.6L102.0,379.1L99.0,378.6L96.0,378.0L95.9,378.0L93.0,377.4L90.0,376.8L87.0,376.1L84.0,375.3L82.8,375.0L81.0,374.5L78.0,373.4L75.0,372.3L74.4,372.0L72.0,370.6L69.6,369.0L69.0,368.4L66.4,366.0L66.0,365.4L64.3,363.0L63.0,360.2L62.9,360.0L62.0,357.0L61.6,354.0L61.5,351.0L61.9,348.0L62.5,345.0L63.0,342.5L63.3,342.0L63.0,340.9L62.6,339.0L61.7,336.0L62.2,333.0L63.0,331.6L64.2,330.0L66.0,328.9L67.0,330.0L66.4,333.0L66.0,335.3L65.2,336.0L64.1,339.0L66.0,339.8L69.0,341.2L72.0,341.6L75.0,341.4L78.0,340.6L81.0,339.0L81.0,339.0L84.0,336.7L84.7,336.0L87.0,333.6L87.5,333.0L90.0,330.1L90.1,330.0L92.8,327.0L93.0,326.8L95.8,324.0L96.0,323.8L99.0,321.7L100.5,321.0L102.0,320.3L105.0,319.8L108.0,320.1L110.1,321.0L111.0,321.5L113.7,324.0L114.0,324.4L116.2,327.0L117.0,327.9L120.0,329.0L121.7,327.0L123.0,325.5L123.9,324.0L125.8,321.0L126.0,320.8L127.7,318.0L129.0,316.1L129.8,315.0L131.8,312.0L132.0,311.8L134.1,309.0L135.0,307.7L136.5,306.0L138.0,304.2L139.1,303.0L141.0,301.0L142.1,300.0L144.0,298.2L145.5,297.0L147.0,295.8L149.6,294.0L150.0,293.7L153.0,292.0L154.9,291.0L156.0,290.5L159.0,289.1L161.8,288.0L162.0,287.9L165.0,286.8L168.0,285.7L170.2,285.0L171.0,284.7L174.0,283.8L177.0,282.8L179.9,282.0L180.0,282.0L183.0,281.1L186.0,280.2L189.0,279.4L190.7,279.0L192.0,278.6L195.0,277.9L198.0,277.1L201.0,276.3L202.3,276.0L204.0,275.6L207.0,274.8L210.0,274.1L213.0,273.3L214.2,273.0L216.0,272.5L219.0,271.7L222.0,271.0L225.0,270.6L228.0,270.2L229.7,270.0L231.0,269.8L234.0,269.4L237.0,269.0L240.0,268.6L243.0,268.2L246.0,267.8L249.0,267.4L251.9,267.0L252.0,267.0L255.0,266.6L258.0,266.2L261.0,265.9L264.0,265.6L267.0,265.2L270.0,264.9L273.0,264.7L276.0,264.4L279.0,264.1L280.9,264.0ZM399.0,437.9L398.8,438.0L399.0,438.0L399.3,438.0L399.0,437.9ZM405.0,437.8L404.1,438.0L405.0,438.2L406.5,438.0L405.0,437.8ZM411.0,437.9L409.9,438.0L411.0,438.2L414.0,438.8L414.4,438.0L414.0,437.9L411.0,437.9ZM416.7,447.0L417.0,446.8L417.3,447.0L417.0,447.1L416.7,447.0Z" fill="#66ff90" fill-rule="evenodd"/><path d="M279.4,273.0L282.0,272.8L285.0,272.5L288.0,272.4L291.0,272.2L294.0,272.2L297.0,272.2L300.0,272.3L303.0,272.5L306.0,272.7L309.0,272.9L310.1,273.0L312.0,273.2L315.0,273.5L318.0,273.9L321.0,274.3L324.0,274.7L327.0,275.1L330.0,275.6L333.0,276.0L333.3,276.0L336.0,276.4L339.0,276.9L342.0,277.3L345.0,277.8L348.0,278.1L351.0,278.4L354.0,278.6L357.0,278.9L359.9,279.0L360.0,279.0L363.0,279.3L366.0,279.6L369.0,279.7L372.0,280.0L375.0,280.1L378.0,280.3L381.0,280.4L384.0,280.6L387.0,280.6L390.0,280.8L393.0,280.8L396.0,280.9L399.0,281.0L402.0,281.1L405.0,281.2L408.0,281.3L411.0,281.3L414.0,281.4L417.0,281.5L420.0,281.6L423.0,281.6L426.0,281.7L429.0,281.8L432.0,281.9L435.0,282.0L436.1,282.0L438.0,282.1L441.0,282.5L443.6,285.0L443.6,288.0L444.0,288.3L447.0,290.1L448.9,291.0L450.0,291.5L453.0,292.7L456.0,293.8L456.7,294.0L459.0,294.9L462.0,296.1L464.9,297.0L465.0,297.1L468.0,298.4L471.0,299.5L472.4,300.0L474.0,300.2L475.4,300.0L477.0,299.7L477.7,300.0L480.0,300.5L483.0,302.3L484.0,303.0L486.0,303.9L489.0,305.2L490.7,306.0L492.0,306.6L495.0,307.7L498.0,308.7L498.7,309.0L501.0,309.9L504.0,310.8L506.2,312.0L507.0,312.4L510.0,313.2L512.6,315.0L513.0,315.2L516.0,315.9L519.0,317.0L519.7,315.0L519.0,314.2L517.1,312.0L519.0,311.1L521.0,312.0L522.0,312.9L525.0,314.4L526.1,315.0L528.0,316.8L530.7,318.0L531.0,318.3L533.3,321.0L534.0,321.5L535.5,324.0L537.0,326.1L537.3,327.0L537.1,330.0L537.9,333.0L537.8,336.0L537.0,338.5L536.9,339.0L535.6,342.0L534.2,345.0L534.0,345.3L532.7,348.0L531.2,351.0L531.0,351.3L529.7,354.0L528.2,357.0L528.0,357.5L526.7,360.0L525.2,363.0L525.0,363.4L523.6,366.0L522.0,369.0L522.0,369.0L520.3,372.0L519.0,374.2L518.6,375.0L516.8,378.0L516.0,379.1L514.8,381.0L513.0,383.6L512.7,384.0L510.6,387.0L510.0,387.8L508.5,390.0L507.0,392.1L506.4,393.0L504.3,396.0L504.0,396.3L501.0,398.8L500.5,399.0L498.0,400.0L495.0,401.0L492.5,402.0L492.0,402.2L489.0,403.9L487.3,405.0L486.0,405.9L483.0,407.8L482.8,408.0L480.0,409.8L478.1,411.0L477.0,411.7L474.0,413.6L473.4,414.0L471.0,415.5L468.6,417.0L468.0,417.3L465.0,419.1L463.4,420.0L462.0,420.8L459.0,422.4L458.0,423.0L456.0,424.0L453.0,425.4L451.5,426.0L450.0,426.7L447.0,428.6L446.7,429.0L446.0,432.0L444.0,433.5L441.0,434.0L438.0,433.5L435.0,434.4L432.0,434.9L431.6,435.0L429.0,436.3L426.0,436.0L423.0,436.8L420.0,437.0L417.0,435.9L414.0,435.5L411.0,435.6L408.0,435.7L405.0,435.6L402.0,435.7L399.0,435.6L396.0,436.0L393.0,435.6L390.0,436.1L387.0,435.8L384.0,437.7L381.0,436.3L378.0,437.1L375.0,436.8L372.0,436.7L369.0,435.7L366.0,435.1L365.8,435.0L363.0,434.0L360.0,433.1L357.0,432.2L356.6,432.0L354.0,431.0L351.0,429.9L348.8,429.0L348.0,428.7L345.0,427.7L342.0,426.3L340.6,426.0L339.0,425.7L336.0,424.6L333.0,423.5L332.0,423.0L330.0,422.3L327.0,420.3L326.3,420.0L324.0,419.4L321.0,417.2L320.8,417.0L318.0,415.8L315.0,414.0L315.0,414.0L312.0,412.6L309.0,411.1L308.7,411.0L306.0,409.9L303.0,408.7L301.2,408.0L300.0,407.5L297.0,406.4L294.0,405.3L293.1,405.0L291.0,404.3L288.0,403.4L285.0,402.5L283.0,402.0L282.0,401.7L279.0,401.1L276.0,400.5L273.0,400.0L270.0,399.6L267.0,399.2L265.0,399.0L264.0,398.9L261.0,398.6L258.0,398.4L255.0,398.2L252.0,398.0L249.0,397.8L246.0,397.7L243.0,397.5L240.0,397.4L237.0,397.3L234.0,397.1L231.0,397.0L228.0,396.8L225.0,396.5L222.2,396.0L222.0,395.6L221.4,393.0L219.0,391.4L216.0,390.3L215.0,390.0L213.0,389.6L210.0,388.9L207.0,388.2L204.0,387.6L201.2,387.0L201.0,386.9L198.0,386.2L195.0,385.6L192.0,384.9L189.0,384.4L187.1,384.0L186.0,383.8L183.0,383.1L180.0,382.5L177.0,381.9L174.0,381.4L171.8,381.0L171.0,380.8L168.0,380.2L165.0,379.5L162.0,379.0L159.0,378.4L156.8,378.0L156.0,377.8L153.0,377.1L150.0,376.4L147.0,375.7L144.0,375.0L144.0,375.0L141.0,374.2L138.0,373.4L135.0,372.7L132.3,372.0L132.0,371.9L129.0,371.1L126.0,370.3L123.0,369.6L120.3,369.0L120.0,368.9L117.0,368.3L114.0,367.7L111.0,367.2L108.0,366.8L105.0,366.4L102.1,366.0L102.0,366.0L99.0,365.4L96.0,364.8L93.0,363.9L90.7,363.0L90.0,362.5L87.3,360.0L87.0,359.2L86.3,357.0L86.3,354.0L86.9,351.0L87.0,350.8L87.9,348.0L89.1,345.0L90.0,343.5L90.8,342.0L92.9,339.0L93.0,338.8L95.4,336.0L96.0,335.3L98.1,333.0L99.0,331.9L100.8,330.0L102.0,328.9L105.0,329.0L106.0,330.0L108.0,332.6L108.3,333.0L110.6,336.0L111.0,336.4L114.0,338.5L115.9,339.0L117.0,339.3L119.6,339.0L120.0,339.0L123.0,337.6L124.7,336.0L126.0,334.6L127.1,333.0L128.8,330.0L129.0,329.7L131.6,327.0L132.0,326.6L134.7,324.0L135.0,323.7L138.0,321.1L138.1,321.0L141.0,318.8L142.2,318.0L144.0,316.7L146.8,315.0L147.0,314.9L150.0,313.2L152.4,312.0L153.0,311.7L156.0,310.2L158.6,309.0L159.0,308.8L162.0,307.4L165.0,306.1L165.1,306.0L168.0,304.7L171.0,303.4L171.9,303.0L174.0,302.1L177.0,300.8L178.8,300.0L180.0,299.5L183.0,298.2L185.8,297.0L186.0,296.9L189.0,295.7L192.0,294.4L192.9,294.0L195.0,293.1L198.0,291.9L200.0,291.0L201.0,290.6L204.0,289.4L207.0,288.1L207.1,288.0L210.0,286.8L213.0,285.5L214.2,285.0L216.0,284.3L219.0,283.0L221.6,282.0L222.0,281.9L225.0,281.4L228.0,280.9L231.0,280.4L234.0,279.9L237.0,279.3L238.7,279.0L240.0,278.8L243.0,278.3L246.0,277.8L249.0,277.2L252.0,276.7L255.0,276.2L256.5,276.0L258.0,275.8L261.0,275.3L264.0,274.9L267.0,274.5L270.0,274.1L273.0,273.7L276.0,273.3L279.0,273.0L279.4,273.0ZM508.9,306.0L510.0,305.2L512.1,306.0L510.0,307.3L508.9,306.0ZM512.7,309.0L513.0,308.3L516.0,308.8L516.4,309.0L516.0,310.2L513.0,309.2L512.7,309.0ZM387.0,441.0L387.0,441.0L390.0,440.3L393.0,440.2L396.0,439.6L399.0,439.9L402.0,440.4L405.0,440.4L406.3,441.0L405.0,441.7L402.0,442.3L399.0,443.0L396.0,443.6L393.0,442.4L390.0,441.6L387.0,441.0L387.0,441.0Z" fill="#90ff66" fill-rule="evenodd"/><path d="M281.0,282.0L282.0,281.8L285.0,281.5L288.0,281.2L291.0,280.9L294.0,280.8L297.0,280.8L300.0,280.9L303.0,281.1L306.0,281.4L309.0,281.7L310.9,282.0L312.0,282.2L315.0,282.6L318.0,283.1L321.0,283.7L324.0,284.3L327.0,285.0L327.0,285.0L330.0,285.5L333.0,286.1L336.0,286.7L339.0,287.4L341.4,288.0L342.0,288.1L345.0,288.5L348.0,289.0L351.0,289.4L354.0,289.9L357.0,290.2L360.0,290.7L362.3,291.0L363.0,291.1L366.0,291.2L369.0,291.5L372.0,291.6L375.0,291.9L378.0,292.0L381.0,292.3L384.0,292.4L387.0,292.7L390.0,292.8L393.0,293.1L396.0,293.2L399.0,293.5L402.0,293.7L405.0,293.9L406.4,294.0L408.0,294.1L411.0,294.2L414.0,294.4L417.0,294.5L420.0,294.6L423.0,294.8L426.0,294.9L429.0,295.1L432.0,295.2L435.0,295.4L438.0,295.6L441.0,296.1L442.6,297.0L443.9,300.0L444.0,300.1L447.0,302.6L447.5,303.0L450.0,304.6L452.8,306.0L453.0,306.1L456.0,307.5L459.0,308.9L459.2,309.0L462.0,309.8L465.0,310.6L467.2,312.0L468.0,312.5L471.0,312.8L473.6,315.0L474.0,315.3L477.0,316.4L479.3,318.0L480.0,318.4L483.0,318.8L483.8,318.0L483.0,317.4L481.2,315.0L480.0,314.0L478.1,312.0L477.0,310.5L476.2,309.0L476.2,306.0L477.0,305.0L480.0,304.9L483.0,305.8L483.3,306.0L486.0,307.7L488.9,309.0L489.0,309.1L492.0,311.0L494.1,312.0L495.0,312.7L498.0,314.7L498.6,315.0L501.0,317.1L502.2,318.0L504.0,320.2L504.8,321.0L506.7,324.0L507.0,324.9L507.6,327.0L508.8,330.0L510.0,332.2L510.2,333.0L511.0,336.0L511.8,339.0L512.3,342.0L512.7,345.0L513.0,347.6L513.0,348.0L513.2,351.0L513.3,354.0L513.1,357.0L513.0,358.9L512.9,360.0L512.5,363.0L512.0,366.0L511.4,369.0L510.6,372.0L510.0,373.8L509.6,375.0L508.3,378.0L507.0,381.0L507.0,381.0L505.4,384.0L504.0,386.8L503.9,387.0L502.3,390.0L501.0,392.4L500.5,393.0L498.0,394.5L495.0,395.4L492.8,396.0L492.0,396.2L489.0,397.2L486.0,398.8L485.7,399.0L483.0,400.7L481.1,402.0L480.0,402.7L477.0,404.7L476.5,405.0L474.0,406.6L471.8,408.0L471.0,408.5L468.0,410.4L467.1,411.0L465.0,412.3L462.3,414.0L462.0,414.2L459.0,416.1L457.3,417.0L456.0,417.7L453.0,419.4L451.7,420.0L450.0,420.8L447.0,422.6L446.8,423.0L445.2,426.0L444.0,427.6L442.9,429.0L442.5,432.0L441.0,432.3L439.9,432.0L438.0,430.6L436.3,432.0L435.0,432.6L432.0,432.8L429.0,432.9L426.0,433.2L423.0,434.2L420.0,434.5L417.0,433.9L414.0,433.7L411.0,433.9L408.0,433.8L405.0,433.9L402.0,433.9L399.0,433.9L396.0,433.9L393.0,433.8L390.0,433.7L387.0,433.7L384.0,434.0L381.0,434.1L378.0,434.8L375.0,434.6L372.0,434.0L369.0,433.5L366.0,432.8L363.0,432.1L362.6,432.0L360.0,430.9L357.0,429.8L354.2,429.0L354.0,428.9L351.0,427.5L348.0,426.4L346.6,426.0L345.0,425.3L342.0,423.8L339.4,423.0L339.0,422.8L336.0,421.2L333.7,420.0L333.0,419.6L330.0,418.4L327.5,417.0L327.0,416.7L324.0,415.2L321.0,414.1L320.9,414.0L318.0,412.0L315.7,411.0L315.0,410.5L312.0,408.5L311.1,408.0L309.0,406.3L306.8,405.0L306.0,404.3L303.0,402.3L302.4,402.0L300.0,400.4L297.5,399.0L297.0,398.6L294.0,396.8L292.6,396.0L291.0,394.9L288.0,393.2L287.6,393.0L285.0,391.6L282.0,390.4L280.9,390.0L279.0,389.3L276.0,388.4L273.0,387.8L270.0,387.3L267.3,387.0L267.0,387.0L264.0,386.6L261.0,386.3L258.0,386.1L255.0,385.9L252.0,385.7L249.0,385.5L246.0,385.4L243.0,385.3L240.0,385.2L237.0,385.1L234.0,385.0L231.0,384.9L228.0,384.7L225.0,384.5L222.3,384.0L222.0,383.9L219.0,381.8L217.4,381.0L216.0,380.4L213.0,379.1L210.4,378.0L210.0,377.8L207.0,376.6L204.0,375.3L203.3,375.0L201.0,374.0L198.0,372.8L196.1,372.0L195.0,371.5L192.0,370.3L189.0,369.0L189.0,369.0L186.0,367.9L183.0,366.6L181.3,366.0L180.0,365.5L177.0,364.4L174.0,363.1L173.7,363.0L171.0,362.2L168.0,360.9L165.7,360.0L165.0,359.7L162.0,358.6L159.0,357.4L157.9,357.0L156.0,356.5L153.0,355.6L150.0,354.7L147.5,354.0L147.0,353.9L144.0,352.9L141.0,351.9L138.2,351.0L138.0,350.9L135.0,348.7L134.6,348.0L135.0,345.3L135.1,345.0L138.0,342.5L138.6,342.0L141.0,340.7L143.8,339.0L144.0,338.9L147.0,337.6L150.0,336.0L150.0,336.0L153.0,334.8L156.0,333.3L156.7,333.0L159.0,332.1L162.0,330.7L163.4,330.0L165.0,329.3L168.0,328.4L171.0,329.0L174.0,328.2L175.7,327.0L177.0,326.4L180.0,324.4L180.5,324.0L183.0,322.4L185.1,321.0L186.0,320.4L189.0,318.5L189.7,318.0L192.0,316.5L194.3,315.0L195.0,314.5L198.0,312.6L198.9,312.0L201.0,310.6L203.5,309.0L204.0,308.7L207.0,306.7L208.1,306.0L210.0,304.7L212.7,303.0L213.0,302.8L216.0,300.8L217.2,300.0L219.0,298.8L222.0,297.1L222.4,297.0L225.0,296.3L228.0,295.5L231.0,294.6L233.1,294.0L234.0,293.7L237.0,292.9L240.0,292.0L243.0,291.1L243.2,291.0L246.0,290.2L249.0,289.4L252.0,288.5L253.9,288.0L255.0,287.7L258.0,287.0L261.0,286.2L264.0,285.4L265.7,285.0L267.0,284.7L270.0,284.1L273.0,283.5L276.0,282.9L279.0,282.3L281.0,282.0Z" fill="#baff3c" fill-rule="evenodd"/><path d="M295.8,291.0L297.0,290.8L300.0,290.5L303.0,290.3L306.0,290.1L309.0,290.1L312.0,290.1L315.0,290.2L318.0,290.3L321.0,290.5L324.0,290.7L327.0,290.9L327.8,291.0L330.0,291.2L333.0,291.6L336.0,292.0L339.0,292.4L342.0,292.8L345.0,293.1L348.0,293.5L351.0,293.7L353.9,294.0L354.0,294.0L357.0,294.4L360.0,294.7L363.0,295.0L366.0,295.2L369.0,295.5L372.0,295.6L375.0,295.9L378.0,296.2L381.0,296.4L384.0,296.7L387.0,296.9L387.7,297.0L390.0,297.3L393.0,297.7L396.0,298.1L399.0,298.4L402.0,298.7L405.0,299.0L408.0,299.3L411.0,299.6L414.0,299.9L414.7,300.0L417.0,300.2L420.0,300.6L423.0,300.9L426.0,301.2L429.0,301.5L432.0,301.8L435.0,302.1L438.0,302.3L441.0,303.0L441.0,303.0L443.6,306.0L443.9,309.0L444.0,309.4L445.7,312.0L447.0,313.4L449.2,315.0L450.0,316.1L453.0,317.5L456.0,315.1L456.0,315.0L459.0,314.0L462.0,313.8L465.0,314.6L465.8,315.0L468.0,316.5L471.0,317.9L471.1,318.0L474.0,320.2L475.2,321.0L477.0,323.3L477.6,324.0L478.7,327.0L480.0,329.4L480.3,330.0L481.9,333.0L483.0,334.3L483.8,336.0L484.9,339.0L486.0,341.5L486.2,342.0L486.9,345.0L487.6,348.0L488.0,351.0L488.2,354.0L488.2,357.0L488.2,360.0L488.0,363.0L487.8,366.0L487.6,369.0L487.2,372.0L486.7,375.0L486.0,377.9L486.0,378.0L485.4,381.0L484.6,384.0L483.6,387.0L483.0,388.4L482.6,390.0L480.6,393.0L480.0,393.5L477.5,396.0L477.0,396.4L474.1,399.0L474.0,399.1L471.0,401.4L470.2,402.0L468.0,403.5L466.2,405.0L465.0,405.9L462.0,408.0L462.0,408.0L459.0,410.3L458.0,411.0L456.0,412.2L453.0,413.5L452.1,414.0L450.0,415.2L447.4,417.0L447.0,417.3L444.8,420.0L444.0,422.8L443.9,423.0L441.3,426.0L441.0,426.5L440.1,426.0L438.0,425.3L436.4,426.0L435.0,426.7L432.0,426.8L429.0,427.4L426.0,428.4L424.5,429.0L423.0,430.4L420.0,431.9L419.1,432.0L417.0,432.1L414.0,432.1L411.0,432.3L408.0,432.2L405.0,432.4L402.0,432.3L399.0,432.4L396.0,432.3L393.0,432.2L390.9,432.0L390.0,431.8L387.0,431.7L384.0,431.2L381.0,431.1L378.0,430.9L375.0,430.7L372.0,430.1L369.0,429.5L366.8,429.0L366.0,428.8L363.0,428.0L360.0,427.1L357.0,426.3L356.1,426.0L354.0,425.2L351.0,424.2L348.0,423.1L347.6,423.0L345.0,421.7L342.0,420.3L341.4,420.0L339.0,418.5L336.2,417.0L336.0,416.8L333.0,414.7L331.8,414.0L330.0,412.6L327.7,411.0L327.0,410.4L324.0,408.2L323.7,408.0L321.0,405.8L320.0,405.0L318.0,403.2L316.7,402.0L315.0,400.2L313.8,399.0L312.0,397.1L311.0,396.0L309.0,393.8L308.3,393.0L306.0,390.3L305.8,390.0L303.7,387.0L303.0,385.8L302.0,384.0L300.6,381.0L300.0,379.4L299.4,378.0L298.4,375.0L297.3,372.0L297.0,371.2L296.0,369.0L294.2,366.0L294.0,365.8L291.5,363.0L291.0,362.5L288.0,360.4L287.3,360.0L285.0,359.0L282.0,358.3L279.0,357.9L276.0,357.8L273.0,357.9L270.0,358.2L267.0,358.6L264.0,359.0L261.0,359.6L258.6,360.0L258.0,360.1L255.0,360.7L252.0,361.2L249.0,361.7L246.0,362.3L243.0,362.8L242.2,363.0L240.0,363.4L237.0,363.9L234.0,364.6L231.0,365.3L228.0,366.0L227.8,366.0L225.0,366.4L222.0,366.3L221.1,366.0L219.0,365.2L216.0,364.2L213.0,363.4L211.9,363.0L210.0,362.2L207.0,360.6L206.0,360.0L204.0,358.4L202.3,357.0L201.0,355.7L199.3,354.0L198.0,352.4L197.0,351.0L196.0,348.0L196.2,345.0L198.0,342.3L198.3,342.0L201.0,339.8L202.2,339.0L204.0,337.8L206.8,336.0L207.0,335.9L210.0,334.1L212.0,333.0L213.0,332.2L215.7,330.0L216.0,329.7L219.0,328.7L220.7,327.0L221.1,324.0L222.0,322.8L224.1,321.0L225.0,320.6L228.0,319.2L230.2,318.0L231.0,317.6L234.0,316.1L236.0,315.0L237.0,314.5L240.0,313.0L241.9,312.0L243.0,311.5L246.0,310.0L247.8,309.0L249.0,308.5L252.0,307.0L254.0,306.0L255.0,305.5L258.0,304.1L260.3,303.0L261.0,302.7L264.0,301.3L267.0,300.0L267.1,300.0L270.0,298.8L273.0,297.6L274.4,297.0L276.0,296.4L279.0,295.4L282.0,294.3L282.9,294.0L285.0,293.4L288.0,292.6L291.0,291.9L294.0,291.3L295.8,291.0ZM453.0,319.5L452.3,321.0L450.7,324.0L450.0,326.8L450.0,327.0L449.9,330.0L450.0,330.4L450.7,333.0L452.6,336.0L453.0,336.4L456.0,338.6L456.8,339.0L459.0,339.7L462.0,340.2L465.0,340.2L468.0,339.5L469.2,339.0L471.0,338.0L473.4,336.0L474.0,335.2L475.7,333.0L475.8,330.0L474.0,329.5L471.0,328.7L468.0,327.2L467.7,327.0L465.0,326.2L462.0,324.8L460.6,324.0L459.0,323.1L456.1,321.0L456.0,320.9L453.0,319.5Z" fill="#e4ff13" fill-rule="evenodd"/><path d="M319.8,306.0L321.0,305.8L324.0,305.5L327.0,305.2L330.0,305.1L333.0,305.3L336.0,305.7L339.0,305.8L342.0,306.0L345.0,305.6L348.0,305.2L351.0,304.8L354.0,304.5L357.0,304.2L360.0,304.1L363.0,303.9L366.0,304.0L369.0,304.0L372.0,304.3L375.0,304.6L378.0,304.9L381.0,305.4L384.0,306.0L384.0,306.0L387.0,306.9L390.0,307.9L393.0,308.7L394.0,309.0L396.0,310.1L399.0,311.5L400.7,312.0L402.0,313.5L405.0,313.3L406.5,312.0L408.0,311.8L411.0,311.5L414.0,311.6L416.9,312.0L417.0,312.0L420.0,313.6L421.8,315.0L421.9,318.0L420.0,320.7L419.6,321.0L417.0,321.9L414.0,322.4L411.0,322.1L408.0,321.3L406.9,321.0L405.0,319.6L402.0,319.9L401.4,321.0L399.0,322.8L398.0,324.0L396.0,325.7L394.1,327.0L393.0,327.5L390.0,328.3L387.0,328.9L384.0,329.4L381.1,330.0L381.0,330.0L378.0,330.6L375.0,331.1L372.0,331.6L369.0,332.0L366.0,332.3L363.0,332.6L360.0,332.7L357.0,332.7L354.0,332.4L351.0,331.9L348.0,331.3L345.0,330.6L342.3,330.0L342.0,329.9L339.0,329.0L336.0,327.8L333.2,327.0L333.0,326.8L331.2,324.0L330.5,321.0L330.7,318.0L333.0,315.8L333.8,315.0L336.0,313.0L337.2,312.0L336.0,310.1L333.0,310.8L330.0,312.0L329.9,312.0L327.0,314.0L324.8,315.0L324.0,315.3L321.0,317.0L319.2,318.0L318.0,318.5L315.0,319.4L312.0,319.4L309.0,318.6L307.9,318.0L306.0,315.3L305.9,315.0L306.0,314.7L307.0,312.0L309.0,310.2L310.5,309.0L312.0,308.3L315.0,307.6L318.0,306.6L319.8,306.0ZM402.1,363.0L405.0,362.8L408.0,362.6L411.0,362.5L414.0,362.4L417.0,362.3L420.0,362.2L423.0,362.2L426.0,362.2L429.0,362.1L432.0,362.1L435.0,362.1L438.0,362.0L441.0,361.6L444.0,361.1L447.0,361.8L450.0,362.8L450.4,363.0L453.0,364.1L456.0,365.7L456.5,366.0L459.0,367.7L460.5,369.0L462.0,371.0L462.8,372.0L464.5,375.0L465.0,376.1L465.9,378.0L466.7,381.0L467.2,384.0L467.0,387.0L465.3,390.0L465.0,392.1L464.9,393.0L464.4,396.0L463.5,399.0L462.2,402.0L462.0,402.2L459.0,404.1L456.1,405.0L456.0,405.0L453.4,408.0L453.0,408.1L450.0,408.9L447.7,411.0L447.0,411.4L444.5,414.0L444.4,417.0L444.0,417.5L441.0,419.5L438.0,419.0L435.2,420.0L435.0,420.1L433.7,420.0L432.0,419.9L431.8,420.0L429.0,422.2L426.0,422.0L423.0,423.0L422.9,423.0L420.0,423.8L417.0,425.8L416.5,426.0L414.0,426.9L411.0,426.8L408.0,427.5L405.0,427.3L402.0,427.7L399.0,427.3L396.0,427.2L393.0,426.7L390.0,426.6L387.6,426.0L387.0,425.9L384.0,425.5L381.0,425.0L378.0,424.5L375.0,424.1L372.0,423.6L369.0,423.1L368.5,423.0L366.0,422.4L363.0,421.6L360.0,420.8L357.5,420.0L357.0,419.8L354.0,418.6L351.0,417.3L350.2,417.0L348.0,415.8L345.0,414.1L344.8,414.0L342.0,412.1L340.4,411.0L339.0,410.0L336.6,408.0L336.0,407.5L333.6,405.0L333.0,404.3L331.1,402.0L330.0,399.8L329.6,399.0L329.4,396.0L330.0,393.4L330.1,393.0L331.8,390.0L333.0,388.3L334.0,387.0L336.0,384.7L336.7,384.0L339.0,381.8L340.0,381.0L342.0,379.3L343.9,378.0L345.0,377.3L348.0,375.5L349.0,375.0L351.0,373.9L354.0,372.7L356.0,372.0L357.0,371.6L360.0,370.6L363.0,369.7L365.9,369.0L366.0,369.0L369.0,368.1L372.0,367.4L375.0,366.8L378.0,366.3L379.6,366.0L381.0,365.7L384.0,365.1L387.0,364.7L390.0,364.2L393.0,363.8L396.0,363.5L399.0,363.2L402.0,363.0L402.1,363.0Z" fill="#ffde00" fill-rule="evenodd"/><path d="M391.1,378.0L393.0,377.7L396.0,377.3L399.0,377.0L402.0,376.8L405.0,376.6L408.0,376.4L411.0,376.3L414.0,376.3L417.0,376.2L420.0,376.2L423.0,376.1L426.0,376.1L429.0,376.1L432.0,376.0L435.0,376.0L438.0,376.0L441.0,376.2L443.6,378.0L444.0,378.5L445.4,381.0L447.0,382.6L448.0,384.0L450.0,386.4L450.3,387.0L451.6,390.0L451.5,393.0L450.3,396.0L450.0,396.5L448.1,399.0L447.0,400.4L445.1,402.0L444.0,403.2L441.0,404.8L440.5,405.0L438.0,405.6L435.0,407.1L433.7,408.0L432.0,409.7L430.3,411.0L429.0,413.2L427.7,414.0L426.0,414.7L423.0,416.3L420.0,416.4L418.6,417.0L417.0,417.5L414.0,417.8L411.0,417.8L408.0,417.7L405.0,417.7L402.0,417.6L399.0,417.6L396.0,417.4L393.0,417.2L391.2,417.0L390.0,416.9L387.0,416.4L384.0,415.9L381.0,415.3L378.0,414.5L376.3,414.0L375.0,413.5L372.0,412.3L369.2,411.0L369.0,410.9L366.0,409.2L364.2,408.0L363.0,406.9L360.7,405.0L360.0,404.1L358.1,402.0L357.0,400.0L356.4,399.0L356.1,396.0L357.0,394.1L357.6,393.0L360.0,390.9L361.1,390.0L363.0,388.9L366.0,387.2L366.4,387.0L369.0,385.7L372.0,384.2L372.4,384.0L375.0,382.8L378.0,381.6L379.6,381.0L381.0,380.5L384.0,379.6L387.0,378.8L390.0,378.2L391.1,378.0Z" fill="#ffae00" fill-rule="evenodd"/><path d="M398.8,387.0L399.0,387.0L402.0,386.5L405.0,386.2L408.0,386.1L411.0,386.3L414.0,386.7L415.6,387.0L417.0,387.3L420.0,388.1L423.0,389.1L425.9,390.0L426.0,390.0L429.0,391.3L432.0,393.0L432.0,393.0L433.2,396.0L432.0,398.5L431.8,399.0L429.0,401.3L428.3,402.0L426.0,403.4L423.2,405.0L423.0,405.1L420.0,406.5L417.0,407.8L416.3,408.0L414.0,408.6L411.0,409.3L408.0,409.7L405.0,410.1L402.0,410.4L399.0,410.6L396.0,410.4L393.0,409.9L390.0,408.9L387.8,408.0L387.0,407.5L384.0,405.4L383.5,405.0L381.0,402.1L380.9,402.0L380.2,399.0L381.0,397.1L381.6,396.0L384.0,393.6L384.7,393.0L387.0,391.5L389.7,390.0L390.0,389.8L393.0,388.7L396.0,387.7L398.8,387.0Z" fill="#ff7e00" fill-rule="evenodd"/></g>
<g transform="translate(78.5,1117.4)"><path d="M-0.5,60.0 L8.8,60.6 M-0.5,69.0 L9.4,72.4 L18.1,75.9 L29.3,77.4 L37.4,80.1 L30.6,83.0 L26.2,83.6 L24.3,86.7 L15.6,84.2 L7.0,81.8 L-0.5,80.1 M29.3,89.8 L42.4,91.1 M159.5,70.6 L142.4,66.2 L123.7,64.4 L105.1,62.5 L93.9,62.3 L86.5,60.0 L76.5,61.9 L66.6,63.7 L61.6,67.5 L51.7,70.0 L48.6,71.8 L55.4,73.7 L64.1,76.8 L69.1,79.9 L57.9,79.3 L46.7,80.5 L43.0,81.1 L49.2,83.6 L59.1,84.9 L71.5,84.9 L70.3,88.6 L59.1,90.5 L54.2,94.8 L51.7,97.3 L46.7,102.3 L54.2,102.9 L66.6,104.7 L74.0,107.2 L85.2,107.2 L81.5,111.0 L74.0,114.7 L64.1,118.4 L55.4,122.8 L57.9,124.0 L71.5,118.4 L86.5,112.2 L96.4,107.2 L107.6,98.5 L111.3,97.9 L105.1,103.5 L103.8,106.0 L120.0,103.5 L122.5,98.5 L136.1,101.0 L148.6,103.5 L159.5,108.5 M95.2,113.4 L103.8,111.0 M159.5,108.6 L172.0,109.6 L184.5,122.1 L192.0,129.6 L199.5,135.8 L212.0,144.6 L209.0,149.6 L207.0,162.1 L208.2,174.6 L212.0,184.6 L219.5,194.6 L224.5,198.3 L233.2,202.1 L238.2,210.8 L243.2,218.3 L249.5,225.8 L259.5,233.3 L269.5,240.8 L277.0,247.1 L279.5,254.6 L289.5,260.8 L302.0,265.8 L312.0,269.6 L321.5,267.6 M243.2,210.8 L247.0,219.6 L254.5,229.6 L262.0,240.8 L258.2,232.1 L249.5,219.6 L245.0,210.8 M192.0,137.1 L207.0,142.1 L214.5,149.6 M174.5,125.8 L182.0,132.1 M74.5,244.6 L83.2,248.3 L92.0,255.1 M321.5,215.1 L309.5,222.1 L307.0,237.1 L312.0,252.6 L321.5,259.6 M159.5,108.6 L149.5,104.6 L139.5,102.1 L119.5,99.6 M162.0,69.6 L174.5,66.6 L189.5,65.1 L199.5,67.1 L212.0,65.1 L232.0,67.1 L247.0,70.8 L269.5,74.6 L294.5,72.6 L321.5,71.6 M404.0,34.6 L426.5,39.6 L446.5,43.3 L461.5,49.6 L469.0,59.6 L481.5,65.1 L474.0,74.6 L481.5,87.1 L494.0,99.6 L509.0,102.1 L514.0,94.6 L521.5,84.6 L539.0,79.6 L554.0,72.6 L571.5,69.6 L589.0,63.3 L591.5,54.6 L599.0,47.1 L601.5,39.6 L601.5,29.6 L609.0,24.6 L629.0,22.1 L596.5,17.1 L571.5,14.6 L536.5,13.3 L501.5,17.1 L481.5,20.1 L441.5,18.3 L421.5,24.6 L404.0,34.6 M582.8,80.8 L594.0,79.1 L619.0,78.3 L624.0,83.3 L609.0,88.3 L591.5,88.3 L582.8,80.8 M321.5,24.6 L334.0,19.6 L371.5,15.8 L404.0,15.8 L441.5,17.6 L426.5,23.3 L404.0,29.6 L384.0,32.1 L374.0,39.6 L346.5,47.1 L321.5,48.3 M336.5,57.1 L359.0,55.1 L384.0,55.8 L404.0,62.1 L419.0,67.6 L439.0,74.6 L444.0,77.6 L431.5,82.6 L421.5,88.3 L401.5,88.3 L379.0,85.8 L364.0,82.1 L349.0,79.6 L336.5,72.1 L336.5,57.1 M321.5,107.1 L329.0,112.1 L346.5,117.1 L364.0,122.1 L369.0,132.1 L375.2,135.8 L380.2,127.1 L375.2,122.1 L386.5,116.6 L384.0,107.1 L381.5,97.6 L389.0,94.6 L401.5,95.8 L414.0,99.6 L419.0,107.1 L431.5,100.8 L444.0,114.6 L459.0,122.1 L466.5,129.6 L464.0,137.1 L451.5,139.6 L439.0,138.3 L426.5,142.6 L409.0,150.8 M451.5,145.1 L461.5,140.8 L471.5,142.1 L476.5,149.6 L469.0,152.6 L456.5,149.6 L451.5,145.1 M429.0,159.6 L439.0,155.8 L450.2,154.6 L436.5,162.1 L426.5,164.6 M429.0,159.6 L411.5,167.1 L406.5,172.1 L396.5,174.6 L389.0,180.1 L386.5,187.6 L389.0,195.1 L379.0,202.1 L369.0,209.1 L369.0,219.6 L374.0,232.6 L366.5,227.1 L361.5,217.1 L351.5,214.6 L339.0,215.8 L331.5,217.1 L321.5,216.1 M321.5,258.3 L331.5,255.1 L336.5,249.6 L348.5,247.1 L344.0,252.1 L340.2,264.6 L354.0,269.1 L361.5,274.6 L359.0,284.6 L364.0,294.6 L371.5,292.6 L384.0,289.6 M321.5,267.1 L336.5,274.6 L349.0,284.6 L359.0,294.6 L371.5,299.6 L381.5,295.1 M381.5,295.1 L396.5,284.6 L406.5,282.1 L421.5,287.1 L436.5,287.1 L446.5,292.1 L459.0,304.6 L471.5,307.1 L481.5,314.6 L486.5,321.6 M381.5,295.8 L384.0,312.1 L379.0,321.6 M355.2,245.8 L366.5,242.1 L379.0,244.6 L394.0,249.6 L404.0,254.6 L416.5,257.6 M396.5,257.6 L409.0,255.8 L419.0,259.6 M379.5,260.1 L389.0,260.1 M421.5,259.6 L429.0,259.6 M377.8,228.3 L385.2,228.3 M380.2,235.8 L382.8,237.1 M643.5,202.1 L636.5,207.1 L634.0,217.1 L621.5,224.6 L614.0,239.6 L611.5,249.6 L612.8,259.6 L609.0,274.6 L614.0,284.6 L621.5,292.1 L629.0,302.1 L643.5,312.1 M643.5,120.1 L637.0,129.6 L639.5,135.1 M643.5,164.6 L640.2,174.6 L641.5,190.1 M713.5,29.6 L726.0,25.8 L748.5,24.6 L776.0,27.1 L768.5,30.8 L748.5,30.8 L738.5,39.6 L726.0,34.6 L713.5,29.6 M748.5,35.8 L766.0,37.1 M843.5,24.6 L868.5,24.6 M866.0,58.3 L876.0,49.6 L893.5,43.3 L931.0,40.1 L906.0,45.1 L888.5,50.1 L883.5,59.6 L876.0,62.1 L866.0,58.3 M923.5,59.6 L965.5,55.1 M941.0,79.6 L956.0,72.6 M693.5,94.6 L703.5,89.6 L726.0,72.1 L748.5,64.6 L768.5,60.8 L781.0,61.6 L793.5,65.8 L818.5,70.8 L828.5,74.6 L818.5,79.6 L803.5,78.3 L798.5,77.1 L808.5,85.8 L823.5,84.6 L838.5,79.6 L841.0,72.1 L851.0,74.6 L868.5,70.8 L883.5,69.6 L901.0,67.1 L926.0,67.1 L933.5,70.8 L943.5,67.1 L965.5,59.6 M693.5,94.6 L693.5,104.6 L698.5,109.6 L708.5,112.6 L716.0,107.6 L723.5,117.6 L726.0,117.1 L738.5,109.6 L741.0,94.6 L756.0,84.6 L768.5,82.1 L761.0,87.1 L753.5,92.6 L753.5,104.6 L761.0,109.6 L758.5,115.1 L748.5,119.6 L743.5,122.6 L728.5,125.8 L708.5,124.6 L693.5,125.8 L681.0,134.6 M703.5,115.1 L716.0,122.1 M653.5,109.6 L663.5,109.6 L666.0,117.1 L673.5,127.1 L678.5,134.6 L673.5,139.6 L658.5,142.1 L656.0,137.1 L658.5,127.1 L653.5,119.6 L653.5,109.6 M643.5,122.1 L651.0,122.1 L653.5,129.6 L646.0,134.6 L643.5,132.6 M681.0,134.6 L673.5,143.3 L658.5,147.1 L666.0,153.3 L668.5,164.6 L643.5,162.1 M851.0,157.1 L863.5,152.6 L873.5,152.6 L873.5,169.6 L878.5,175.1 L876.0,190.1 L863.5,190.1 L858.5,180.1 L856.0,170.1 L851.0,162.1 L851.0,157.1 M793.5,214.6 L803.5,229.6 L813.5,242.1 L823.5,254.6 L833.5,269.6 L836.0,284.6 L863.5,282.1 L858.5,299.6 L848.5,312.1 L841.0,321.6 M803.5,217.1 L813.5,232.1 L821.0,247.1 L833.5,264.6 L841.0,277.1 L858.5,269.6 L876.0,262.1 L893.5,249.6 L898.5,243.3 L891.0,234.6 L886.0,227.6 L868.5,232.1 L863.5,224.6 L856.0,214.6 L866.0,234.6 L881.0,232.1 L893.5,229.6 L918.5,232.1 L928.5,239.6 L938.5,249.6 L946.0,249.6 L953.5,269.6 L965.5,297.1 M643.5,312.1 L658.5,309.6 L681.0,304.6 L693.5,307.1 L706.0,312.1 L711.0,321.6 M965.5,57.1 L975.5,58.3 L978.0,52.1 L998.0,49.6 L1000.5,45.8 L1028.0,42.1 L1053.0,39.6 L1070.5,37.1 L1085.5,39.6 L1100.5,43.3 L1085.5,48.3 L1100.5,52.1 L1135.5,53.3 L1153.0,52.1 L1158.0,58.3 L1165.5,62.1 L1170.5,58.3 L1195.5,58.3 L1235.5,59.6 L1265.5,62.1 L1275.5,67.1 L1287.5,65.8 M1015.5,25.8 L1030.5,23.3 L1045.5,27.1 L1040.5,32.1 L1025.5,30.8 L1015.5,25.8 M1048.0,30.8 L1068.0,32.1 M1188.0,44.6 L1200.5,42.1 L1218.0,44.6 L1205.5,48.3 L1188.0,45.8 M1220.5,45.8 L1240.5,45.8 M1130.5,219.6 L1123.0,232.1 L1113.0,239.6 L1100.5,244.6 L1088.0,247.1 L1075.5,249.6 L1070.5,257.1 L1080.5,267.1 L1083.0,279.6 L1070.5,292.1 L1063.0,287.1 L1050.5,277.1 L1045.5,287.1 L1043.0,299.6 L1050.5,309.6 L1060.5,321.6 M1125.5,234.6 L1130.5,237.1 L1128.0,245.8 L1124.2,242.1 L1125.5,234.6 M1080.5,252.1 L1088.0,254.6 L1085.5,259.6 L1080.5,257.1 L1080.5,252.1 M1125.5,259.6 L1133.0,259.6 L1130.5,272.1 L1140.5,282.1 L1145.5,294.6 L1143.0,304.6 L1135.5,299.6 L1128.0,279.6 L1125.5,259.6 M1115.5,294.6 L1123.0,287.1 M965.5,269.6 L975.5,267.1 L985.5,259.6 L1000.5,249.6 L1015.5,242.1 L1025.5,249.6 L1028.0,262.1 L1038.0,264.6 L1043.0,279.6 L1050.5,277.1 M975.5,269.6 L973.0,284.6 L965.5,297.1 M970.5,292.1 L978.0,294.6 L980.5,302.1 L975.5,307.1 L970.5,299.6 L970.5,292.1 M1030.5,307.1 L1045.5,314.6 L1053.0,321.6 M1171.5,58.7 L1184.1,60.0 L1196.7,58.7 L1200.4,54.9 L1234.4,56.2 L1247.0,61.9 L1269.6,61.2 L1274.6,66.3 L1303.6,66.3 L1309.9,70.0 L1313.6,65.0 L1330.2,65.0 M1186.6,44.9 L1196.7,41.7 L1216.8,43.6 L1215.5,47.4 L1196.7,48.0 L1186.6,44.9 M1221.8,45.5 L1239.4,46.1 M1196.7,52.4 L1211.8,53.1 M1180.3,121.6 L1206.7,105.3 L1231.9,104.0 L1241.9,106.5 L1254.5,105.3 L1262.1,97.7 L1272.1,96.5 L1275.9,100.2 L1289.7,93.3 L1282.2,100.2 L1262.1,111.5 L1257.0,119.1 L1262.1,136.7 L1269.6,130.4 L1277.2,125.4 L1283.4,119.1 L1286.0,112.8 L1282.2,110.3 L1287.2,102.7 L1297.3,102.7 L1307.3,100.2 L1313.6,102.7 L1330.2,96.5 M379.0,321.6 L371.5,329.1 L374.0,336.6 L369.0,346.6 L374.0,356.6 L386.5,379.1 L391.5,384.1 L406.5,394.1 L411.5,401.6 L409.0,421.6 L406.5,441.6 L404.0,451.6 L399.0,466.6 L396.5,476.6 L399.0,491.6 L394.0,501.6 L391.5,516.6 L396.5,526.6 L406.5,531.6 L416.5,536.6 L429.0,534.1 L421.5,526.6 L416.5,521.6 L421.5,511.6 L426.5,501.6 L431.5,486.6 L434.0,481.6 L441.5,474.1 L459.0,469.1 L461.5,461.6 L456.5,456.6 L469.0,457.8 L481.5,446.6 L491.5,434.1 L494.0,424.1 L501.5,419.1 L516.5,414.1 L521.5,406.6 L526.5,394.1 L529.0,379.1 L541.5,364.1 L544.0,349.1 L539.0,346.6 L526.5,339.1 L511.5,336.6 L496.5,331.6 L486.5,326.6 L486.5,321.6 M445.2,521.6 L457.8,521.6 M321.5,602.8 L339.0,600.3 L371.5,604.1 L389.0,604.6 L406.5,601.1 L421.5,596.6 L419.0,589.1 L409.0,587.1 L404.0,594.1 L394.0,596.6 M421.5,596.6 L421.5,581.6 L439.0,571.6 L457.8,566.1 L429.0,576.6 L431.5,586.6 L441.5,591.6 L446.5,601.6 L441.5,606.6 L421.5,611.6 L404.0,614.1 L384.0,616.6 L384.0,624.1 L396.5,629.1 L421.5,631.6 L456.5,639.1 L496.5,634.1 L539.0,631.6 L566.5,627.1 L541.5,624.1 L541.5,620.3 L571.5,614.1 L611.5,606.6 L634.0,596.6 L643.5,596.6 M471.5,629.1 L484.0,624.1 L496.5,620.3 L509.0,621.6 L512.8,627.8 L496.5,630.3 L471.5,629.6 M426.5,629.1 L451.5,627.8 M709.8,321.6 L707.2,331.6 L716.0,341.6 L721.0,354.1 L723.5,361.6 L726.0,370.3 L721.0,379.1 L717.2,391.6 L721.0,401.6 L728.5,411.6 L731.0,424.1 L736.0,434.1 L742.2,444.1 L741.0,451.6 L748.5,457.8 L758.5,455.3 L768.5,455.3 L778.5,451.6 L788.5,441.6 L796.0,434.1 L796.0,424.1 L806.0,419.1 L807.2,406.6 L803.5,401.6 L816.0,392.8 L826.0,386.6 L827.2,371.6 L821.0,359.1 L821.0,349.1 L826.0,336.6 L836.0,326.6 L846.0,321.6 M858.5,372.8 L863.5,384.1 L858.5,399.1 L852.2,421.6 L843.5,424.1 L837.2,416.6 L837.2,406.6 L841.0,401.6 L839.8,389.1 L851.0,384.1 L858.5,372.8 M643.5,596.6 L668.5,594.1 L706.0,590.3 L718.5,592.8 L756.0,590.3 L793.5,587.8 L803.5,584.1 L818.5,589.1 L843.5,584.1 L868.5,576.6 L886.0,575.3 L893.5,579.1 L913.5,580.3 L933.5,582.8 L934.8,589.1 L928.5,591.6 L933.5,596.6 L943.5,594.1 L953.5,589.1 L965.5,586.6 M931.0,512.8 L939.8,512.8 M1100.5,409.1 L1113.0,404.1 L1128.0,400.3 L1133.0,391.6 L1140.5,384.1 L1150.5,380.3 L1160.5,377.8 L1168.0,370.3 L1178.0,372.8 L1185.5,374.1 L1183.0,381.6 L1190.5,389.1 L1200.5,394.1 L1205.5,384.1 L1208.0,369.1 L1213.0,376.6 L1220.5,389.1 L1223.0,399.1 L1235.5,407.8 L1240.5,416.6 L1248.0,424.1 L1248.0,436.6 L1243.0,449.1 L1238.0,459.1 L1235.5,469.1 L1223.0,472.8 L1215.5,471.6 L1200.5,469.1 L1195.5,461.6 L1188.0,456.6 L1180.5,456.6 L1173.0,449.1 L1165.5,445.3 L1150.5,447.8 L1138.0,452.8 L1128.0,455.3 L1115.5,459.1 L1105.5,456.6 L1105.5,446.6 L1103.0,436.6 L1099.2,426.6 L1100.5,416.6 L1100.5,409.1 M1216.8,480.3 L1230.5,480.3 L1229.2,487.8 L1223.0,491.6 L1216.8,484.1 L1216.8,480.3 M965.5,587.8 L980.5,580.3 L1003.0,577.8 L1015.5,579.1 L1048.0,579.1 L1060.5,572.8 L1073.0,577.8 L1100.5,575.3 L1125.5,579.1 L1155.5,576.6 L1180.5,575.3 L1185.5,577.8 L1220.5,577.8 L1225.5,582.8 L1250.5,585.3 L1265.5,587.8 L1287.5,592.8 M1041.4,277.6 L1043.9,292.5 L1051.3,302.4 L1061.3,314.9 L1065.0,323.6 M1043.9,292.5 L1066.2,295.0 L1081.1,285.1 L1083.6,277.6 M1031.4,307.4 L1038.9,307.4 L1051.3,317.4 L1063.7,327.3 L1071.2,337.2 L1071.2,349.6 L1063.7,344.7 L1053.8,334.7 L1043.9,322.3 L1033.9,312.4 L1031.4,307.4 M1068.7,352.1 L1083.6,353.4 L1103.5,357.1 L1108.5,359.6 L1096.0,360.1 L1076.2,357.6 L1068.7,352.1 M1110.9,359.6 L1135.8,358.3 M1138.3,364.6 L1150.7,359.6 M1113.4,302.4 L1120.9,308.7 L1115.9,317.4 L1118.4,323.6 L1113.4,329.8 L1108.5,342.2 L1096.0,342.2 L1086.1,337.2 L1081.1,327.3 L1083.6,319.8 L1093.5,316.1 L1103.5,307.4 L1113.4,302.4 M1120.9,324.8 L1143.2,322.3 L1128.3,329.8 L1125.8,337.2 L1133.3,344.7 L1125.8,349.6 L1120.9,339.7 L1120.9,324.8 M1125.8,277.6 L1135.8,282.6 L1145.7,287.5 L1148.2,302.4 L1140.8,304.9 L1133.3,297.5 L1128.3,287.5 L1125.8,277.6 M1113.4,295.0 L1123.4,285.1 M1153.2,319.8 L1155.7,331.0 M1145.7,339.7 L1165.6,341.0 M1178.0,349.6 L1178.5,352.1 M1163.1,329.8 L1175.5,329.8 L1183.0,337.2 L1195.4,333.5 L1210.3,337.2 L1222.7,344.7 L1230.2,352.1 L1240.1,365.8 L1230.2,364.6 L1220.3,357.1 L1212.8,357.1 L1205.4,362.1 L1195.4,359.6 L1188.0,352.1 L1175.5,342.2 L1168.1,337.2 L1163.1,329.8 M1227.7,349.6 L1240.1,347.2 L1247.6,342.2 L1240.1,337.2 M1252.6,347.2 L1267.5,357.1 L1282.4,369.5 M-0.5,642.6 L12.0,643.8 L24.5,642.1 L37.0,641.8 L49.5,645.1 L82.0,647.6 L109.5,647.1 L137.0,645.6 L109.5,642.6 L99.5,640.1 L99.5,635.1 L87.0,632.6 L107.0,632.6 L124.5,628.8 L119.5,626.3 L99.5,624.6 L84.5,622.6 L79.5,616.3 L99.5,617.6 L124.5,613.8 L129.5,610.1 L149.5,608.8 L174.5,606.3 L199.5,605.1 L224.5,603.8 L247.0,605.1 L254.5,607.6 L274.5,610.1 L297.0,608.8 L287.0,602.6 L292.0,597.6 L312.0,597.6 L321.5,602.6 M60.8,622.6 L77.0,625.1 M1297.3,499.9 L1303.6,494.8 L1312.4,489.8 L1319.9,482.3 L1325.0,478.5 L1330.2,476.0 L1330.2,486.0 L1322.4,492.3 L1316.2,498.6 L1308.6,503.6 L1301.1,502.4 L1297.3,499.9 M1319.9,455.8 L1328.7,460.9 L1330.2,473.4 L1325.0,476.0 M1298.5,382.3 L1303.6,390.4 M1288.5,403.0 L1301.1,411.8 M1253.3,346.4 L1267.1,355.2 L1282.2,369.0 M1171.5,574.1 L1180.3,571.6 L1186.6,575.3 L1219.3,574.1 L1221.8,579.1 L1249.5,582.9 L1272.1,587.9 L1284.7,591.7 L1316.2,592.9 L1309.9,600.5 L1291.0,608.0 L1287.2,614.3 L1299.8,619.4 L1279.7,621.9 L1273.4,628.2 L1284.7,633.2 L1303.6,638.2 L1330.2,640.7 M643.5,163.5 L668.7,164.2 L670.1,155.8 L658.9,146.0 L653.3,139.7 M643.5,187.9 L649.1,191.4 L647.7,197.7 L643.5,203.3 M649.1,191.4 L660.3,189.3 L671.4,182.3 L675.6,173.2 L685.4,166.2 L696.6,164.8 L707.8,161.4 L713.4,164.2 L721.8,171.1 L732.9,177.4 L741.3,180.2 L735.7,183.7 L730.1,179.5 M720.4,156.5 L727.3,158.6 L735.7,164.2 L745.5,169.7 L749.7,173.9 L744.1,179.5 L738.5,180.9 M705.0,166.9 L703.6,173.9 L706.4,182.3 L710.6,180.9 L710.6,171.1 L705.0,166.9 M720.4,185.8 L732.9,183.7 L731.5,190.0 L721.8,187.9 L720.4,185.8 M749.7,173.9 L753.9,180.9 L758.1,189.3 L762.3,194.9 L772.1,196.3 L765.1,192.1 L759.5,179.5 L766.5,173.9 L774.9,175.3 L773.5,182.3 L777.7,189.3 L790.2,192.1 L804.2,191.4 L809.8,190.0 L809.8,200.5 L804.2,210.3 M777.7,171.1 L781.8,158.6 L790.2,151.6 L797.2,153.0 L804.2,157.2 L818.2,151.6 L822.4,150.2 M804.2,157.2 L812.6,155.8 L823.5,160.7 M777.7,171.1 L790.2,172.5 L804.2,169.7 L823.5,174.6 M643.5,193.5 L653.3,193.5 L664.5,194.9 L678.4,190.7 L692.4,187.9 L710.6,187.9 L716.2,190.7 L713.4,199.1 L719.0,204.7 L730.1,206.1 L741.3,213.1 L746.9,214.5 L749.7,206.1 L763.7,207.5 L776.3,210.3 L790.2,210.3 L800.0,208.9 L804.2,210.3 M1179.8,121.9 L1188.5,126.3 L1196.1,124.1 L1202.6,128.5 L1201.5,133.9 L1199.3,144.8 L1191.7,153.5 L1179.8,163.3 L1172.2,167.6 L1168.9,165.4 L1160.2,170.9 L1160.2,174.1 L1152.6,178.5 L1151.5,180.6 L1158.0,187.2 L1160.2,193.7 L1155.8,198.0 L1148.2,198.0 L1147.2,191.5 L1148.2,187.2 L1142.8,182.8 L1142.8,178.5 L1137.4,178.5 L1130.8,180.6 L1128.7,174.1 L1114.5,182.8 L1121.1,188.3 L1133.0,188.3 L1130.8,192.6 L1121.1,195.9 L1124.3,202.4 L1130.8,208.9 L1129.8,215.4 M1205.8,124.1 L1209.1,123.0 L1212.4,129.6 L1216.7,143.7 L1210.2,145.9 L1206.9,139.3 L1205.8,124.1 M1199.3,165.4 L1205.8,161.1 L1218.9,161.1 L1221.1,165.4 L1212.4,169.8 L1203.7,168.7 L1199.3,165.4 M1202.6,169.8 L1202.6,178.5 L1199.3,185.0 L1188.5,188.3 L1179.8,193.7 L1168.9,195.9 L1159.1,202.4 L1163.5,211.1 L1168.9,204.6 L1181.9,202.4 L1190.6,198.0 L1199.3,195.9 L1203.7,189.3 L1205.8,180.6 L1202.6,169.8 M211.5,41.8 L227.0,37.1 L239.5,36.3 M247.2,35.6 L255.0,32.4 L264.3,34.0 L258.1,37.9 L248.8,37.1 M213.1,41.0 L227.0,43.3 L242.6,46.4 L258.1,46.4 L276.7,44.9 M211.5,48.0 L227.0,49.5 L250.3,49.5 L273.6,51.1 L282.9,52.6 M211.5,58.8 L223.9,54.2 L242.6,54.2 L258.1,54.2 L278.3,52.6 L282.9,58.8 L292.2,66.6 L304.7,69.7 L320.2,68.2 M211.5,65.8 L234.8,68.2 L250.3,72.8 L273.6,72.8 L292.2,72.8 L312.4,74.4 L320.2,72.8 M278.3,30.9 L289.1,30.9 L301.6,35.6 L298.5,37.1 L281.4,34.8 M289.1,41.8 L304.7,40.2 L320.2,43.3 L329.5,44.9 L351.3,44.9 L374.5,44.9 M304.7,32.4 L320.2,30.9 L328.0,35.6 L323.3,46.4 L312.4,48.0 M289.1,54.2 L298.5,52.6 L310.9,54.2 L320.2,58.8 L312.4,61.9 L298.5,60.4 L289.1,57.3 M310.9,26.2 L320.2,23.1 L335.7,20.0 L359.0,18.5 L366.8,26.2 L351.3,27.8 L328.0,27.8 L310.9,27.8 M331.1,20.0 L351.3,16.9 L366.8,15.4 L411.5,14.6 M335.7,37.1 L351.3,35.6 L366.8,38.7 M382.3,30.9 L397.8,27.8 L411.5,27.8 M374.5,38.7 L390.1,35.6 L411.5,30.9 M335.7,54.2 L351.3,52.6 L374.5,54.2 L390.1,57.3 L411.5,61.9 M338.8,61.9 L351.3,63.5 L366.8,65.1 L382.3,68.2 L397.8,72.8 L402.5,77.5 L397.8,82.1 M328.0,66.6 L335.7,69.7 L348.1,74.4 L354.4,69.7 M397.8,32.4 L405.6,37.1 L411.5,38.7 M320.2,107.6 L323.3,97.7 L335.7,88.3 L351.3,80.6 L363.7,75.9 L369.9,72.8 M346.6,88.3 L359.0,85.2 L366.8,89.9 L374.5,88.3 L382.3,85.2 L390.1,82.1 M379.2,94.6 L397.8,93.0 L411.5,94.6 M373.8,94.6 L375.3,95.3" fill="none" stroke="#000" stroke-width="4.4" stroke-linejoin="round" stroke-linecap="round"/></g>
</g>
<rect x="78.5" y="1117.4" width="1331.0" height="656.0" fill="none" stroke="#000" stroke-width="3.33"/>
<text x="744" y="1093.5" font-size="55.0" text-anchor="middle" textLength="1226.0" lengthAdjust="spacingAndGlyphs">Ionosphere  (h=450.0 km), 2007-04-30 20:00 UT</text>
<rect x="78.50" y="1816.5" width="67.15" height="66.0" fill="#00009b"/>
<rect x="145.05" y="1816.5" width="67.15" height="66.0" fill="#0000d6"/>
<rect x="211.60" y="1816.5" width="67.15" height="66.0" fill="#0000ff"/>
<rect x="278.15" y="1816.5" width="67.15" height="66.0" fill="#0030ff"/>
<rect x="344.70" y="1816.5" width="67.15" height="66.0" fill="#0064ff"/>
<rect x="411.25" y="1816.5" width="67.15" height="66.0" fill="#0098ff"/>
<rect x="477.80" y="1816.5" width="67.15" height="66.0" fill="#00ccff"/>
<rect x="544.35" y="1816.5" width="67.15" height="66.0" fill="#16ffe1"/>
<rect x="610.90" y="1816.5" width="67.15" height="66.0" fill="#3cffba"/>
<rect x="677.45" y="1816.5" width="67.15" height="66.0" fill="#66ff90"/>
<rect x="744.00" y="1816.5" width="67.15" height="66.0" fill="#90ff66"/>
<rect x="810.55" y="1816.5" width="67.15" height="66.0" fill="#baff3c"/>
<rect x="877.10" y="1816.5" width="67.15" height="66.0" fill="#e4ff13"/>
<rect x="943.65" y="1816.5" width="67.15" height="66.0" fill="#ffde00"/>
<rect x="1010.20" y="1816.5" width="67.15" height="66.0" fill="#ffae00"/>
<rect x="1076.75" y="1816.5" width="67.15" height="66.0" fill="#ff7e00"/>
<rect x="1143.30" y="1816.5" width="67.15" height="66.0" fill="#ff4e00"/>
<rect x="1209.85" y="1816.5" width="67.15" height="66.0" fill="#ff1e00"/>
<rect x="1276.40" y="1816.5" width="67.15" height="66.0" fill="#d60000"/>
<rect x="1342.95" y="1816.5" width="67.15" height="66.0" fill="#9b0000"/>
<rect x="78.5" y="1816.5" width="1331.0" height="66.0" fill="none" stroke="#000" stroke-width="3.33"/>
<line x1="78.50" y1="1882.5" x2="78.50" y2="1897.1" stroke="#000" stroke-width="3.33"/>
<text x="78.50" y="1944.5" font-size="46.0" text-anchor="middle">0.0</text>
<line x1="278.15" y1="1882.5" x2="278.15" y2="1897.1" stroke="#000" stroke-width="3.33"/>
<text x="278.15" y="1944.5" font-size="46.0" text-anchor="middle">7.5</text>
<line x1="477.80" y1="1882.5" x2="477.80" y2="1897.1" stroke="#000" stroke-width="3.33"/>
<text x="477.80" y="1944.5" font-size="46.0" text-anchor="middle">15.0</text>
<line x1="677.45" y1="1882.5" x2="677.45" y2="1897.1" stroke="#000" stroke-width="3.33"/>
<text x="677.45" y="1944.5" font-size="46.0" text-anchor="middle">22.5</text>
<line x1="877.10" y1="1882.5" x2="877.10" y2="1897.1" stroke="#000" stroke-width="3.33"/>
<text x="877.10" y="1944.5" font-size="46.0" text-anchor="middle">30.0</text>
<line x1="1076.75" y1="1882.5" x2="1076.75" y2="1897.1" stroke="#000" stroke-width="3.33"/>
<text x="1076.75" y="1944.5" font-size="46.0" text-anchor="middle">37.5</text>
<line x1="1276.40" y1="1882.5" x2="1276.40" y2="1897.1" stroke="#000" stroke-width="3.33"/>
<text x="1276.40" y="1944.5" font-size="46.0" text-anchor="middle">45.0</text>
<defs><clipPath id="clip2"><rect x="78.5" y="2102.4" width="1331.0" height="656.0"/></clipPath></defs>
<g clip-path="url(#clip2)">
<rect x="78.5" y="2102.4" width="1331.0" height="656.0" fill="#0000df"/>
<g transform="translate(78.5,2102.4)"><path d="M-10.0,148.0 C-8.0,148.0 -8.1,146.9 2.1,148.0 C12.3,149.1 34.4,151.9 51.2,154.7 C68.0,157.6 85.7,161.2 102.9,165.1 C120.1,168.9 137.4,173.7 154.6,178.0 C171.9,182.3 189.1,186.6 206.3,190.9 C223.6,195.2 240.8,202.5 258.0,203.8 C275.3,205.1 292.5,201.7 309.7,198.7 C327.0,195.7 344.2,188.3 361.4,185.7 C378.7,183.2 395.9,183.2 413.2,183.2 C430.4,183.2 447.6,184.5 464.9,185.7 C482.1,187.0 499.3,189.2 516.6,190.9 C533.8,192.6 551.0,195.2 568.3,196.1 C585.5,196.9 603.8,196.9 620.0,196.1 C636.2,195.2 649.3,196.1 665.5,190.9 C681.7,185.7 700.0,172.0 717.2,165.1 C734.4,158.2 751.7,153.4 768.9,149.5 C786.1,145.7 803.4,143.9 820.6,141.8 C837.9,139.6 846.5,138.3 872.3,136.6 C898.2,134.9 941.3,131.9 975.7,131.5 C1010.2,131.0 1053.3,132.7 1079.2,134.0 C1105.0,135.3 1113.6,137.1 1130.9,139.2 C1148.1,141.4 1165.3,145.2 1182.6,147.0 C1199.8,148.7 1217.0,149.5 1234.3,149.5 C1251.5,149.5 1269.8,147.8 1286.0,147.0 C1302.2,146.1 1322.3,144.8 1331.5,144.4 C1340.6,143.9 1339.4,144.4 1341.0,144.4 L1341.0,420.7 C1339.4,420.7 1340.6,418.9 1331.5,420.7 C1322.3,422.4 1302.2,428.0 1286.0,431.0 C1269.8,434.0 1251.5,436.6 1234.3,438.8 C1217.0,440.9 1199.8,442.2 1182.6,443.9 C1165.3,445.7 1148.1,447.8 1130.9,449.1 C1113.6,450.4 1096.4,450.8 1079.2,451.7 C1061.9,452.6 1044.7,454.3 1027.4,454.3 C1010.2,454.3 993.0,452.3 975.7,451.7 C958.5,451.1 941.3,448.9 924.0,450.7 C906.8,452.4 889.6,458.0 872.3,462.0 C855.1,466.1 837.9,471.5 820.6,475.0 C803.4,478.4 786.1,480.6 768.9,482.7 C751.7,484.9 734.4,486.2 717.2,487.9 C700.0,489.6 686.0,491.8 665.5,493.1 C645.0,494.4 614.6,493.9 594.1,495.6 C573.6,497.4 559.7,501.2 542.4,503.4 C525.2,505.6 507.9,511.2 490.7,508.6 C473.5,506.0 453.7,494.8 439.0,487.9 C424.4,481.0 415.7,470.7 402.8,467.2 C389.9,463.8 377.0,467.6 361.4,467.2 C345.9,466.8 327.0,468.1 309.7,464.6 C292.5,461.2 275.3,452.6 258.0,446.5 C240.8,440.5 223.6,431.9 206.3,428.4 C189.1,425.0 171.9,425.8 154.6,425.8 C137.4,425.8 120.1,429.3 102.9,428.4 C85.7,427.6 68.0,423.3 51.2,420.7 C34.4,418.1 12.3,414.2 2.1,412.9 C-8.1,411.6 -8.0,412.9 -10.0,412.9 Z" fill="#0080ff"/><path d="M-10.0,219.4 C-8.0,219.4 -8.1,218.9 2.1,219.4 C12.3,219.8 34.4,218.9 51.2,221.9 C68.0,225.0 85.7,231.8 102.9,237.4 C120.1,243.1 137.4,250.4 154.6,255.5 C171.9,260.7 189.1,262.9 206.3,268.5 C223.6,274.1 240.8,283.1 258.0,289.2 C275.3,295.2 292.5,303.4 309.7,304.7 C327.0,306.0 344.2,302.1 361.4,296.9 C378.7,291.7 395.9,282.7 413.2,273.6 C430.4,264.6 447.6,249.9 464.9,242.6 C482.1,235.3 499.3,232.3 516.6,229.7 C533.8,227.1 551.0,227.1 568.3,227.1 C585.5,227.1 603.8,228.8 620.0,229.7 C636.2,230.6 649.3,234.9 665.5,232.3 C681.7,229.7 700.0,219.8 717.2,214.2 C734.4,208.6 751.7,204.3 768.9,198.7 C786.1,193.1 803.4,185.3 820.6,180.6 C837.9,175.8 846.5,172.8 872.3,170.2 C898.2,167.6 941.3,165.5 975.7,165.1 C1010.2,164.6 1053.3,166.4 1079.2,167.6 C1105.0,168.9 1113.6,168.9 1130.9,172.8 C1148.1,176.7 1165.3,184.5 1182.6,190.9 C1199.8,197.4 1217.0,206.4 1234.3,211.6 C1251.5,216.8 1269.8,220.6 1286.0,221.9 C1302.2,223.2 1322.3,219.8 1331.5,219.4 C1340.6,218.9 1339.4,219.4 1341.0,219.4 L1341.0,332.8 C1339.4,332.8 1336.3,331.9 1331.5,332.8 C1326.6,333.6 1319.4,333.6 1311.8,337.9 C1304.2,342.3 1293.7,351.7 1286.0,358.6 C1278.2,365.5 1273.9,374.1 1265.3,379.3 C1256.7,384.5 1248.1,387.5 1234.3,389.6 C1220.5,391.8 1199.8,390.5 1182.6,392.2 C1165.3,394.0 1148.1,396.1 1130.9,400.0 C1113.6,403.9 1096.4,412.1 1079.2,415.5 C1061.9,418.9 1044.7,420.2 1027.4,420.7 C1010.2,421.1 993.0,418.5 975.7,418.1 C958.5,417.7 941.3,416.4 924.0,418.1 C906.8,419.8 889.6,425.4 872.3,428.4 C855.1,431.4 837.9,434.2 820.6,436.2 C803.4,438.2 786.1,438.6 768.9,440.3 C751.7,442.0 734.4,444.6 717.2,446.5 C700.0,448.4 681.7,451.0 665.5,451.7 C649.3,452.4 636.2,450.7 620.0,450.7 C603.8,450.7 582.1,451.5 568.3,451.7 C554.5,451.9 544.6,454.3 537.2,451.7 C529.9,449.1 524.3,443.9 524.3,436.2 C524.3,428.4 535.1,416.4 537.2,405.2 C539.4,394.0 540.7,379.3 537.2,369.0 C533.8,358.6 523.5,348.7 516.6,343.1 C509.7,337.5 502.8,335.4 495.9,335.4 C489.0,335.4 483.0,337.5 475.2,343.1 C467.4,348.7 459.7,359.5 449.3,369.0 C439.0,378.4 427.8,390.9 413.2,400.0 C398.5,409.0 378.7,419.4 361.4,423.3 C344.2,427.1 327.0,425.4 309.7,423.3 C292.5,421.1 275.3,415.5 258.0,410.3 C240.8,405.2 223.6,396.5 206.3,392.2 C189.1,387.9 171.9,386.2 154.6,384.5 C137.4,382.8 120.1,384.0 102.9,381.9 C85.7,379.7 68.0,376.7 51.2,371.6 C34.4,366.4 12.3,354.3 2.1,350.9 C-8.1,347.4 -8.0,350.9 -10.0,350.9 Z" fill="#36ffc1"/><path d="M40.9,309.8 C44.7,304.5 58.1,297.1 66.7,295.4 C75.3,293.6 83.5,296.7 92.6,299.5 C101.6,302.3 115.0,307.7 121.0,312.4 C127.0,317.1 129.2,323.8 128.8,327.6 C128.3,331.4 125.3,333.2 118.4,335.4 C111.5,337.5 98.6,341.0 87.4,340.5 C76.2,340.1 58.5,334.9 51.2,332.8 C43.9,330.6 45.2,331.4 43.5,327.6 C41.7,323.8 37.0,315.2 40.9,309.8 Z" fill="#c1ff36"/><path d="M252.9,348.3 C257.2,344.8 264.9,340.1 278.7,337.9 C292.5,335.8 316.6,336.6 335.6,335.4 C354.5,334.1 380.4,328.9 392.5,330.2 C404.5,331.5 407.1,336.6 408.0,343.1 C408.8,349.6 405.4,361.6 397.6,369.0 C389.9,376.3 376.1,383.2 361.4,387.1 C346.8,390.9 325.2,393.5 309.7,392.2 C294.2,390.9 277.9,384.9 268.4,379.3 C258.9,373.7 255.4,363.8 252.9,358.6 C250.3,353.5 248.6,351.7 252.9,348.3 Z" fill="#c1ff36"/><path d="M534.7,284.0 C537.2,278.0 548.0,271.2 557.9,268.5 C567.8,265.7 583.8,265.7 594.1,267.4 C604.5,269.2 614.4,273.9 620.0,278.8 C625.6,283.7 629.5,291.3 627.7,296.9 C626.0,302.5 619.5,309.4 609.6,312.4 C599.7,315.4 579.5,316.3 568.3,315.0 C557.1,313.7 548.0,309.8 542.4,304.7 C536.8,299.5 532.1,290.0 534.7,284.0 Z" fill="#c1ff36"/><path d="M640.7,294.3 C642.0,288.3 645.1,280.5 653.6,273.6 C662.0,266.7 676.4,257.3 691.4,253.0 C706.3,248.7 728.4,246.9 743.1,247.8 C757.7,248.7 771.5,253.0 779.3,258.1 C787.0,263.3 788.7,270.2 789.6,278.8 C790.5,287.4 788.7,301.7 784.4,309.8 C780.1,318.0 773.2,322.1 763.7,327.6 C754.3,333.1 737.0,341.2 727.5,343.1 C718.1,345.0 720.5,344.5 706.9,339.0 C693.2,333.4 656.9,317.3 645.8,309.8 C634.8,302.4 639.4,300.4 640.7,294.3 Z" fill="#c1ff36"/><path d="M908.5,229.7 C910.7,227.1 914.6,224.1 918.9,224.5 C923.2,225.0 931.4,229.3 934.4,232.3 C937.4,235.3 939.5,240.0 937.0,242.6 C934.4,245.2 924.0,248.2 918.9,247.8 C913.7,247.4 907.7,243.1 905.9,240.0 C904.2,237.0 906.4,232.3 908.5,229.7 Z" fill="#c1ff36"/></g>
<g transform="translate(78.5,2102.4)"><path d="M-0.5,60.0 L8.8,60.6 M-0.5,69.0 L9.4,72.4 L18.1,75.9 L29.3,77.4 L37.4,80.1 L30.6,83.0 L26.2,83.6 L24.3,86.7 L15.6,84.2 L7.0,81.8 L-0.5,80.1 M29.3,89.8 L42.4,91.1 M159.5,70.6 L142.4,66.2 L123.7,64.4 L105.1,62.5 L93.9,62.3 L86.5,60.0 L76.5,61.9 L66.6,63.7 L61.6,67.5 L51.7,70.0 L48.6,71.8 L55.4,73.7 L64.1,76.8 L69.1,79.9 L57.9,79.3 L46.7,80.5 L43.0,81.1 L49.2,83.6 L59.1,84.9 L71.5,84.9 L70.3,88.6 L59.1,90.5 L54.2,94.8 L51.7,97.3 L46.7,102.3 L54.2,102.9 L66.6,104.7 L74.0,107.2 L85.2,107.2 L81.5,111.0 L74.0,114.7 L64.1,118.4 L55.4,122.8 L57.9,124.0 L71.5,118.4 L86.5,112.2 L96.4,107.2 L107.6,98.5 L111.3,97.9 L105.1,103.5 L103.8,106.0 L120.0,103.5 L122.5,98.5 L136.1,101.0 L148.6,103.5 L159.5,108.5 M95.2,113.4 L103.8,111.0 M159.5,108.6 L172.0,109.6 L184.5,122.1 L192.0,129.6 L199.5,135.8 L212.0,144.6 L209.0,149.6 L207.0,162.1 L208.2,174.6 L212.0,184.6 L219.5,194.6 L224.5,198.3 L233.2,202.1 L238.2,210.8 L243.2,218.3 L249.5,225.8 L259.5,233.3 L269.5,240.8 L277.0,247.1 L279.5,254.6 L289.5,260.8 L302.0,265.8 L312.0,269.6 L321.5,267.6 M243.2,210.8 L247.0,219.6 L254.5,229.6 L262.0,240.8 L258.2,232.1 L249.5,219.6 L245.0,210.8 M192.0,137.1 L207.0,142.1 L214.5,149.6 M174.5,125.8 L182.0,132.1 M74.5,244.6 L83.2,248.3 L92.0,255.1 M321.5,215.1 L309.5,222.1 L307.0,237.1 L312.0,252.6 L321.5,259.6 M159.5,108.6 L149.5,104.6 L139.5,102.1 L119.5,99.6 M162.0,69.6 L174.5,66.6 L189.5,65.1 L199.5,67.1 L212.0,65.1 L232.0,67.1 L247.0,70.8 L269.5,74.6 L294.5,72.6 L321.5,71.6 M404.0,34.6 L426.5,39.6 L446.5,43.3 L461.5,49.6 L469.0,59.6 L481.5,65.1 L474.0,74.6 L481.5,87.1 L494.0,99.6 L509.0,102.1 L514.0,94.6 L521.5,84.6 L539.0,79.6 L554.0,72.6 L571.5,69.6 L589.0,63.3 L591.5,54.6 L599.0,47.1 L601.5,39.6 L601.5,29.6 L609.0,24.6 L629.0,22.1 L596.5,17.1 L571.5,14.6 L536.5,13.3 L501.5,17.1 L481.5,20.1 L441.5,18.3 L421.5,24.6 L404.0,34.6 M582.8,80.8 L594.0,79.1 L619.0,78.3 L624.0,83.3 L609.0,88.3 L591.5,88.3 L582.8,80.8 M321.5,24.6 L334.0,19.6 L371.5,15.8 L404.0,15.8 L441.5,17.6 L426.5,23.3 L404.0,29.6 L384.0,32.1 L374.0,39.6 L346.5,47.1 L321.5,48.3 M336.5,57.1 L359.0,55.1 L384.0,55.8 L404.0,62.1 L419.0,67.6 L439.0,74.6 L444.0,77.6 L431.5,82.6 L421.5,88.3 L401.5,88.3 L379.0,85.8 L364.0,82.1 L349.0,79.6 L336.5,72.1 L336.5,57.1 M321.5,107.1 L329.0,112.1 L346.5,117.1 L364.0,122.1 L369.0,132.1 L375.2,135.8 L380.2,127.1 L375.2,122.1 L386.5,116.6 L384.0,107.1 L381.5,97.6 L389.0,94.6 L401.5,95.8 L414.0,99.6 L419.0,107.1 L431.5,100.8 L444.0,114.6 L459.0,122.1 L466.5,129.6 L464.0,137.1 L451.5,139.6 L439.0,138.3 L426.5,142.6 L409.0,150.8 M451.5,145.1 L461.5,140.8 L471.5,142.1 L476.5,149.6 L469.0,152.6 L456.5,149.6 L451.5,145.1 M429.0,159.6 L439.0,155.8 L450.2,154.6 L436.5,162.1 L426.5,164.6 M429.0,159.6 L411.5,167.1 L406.5,172.1 L396.5,174.6 L389.0,180.1 L386.5,187.6 L389.0,195.1 L379.0,202.1 L369.0,209.1 L369.0,219.6 L374.0,232.6 L366.5,227.1 L361.5,217.1 L351.5,214.6 L339.0,215.8 L331.5,217.1 L321.5,216.1 M321.5,258.3 L331.5,255.1 L336.5,249.6 L348.5,247.1 L344.0,252.1 L340.2,264.6 L354.0,269.1 L361.5,274.6 L359.0,284.6 L364.0,294.6 L371.5,292.6 L384.0,289.6 M321.5,267.1 L336.5,274.6 L349.0,284.6 L359.0,294.6 L371.5,299.6 L381.5,295.1 M381.5,295.1 L396.5,284.6 L406.5,282.1 L421.5,287.1 L436.5,287.1 L446.5,292.1 L459.0,304.6 L471.5,307.1 L481.5,314.6 L486.5,321.6 M381.5,295.8 L384.0,312.1 L379.0,321.6 M355.2,245.8 L366.5,242.1 L379.0,244.6 L394.0,249.6 L404.0,254.6 L416.5,257.6 M396.5,257.6 L409.0,255.8 L419.0,259.6 M379.5,260.1 L389.0,260.1 M421.5,259.6 L429.0,259.6 M377.8,228.3 L385.2,228.3 M380.2,235.8 L382.8,237.1 M643.5,202.1 L636.5,207.1 L634.0,217.1 L621.5,224.6 L614.0,239.6 L611.5,249.6 L612.8,259.6 L609.0,274.6 L614.0,284.6 L621.5,292.1 L629.0,302.1 L643.5,312.1 M643.5,120.1 L637.0,129.6 L639.5,135.1 M643.5,164.6 L640.2,174.6 L641.5,190.1 M713.5,29.6 L726.0,25.8 L748.5,24.6 L776.0,27.1 L768.5,30.8 L748.5,30.8 L738.5,39.6 L726.0,34.6 L713.5,29.6 M748.5,35.8 L766.0,37.1 M843.5,24.6 L868.5,24.6 M866.0,58.3 L876.0,49.6 L893.5,43.3 L931.0,40.1 L906.0,45.1 L888.5,50.1 L883.5,59.6 L876.0,62.1 L866.0,58.3 M923.5,59.6 L965.5,55.1 M941.0,79.6 L956.0,72.6 M693.5,94.6 L703.5,89.6 L726.0,72.1 L748.5,64.6 L768.5,60.8 L781.0,61.6 L793.5,65.8 L818.5,70.8 L828.5,74.6 L818.5,79.6 L803.5,78.3 L798.5,77.1 L808.5,85.8 L823.5,84.6 L838.5,79.6 L841.0,72.1 L851.0,74.6 L868.5,70.8 L883.5,69.6 L901.0,67.1 L926.0,67.1 L933.5,70.8 L943.5,67.1 L965.5,59.6 M693.5,94.6 L693.5,104.6 L698.5,109.6 L708.5,112.6 L716.0,107.6 L723.5,117.6 L726.0,117.1 L738.5,109.6 L741.0,94.6 L756.0,84.6 L768.5,82.1 L761.0,87.1 L753.5,92.6 L753.5,104.6 L761.0,109.6 L758.5,115.1 L748.5,119.6 L743.5,122.6 L728.5,125.8 L708.5,124.6 L693.5,125.8 L681.0,134.6 M703.5,115.1 L716.0,122.1 M653.5,109.6 L663.5,109.6 L666.0,117.1 L673.5,127.1 L678.5,134.6 L673.5,139.6 L658.5,142.1 L656.0,137.1 L658.5,127.1 L653.5,119.6 L653.5,109.6 M643.5,122.1 L651.0,122.1 L653.5,129.6 L646.0,134.6 L643.5,132.6 M681.0,134.6 L673.5,143.3 L658.5,147.1 L666.0,153.3 L668.5,164.6 L643.5,162.1 M851.0,157.1 L863.5,152.6 L873.5,152.6 L873.5,169.6 L878.5,175.1 L876.0,190.1 L863.5,190.1 L858.5,180.1 L856.0,170.1 L851.0,162.1 L851.0,157.1 M793.5,214.6 L803.5,229.6 L813.5,242.1 L823.5,254.6 L833.5,269.6 L836.0,284.6 L863.5,282.1 L858.5,299.6 L848.5,312.1 L841.0,321.6 M803.5,217.1 L813.5,232.1 L821.0,247.1 L833.5,264.6 L841.0,277.1 L858.5,269.6 L876.0,262.1 L893.5,249.6 L898.5,243.3 L891.0,234.6 L886.0,227.6 L868.5,232.1 L863.5,224.6 L856.0,214.6 L866.0,234.6 L881.0,232.1 L893.5,229.6 L918.5,232.1 L928.5,239.6 L938.5,249.6 L946.0,249.6 L953.5,269.6 L965.5,297.1 M643.5,312.1 L658.5,309.6 L681.0,304.6 L693.5,307.1 L706.0,312.1 L711.0,321.6 M965.5,57.1 L975.5,58.3 L978.0,52.1 L998.0,49.6 L1000.5,45.8 L1028.0,42.1 L1053.0,39.6 L1070.5,37.1 L1085.5,39.6 L1100.5,43.3 L1085.5,48.3 L1100.5,52.1 L1135.5,53.3 L1153.0,52.1 L1158.0,58.3 L1165.5,62.1 L1170.5,58.3 L1195.5,58.3 L1235.5,59.6 L1265.5,62.1 L1275.5,67.1 L1287.5,65.8 M1015.5,25.8 L1030.5,23.3 L1045.5,27.1 L1040.5,32.1 L1025.5,30.8 L1015.5,25.8 M1048.0,30.8 L1068.0,32.1 M1188.0,44.6 L1200.5,42.1 L1218.0,44.6 L1205.5,48.3 L1188.0,45.8 M1220.5,45.8 L1240.5,45.8 M1130.5,219.6 L1123.0,232.1 L1113.0,239.6 L1100.5,244.6 L1088.0,247.1 L1075.5,249.6 L1070.5,257.1 L1080.5,267.1 L1083.0,279.6 L1070.5,292.1 L1063.0,287.1 L1050.5,277.1 L1045.5,287.1 L1043.0,299.6 L1050.5,309.6 L1060.5,321.6 M1125.5,234.6 L1130.5,237.1 L1128.0,245.8 L1124.2,242.1 L1125.5,234.6 M1080.5,252.1 L1088.0,254.6 L1085.5,259.6 L1080.5,257.1 L1080.5,252.1 M1125.5,259.6 L1133.0,259.6 L1130.5,272.1 L1140.5,282.1 L1145.5,294.6 L1143.0,304.6 L1135.5,299.6 L1128.0,279.6 L1125.5,259.6 M1115.5,294.6 L1123.0,287.1 M965.5,269.6 L975.5,267.1 L985.5,259.6 L1000.5,249.6 L1015.5,242.1 L1025.5,249.6 L1028.0,262.1 L1038.0,264.6 L1043.0,279.6 L1050.5,277.1 M975.5,269.6 L973.0,284.6 L965.5,297.1 M970.5,292.1 L978.0,294.6 L980.5,302.1 L975.5,307.1 L970.5,299.6 L970.5,292.1 M1030.5,307.1 L1045.5,314.6 L1053.0,321.6 M1171.5,58.7 L1184.1,60.0 L1196.7,58.7 L1200.4,54.9 L1234.4,56.2 L1247.0,61.9 L1269.6,61.2 L1274.6,66.3 L1303.6,66.3 L1309.9,70.0 L1313.6,65.0 L1330.2,65.0 M1186.6,44.9 L1196.7,41.7 L1216.8,43.6 L1215.5,47.4 L1196.7,48.0 L1186.6,44.9 M1221.8,45.5 L1239.4,46.1 M1196.7,52.4 L1211.8,53.1 M1180.3,121.6 L1206.7,105.3 L1231.9,104.0 L1241.9,106.5 L1254.5,105.3 L1262.1,97.7 L1272.1,96.5 L1275.9,100.2 L1289.7,93.3 L1282.2,100.2 L1262.1,111.5 L1257.0,119.1 L1262.1,136.7 L1269.6,130.4 L1277.2,125.4 L1283.4,119.1 L1286.0,112.8 L1282.2,110.3 L1287.2,102.7 L1297.3,102.7 L1307.3,100.2 L1313.6,102.7 L1330.2,96.5 M379.0,321.6 L371.5,329.1 L374.0,336.6 L369.0,346.6 L374.0,356.6 L386.5,379.1 L391.5,384.1 L406.5,394.1 L411.5,401.6 L409.0,421.6 L406.5,441.6 L404.0,451.6 L399.0,466.6 L396.5,476.6 L399.0,491.6 L394.0,501.6 L391.5,516.6 L396.5,526.6 L406.5,531.6 L416.5,536.6 L429.0,534.1 L421.5,526.6 L416.5,521.6 L421.5,511.6 L426.5,501.6 L431.5,486.6 L434.0,481.6 L441.5,474.1 L459.0,469.1 L461.5,461.6 L456.5,456.6 L469.0,457.8 L481.5,446.6 L491.5,434.1 L494.0,424.1 L501.5,419.1 L516.5,414.1 L521.5,406.6 L526.5,394.1 L529.0,379.1 L541.5,364.1 L544.0,349.1 L539.0,346.6 L526.5,339.1 L511.5,336.6 L496.5,331.6 L486.5,326.6 L486.5,321.6 M445.2,521.6 L457.8,521.6 M321.5,602.8 L339.0,600.3 L371.5,604.1 L389.0,604.6 L406.5,601.1 L421.5,596.6 L419.0,589.1 L409.0,587.1 L404.0,594.1 L394.0,596.6 M421.5,596.6 L421.5,581.6 L439.0,571.6 L457.8,566.1 L429.0,576.6 L431.5,586.6 L441.5,591.6 L446.5,601.6 L441.5,606.6 L421.5,611.6 L404.0,614.1 L384.0,616.6 L384.0,624.1 L396.5,629.1 L421.5,631.6 L456.5,639.1 L496.5,634.1 L539.0,631.6 L566.5,627.1 L541.5,624.1 L541.5,620.3 L571.5,614.1 L611.5,606.6 L634.0,596.6 L643.5,596.6 M471.5,629.1 L484.0,624.1 L496.5,620.3 L509.0,621.6 L512.8,627.8 L496.5,630.3 L471.5,629.6 M426.5,629.1 L451.5,627.8 M709.8,321.6 L707.2,331.6 L716.0,341.6 L721.0,354.1 L723.5,361.6 L726.0,370.3 L721.0,379.1 L717.2,391.6 L721.0,401.6 L728.5,411.6 L731.0,424.1 L736.0,434.1 L742.2,444.1 L741.0,451.6 L748.5,457.8 L758.5,455.3 L768.5,455.3 L778.5,451.6 L788.5,441.6 L796.0,434.1 L796.0,424.1 L806.0,419.1 L807.2,406.6 L803.5,401.6 L816.0,392.8 L826.0,386.6 L827.2,371.6 L821.0,359.1 L821.0,349.1 L826.0,336.6 L836.0,326.6 L846.0,321.6 M858.5,372.8 L863.5,384.1 L858.5,399.1 L852.2,421.6 L843.5,424.1 L837.2,416.6 L837.2,406.6 L841.0,401.6 L839.8,389.1 L851.0,384.1 L858.5,372.8 M643.5,596.6 L668.5,594.1 L706.0,590.3 L718.5,592.8 L756.0,590.3 L793.5,587.8 L803.5,584.1 L818.5,589.1 L843.5,584.1 L868.5,576.6 L886.0,575.3 L893.5,579.1 L913.5,580.3 L933.5,582.8 L934.8,589.1 L928.5,591.6 L933.5,596.6 L943.5,594.1 L953.5,589.1 L965.5,586.6 M931.0,512.8 L939.8,512.8 M1100.5,409.1 L1113.0,404.1 L1128.0,400.3 L1133.0,391.6 L1140.5,384.1 L1150.5,380.3 L1160.5,377.8 L1168.0,370.3 L1178.0,372.8 L1185.5,374.1 L1183.0,381.6 L1190.5,389.1 L1200.5,394.1 L1205.5,384.1 L1208.0,369.1 L1213.0,376.6 L1220.5,389.1 L1223.0,399.1 L1235.5,407.8 L1240.5,416.6 L1248.0,424.1 L1248.0,436.6 L1243.0,449.1 L1238.0,459.1 L1235.5,469.1 L1223.0,472.8 L1215.5,471.6 L1200.5,469.1 L1195.5,461.6 L1188.0,456.6 L1180.5,456.6 L1173.0,449.1 L1165.5,445.3 L1150.5,447.8 L1138.0,452.8 L1128.0,455.3 L1115.5,459.1 L1105.5,456.6 L1105.5,446.6 L1103.0,436.6 L1099.2,426.6 L1100.5,416.6 L1100.5,409.1 M1216.8,480.3 L1230.5,480.3 L1229.2,487.8 L1223.0,491.6 L1216.8,484.1 L1216.8,480.3 M965.5,587.8 L980.5,580.3 L1003.0,577.8 L1015.5,579.1 L1048.0,579.1 L1060.5,572.8 L1073.0,577.8 L1100.5,575.3 L1125.5,579.1 L1155.5,576.6 L1180.5,575.3 L1185.5,577.8 L1220.5,577.8 L1225.5,582.8 L1250.5,585.3 L1265.5,587.8 L1287.5,592.8 M1041.4,277.6 L1043.9,292.5 L1051.3,302.4 L1061.3,314.9 L1065.0,323.6 M1043.9,292.5 L1066.2,295.0 L1081.1,285.1 L1083.6,277.6 M1031.4,307.4 L1038.9,307.4 L1051.3,317.4 L1063.7,327.3 L1071.2,337.2 L1071.2,349.6 L1063.7,344.7 L1053.8,334.7 L1043.9,322.3 L1033.9,312.4 L1031.4,307.4 M1068.7,352.1 L1083.6,353.4 L1103.5,357.1 L1108.5,359.6 L1096.0,360.1 L1076.2,357.6 L1068.7,352.1 M1110.9,359.6 L1135.8,358.3 M1138.3,364.6 L1150.7,359.6 M1113.4,302.4 L1120.9,308.7 L1115.9,317.4 L1118.4,323.6 L1113.4,329.8 L1108.5,342.2 L1096.0,342.2 L1086.1,337.2 L1081.1,327.3 L1083.6,319.8 L1093.5,316.1 L1103.5,307.4 L1113.4,302.4 M1120.9,324.8 L1143.2,322.3 L1128.3,329.8 L1125.8,337.2 L1133.3,344.7 L1125.8,349.6 L1120.9,339.7 L1120.9,324.8 M1125.8,277.6 L1135.8,282.6 L1145.7,287.5 L1148.2,302.4 L1140.8,304.9 L1133.3,297.5 L1128.3,287.5 L1125.8,277.6 M1113.4,295.0 L1123.4,285.1 M1153.2,319.8 L1155.7,331.0 M1145.7,339.7 L1165.6,341.0 M1178.0,349.6 L1178.5,352.1 M1163.1,329.8 L1175.5,329.8 L1183.0,337.2 L1195.4,333.5 L1210.3,337.2 L1222.7,344.7 L1230.2,352.1 L1240.1,365.8 L1230.2,364.6 L1220.3,357.1 L1212.8,357.1 L1205.4,362.1 L1195.4,359.6 L1188.0,352.1 L1175.5,342.2 L1168.1,337.2 L1163.1,329.8 M1227.7,349.6 L1240.1,347.2 L1247.6,342.2 L1240.1,337.2 M1252.6,347.2 L1267.5,357.1 L1282.4,369.5 M-0.5,642.6 L12.0,643.8 L24.5,642.1 L37.0,641.8 L49.5,645.1 L82.0,647.6 L109.5,647.1 L137.0,645.6 L109.5,642.6 L99.5,640.1 L99.5,635.1 L87.0,632.6 L107.0,632.6 L124.5,628.8 L119.5,626.3 L99.5,624.6 L84.5,622.6 L79.5,616.3 L99.5,617.6 L124.5,613.8 L129.5,610.1 L149.5,608.8 L174.5,606.3 L199.5,605.1 L224.5,603.8 L247.0,605.1 L254.5,607.6 L274.5,610.1 L297.0,608.8 L287.0,602.6 L292.0,597.6 L312.0,597.6 L321.5,602.6 M60.8,622.6 L77.0,625.1 M1297.3,499.9 L1303.6,494.8 L1312.4,489.8 L1319.9,482.3 L1325.0,478.5 L1330.2,476.0 L1330.2,486.0 L1322.4,492.3 L1316.2,498.6 L1308.6,503.6 L1301.1,502.4 L1297.3,499.9 M1319.9,455.8 L1328.7,460.9 L1330.2,473.4 L1325.0,476.0 M1298.5,382.3 L1303.6,390.4 M1288.5,403.0 L1301.1,411.8 M1253.3,346.4 L1267.1,355.2 L1282.2,369.0 M1171.5,574.1 L1180.3,571.6 L1186.6,575.3 L1219.3,574.1 L1221.8,579.1 L1249.5,582.9 L1272.1,587.9 L1284.7,591.7 L1316.2,592.9 L1309.9,600.5 L1291.0,608.0 L1287.2,614.3 L1299.8,619.4 L1279.7,621.9 L1273.4,628.2 L1284.7,633.2 L1303.6,638.2 L1330.2,640.7 M643.5,163.5 L668.7,164.2 L670.1,155.8 L658.9,146.0 L653.3,139.7 M643.5,187.9 L649.1,191.4 L647.7,197.7 L643.5,203.3 M649.1,191.4 L660.3,189.3 L671.4,182.3 L675.6,173.2 L685.4,166.2 L696.6,164.8 L707.8,161.4 L713.4,164.2 L721.8,171.1 L732.9,177.4 L741.3,180.2 L735.7,183.7 L730.1,179.5 M720.4,156.5 L727.3,158.6 L735.7,164.2 L745.5,169.7 L749.7,173.9 L744.1,179.5 L738.5,180.9 M705.0,166.9 L703.6,173.9 L706.4,182.3 L710.6,180.9 L710.6,171.1 L705.0,166.9 M720.4,185.8 L732.9,183.7 L731.5,190.0 L721.8,187.9 L720.4,185.8 M749.7,173.9 L753.9,180.9 L758.1,189.3 L762.3,194.9 L772.1,196.3 L765.1,192.1 L759.5,179.5 L766.5,173.9 L774.9,175.3 L773.5,182.3 L777.7,189.3 L790.2,192.1 L804.2,191.4 L809.8,190.0 L809.8,200.5 L804.2,210.3 M777.7,171.1 L781.8,158.6 L790.2,151.6 L797.2,153.0 L804.2,157.2 L818.2,151.6 L822.4,150.2 M804.2,157.2 L812.6,155.8 L823.5,160.7 M777.7,171.1 L790.2,172.5 L804.2,169.7 L823.5,174.6 M643.5,193.5 L653.3,193.5 L664.5,194.9 L678.4,190.7 L692.4,187.9 L710.6,187.9 L716.2,190.7 L713.4,199.1 L719.0,204.7 L730.1,206.1 L741.3,213.1 L746.9,214.5 L749.7,206.1 L763.7,207.5 L776.3,210.3 L790.2,210.3 L800.0,208.9 L804.2,210.3 M1179.8,121.9 L1188.5,126.3 L1196.1,124.1 L1202.6,128.5 L1201.5,133.9 L1199.3,144.8 L1191.7,153.5 L1179.8,163.3 L1172.2,167.6 L1168.9,165.4 L1160.2,170.9 L1160.2,174.1 L1152.6,178.5 L1151.5,180.6 L1158.0,187.2 L1160.2,193.7 L1155.8,198.0 L1148.2,198.0 L1147.2,191.5 L1148.2,187.2 L1142.8,182.8 L1142.8,178.5 L1137.4,178.5 L1130.8,180.6 L1128.7,174.1 L1114.5,182.8 L1121.1,188.3 L1133.0,188.3 L1130.8,192.6 L1121.1,195.9 L1124.3,202.4 L1130.8,208.9 L1129.8,215.4 M1205.8,124.1 L1209.1,123.0 L1212.4,129.6 L1216.7,143.7 L1210.2,145.9 L1206.9,139.3 L1205.8,124.1 M1199.3,165.4 L1205.8,161.1 L1218.9,161.1 L1221.1,165.4 L1212.4,169.8 L1203.7,168.7 L1199.3,165.4 M1202.6,169.8 L1202.6,178.5 L1199.3,185.0 L1188.5,188.3 L1179.8,193.7 L1168.9,195.9 L1159.1,202.4 L1163.5,211.1 L1168.9,204.6 L1181.9,202.4 L1190.6,198.0 L1199.3,195.9 L1203.7,189.3 L1205.8,180.6 L1202.6,169.8 M211.5,41.8 L227.0,37.1 L239.5,36.3 M247.2,35.6 L255.0,32.4 L264.3,34.0 L258.1,37.9 L248.8,37.1 M213.1,41.0 L227.0,43.3 L242.6,46.4 L258.1,46.4 L276.7,44.9 M211.5,48.0 L227.0,49.5 L250.3,49.5 L273.6,51.1 L282.9,52.6 M211.5,58.8 L223.9,54.2 L242.6,54.2 L258.1,54.2 L278.3,52.6 L282.9,58.8 L292.2,66.6 L304.7,69.7 L320.2,68.2 M211.5,65.8 L234.8,68.2 L250.3,72.8 L273.6,72.8 L292.2,72.8 L312.4,74.4 L320.2,72.8 M278.3,30.9 L289.1,30.9 L301.6,35.6 L298.5,37.1 L281.4,34.8 M289.1,41.8 L304.7,40.2 L320.2,43.3 L329.5,44.9 L351.3,44.9 L374.5,44.9 M304.7,32.4 L320.2,30.9 L328.0,35.6 L323.3,46.4 L312.4,48.0 M289.1,54.2 L298.5,52.6 L310.9,54.2 L320.2,58.8 L312.4,61.9 L298.5,60.4 L289.1,57.3 M310.9,26.2 L320.2,23.1 L335.7,20.0 L359.0,18.5 L366.8,26.2 L351.3,27.8 L328.0,27.8 L310.9,27.8 M331.1,20.0 L351.3,16.9 L366.8,15.4 L411.5,14.6 M335.7,37.1 L351.3,35.6 L366.8,38.7 M382.3,30.9 L397.8,27.8 L411.5,27.8 M374.5,38.7 L390.1,35.6 L411.5,30.9 M335.7,54.2 L351.3,52.6 L374.5,54.2 L390.1,57.3 L411.5,61.9 M338.8,61.9 L351.3,63.5 L366.8,65.1 L382.3,68.2 L397.8,72.8 L402.5,77.5 L397.8,82.1 M328.0,66.6 L335.7,69.7 L348.1,74.4 L354.4,69.7 M397.8,32.4 L405.6,37.1 L411.5,38.7 M320.2,107.6 L323.3,97.7 L335.7,88.3 L351.3,80.6 L363.7,75.9 L369.9,72.8 M346.6,88.3 L359.0,85.2 L366.8,89.9 L374.5,88.3 L382.3,85.2 L390.1,82.1 M379.2,94.6 L397.8,93.0 L411.5,94.6 M373.8,94.6 L375.3,95.3" fill="none" stroke="#000" stroke-width="4.4" stroke-linejoin="round" stroke-linecap="round"/></g>
</g>
<rect x="78.5" y="2102.4" width="1331.0" height="656.0" fill="none" stroke="#000" stroke-width="3.33"/>
<text x="744" y="2078.0" font-size="55.0" text-anchor="middle" textLength="1314.0" lengthAdjust="spacingAndGlyphs">Plasmasphere (h=1500.0 km), 2007-04-30 20:00 UT</text>
<rect x="78.50" y="2801.5" width="222.43" height="66.0" fill="#0000df"/>
<rect x="300.33" y="2801.5" width="222.43" height="66.0" fill="#0080ff"/>
<rect x="522.17" y="2801.5" width="222.43" height="66.0" fill="#36ffc1"/>
<rect x="744.00" y="2801.5" width="222.43" height="66.0" fill="#c1ff36"/>
<rect x="965.83" y="2801.5" width="222.43" height="66.0" fill="#ff9400"/>
<rect x="1187.67" y="2801.5" width="222.43" height="66.0" fill="#df0000"/>
<rect x="78.5" y="2801.5" width="1331.0" height="66.0" fill="none" stroke="#000" stroke-width="3.33"/>
<line x1="78.50" y1="2867.5" x2="78.50" y2="2882.1" stroke="#000" stroke-width="3.33"/>
<text x="78.50" y="2929.5" font-size="46.0" text-anchor="middle">0.0</text>
<line x1="300.33" y1="2867.5" x2="300.33" y2="2882.1" stroke="#000" stroke-width="3.33"/>
<text x="300.33" y="2929.5" font-size="46.0" text-anchor="middle">2.5</text>
<line x1="522.17" y1="2867.5" x2="522.17" y2="2882.1" stroke="#000" stroke-width="3.33"/>
<text x="522.17" y="2929.5" font-size="46.0" text-anchor="middle">5.0</text>
<line x1="744.00" y1="2867.5" x2="744.00" y2="2882.1" stroke="#000" stroke-width="3.33"/>
<text x="744.00" y="2929.5" font-size="46.0" text-anchor="middle">7.5</text>
<line x1="965.83" y1="2867.5" x2="965.83" y2="2882.1" stroke="#000" stroke-width="3.33"/>
<text x="965.83" y="2929.5" font-size="46.0" text-anchor="middle">10.0</text>
<line x1="1187.67" y1="2867.5" x2="1187.67" y2="2882.1" stroke="#000" stroke-width="3.33"/>
<text x="1187.67" y="2929.5" font-size="46.0" text-anchor="middle">12.5</text>
<line x1="1409.50" y1="2867.5" x2="1409.50" y2="2882.1" stroke="#000" stroke-width="3.33"/>
<text x="1409.50" y="2929.5" font-size="46.0" text-anchor="middle">15.0</text>
</svg></body></html>
